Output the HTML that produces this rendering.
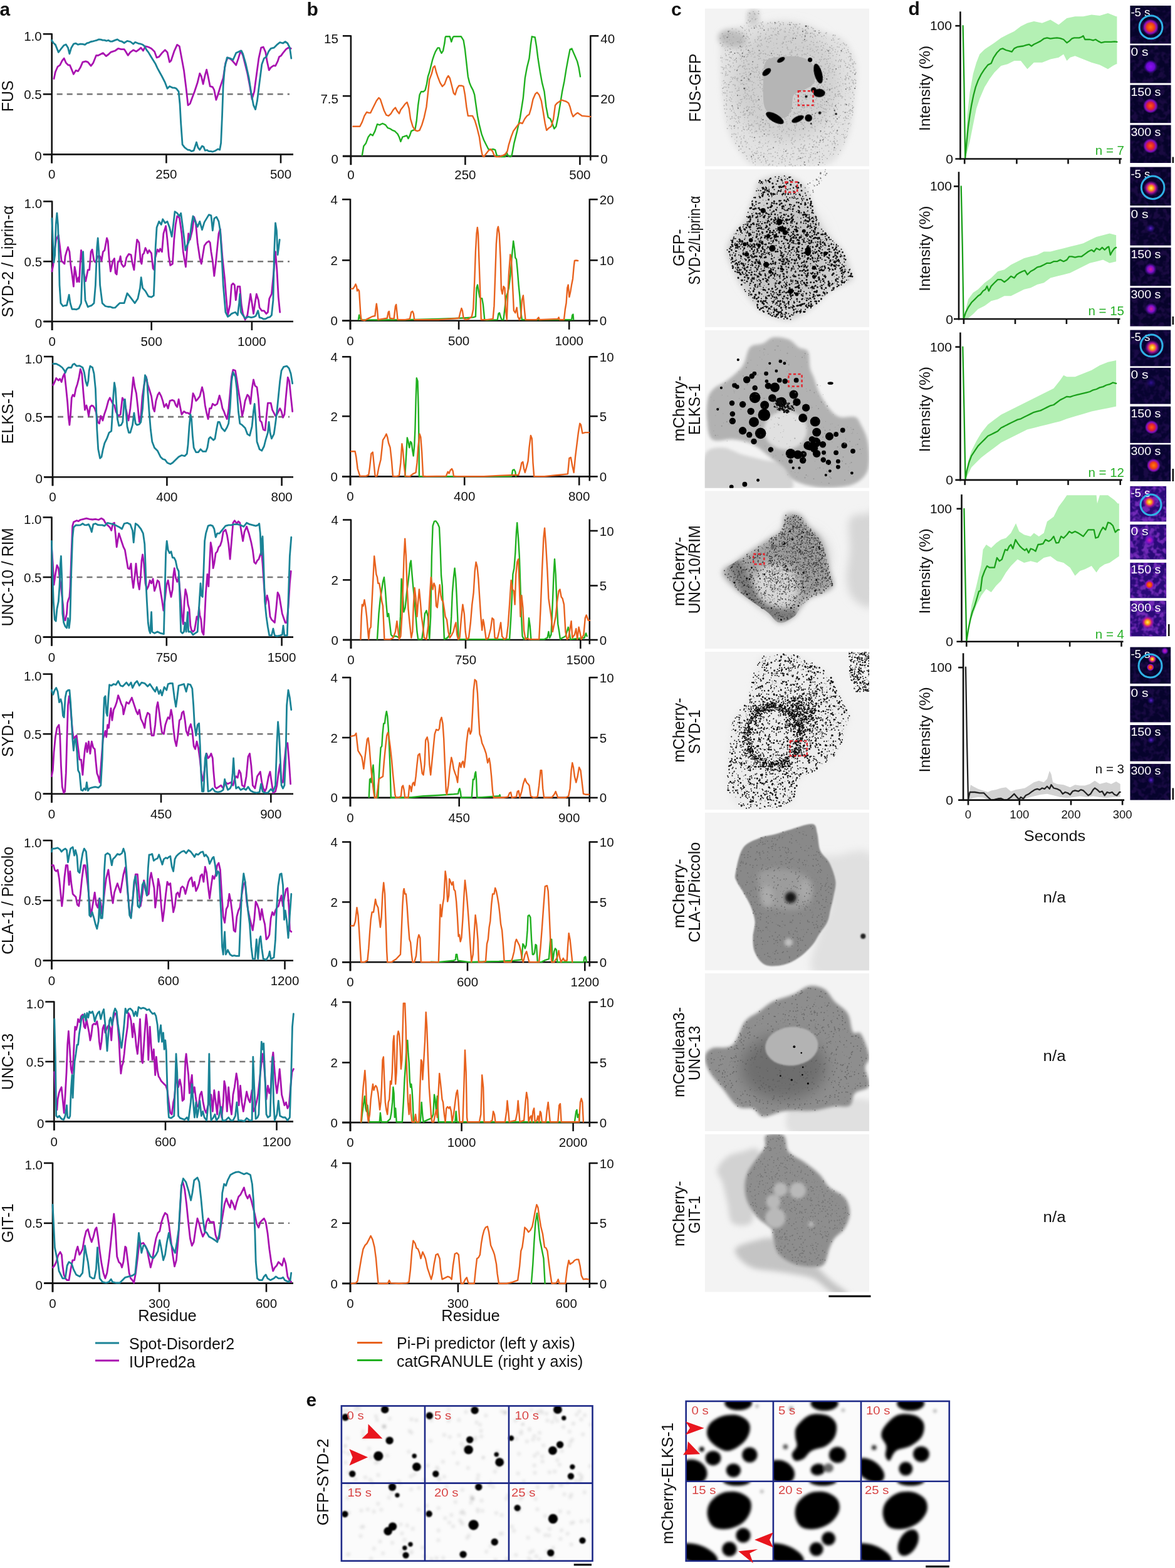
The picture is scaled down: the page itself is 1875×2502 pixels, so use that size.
<!DOCTYPE html>
<html><head><meta charset="utf-8"><title>Figure</title>
<style>html,body{margin:0;padding:0;background:#fff;overflow:hidden;} svg{display:block} text{font-family:'Liberation Sans',Arial,sans-serif}</style>
</head><body>
<svg width="1875" height="2502" viewBox="0 0 1875 2502" font-family="'Liberation Sans', Arial, sans-serif">
<rect width="1875" height="2502" fill="#fff"/>
<line x1="82.7" y1="53.3" x2="82.7" y2="260.4" stroke="#111" stroke-width="2.6"/>
<line x1="68.7" y1="54.3" x2="82.7" y2="54.3" stroke="#111" stroke-width="2.6"/>
<text x="66.7" y="64.8" font-size="20.5" text-anchor="end" fill="#111">1.0</text>
<line x1="68.7" y1="150.3" x2="82.7" y2="150.3" stroke="#111" stroke-width="2.6"/>
<text x="66.7" y="157.8" font-size="20.5" text-anchor="end" fill="#111">0.5</text>
<line x1="68.7" y1="246.4" x2="82.7" y2="246.4" stroke="#111" stroke-width="2.6"/>
<text x="66.7" y="256.4" font-size="20.5" text-anchor="end" fill="#111">0</text>
<line x1="69.7" y1="246.4" x2="468.0" y2="246.4" stroke="#111" stroke-width="2.6"/>
<line x1="82.7" y1="246.4" x2="82.7" y2="260.4" stroke="#111" stroke-width="2.6"/>
<text x="82.7" y="285.4" font-size="20.5" text-anchor="middle" fill="#111">0</text>
<line x1="265.4" y1="246.4" x2="265.4" y2="260.4" stroke="#111" stroke-width="2.6"/>
<text x="265.4" y="285.4" font-size="20.5" text-anchor="middle" fill="#111">250</text>
<line x1="448.0" y1="246.4" x2="448.0" y2="260.4" stroke="#111" stroke-width="2.6"/>
<text x="448.0" y="285.4" font-size="20.5" text-anchor="middle" fill="#111">500</text>
<line x1="90.7" y1="150.3" x2="462.0" y2="150.3" stroke="#777" stroke-width="2.6" stroke-dasharray="9,7"/>
<text x="21.0" y="153.3" font-size="25" text-anchor="middle" fill="#111" transform="rotate(-90 21.0 153.3)">FUS</text>
<polyline points="86.0,125.6 88.4,114.8 92.1,106.3 95.7,103.9 99.3,96.7 102.2,93.1 105.3,100.3 109.0,103.9 111.4,103.9 115.0,112.4 117.4,118.4 121.0,112.4 124.6,113.6 128.3,107.6 131.9,99.1 136.7,97.9 140.3,99.1 145.1,105.1 148.8,100.3 153.6,88.3 156.6,88.5 159.6,87.0 164.4,84.6 169.3,89.5 172.9,87.0 176.5,83.4 180.1,82.2 183.7,81.0 188.6,77.4 193.4,78.6 198.2,78.6 200.6,82.2 204.2,88.3 207.9,83.4 212.7,79.8 217.5,82.2 222.3,78.6 224.8,76.2 228.4,81.0 232.0,73.8 236.8,75.0 241.6,77.4 246.5,82.2 250.1,91.9 253.7,90.7 258.5,84.6 263.4,79.8 267.0,83.4 270.6,99.1 273.0,96.7 277.8,82.2 282.7,71.4 286.3,73.8 289.9,93.1 293.5,112.4 297.1,141.3 300.0,167.9 303.2,165.5 306.8,155.8 310.4,146.2 315.2,131.7 318.8,117.2 321.3,122.0 324.1,134.1 327.3,119.6 329.7,111.2 332.1,122.0 335.2,137.7 339.3,138.9 341.8,143.7 344.9,159.4 347.8,151.0 351.4,138.9 356.2,124.4 359.9,100.3 363.5,91.9 366.5,93.4 369.5,95.5 373.1,99.7 376.7,103.9 380.4,93.1 384.0,81.0 387.6,88.3 391.2,102.7 394.8,117.2 398.5,136.5 402.1,158.2 405.7,146.2 409.3,119.6 412.9,93.1 416.6,76.2 420.2,75.0 423.8,83.4 426.2,97.9 429.3,111.9 432.2,107.6 436.6,104.7 439.5,105.1 443.1,97.9 445.5,90.7 448.5,88.9 451.5,84.6 456.4,78.6 460.0,76.2 464.3,77.4" fill="none" stroke="#a912b0" stroke-width="2.8" stroke-linejoin="round" stroke-linecap="round"/>
<polyline points="82.4,64.1 85.4,68.7 88.4,71.4 93.3,83.4 96.9,78.6 101.7,72.6 105.3,70.9 108.5,76.2 110.9,85.8 113.8,76.2 117.4,70.2 121.0,69.2 124.6,71.2 128.3,70.2 131.9,70.3 135.5,71.4 138.7,68.8 141.9,68.1 145.1,66.5 148.4,65.9 151.6,65.0 154.8,64.1 157.8,62.8 160.8,63.2 163.8,64.2 166.9,64.1 169.9,65.3 172.9,64.2 175.9,66.0 178.9,66.1 183.7,64.1 187.4,62.9 191.0,65.3 194.6,66.2 198.2,68.5 203.0,65.3 207.9,66.5 212.7,70.2 215.7,67.3 218.7,68.5 221.7,69.7 224.8,70.2 227.8,71.3 230.8,73.8 233.8,79.6 236.8,83.4 240.4,89.5 244.1,95.5 247.7,101.2 251.3,108.8 254.9,115.5 258.5,122.0 263.4,131.7 267.0,141.3 270.6,137.7 275.4,140.1 278.4,140.1 281.4,141.3 285.1,146.2 287.0,165.5 288.7,196.8 291.1,230.6 294.7,235.4 299.5,239.0 302.6,239.3 305.6,241.4 309.2,240.2 311.6,233.0 313.5,227.0 315.9,235.4 318.8,239.0 322.5,233.0 324.9,234.2 327.3,240.2 330.3,239.5 333.3,241.4 336.3,241.3 339.3,242.2 344.2,240.2 347.8,237.8 350.7,239.0 352.6,228.2 354.5,184.8 356.2,136.5 358.6,107.6 362.3,91.9 367.1,93.1 371.9,95.5 376.7,84.6 381.6,82.2 385.2,81.0 387.6,85.8 392.4,102.7 397.2,124.4 400.9,148.6 404.5,167.9 407.6,174.6 410.5,160.6 414.1,131.7 417.8,102.7 421.4,93.1 425.0,90.7 428.6,82.2 432.2,77.4 437.1,76.2 441.9,71.4 446.7,67.7 451.5,69.0 455.2,66.5 458.8,69.0 462.4,76.2 464.8,93.1" fill="none" stroke="#1a8396" stroke-width="2.8" stroke-linejoin="round" stroke-linecap="round"/>
<line x1="83.1" y1="320.4" x2="83.1" y2="527.0" stroke="#111" stroke-width="2.6"/>
<line x1="69.1" y1="321.4" x2="83.1" y2="321.4" stroke="#111" stroke-width="2.6"/>
<text x="67.1" y="331.9" font-size="20.5" text-anchor="end" fill="#111">1.0</text>
<line x1="69.1" y1="417.2" x2="83.1" y2="417.2" stroke="#111" stroke-width="2.6"/>
<text x="67.1" y="424.7" font-size="20.5" text-anchor="end" fill="#111">0.5</text>
<line x1="69.1" y1="513.0" x2="83.1" y2="513.0" stroke="#111" stroke-width="2.6"/>
<text x="67.1" y="523.0" font-size="20.5" text-anchor="end" fill="#111">0</text>
<line x1="70.1" y1="513.0" x2="468.0" y2="513.0" stroke="#111" stroke-width="2.6"/>
<line x1="83.1" y1="513.0" x2="83.1" y2="527.0" stroke="#111" stroke-width="2.6"/>
<text x="83.1" y="552.0" font-size="20.5" text-anchor="middle" fill="#111">0</text>
<line x1="241.7" y1="513.0" x2="241.7" y2="527.0" stroke="#111" stroke-width="2.6"/>
<text x="241.7" y="552.0" font-size="20.5" text-anchor="middle" fill="#111">500</text>
<line x1="401.9" y1="513.0" x2="401.9" y2="527.0" stroke="#111" stroke-width="2.6"/>
<text x="401.9" y="552.0" font-size="20.5" text-anchor="middle" fill="#111">1000</text>
<line x1="91.1" y1="417.2" x2="462.0" y2="417.2" stroke="#777" stroke-width="2.6" stroke-dasharray="9,7"/>
<text x="21.0" y="417.2" font-size="25" text-anchor="middle" fill="#111" transform="rotate(-90 21.0 417.2)">SYD-2 / Liprin-α</text>
<polyline points="82.9,433.0 84.8,423.4 86.8,401.7 89.7,382.4 93.3,375.1 95.7,394.4 98.1,416.2 100.5,418.6 102.9,421.0 104.1,408.9 106.5,400.5 108.5,394.4 110.9,401.7 112.6,421.0 115.0,437.9 117.4,457.2 119.1,425.8 121.0,435.5 122.9,449.9 125.4,442.7 126.3,449.9 128.3,416.2 129.5,399.3 131.1,411.3 133.6,435.5 136.7,448.7 140.3,430.6 142.7,430.6 145.1,401.7 147.1,398.1 150.0,416.2 152.4,418.6 156.0,408.9 159.6,408.9 162.0,416.2 164.4,401.7 166.9,399.3 170.5,380.0 172.2,384.8 174.1,411.3 176.5,433.0 180.1,416.2 182.5,412.5 184.2,435.5 186.2,437.9 188.1,418.6 190.5,416.2 192.2,408.9 193.9,421.0 197.0,425.8 199.4,423.4 201.8,411.3 205.5,405.3 209.1,406.5 211.5,421.0 213.9,430.6 216.3,404.1 218.7,382.4 221.9,387.2 224.3,416.2 226.0,421.0 227.6,406.5 229.6,404.1 232.0,395.6 234.4,400.5 235.6,404.1 238.0,399.3 241.6,404.1 244.1,428.2 246.0,430.6 247.7,411.3 251.3,398.1 253.7,401.7 255.6,396.9 258.5,401.7 260.9,372.7 264.6,360.7 267.0,382.4 269.4,408.9 271.8,423.4 275.4,421.0 277.8,382.4 280.2,358.3 282.7,345.0 286.3,347.4 289.9,372.7 292.3,401.7 294.7,416.2 296.4,425.8 298.3,401.7 300.7,372.7 303.2,382.4 306.8,367.9 309.7,346.2 312.1,353.4 315.2,387.2 318.8,411.3 321.3,421.0 323.7,406.5 326.1,392.0 329.7,387.2 333.3,384.8 335.2,387.2 336.9,401.7 339.3,416.2 341.8,440.3 344.2,421.0 346.6,396.9 349.0,372.7 351.4,365.5 355.0,411.3 358.6,445.1 361.1,476.5 363.5,503.0 367.1,486.1 369.5,454.8 371.9,452.3 374.3,454.8 376.3,478.9 379.2,457.2 382.8,457.2 385.2,486.1 387.6,500.6 391.2,510.2 394.8,503.0 397.2,486.1 399.7,469.2 402.1,483.7 404.5,500.6 406.9,483.7 409.3,469.2 412.4,478.9 414.1,490.9 417.8,495.8 421.4,495.8 425.0,500.6 427.4,498.2 429.8,476.5 433.4,469.2 437.1,430.6 439.5,401.7 441.9,430.6 444.3,474.1 446.7,498.2" fill="none" stroke="#a912b0" stroke-width="2.8" stroke-linejoin="round" stroke-linecap="round"/>
<polyline points="82.9,348.6 84.3,382.4 86.0,418.6 87.7,406.5 89.2,358.3 90.9,340.2 92.5,358.3 94.0,406.5 95.0,454.8 96.9,483.7 100.5,488.5 103.5,487.5 106.5,487.3 110.2,470.4 112.1,483.7 115.0,493.4 118.6,493.4 122.2,493.8 125.8,492.1 129.5,483.7 131.1,435.5 132.6,401.7 134.0,435.5 136.0,478.9 140.3,489.7 143.3,488.3 146.3,487.3 150.0,483.7 152.4,454.8 154.8,394.4 156.2,380.0 157.7,401.7 159.6,454.8 163.2,483.7 168.1,488.5 172.3,489.5 176.5,489.7 180.1,491.1 183.7,490.9 187.4,487.3 191.0,483.7 194.6,483.7 198.2,483.7 203.0,468.0 207.9,474.1 211.5,478.9 215.1,483.7 219.9,476.5 223.5,459.6 225.2,442.7 227.6,459.6 232.0,464.4 236.8,472.8 241.6,474.1 245.3,471.6 246.5,442.7 248.2,394.4 250.1,363.1 253.7,353.4 257.3,358.3 259.7,349.8 263.4,355.8 267.0,353.4 270.6,363.1 274.2,377.6 276.6,358.3 279.0,337.7 282.7,340.2 286.3,345.0 288.7,340.2 291.1,358.3 293.5,377.6 295.9,399.3 298.3,392.0 300.7,387.2 303.2,377.6 305.6,358.3 308.0,345.0 311.6,353.4 315.2,361.9 318.8,353.4 322.5,366.7 326.1,354.6 329.7,348.6 333.3,342.6 336.9,343.8 339.3,367.9 341.8,348.6 345.4,346.2 349.0,353.4 351.4,367.9 353.8,406.5 356.2,454.8 359.9,498.2 363.5,505.4 366.5,503.5 369.5,500.6 372.5,499.3 375.5,498.2 379.2,503.0 381.6,483.7 382.8,469.2 384.5,498.2 387.6,503.0 391.2,507.8 396.0,505.4 400.9,506.6 404.5,505.9 408.1,504.2 411.7,495.8 414.1,506.6 417.2,507.3 420.2,509.0 423.8,508.9 427.4,506.6 430.4,506.0 433.4,503.0 435.9,478.9 437.5,406.5 439.5,355.8 441.4,367.9 443.1,406.5 444.8,394.4 446.2,382.4" fill="none" stroke="#1a8396" stroke-width="2.8" stroke-linejoin="round" stroke-linecap="round"/>
<line x1="84.0" y1="568.0" x2="84.0" y2="775.2" stroke="#111" stroke-width="2.6"/>
<line x1="70.0" y1="569.0" x2="84.0" y2="569.0" stroke="#111" stroke-width="2.6"/>
<text x="68.0" y="579.5" font-size="20.5" text-anchor="end" fill="#111">1.0</text>
<line x1="70.0" y1="665.1" x2="84.0" y2="665.1" stroke="#111" stroke-width="2.6"/>
<text x="68.0" y="672.6" font-size="20.5" text-anchor="end" fill="#111">0.5</text>
<line x1="70.0" y1="761.2" x2="84.0" y2="761.2" stroke="#111" stroke-width="2.6"/>
<text x="68.0" y="771.2" font-size="20.5" text-anchor="end" fill="#111">0</text>
<line x1="71.0" y1="761.2" x2="468.0" y2="761.2" stroke="#111" stroke-width="2.6"/>
<line x1="84.0" y1="761.2" x2="84.0" y2="775.2" stroke="#111" stroke-width="2.6"/>
<text x="84.0" y="800.2" font-size="20.5" text-anchor="middle" fill="#111">0</text>
<line x1="266.4" y1="761.2" x2="266.4" y2="775.2" stroke="#111" stroke-width="2.6"/>
<text x="266.4" y="800.2" font-size="20.5" text-anchor="middle" fill="#111">400</text>
<line x1="449.6" y1="761.2" x2="449.6" y2="775.2" stroke="#111" stroke-width="2.6"/>
<text x="449.6" y="800.2" font-size="20.5" text-anchor="middle" fill="#111">800</text>
<line x1="92.0" y1="665.1" x2="462.0" y2="665.1" stroke="#777" stroke-width="2.6" stroke-dasharray="9,7"/>
<text x="21.0" y="665.1" font-size="25" text-anchor="middle" fill="#111" transform="rotate(-90 21.0 665.1)">ELKS-1</text>
<polyline points="84.8,614.3 87.2,609.5 89.7,603.4 93.3,607.0 95.7,604.6 98.1,609.5 100.5,601.0 102.9,596.2 105.3,617.9 107.7,642.0 109.4,666.2 110.9,678.2 112.6,661.3 114.3,634.8 116.2,630.0 118.6,632.4 121.0,620.3 123.4,613.1 125.8,603.4 128.3,589.0 130.7,596.2 133.1,627.6 135.5,654.1 137.9,646.9 139.8,654.1 141.5,663.7 143.9,649.3 146.3,646.9 148.8,648.1 151.2,651.7 153.6,658.9 156.0,673.4 158.4,675.8 160.8,663.7 164.0,671.0 166.4,661.3 169.7,651.7 172.9,639.6 175.3,634.8 177.7,639.6 180.1,644.4 182.5,646.9 184.9,656.5 188.6,663.7 192.2,661.3 195.3,634.8 198.2,639.6 201.8,656.5 205.0,671.0 207.9,651.7 210.3,627.6 212.7,602.2 215.1,617.9 217.5,627.6 219.9,649.3 222.3,673.4 224.8,663.7 227.2,632.4 230.1,613.1 233.2,601.0 235.6,613.1 238.7,622.7 241.6,632.4 244.5,651.7 246.5,656.5 248.9,639.6 251.8,630.0 254.2,626.3 257.3,632.4 259.7,639.6 262.1,649.3 265.3,644.4 268.2,651.7 271.1,639.6 274.9,638.4 277.8,639.6 280.7,646.9 282.7,649.3 285.1,637.2 287.5,649.3 289.9,661.3 293.5,656.5 297.1,658.9 300.0,658.9 303.2,661.3 305.6,649.3 308.0,627.6 310.4,632.4 312.8,639.6 315.2,637.2 318.8,632.4 322.5,617.9 324.9,627.6 327.3,646.9 329.7,658.9 332.1,668.6 334.5,651.7 336.9,651.7 339.3,644.4 343.0,646.9 346.6,644.4 350.2,631.2 352.6,639.6 355.0,651.7 357.4,656.5 359.9,663.7 362.3,668.6 364.7,654.1 367.1,627.6 369.5,601.0 371.9,590.2 375.5,591.4 377.9,605.8 380.4,622.7 384.0,644.4 386.4,663.7 388.8,654.1 391.2,639.6 394.8,630.0 397.2,632.4 399.7,644.4 402.1,620.3 404.5,605.8 406.9,615.5 410.0,617.9 412.4,637.2 414.9,671.0 417.3,673.4 420.2,685.5 423.1,686.7 425.5,661.3 427.4,643.2 429.8,643.2 432.2,643.2 434.6,654.1 437.1,658.9 439.5,663.7 441.9,661.3 444.3,656.5 446.7,651.7 449.1,656.5 451.5,666.2 453.9,661.3 456.4,632.4 459.3,602.2 461.7,608.3 464.1,632.4 466.7,656.5" fill="none" stroke="#a912b0" stroke-width="2.8" stroke-linejoin="round" stroke-linecap="round"/>
<polyline points="84.8,580.5 89.7,580.5 94.5,582.9 99.3,586.5 102.9,591.4 104.1,595.0 106.5,589.0 109.0,586.5 113.8,586.5 116.2,581.7 118.6,580.5 122.2,584.1 127.0,583.6 131.9,586.5 134.3,593.8 136.7,608.3 139.1,615.5 140.8,608.3 142.2,591.4 143.9,584.1 147.6,586.5 150.0,596.2 152.4,620.3 153.6,651.7 154.8,685.5 156.7,716.8 159.6,731.3 162.0,728.9 164.4,716.8 166.9,707.2 170.5,699.9 174.1,690.3 177.7,687.9 178.9,668.6 180.8,632.4 182.5,610.7 184.2,620.3 185.7,644.4 187.4,668.6 189.8,679.4 193.4,678.2 195.8,673.4 198.2,639.6 199.4,637.2 200.6,651.7 203.0,680.6 205.5,690.3 207.9,690.3 211.5,678.2 213.9,658.9 216.3,675.8 218.7,678.2 222.3,677.0 224.8,673.4 227.6,651.7 229.6,620.3 231.5,598.6 234.4,605.8 236.3,632.4 238.0,656.5 240.4,685.5 242.8,704.8 246.5,714.4 251.3,719.2 256.1,728.9 259.7,732.5 263.4,733.7 267.0,738.5 271.8,740.5 275.4,738.5 280.2,733.7 285.1,728.9 289.9,726.5 294.7,727.7 298.3,724.1 300.0,709.6 302.0,680.6 303.9,661.3 305.6,668.6 307.3,695.1 309.2,714.4 312.8,721.6 316.4,721.6 320.0,716.8 323.7,720.4 328.5,720.4 330.9,714.4 333.3,699.9 335.7,697.5 340.6,702.3 343.0,699.9 345.4,685.5 347.8,673.4 350.2,673.4 353.8,683.0 358.6,687.9 362.3,681.8 364.7,675.8 367.1,651.7 369.5,608.3 371.9,593.8 375.5,601.0 377.9,620.3 380.4,656.5 382.8,675.8 386.4,678.2 391.2,683.0 394.8,692.7 398.5,695.1 402.1,680.6 404.5,656.5 406.2,644.4 408.1,668.6 410.0,704.8 414.1,716.8 417.8,719.2 421.4,712.0 423.8,702.3 427.4,690.3 429.1,673.4 431.0,690.3 433.4,699.9 437.1,692.7 439.5,675.8 441.9,656.5 444.3,632.4 446.7,608.3 449.1,591.4 452.7,585.3 457.6,584.1 461.2,587.7 464.1,596.2 466.7,611.9" fill="none" stroke="#1a8396" stroke-width="2.8" stroke-linejoin="round" stroke-linecap="round"/>
<line x1="82.5" y1="824.5" x2="82.5" y2="1030.6" stroke="#111" stroke-width="2.6"/>
<line x1="68.5" y1="825.5" x2="82.5" y2="825.5" stroke="#111" stroke-width="2.6"/>
<text x="66.5" y="836.0" font-size="20.5" text-anchor="end" fill="#111">1.0</text>
<line x1="68.5" y1="921.0" x2="82.5" y2="921.0" stroke="#111" stroke-width="2.6"/>
<text x="66.5" y="928.5" font-size="20.5" text-anchor="end" fill="#111">0.5</text>
<line x1="68.5" y1="1016.6" x2="82.5" y2="1016.6" stroke="#111" stroke-width="2.6"/>
<text x="66.5" y="1026.6" font-size="20.5" text-anchor="end" fill="#111">0</text>
<line x1="69.5" y1="1016.6" x2="468.0" y2="1016.6" stroke="#111" stroke-width="2.6"/>
<line x1="82.5" y1="1016.6" x2="82.5" y2="1030.6" stroke="#111" stroke-width="2.6"/>
<text x="82.5" y="1055.6" font-size="20.5" text-anchor="middle" fill="#111">0</text>
<line x1="265.8" y1="1016.6" x2="265.8" y2="1030.6" stroke="#111" stroke-width="2.6"/>
<text x="265.8" y="1055.6" font-size="20.5" text-anchor="middle" fill="#111">750</text>
<line x1="449.6" y1="1016.6" x2="449.6" y2="1030.6" stroke="#111" stroke-width="2.6"/>
<text x="449.6" y="1055.6" font-size="20.5" text-anchor="middle" fill="#111">1500</text>
<line x1="90.5" y1="921.0" x2="462.0" y2="921.0" stroke="#777" stroke-width="2.6" stroke-dasharray="9,7"/>
<text x="21.0" y="921.0" font-size="25" text-anchor="middle" fill="#111" transform="rotate(-90 21.0 921.0)">UNC-10 / RIM</text>
<polyline points="82.4,872.9 84.3,899.4 86.0,933.2 88.4,916.3 90.9,901.9 93.3,906.7 95.0,921.2 96.9,930.8 98.8,950.1 100.5,964.6 102.2,988.7 104.1,989.9 106.5,979.1 107.7,962.2 109.0,957.3 110.9,952.5 112.1,935.6 113.8,887.4 115.7,839.1 117.4,833.1 122.2,830.7 125.2,831.7 128.3,829.5 133.1,828.3 137.9,827.1 142.7,828.3 147.6,829.0 152.4,828.3 157.2,829.5 162.0,827.1 165.6,829.5 168.1,834.3 171.7,837.9 175.3,841.5 177.7,846.4 180.1,835.5 182.5,834.3 184.2,851.2 186.2,872.9 188.1,860.8 189.8,851.2 192.2,858.4 194.6,865.7 197.0,872.9 199.4,877.7 201.8,892.2 204.2,906.7 206.7,907.9 209.1,899.4 210.8,923.6 212.7,938.0 215.1,918.7 217.0,899.4 218.7,916.3 220.4,930.8 222.3,940.5 224.3,921.2 226.0,894.6 227.6,885.0 229.6,899.4 232.0,930.8 234.4,940.5 236.8,935.6 239.2,926.0 241.6,930.8 244.1,923.6 246.5,942.9 248.9,935.6 251.3,926.0 253.7,928.4 256.1,942.9 258.5,957.3 260.9,974.2 263.4,954.9 265.8,933.2 268.2,926.0 270.6,940.5 273.0,952.5 275.4,940.5 276.6,918.7 278.3,906.7 280.2,921.2 282.7,928.4 285.1,921.2 287.0,940.5 288.7,959.8 290.4,983.9 292.3,995.9 294.2,959.8 295.9,940.5 298.3,950.1 300.0,964.6 302.0,971.8 303.9,998.4 305.6,1005.6 308.0,1008.0 310.4,1005.6 312.1,995.9 314.0,983.9 315.9,988.7 317.6,969.4 318.8,981.5 320.8,988.7 322.5,1008.0 324.9,1012.8 326.6,983.9 328.5,945.3 330.9,916.3 332.8,935.6 334.5,899.4 336.2,865.7 338.1,875.3 340.1,906.7 341.8,899.4 344.2,882.6 346.6,880.1 349.0,872.9 351.4,870.5 353.8,863.3 356.2,848.8 359.9,845.2 362.3,853.6 364.7,868.1 367.1,892.2 369.5,863.3 371.9,834.3 374.3,830.7 377.9,835.5 380.4,831.9 382.8,834.3 385.2,848.8 387.6,863.3 390.0,848.8 393.6,840.3 397.2,851.2 400.9,865.7 403.3,877.7 405.7,897.0 408.1,899.4 410.5,894.6 412.9,892.2 415.3,885.0 417.3,880.1 419.0,899.4 421.4,935.6 423.8,964.6 426.2,950.1 428.6,959.8 431.0,983.9 433.4,988.7 435.9,991.1 438.3,993.5 440.7,971.8 443.1,945.3 445.5,950.1 447.9,964.6 450.3,979.1 452.7,986.3 455.2,993.5 457.6,993.5 460.0,969.4 462.4,930.8 464.3,911.5" fill="none" stroke="#a912b0" stroke-width="2.8" stroke-linejoin="round" stroke-linecap="round"/>
<polyline points="82.4,863.3 83.6,911.5 85.3,959.8 87.2,988.7 89.2,991.1 90.9,971.8 93.3,959.8 95.0,935.6 96.4,899.4 97.4,887.4 98.8,923.6 99.8,979.1 101.7,993.5 104.1,999.6 106.5,1002.0 108.5,986.3 110.2,1002.0 111.8,988.7 113.8,911.5 115.7,858.4 117.4,841.5 121.0,837.9 124.6,838.1 128.3,837.9 131.9,835.5 134.9,837.6 137.9,837.9 141.5,836.7 143.9,841.5 146.3,848.8 148.8,836.7 152.4,835.5 156.0,837.5 159.6,837.9 163.2,837.9 166.9,839.1 171.7,834.3 176.5,835.5 181.3,836.7 186.2,839.1 191.0,841.5 194.6,844.0 198.2,835.5 203.0,834.3 207.9,836.7 211.5,846.4 213.2,865.7 214.6,851.2 216.3,835.5 219.9,837.9 224.8,844.0 228.4,851.2 230.8,868.1 232.0,899.4 233.2,935.6 234.4,959.8 236.3,993.5 238.0,1005.6 239.7,1010.4 241.6,976.6 242.8,1008.0 246.5,1010.4 251.3,1008.0 256.1,1010.4 261.4,1011.6 262.9,950.1 264.6,882.6 266.2,863.3 268.2,877.7 270.6,882.6 273.0,880.1 275.4,889.8 277.8,889.8 280.2,894.6 282.7,906.7 285.1,911.5 286.3,935.6 287.5,969.4 288.7,1008.0 291.1,1010.4 293.5,1008.0 295.2,993.5 297.1,1008.0 299.5,976.6 300.7,1008.0 304.4,1008.0 308.0,1012.8 311.6,1010.4 315.2,1008.0 317.6,969.4 320.0,930.8 321.3,950.1 323.2,952.5 324.9,911.5 326.6,863.3 328.5,851.2 332.1,839.1 335.7,837.9 339.3,839.1 341.8,844.0 344.2,857.2 346.6,851.2 350.2,851.2 355.0,845.2 359.9,839.1 364.7,837.9 369.5,837.9 373.1,836.7 376.1,836.6 379.2,836.7 384.0,837.9 388.8,840.3 393.6,834.3 398.5,836.7 403.3,837.9 408.1,839.1 411.7,837.9 413.7,835.5 415.3,851.2 416.6,885.0 417.8,863.3 419.0,856.0 420.2,887.4 422.6,959.8 425.0,983.9 427.4,1000.8 429.8,1014.0 433.4,1014.0 435.9,1003.2 438.3,1014.0 441.9,1015.2 446.7,1014.0 450.3,1012.8 452.0,998.4 453.9,1014.0 458.3,1014.0 460.0,959.8 462.4,887.4 464.8,857.2" fill="none" stroke="#1a8396" stroke-width="2.8" stroke-linejoin="round" stroke-linecap="round"/>
<line x1="82.5" y1="1074.6" x2="82.5" y2="1280.7" stroke="#111" stroke-width="2.6"/>
<line x1="68.5" y1="1075.6" x2="82.5" y2="1075.6" stroke="#111" stroke-width="2.6"/>
<text x="66.5" y="1086.1" font-size="20.5" text-anchor="end" fill="#111">1.0</text>
<line x1="68.5" y1="1171.2" x2="82.5" y2="1171.2" stroke="#111" stroke-width="2.6"/>
<text x="66.5" y="1178.7" font-size="20.5" text-anchor="end" fill="#111">0.5</text>
<line x1="68.5" y1="1266.7" x2="82.5" y2="1266.7" stroke="#111" stroke-width="2.6"/>
<text x="66.5" y="1276.7" font-size="20.5" text-anchor="end" fill="#111">0</text>
<line x1="69.5" y1="1266.7" x2="468.0" y2="1266.7" stroke="#111" stroke-width="2.6"/>
<line x1="82.5" y1="1266.7" x2="82.5" y2="1280.7" stroke="#111" stroke-width="2.6"/>
<text x="82.5" y="1305.7" font-size="20.5" text-anchor="middle" fill="#111">0</text>
<line x1="257.0" y1="1266.7" x2="257.0" y2="1280.7" stroke="#111" stroke-width="2.6"/>
<text x="257.0" y="1305.7" font-size="20.5" text-anchor="middle" fill="#111">450</text>
<line x1="432.3" y1="1266.7" x2="432.3" y2="1280.7" stroke="#111" stroke-width="2.6"/>
<text x="432.3" y="1305.7" font-size="20.5" text-anchor="middle" fill="#111">900</text>
<line x1="90.5" y1="1171.2" x2="462.0" y2="1171.2" stroke="#777" stroke-width="2.6" stroke-dasharray="9,7"/>
<text x="21.0" y="1171.2" font-size="25" text-anchor="middle" fill="#111" transform="rotate(-90 21.0 1171.2)">SYD-1</text>
<polyline points="82.4,1238.7 84.3,1229.1 86.0,1200.1 88.4,1176.0 90.9,1161.5 94.0,1156.7 95.7,1173.6 97.4,1221.8 99.3,1255.6 101.7,1265.2 103.6,1262.8 105.3,1233.9 107.0,1173.6 108.5,1125.3 110.2,1110.8 112.1,1122.9 113.8,1144.6 115.7,1166.3 117.4,1178.4 119.8,1176.0 122.2,1173.6 124.6,1192.9 127.0,1212.2 129.5,1212.2 131.9,1236.3 133.6,1214.6 135.5,1195.3 137.4,1185.6 139.1,1200.1 141.5,1183.2 143.9,1202.5 146.3,1183.2 148.8,1192.9 151.2,1195.3 152.9,1214.6 154.8,1233.9 156.7,1238.7 159.1,1248.4 162.0,1209.8 164.4,1178.4 166.4,1173.6 168.1,1166.3 169.7,1176.0 171.7,1156.7 173.6,1161.5 175.3,1142.2 177.0,1130.1 178.9,1149.4 181.3,1132.6 183.7,1127.7 186.2,1120.5 188.6,1109.6 191.0,1115.7 193.4,1122.9 195.8,1127.7 197.0,1139.8 199.4,1130.1 201.8,1120.5 205.5,1122.9 207.9,1118.1 210.3,1113.3 212.7,1120.5 215.1,1127.7 217.5,1135.0 219.9,1139.8 222.3,1132.6 224.8,1147.0 228.4,1154.3 230.8,1161.5 232.5,1147.0 235.6,1137.4 238.7,1139.8 240.4,1161.5 242.1,1173.6 245.3,1173.6 247.7,1156.7 250.1,1127.7 251.8,1120.5 254.2,1137.4 256.6,1156.7 258.5,1168.7 261.4,1171.2 263.8,1156.7 266.2,1149.4 268.2,1144.6 270.6,1147.0 273.0,1132.6 274.9,1142.2 276.6,1161.5 279.0,1180.8 281.4,1190.5 283.9,1173.6 286.3,1149.4 288.7,1147.0 290.4,1137.4 292.8,1135.0 295.2,1149.4 297.1,1166.3 300.0,1173.6 302.0,1161.5 304.4,1155.5 306.8,1166.3 309.2,1190.5 311.6,1195.3 314.0,1183.2 316.4,1192.9 318.8,1209.8 321.3,1233.9 323.2,1245.9 324.9,1238.7 327.3,1221.8 329.7,1202.5 332.1,1209.8 334.5,1207.3 336.9,1202.5 339.3,1209.8 340.6,1229.1 343.0,1255.6 345.4,1258.0 349.0,1255.6 352.6,1253.2 356.2,1258.0 359.9,1248.4 363.5,1250.8 368.3,1248.4 371.9,1253.2 374.3,1243.5 376.7,1238.7 379.2,1241.1 381.6,1229.1 384.0,1233.9 386.4,1253.2 390.0,1255.6 393.1,1238.7 396.0,1207.3 398.5,1202.5 400.9,1221.8 403.3,1253.2 406.9,1258.0 410.5,1238.7 415.3,1231.5 417.8,1248.4 420.2,1258.0 422.6,1262.8 425.0,1258.0 428.6,1238.7 431.0,1231.5 433.4,1248.4 435.9,1265.2 439.5,1262.8 441.9,1253.2 444.3,1233.9 446.7,1219.4 449.1,1248.4 451.5,1248.4 453.9,1214.6 456.4,1190.5 458.8,1185.6 461.2,1214.6 463.6,1250.8" fill="none" stroke="#a912b0" stroke-width="2.8" stroke-linejoin="round" stroke-linecap="round"/>
<polyline points="82.4,1101.2 84.8,1108.4 87.2,1101.2 89.7,1097.6 92.1,1103.6 94.5,1120.5 96.9,1115.7 98.8,1122.9 100.5,1142.2 102.2,1144.6 104.1,1113.3 106.1,1103.6 109.0,1101.2 110.9,1101.2 112.6,1120.5 114.3,1149.4 115.7,1178.4 117.4,1197.7 119.1,1180.8 121.0,1178.4 122.9,1200.1 124.6,1229.1 127.0,1233.9 128.3,1248.4 129.5,1260.4 131.9,1261.6 134.3,1258.0 136.7,1260.4 138.4,1248.4 140.3,1261.6 142.7,1258.0 146.3,1256.8 149.4,1256.0 152.4,1255.6 157.2,1256.8 160.8,1253.2 163.2,1209.8 164.9,1149.4 166.4,1113.3 168.1,1110.8 169.7,1137.4 171.2,1142.2 172.9,1113.3 174.6,1092.7 177.7,1094.0 181.3,1091.5 184.9,1092.7 188.6,1086.7 192.2,1094.0 195.8,1095.2 199.4,1091.5 201.8,1089.1 205.5,1094.0 209.1,1089.1 211.5,1097.6 215.1,1090.3 218.7,1086.7 222.3,1094.0 226.0,1089.1 230.8,1090.3 235.6,1095.2 239.2,1091.5 244.1,1098.8 247.7,1103.6 250.1,1096.4 253.7,1107.2 256.1,1101.2 258.5,1109.6 262.1,1096.4 265.8,1101.2 268.2,1091.5 271.8,1090.3 275.4,1090.3 278.3,1113.3 280.7,1127.7 282.7,1113.3 285.1,1094.0 289.9,1092.7 293.5,1091.5 297.1,1103.6 300.0,1091.5 303.9,1092.7 306.8,1098.8 308.7,1125.3 310.4,1156.7 312.8,1173.6 315.2,1156.7 317.6,1154.3 319.3,1190.5 320.8,1233.9 322.5,1262.8 324.9,1262.8 327.3,1209.8 329.0,1202.5 330.4,1233.9 332.1,1262.8 335.7,1261.6 339.3,1258.0 343.0,1262.8 347.8,1264.0 352.6,1262.8 356.2,1260.4 358.6,1243.5 361.1,1253.2 363.5,1260.4 367.1,1258.0 369.5,1253.2 371.2,1233.9 372.6,1209.8 374.3,1238.7 376.7,1258.0 380.4,1255.6 384.0,1260.4 388.8,1258.0 392.4,1260.4 396.0,1255.6 399.7,1261.6 404.5,1264.0 409.3,1265.2 414.1,1264.0 416.6,1250.8 419.0,1262.8 422.6,1265.2 427.4,1265.2 432.2,1259.2 435.9,1262.8 439.5,1253.2 441.9,1185.6 443.6,1151.9 445.5,1173.6 447.2,1209.8 449.1,1253.2 451.5,1258.0 453.9,1253.2 455.9,1209.8 457.6,1125.3 460.0,1101.2 462.4,1113.3 464.8,1132.6" fill="none" stroke="#1a8396" stroke-width="2.8" stroke-linejoin="round" stroke-linecap="round"/>
<line x1="82.5" y1="1340.1" x2="82.5" y2="1546.8" stroke="#111" stroke-width="2.6"/>
<line x1="68.5" y1="1341.1" x2="82.5" y2="1341.1" stroke="#111" stroke-width="2.6"/>
<text x="66.5" y="1351.6" font-size="20.5" text-anchor="end" fill="#111">1.0</text>
<line x1="68.5" y1="1436.9" x2="82.5" y2="1436.9" stroke="#111" stroke-width="2.6"/>
<text x="66.5" y="1444.4" font-size="20.5" text-anchor="end" fill="#111">0.5</text>
<line x1="68.5" y1="1532.8" x2="82.5" y2="1532.8" stroke="#111" stroke-width="2.6"/>
<text x="66.5" y="1542.8" font-size="20.5" text-anchor="end" fill="#111">0</text>
<line x1="69.5" y1="1532.8" x2="468.0" y2="1532.8" stroke="#111" stroke-width="2.6"/>
<line x1="82.5" y1="1532.8" x2="82.5" y2="1546.8" stroke="#111" stroke-width="2.6"/>
<text x="82.5" y="1571.8" font-size="20.5" text-anchor="middle" fill="#111">0</text>
<line x1="268.7" y1="1532.8" x2="268.7" y2="1546.8" stroke="#111" stroke-width="2.6"/>
<text x="268.7" y="1571.8" font-size="20.5" text-anchor="middle" fill="#111">600</text>
<line x1="454.5" y1="1532.8" x2="454.5" y2="1546.8" stroke="#111" stroke-width="2.6"/>
<text x="454.5" y="1571.8" font-size="20.5" text-anchor="middle" fill="#111">1200</text>
<line x1="90.5" y1="1436.9" x2="462.0" y2="1436.9" stroke="#777" stroke-width="2.6" stroke-dasharray="9,7"/>
<text x="21.0" y="1436.9" font-size="25" text-anchor="middle" fill="#111" transform="rotate(-90 21.0 1436.9)">CLA-1 / Piccolo</text>
<polyline points="82.9,1380.7 85.3,1380.7 87.2,1387.9 89.7,1390.3 92.1,1387.9 94.5,1402.4 96.9,1426.5 98.8,1445.8 100.5,1431.3 102.9,1400.0 105.3,1380.7 107.7,1380.7 110.2,1412.0 111.8,1390.3 113.8,1409.6 116.2,1426.5 118.6,1428.9 121.0,1431.3 123.4,1443.4 125.8,1445.8 128.3,1426.5 130.7,1402.4 133.6,1380.7 136.0,1380.7 137.9,1395.1 140.3,1414.4 142.7,1438.6 145.1,1462.7 148.0,1443.4 151.2,1424.1 153.6,1443.4 156.0,1448.2 158.4,1433.7 160.8,1441.0 162.5,1457.9 164.9,1441.0 166.9,1421.7 169.3,1402.4 172.9,1387.9 175.3,1407.2 177.7,1426.5 180.1,1441.0 182.5,1424.1 184.9,1416.9 187.4,1409.6 189.8,1416.9 192.2,1424.1 194.6,1409.6 197.0,1395.1 199.9,1384.3 201.8,1402.4 204.2,1428.9 206.7,1455.5 209.1,1462.7 211.5,1438.6 213.9,1414.4 216.3,1395.1 219.4,1395.1 221.9,1426.5 224.3,1445.8 227.2,1426.5 229.6,1404.8 232.0,1414.4 234.4,1428.9 237.3,1426.5 239.2,1402.4 241.2,1392.7 243.6,1404.8 246.0,1416.9 247.7,1448.2 250.1,1431.3 252.5,1402.4 254.9,1414.4 257.3,1445.8 259.7,1469.9 262.1,1450.6 264.6,1426.5 267.0,1407.2 269.4,1412.0 271.8,1409.6 274.2,1433.7 276.6,1455.5 279.0,1445.8 281.4,1426.5 283.9,1424.1 286.3,1431.3 288.7,1416.9 291.1,1414.4 293.5,1416.9 295.9,1426.5 298.3,1416.9 300.7,1407.2 303.2,1402.4 305.6,1400.0 308.0,1414.4 310.4,1407.2 312.8,1421.7 315.2,1416.9 317.6,1409.6 320.0,1397.6 322.5,1395.1 324.9,1407.2 327.3,1383.1 329.7,1392.7 332.1,1414.4 334.5,1433.7 336.9,1414.4 339.3,1397.6 341.8,1402.4 344.2,1395.1 346.6,1380.7 349.0,1377.0 351.4,1387.9 353.8,1426.5 356.2,1462.7 358.6,1472.3 361.1,1450.6 363.5,1445.8 365.9,1426.5 368.3,1438.6 370.7,1457.9 373.1,1484.4 375.5,1486.8 377.9,1462.7 380.4,1453.0 382.8,1448.2 385.2,1431.3 388.3,1412.0 391.2,1407.2 393.6,1438.6 396.0,1453.0 398.5,1465.1 400.9,1474.8 403.3,1484.4 405.7,1467.5 408.1,1438.6 410.5,1443.4 412.9,1450.6 415.3,1467.5 417.8,1450.6 420.2,1465.1 422.6,1474.8 425.0,1498.9 427.4,1496.5 429.8,1491.6 432.2,1465.1 434.6,1455.5 437.1,1460.3 439.5,1453.0 441.9,1448.2 444.3,1445.8 446.7,1436.2 449.1,1428.9 451.5,1445.8 453.9,1431.3 456.4,1419.3 458.8,1416.9 461.2,1450.6 462.4,1484.4 464.8,1486.8" fill="none" stroke="#a912b0" stroke-width="2.8" stroke-linejoin="round" stroke-linecap="round"/>
<polyline points="82.4,1359.0 83.6,1354.1 87.2,1354.1 92.1,1352.9 95.7,1355.3 98.1,1359.0 100.5,1356.5 104.1,1354.1 106.5,1356.5 108.5,1375.8 110.2,1366.2 112.6,1354.1 116.2,1351.7 118.6,1365.0 120.5,1356.5 122.9,1366.2 124.6,1390.3 127.0,1392.7 129.5,1375.8 131.9,1361.4 134.3,1354.1 137.4,1359.0 139.8,1385.5 141.5,1426.5 142.7,1460.3 144.7,1462.7 147.1,1455.5 150.0,1465.1 152.4,1474.8 154.8,1482.0 157.2,1469.9 159.1,1433.7 160.8,1465.1 163.2,1465.1 164.9,1443.4 166.4,1390.3 168.1,1363.8 171.7,1361.4 175.3,1363.8 177.0,1373.4 178.4,1380.7 180.1,1371.0 183.7,1367.4 187.4,1362.6 191.0,1363.8 194.6,1361.4 197.0,1354.1 199.4,1361.4 201.8,1390.3 204.2,1426.5 206.7,1460.3 209.1,1465.1 211.5,1438.6 213.9,1407.2 216.3,1397.6 218.7,1421.7 219.9,1445.8 222.3,1448.2 224.8,1436.2 227.2,1412.0 229.6,1407.2 232.0,1419.3 234.4,1428.9 236.3,1385.5 238.0,1363.8 240.4,1363.8 242.8,1362.6 245.3,1373.4 248.4,1371.0 251.3,1369.8 253.7,1363.8 256.6,1372.2 259.0,1379.5 261.4,1371.0 264.6,1368.6 267.0,1369.8 269.4,1367.4 271.8,1366.2 274.2,1383.1 276.6,1390.3 279.0,1371.0 281.4,1366.2 285.1,1362.6 289.9,1359.0 293.5,1357.7 297.1,1361.4 300.7,1356.5 304.4,1359.0 308.0,1363.8 310.4,1367.4 312.8,1362.6 316.4,1363.8 320.0,1360.2 323.7,1359.0 326.1,1366.2 328.5,1363.8 332.1,1368.6 334.5,1378.3 336.9,1373.4 339.3,1368.6 341.0,1367.4 343.4,1380.7 345.4,1397.6 347.8,1390.3 349.7,1392.7 351.4,1431.3 353.1,1462.7 354.5,1510.9 356.2,1523.0 358.6,1486.8 360.3,1523.0 363.5,1515.8 367.1,1523.0 370.7,1525.4 373.7,1524.7 376.7,1525.4 381.6,1525.4 383.5,1474.8 385.9,1421.7 388.8,1393.9 391.2,1407.2 393.6,1431.3 396.0,1455.5 398.5,1474.8 400.9,1510.9 403.3,1530.2 406.9,1530.2 409.3,1498.9 411.7,1530.2 414.1,1498.9 415.8,1494.1 417.8,1513.4 420.2,1530.2 425.0,1531.4 428.6,1525.4 430.3,1518.2 432.2,1530.2 437.1,1527.8 439.5,1498.9 441.4,1450.6 443.8,1414.4 446.7,1395.1 449.1,1393.9 451.5,1412.0 453.5,1467.5 455.2,1453.0 457.6,1469.9 460.0,1496.5 462.4,1460.3 464.8,1426.5" fill="none" stroke="#1a8396" stroke-width="2.8" stroke-linejoin="round" stroke-linecap="round"/>
<line x1="86.3" y1="1597.5" x2="86.3" y2="1803.6" stroke="#111" stroke-width="2.6"/>
<line x1="72.3" y1="1598.5" x2="86.3" y2="1598.5" stroke="#111" stroke-width="2.6"/>
<text x="70.3" y="1609.0" font-size="20.5" text-anchor="end" fill="#111">1.0</text>
<line x1="72.3" y1="1694.0" x2="86.3" y2="1694.0" stroke="#111" stroke-width="2.6"/>
<text x="70.3" y="1701.5" font-size="20.5" text-anchor="end" fill="#111">0.5</text>
<line x1="72.3" y1="1789.6" x2="86.3" y2="1789.6" stroke="#111" stroke-width="2.6"/>
<text x="70.3" y="1799.6" font-size="20.5" text-anchor="end" fill="#111">0</text>
<line x1="73.3" y1="1789.6" x2="468.0" y2="1789.6" stroke="#111" stroke-width="2.6"/>
<line x1="86.3" y1="1789.6" x2="86.3" y2="1803.6" stroke="#111" stroke-width="2.6"/>
<text x="86.3" y="1828.6" font-size="20.5" text-anchor="middle" fill="#111">0</text>
<line x1="264.0" y1="1789.6" x2="264.0" y2="1803.6" stroke="#111" stroke-width="2.6"/>
<text x="264.0" y="1828.6" font-size="20.5" text-anchor="middle" fill="#111">600</text>
<line x1="441.5" y1="1789.6" x2="441.5" y2="1803.6" stroke="#111" stroke-width="2.6"/>
<text x="441.5" y="1828.6" font-size="20.5" text-anchor="middle" fill="#111">1200</text>
<line x1="94.3" y1="1694.0" x2="462.0" y2="1694.0" stroke="#777" stroke-width="2.6" stroke-dasharray="9,7"/>
<text x="21.0" y="1694.0" font-size="25" text-anchor="middle" fill="#111" transform="rotate(-90 21.0 1694.0)">UNC-13</text>
<polyline points="86.8,1710.6 89.2,1758.9 90.9,1770.9 92.1,1754.1 94.0,1744.4 95.7,1739.6 98.1,1734.8 100.5,1758.9 102.2,1775.8 104.1,1746.8 106.1,1710.6 107.7,1667.2 109.4,1645.5 111.4,1674.4 113.3,1705.8 115.0,1713.0 116.7,1696.2 118.6,1657.6 119.8,1638.3 121.5,1643.1 123.4,1635.8 124.6,1626.2 127.0,1631.0 129.5,1621.4 131.9,1619.0 134.3,1638.3 136.0,1640.7 137.9,1626.2 140.3,1638.3 142.2,1647.9 143.9,1660.0 145.6,1652.7 147.6,1635.8 150.0,1633.4 152.4,1634.6 154.8,1629.8 156.7,1640.7 158.4,1662.4 160.1,1674.4 162.0,1662.4 164.0,1640.7 165.9,1635.8 167.8,1647.9 169.7,1643.1 171.7,1638.3 173.6,1635.8 176.0,1640.7 177.7,1660.0 179.4,1633.4 181.3,1623.8 183.3,1616.5 185.7,1619.0 188.1,1638.3 190.0,1662.4 191.5,1693.7 192.9,1713.0 194.6,1701.0 196.3,1696.2 198.2,1681.7 200.1,1662.4 201.8,1650.3 203.5,1638.3 205.0,1616.5 207.4,1621.4 209.1,1628.6 211.5,1655.1 213.2,1633.4 215.6,1650.3 217.5,1669.6 219.4,1681.7 221.1,1662.4 223.5,1626.2 226.0,1691.3 227.6,1696.2 229.1,1674.4 230.8,1650.3 233.2,1619.0 234.9,1633.4 236.8,1691.3 239.2,1638.3 241.2,1669.6 243.1,1691.3 245.3,1674.4 247.7,1715.5 249.4,1686.5 251.3,1708.2 253.2,1717.9 254.9,1720.3 257.3,1725.1 259.7,1727.5 262.1,1729.9 264.6,1732.3 267.0,1739.6 269.4,1758.9 271.8,1775.8 274.2,1778.2 276.6,1758.9 278.3,1751.6 280.2,1729.9 282.2,1717.9 284.6,1734.8 287.0,1722.7 289.4,1734.8 291.1,1756.5 293.5,1754.1 295.9,1691.3 297.1,1681.7 299.1,1701.0 300.7,1715.5 302.4,1744.4 304.4,1727.5 306.3,1715.5 308.0,1744.4 310.4,1734.8 312.1,1749.2 314.5,1766.1 316.9,1763.7 319.3,1746.8 321.7,1742.0 324.1,1758.9 326.6,1770.9 329.0,1775.8 332.1,1763.7 334.5,1756.5 336.9,1746.8 339.3,1773.4 341.8,1739.6 344.2,1758.9 346.6,1778.2 349.0,1742.0 351.4,1766.1 353.8,1783.0 356.2,1758.9 357.9,1725.1 359.9,1734.8 362.3,1773.4 364.7,1734.8 366.6,1758.9 369.5,1778.2 371.9,1746.8 374.3,1734.8 377.2,1713.0 379.2,1725.1 381.1,1763.7 383.5,1732.3 385.9,1758.9 388.3,1773.4 391.2,1756.5 393.6,1742.0 396.5,1754.1 398.9,1758.9 402.1,1739.6 404.5,1773.4 406.9,1768.5 409.3,1758.9 411.7,1746.8 414.1,1725.1 416.6,1701.0 419.0,1681.7 420.7,1691.3 422.6,1715.5 425.0,1754.1 427.4,1732.3 429.8,1744.4 432.2,1734.8 434.2,1691.3 435.9,1679.3 438.3,1710.6 440.0,1729.9 441.9,1744.4 444.3,1725.1 446.2,1705.8 447.9,1725.1 449.6,1746.8 451.5,1754.1 453.9,1763.7 456.4,1758.9 458.8,1768.5 461.2,1763.7 463.6,1734.8 466.0,1710.6 468.4,1705.8" fill="none" stroke="#a912b0" stroke-width="2.8" stroke-linejoin="round" stroke-linecap="round"/>
<polyline points="86.8,1626.2 88.4,1686.5 89.7,1780.6 92.1,1783.0 94.5,1780.6 98.1,1785.4 101.7,1786.6 104.1,1780.6 106.5,1763.7 107.7,1783.0 110.2,1784.2 111.8,1780.6 113.3,1739.6 115.0,1715.5 116.2,1751.6 117.4,1722.7 119.1,1693.7 121.0,1681.7 122.9,1667.2 124.6,1667.2 126.3,1650.3 127.8,1640.7 129.5,1628.6 131.1,1621.4 133.1,1623.8 135.0,1617.7 136.9,1628.6 138.9,1616.5 140.8,1623.8 142.7,1614.1 145.1,1616.5 147.6,1614.1 149.5,1620.2 151.2,1629.8 153.6,1621.4 156.0,1616.5 158.4,1614.1 160.8,1626.2 163.2,1616.5 165.6,1610.5 167.3,1628.6 169.3,1650.3 171.0,1676.9 172.9,1650.3 174.6,1628.6 176.5,1623.8 178.9,1635.8 181.3,1616.5 183.7,1609.3 186.2,1614.1 188.1,1633.4 190.5,1650.3 192.2,1662.4 193.9,1672.0 195.8,1657.6 198.2,1633.4 200.1,1609.3 202.6,1616.5 205.0,1610.5 207.9,1609.3 211.5,1612.9 213.9,1621.4 216.3,1614.1 218.7,1621.4 221.1,1606.9 224.8,1609.3 228.4,1608.1 232.0,1609.3 234.4,1611.7 238.0,1610.5 240.4,1614.1 243.6,1617.7 246.5,1616.5 248.9,1621.4 251.3,1635.8 253.2,1662.4 254.9,1645.5 256.6,1635.8 258.5,1662.4 260.5,1647.9 262.1,1674.4 263.8,1660.0 265.3,1676.9 266.2,1710.6 267.7,1758.9 269.4,1783.0 273.0,1784.2 277.8,1780.6 279.8,1725.1 281.0,1681.7 282.7,1710.6 284.6,1780.6 287.5,1784.2 291.1,1785.4 294.7,1786.6 298.3,1783.0 300.7,1787.8 304.4,1758.9 306.3,1729.9 308.0,1754.1 310.4,1783.0 312.8,1758.9 314.5,1783.0 316.4,1773.4 318.8,1756.5 321.3,1780.6 323.7,1773.4 326.1,1783.0 329.7,1787.8 332.1,1763.7 333.8,1681.7 335.2,1758.9 336.9,1787.8 340.6,1783.0 343.0,1778.2 345.4,1787.8 349.0,1783.0 352.6,1766.1 355.0,1787.8 359.9,1787.8 364.7,1783.0 368.3,1787.8 371.9,1787.8 375.5,1780.6 377.9,1758.9 380.4,1787.8 385.2,1787.8 390.0,1789.0 393.6,1784.2 398.5,1787.8 402.1,1787.8 403.8,1686.5 405.7,1734.8 408.1,1785.4 411.0,1783.0 412.9,1778.2 415.3,1710.6 417.3,1662.4 419.0,1674.4 420.7,1664.8 422.6,1710.6 425.0,1778.2 427.4,1783.0 431.0,1780.6 433.4,1710.6 435.1,1686.5 436.6,1758.9 438.3,1787.8 441.9,1778.2 444.3,1756.5 446.7,1780.6 451.5,1783.0 455.2,1783.0 458.8,1787.8 462.4,1783.0 464.8,1710.6 466.5,1638.3 468.4,1617.7" fill="none" stroke="#1a8396" stroke-width="2.8" stroke-linejoin="round" stroke-linecap="round"/>
<line x1="84.0" y1="1854.9" x2="84.0" y2="2061.6" stroke="#111" stroke-width="2.6"/>
<line x1="70.0" y1="1855.9" x2="84.0" y2="1855.9" stroke="#111" stroke-width="2.6"/>
<text x="68.0" y="1866.4" font-size="20.5" text-anchor="end" fill="#111">1.0</text>
<line x1="70.0" y1="1951.8" x2="84.0" y2="1951.8" stroke="#111" stroke-width="2.6"/>
<text x="68.0" y="1959.2" font-size="20.5" text-anchor="end" fill="#111">0.5</text>
<line x1="70.0" y1="2047.6" x2="84.0" y2="2047.6" stroke="#111" stroke-width="2.6"/>
<text x="68.0" y="2057.6" font-size="20.5" text-anchor="end" fill="#111">0</text>
<line x1="71.0" y1="2047.6" x2="468.0" y2="2047.6" stroke="#111" stroke-width="2.6"/>
<line x1="84.0" y1="2047.6" x2="84.0" y2="2061.6" stroke="#111" stroke-width="2.6"/>
<text x="84.0" y="2086.6" font-size="20.5" text-anchor="middle" fill="#111">0</text>
<line x1="254.2" y1="2047.6" x2="254.2" y2="2061.6" stroke="#111" stroke-width="2.6"/>
<text x="254.2" y="2086.6" font-size="20.5" text-anchor="middle" fill="#111">300</text>
<line x1="425.0" y1="2047.6" x2="425.0" y2="2061.6" stroke="#111" stroke-width="2.6"/>
<text x="425.0" y="2086.6" font-size="20.5" text-anchor="middle" fill="#111">600</text>
<line x1="92.0" y1="1951.8" x2="462.0" y2="1951.8" stroke="#777" stroke-width="2.6" stroke-dasharray="9,7"/>
<text x="21.0" y="1951.8" font-size="25" text-anchor="middle" fill="#111" transform="rotate(-90 21.0 1951.8)">GIT-1</text>
<polyline points="84.5,2022.4 86.9,2019.5 89.8,2013.7 92.6,2003.6 96.1,1997.8 98.4,2002.1 99.9,2019.5 101.9,2034.0 104.2,2039.8 107.1,2042.7 110.0,2042.7 112.9,2025.3 115.8,2010.8 118.7,2010.8 121.6,1996.3 123.9,1989.1 126.8,2002.1 128.8,1999.2 131.7,1993.4 134.6,1976.1 137.5,1964.5 140.4,1961.6 143.3,1973.2 146.2,1981.9 149.1,1973.2 152.0,1961.6 154.0,1958.7 156.3,1973.2 159.2,1996.3 162.1,2016.6 165.0,2031.1 167.9,2039.8 170.8,2031.1 173.7,2010.8 176.6,1984.8 179.5,1955.8 181.8,1937.0 183.8,1955.8 186.7,2005.0 189.6,2013.7 192.5,2016.6 194.6,2022.4 196.9,2013.7 199.8,1989.1 201.2,1990.6 204.1,2013.7 206.1,2031.1 208.5,2039.8 211.3,2042.7 213.7,2047.0 216.6,2031.1 219.5,2007.9 222.4,1981.9 225.2,1984.8 228.7,1983.3 231.6,1987.7 234.5,1993.4 237.4,2007.9 240.3,2022.4 243.2,2010.8 246.1,1990.6 249.0,1976.1 251.9,1967.4 254.8,1964.5 257.7,1950.0 260.6,1941.3 263.5,1935.5 266.9,1938.4 269.8,1955.8 272.7,1979.0 275.6,2002.1 278.5,2020.9 281.4,2010.8 284.3,1979.0 286.6,1944.2 289.5,1892.1 291.8,1886.3 294.7,1897.9 297.6,1921.1 300.5,1950.0 303.4,1976.1 306.3,1987.7 309.2,1981.9 312.1,1961.6 315.0,1944.2 317.9,1952.9 320.8,1964.5 323.7,1973.2 326.6,1967.4 329.5,1950.0 332.4,1944.2 335.3,1950.0 338.2,1950.0 341.1,1950.0 343.9,1970.3 346.8,1979.0 349.7,1976.1 352.6,1955.8 355.5,1938.4 358.4,1921.1 361.3,1912.4 364.2,1921.1 367.1,1926.9 369.1,1915.3 372.0,1921.1 374.9,1929.8 377.8,1918.2 380.7,1909.5 383.6,1906.6 386.5,1900.8 389.4,1895.0 392.3,1906.6 395.2,1912.4 398.1,1906.6 401.0,1915.3 403.9,1926.9 406.8,1938.4 409.7,1952.9 412.6,1958.7 415.5,1950.0 418.4,1947.1 421.3,1944.2 424.1,1950.0 427.0,1967.4 429.9,1993.4 432.8,2013.7 435.7,2028.2 438.6,2022.4 441.5,2019.5 444.4,2013.7 447.3,2016.6 450.2,2019.5 453.1,2007.9 456.0,2016.6 458.9,2036.9 461.8,2042.7 464.7,2045.6" fill="none" stroke="#a912b0" stroke-width="2.8" stroke-linejoin="round" stroke-linecap="round"/>
<polyline points="84.0,1922.5 85.7,1955.8 87.4,1990.6 89.8,2002.1 92.1,2013.7 94.1,2028.2 97.0,2034.0 99.9,2039.8 104.2,2039.8 107.1,2019.5 110.0,2013.7 114.4,2016.6 117.3,2025.3 121.6,2034.0 127.4,2036.9 131.7,2031.1 133.8,2007.9 135.5,1987.7 137.5,1999.2 140.4,2013.7 143.3,2036.9 147.7,2039.8 150.6,2039.8 153.4,2025.3 155.5,1990.6 156.9,2013.7 159.2,2039.8 163.6,2045.6 169.4,2047.0 173.7,2045.6 177.2,2041.2 179.5,2045.6 185.3,2047.0 191.1,2047.0 195.4,2042.7 199.8,2038.3 205.6,2036.9 211.3,2035.4 215.7,2032.5 218.6,2002.1 221.5,1967.4 222.9,1976.1 225.8,1999.2 228.7,1987.7 231.6,1987.7 236.0,1996.3 240.3,2005.0 244.6,2007.9 249.0,2002.1 251.9,1996.3 254.8,1979.0 257.1,1990.6 260.6,2010.8 263.5,2002.1 266.4,1981.9 269.3,1967.4 272.7,1984.8 276.5,1993.4 279.4,1999.2 282.3,1981.9 285.2,1961.6 287.2,1926.9 289.5,1892.1 292.4,1880.5 296.8,1886.3 301.1,1900.8 304.6,1915.3 306.9,1903.7 309.8,1883.4 315.0,1879.1 317.9,1886.3 320.8,1912.4 323.7,1944.2 326.6,1964.5 330.1,1967.4 333.5,1973.2 338.7,1976.1 343.1,1979.0 346.8,1981.9 349.7,1970.3 352.6,1950.0 354.7,1903.7 357.6,1889.2 360.5,1892.1 363.3,1883.4 367.7,1874.7 372.0,1872.3 376.4,1870.4 380.7,1869.8 385.1,1871.8 389.4,1873.6 393.7,1871.8 399.5,1874.7 402.4,1889.2 404.7,1918.2 406.8,1964.5 408.2,2013.7 410.5,2039.8 414.0,2042.7 418.4,2042.7 421.3,2036.9 424.1,2034.0 427.0,2039.8 431.4,2042.7 437.2,2039.8 440.1,2036.9 444.4,2039.8 448.8,2039.8 451.7,2038.3 454.5,2042.7 460.3,2045.6 463.2,2042.7 464.7,2031.1" fill="none" stroke="#1a8396" stroke-width="2.8" stroke-linejoin="round" stroke-linecap="round"/>
<text x="267.0" y="2108.0" font-size="25.5" text-anchor="middle" fill="#111">Residue</text>
<line x1="152.0" y1="2143.0" x2="190.0" y2="2143.0" stroke="#1a8396" stroke-width="3.2"/>
<line x1="152.0" y1="2171.0" x2="190.0" y2="2171.0" stroke="#a912b0" stroke-width="3.2"/>
<text x="206.0" y="2152.5" font-size="25" text-anchor="start" fill="#111">Spot-Disorder2</text>
<text x="206.0" y="2181.5" font-size="25" text-anchor="start" fill="#111">IUPred2a</text>
<line x1="559.9" y1="56.3" x2="559.9" y2="263.1" stroke="#111" stroke-width="2.6"/>
<line x1="546.9" y1="57.3" x2="559.9" y2="57.3" stroke="#111" stroke-width="2.6"/>
<text x="539.9" y="68.8" font-size="20.5" text-anchor="end" fill="#111">15</text>
<line x1="546.9" y1="153.2" x2="559.9" y2="153.2" stroke="#111" stroke-width="2.6"/>
<text x="539.9" y="164.7" font-size="20.5" text-anchor="end" fill="#111">7.5</text>
<line x1="546.9" y1="249.1" x2="559.9" y2="249.1" stroke="#111" stroke-width="2.6"/>
<text x="539.9" y="260.6" font-size="20.5" text-anchor="end" fill="#111">0</text>
<line x1="942.3" y1="56.3" x2="942.3" y2="256.1" stroke="#111" stroke-width="2.6"/>
<line x1="942.3" y1="57.3" x2="955.3" y2="57.3" stroke="#111" stroke-width="2.6"/>
<text x="958.3" y="68.8" font-size="20.5" text-anchor="start" fill="#111">40</text>
<line x1="942.3" y1="153.2" x2="955.3" y2="153.2" stroke="#111" stroke-width="2.6"/>
<text x="958.3" y="164.7" font-size="20.5" text-anchor="start" fill="#111">20</text>
<line x1="942.3" y1="249.1" x2="955.3" y2="249.1" stroke="#111" stroke-width="2.6"/>
<text x="958.3" y="260.6" font-size="20.5" text-anchor="start" fill="#111">0</text>
<line x1="546.9" y1="249.1" x2="942.3" y2="249.1" stroke="#111" stroke-width="2.6"/>
<line x1="559.9" y1="249.1" x2="559.9" y2="263.1" stroke="#111" stroke-width="2.6"/>
<text x="559.9" y="285.6" font-size="20.5" text-anchor="middle" fill="#111">0</text>
<line x1="742.4" y1="249.1" x2="742.4" y2="263.1" stroke="#111" stroke-width="2.6"/>
<text x="742.4" y="285.6" font-size="20.5" text-anchor="middle" fill="#111">250</text>
<line x1="925.4" y1="249.1" x2="925.4" y2="263.1" stroke="#111" stroke-width="2.6"/>
<text x="925.4" y="285.6" font-size="20.5" text-anchor="middle" fill="#111">500</text>
<polyline points="577.9,247.7 580.3,233.2 584.0,228.4 587.6,218.7 591.2,213.9 594.8,216.3 598.4,209.1 602.0,198.2 605.7,199.4 610.5,197.0 615.3,199.4 618.9,204.2 622.6,205.4 626.2,207.8 629.8,209.1 632.2,211.5 634.6,213.9 637.0,218.7 639.4,225.9 642.3,218.7 645.5,217.5 649.1,216.3 651.5,221.1 653.9,216.3 656.3,209.1 659.2,207.8 662.4,206.6 664.8,192.2 667.2,168.0 669.6,151.2 672.0,146.3 675.6,146.3 678.5,143.9 680.9,134.3 682.9,122.2 685.3,115.0 687.7,105.3 690.1,95.7 692.5,88.4 694.9,82.4 698.5,76.4 701.0,76.4 702.6,81.2 704.6,84.8 707.0,81.2 709.4,69.1 710.6,59.5 711.3,58.3 717.8,58.3 720.3,66.7 722.7,59.5 723.9,58.3 735.9,58.3 739.6,64.3 742.0,78.8 744.4,100.5 746.8,122.2 749.2,131.9 751.6,137.9 754.8,143.9 757.2,151.2 759.6,168.0 762.0,184.9 764.9,199.4 768.5,213.9 772.1,223.5 775.7,230.8 779.4,238.0 783.0,239.2 786.6,238.0 790.2,239.2 792.6,247.7 796.3,250.1 805.9,250.1 808.3,242.8 810.2,247.7 814.3,250.1 816.8,247.7 820.4,228.4 825.2,209.1 830.0,187.3 834.9,156.0 837.8,124.6 840.9,107.7 844.5,93.3 846.9,71.5 848.8,58.3 853.7,59.5 856.1,74.0 858.5,93.3 861.9,115.0 865.0,131.9 868.6,146.3 871.5,170.5 874.7,187.3 878.3,189.8 881.2,197.0 884.3,205.4 887.4,201.8 890.8,184.9 894.0,165.6 897.1,146.3 900.5,129.4 903.6,110.1 906.7,93.3 909.6,78.8 912.5,77.6 915.0,83.6 918.1,90.8 921.2,98.1 923.6,107.7 926.0,122.2" fill="none" stroke="#20b020" stroke-width="2.4" stroke-linejoin="round" stroke-linecap="round"/>
<polyline points="563.4,201.8 568.3,201.8 574.3,201.8 577.9,194.6 581.5,184.9 585.2,178.9 588.8,180.1 591.2,180.1 593.6,175.3 597.2,168.0 600.8,160.8 604.5,156.0 606.9,158.4 609.3,165.6 612.9,176.5 616.5,183.7 620.1,184.9 623.8,181.3 627.4,175.3 631.0,171.7 633.4,176.5 637.0,181.3 639.4,175.3 643.1,170.5 646.7,165.6 649.6,163.2 652.7,172.9 655.1,189.8 658.7,201.8 662.4,207.8 666.0,209.1 669.6,207.8 673.2,199.4 676.8,187.3 680.5,170.5 682.9,148.7 685.3,127.0 688.9,117.4 691.3,107.7 693.7,105.3 696.1,115.0 698.5,122.2 702.2,131.9 705.8,137.9 709.4,134.3 713.0,124.6 715.4,121.0 717.8,124.6 720.3,134.3 723.9,148.7 726.3,151.2 729.2,141.5 732.3,136.7 736.4,136.7 739.6,137.9 742.0,151.2 744.4,170.5 746.8,184.9 750.4,184.9 754.0,184.9 757.7,192.2 761.3,204.2 764.9,218.7 767.3,235.6 769.7,247.7 772.1,250.1 775.7,245.2 779.4,240.4 783.0,238.0 786.1,241.6 788.5,247.7 791.4,250.1 796.3,250.1 803.5,247.7 807.1,245.2 809.5,241.6 811.9,230.8 815.6,218.7 819.2,209.1 822.8,204.2 826.4,199.4 830.0,195.8 833.6,197.0 837.3,189.8 840.9,184.9 844.5,182.5 847.4,172.9 850.5,158.4 854.2,149.9 857.1,147.5 860.2,151.2 863.8,160.8 866.7,177.7 869.8,197.0 872.2,207.8 875.9,204.2 879.5,201.8 883.1,189.8 886.0,168.0 889.1,164.4 892.8,162.0 896.4,159.6 900.0,160.8 903.6,162.0 907.2,164.4 909.6,170.5 912.1,180.1 914.5,186.1 918.1,182.5 921.7,180.1 925.3,182.5 928.9,184.9 942.2,186.1" fill="none" stroke="#e8621e" stroke-width="2.4" stroke-linejoin="round" stroke-linecap="round"/>
<line x1="559.0" y1="317.2" x2="559.0" y2="525.8" stroke="#111" stroke-width="2.6"/>
<line x1="546.0" y1="318.2" x2="559.0" y2="318.2" stroke="#111" stroke-width="2.6"/>
<text x="539.0" y="325.7" font-size="20.5" text-anchor="end" fill="#111">4</text>
<line x1="546.0" y1="415.3" x2="559.0" y2="415.3" stroke="#111" stroke-width="2.6"/>
<text x="539.0" y="422.8" font-size="20.5" text-anchor="end" fill="#111">2</text>
<line x1="546.0" y1="511.8" x2="559.0" y2="511.8" stroke="#111" stroke-width="2.6"/>
<text x="539.0" y="519.3" font-size="20.5" text-anchor="end" fill="#111">0</text>
<line x1="940.8" y1="317.2" x2="940.8" y2="518.8" stroke="#111" stroke-width="2.6"/>
<line x1="940.8" y1="318.2" x2="953.8" y2="318.2" stroke="#111" stroke-width="2.6"/>
<text x="956.8" y="325.7" font-size="20.5" text-anchor="start" fill="#111">20</text>
<line x1="940.8" y1="415.3" x2="953.8" y2="415.3" stroke="#111" stroke-width="2.6"/>
<text x="956.8" y="422.8" font-size="20.5" text-anchor="start" fill="#111">10</text>
<line x1="940.8" y1="511.8" x2="953.8" y2="511.8" stroke="#111" stroke-width="2.6"/>
<text x="956.8" y="519.3" font-size="20.5" text-anchor="start" fill="#111">0</text>
<line x1="546.0" y1="511.8" x2="940.8" y2="511.8" stroke="#111" stroke-width="2.6"/>
<line x1="559.0" y1="511.8" x2="559.0" y2="525.8" stroke="#111" stroke-width="2.6"/>
<text x="559.0" y="550.8" font-size="20.5" text-anchor="middle" fill="#111">0</text>
<line x1="732.1" y1="511.8" x2="732.1" y2="525.8" stroke="#111" stroke-width="2.6"/>
<text x="732.1" y="550.8" font-size="20.5" text-anchor="middle" fill="#111">500</text>
<line x1="908.2" y1="511.8" x2="908.2" y2="525.8" stroke="#111" stroke-width="2.6"/>
<text x="908.2" y="550.8" font-size="20.5" text-anchor="middle" fill="#111">1000</text>
<polyline points="571.9,510.1 573.1,502.8 574.3,507.7 576.7,510.1 603.3,510.5 651.5,510.1 699.8,508.9 732.3,507.7 743.2,507.2 755.2,506.4 758.9,505.2 760.5,459.4 762.0,454.6 763.7,464.2 765.4,473.9 767.3,476.3 769.2,476.3 770.9,485.9 772.1,498.0 773.3,510.1 777.0,510.5 793.8,510.1 795.5,500.4 797.0,499.2 798.7,505.2 800.6,510.1 803.5,510.1 805.9,488.4 807.8,473.9 810.2,466.6 811.9,459.4 814.3,440.1 816.0,418.4 818.0,396.7 819.2,384.6 820.9,396.7 822.3,411.2 824.0,413.6 825.7,430.5 827.6,454.6 829.5,473.9 831.2,498.0 832.9,510.1 912.1,510.1 913.3,502.8 914.5,501.6 915.2,510.1" fill="none" stroke="#20b020" stroke-width="2.4" stroke-linejoin="round" stroke-linecap="round"/>
<polyline points="560.3,460.6 563.4,460.6 565.9,457.0 567.5,453.4 569.0,457.0 570.0,464.2 571.4,461.8 573.1,464.2 574.3,483.5 575.5,502.8 576.7,510.1 581.5,511.3 586.4,508.9 593.6,505.2 598.4,504.0 599.6,493.2 600.8,484.7 602.0,493.2 603.3,510.1 610.5,508.9 617.7,507.7 619.7,498.0 620.9,496.8 622.1,507.7 628.6,508.9 631.0,488.4 632.2,485.9 633.4,498.0 634.6,510.1 646.7,510.1 653.9,508.9 656.3,498.0 658.3,496.8 659.9,500.4 661.2,510.1 699.8,510.1 732.3,507.7 734.7,498.0 736.4,492.0 737.9,495.6 739.6,507.7 743.2,510.1 748.0,508.9 752.8,505.2 755.2,493.2 757.2,449.8 758.9,401.5 760.5,372.6 761.8,362.9 763.0,372.6 764.4,413.6 766.1,461.8 767.8,510.1 777.0,510.1 786.6,508.9 788.5,488.4 790.2,440.1 791.9,389.4 793.8,365.3 795.0,361.7 796.7,372.6 798.7,413.6 799.9,461.8 801.6,469.1 803.5,457.0 805.4,459.4 807.1,495.6 808.8,510.1 810.2,473.9 811.9,437.7 814.3,406.3 816.0,413.6 818.0,454.6 819.9,495.6 822.3,499.2 824.7,490.8 826.4,505.2 828.8,510.1 831.2,505.2 832.9,478.7 834.9,471.5 836.8,493.2 838.5,510.1 856.6,510.1 859.5,506.4 860.9,510.1 890.3,508.9 891.6,506.4 892.8,510.1 900.0,510.1 901.9,493.2 903.6,483.5 905.3,459.4 906.7,454.6 908.4,473.9 910.1,466.6 912.1,454.6 914.0,444.9 915.7,425.6 916.9,416.0 919.3,415.5 922.2,416.0" fill="none" stroke="#e8621e" stroke-width="2.4" stroke-linejoin="round" stroke-linecap="round"/>
<line x1="559.0" y1="568.3" x2="559.0" y2="774.4" stroke="#111" stroke-width="2.6"/>
<line x1="546.0" y1="569.3" x2="559.0" y2="569.3" stroke="#111" stroke-width="2.6"/>
<text x="539.0" y="576.8" font-size="20.5" text-anchor="end" fill="#111">4</text>
<line x1="546.0" y1="664.2" x2="559.0" y2="664.2" stroke="#111" stroke-width="2.6"/>
<text x="539.0" y="671.7" font-size="20.5" text-anchor="end" fill="#111">2</text>
<line x1="546.0" y1="760.4" x2="559.0" y2="760.4" stroke="#111" stroke-width="2.6"/>
<text x="539.0" y="767.9" font-size="20.5" text-anchor="end" fill="#111">0</text>
<line x1="940.8" y1="568.3" x2="940.8" y2="767.4" stroke="#111" stroke-width="2.6"/>
<line x1="940.8" y1="569.3" x2="953.8" y2="569.3" stroke="#111" stroke-width="2.6"/>
<text x="956.8" y="576.8" font-size="20.5" text-anchor="start" fill="#111">10</text>
<line x1="940.8" y1="664.2" x2="953.8" y2="664.2" stroke="#111" stroke-width="2.6"/>
<text x="956.8" y="671.7" font-size="20.5" text-anchor="start" fill="#111">5</text>
<line x1="940.8" y1="760.4" x2="953.8" y2="760.4" stroke="#111" stroke-width="2.6"/>
<text x="956.8" y="767.9" font-size="20.5" text-anchor="start" fill="#111">0</text>
<line x1="546.0" y1="760.4" x2="940.8" y2="760.4" stroke="#111" stroke-width="2.6"/>
<line x1="559.0" y1="760.4" x2="559.0" y2="774.4" stroke="#111" stroke-width="2.6"/>
<text x="559.0" y="799.4" font-size="20.5" text-anchor="middle" fill="#111">0</text>
<line x1="741.2" y1="760.4" x2="741.2" y2="774.4" stroke="#111" stroke-width="2.6"/>
<text x="741.2" y="799.4" font-size="20.5" text-anchor="middle" fill="#111">400</text>
<line x1="924.2" y1="760.4" x2="924.2" y2="774.4" stroke="#111" stroke-width="2.6"/>
<text x="924.2" y="799.4" font-size="20.5" text-anchor="middle" fill="#111">800</text>
<polyline points="646.2,760.1 647.2,743.2 648.6,719.1 649.8,698.5 651.5,704.6 653.2,714.2 655.1,704.6 656.8,707.0 658.3,719.1 659.7,727.5 661.2,711.8 662.4,685.3 663.6,639.4 664.8,603.3 666.5,608.1 667.7,651.5 668.4,699.8 668.9,760.1 670.8,760.1 815.6,760.1 816.8,758.9 818.0,750.4 820.4,749.2 822.3,752.8 823.3,760.1" fill="none" stroke="#20b020" stroke-width="2.4" stroke-linejoin="round" stroke-linecap="round"/>
<polyline points="560.3,720.3 566.6,720.3 568.3,728.7 570.7,748.0 574.3,759.6 584.0,759.6 588.3,757.7 590.0,745.6 592.4,723.9 594.8,721.5 596.5,738.4 598.4,757.7 599.6,760.1 602.0,758.9 604.5,745.6 607.6,733.5 611.0,702.2 614.1,697.3 616.5,692.5 618.2,697.3 620.1,707.0 622.6,714.2 625.0,735.9 626.9,759.6 632.2,760.1 637.0,758.9 639.4,738.4 641.4,708.2 643.1,719.1 644.7,740.8 646.7,759.6 653.9,760.1 658.7,756.4 663.6,754.0 665.5,738.4 667.2,714.2 669.6,692.5 671.3,697.3 673.2,721.5 675.1,759.6 680.5,760.1 711.8,759.6 714.7,752.8 716.6,755.2 718.6,750.4 721.0,748.0 722.7,751.6 723.9,759.6 728.7,760.1 772.1,760.1 796.3,758.9 815.6,758.1 827.6,757.7 830.5,748.0 832.4,738.4 834.4,737.1 836.1,748.0 837.8,754.0 840.2,745.6 842.6,735.9 844.5,714.2 846.9,694.9 848.8,699.8 850.5,738.4 852.2,760.1 868.6,760.1 880.7,758.9 892.8,757.7 906.0,756.4 908.4,731.1 910.9,729.9 913.3,743.2 915.7,754.0 918.1,728.7 920.5,709.4 922.9,690.1 925.3,675.6 927.0,678.0 929.4,691.3 933.8,690.1 939.8,690.1" fill="none" stroke="#e8621e" stroke-width="2.4" stroke-linejoin="round" stroke-linecap="round"/>
<line x1="560.0" y1="828.5" x2="560.0" y2="1035.0" stroke="#111" stroke-width="2.6"/>
<line x1="547.0" y1="829.5" x2="560.0" y2="829.5" stroke="#111" stroke-width="2.6"/>
<text x="540.0" y="837.0" font-size="20.5" text-anchor="end" fill="#111">4</text>
<line x1="547.0" y1="925.4" x2="560.0" y2="925.4" stroke="#111" stroke-width="2.6"/>
<text x="540.0" y="932.9" font-size="20.5" text-anchor="end" fill="#111">2</text>
<line x1="547.0" y1="1021.0" x2="560.0" y2="1021.0" stroke="#111" stroke-width="2.6"/>
<text x="540.0" y="1028.5" font-size="20.5" text-anchor="end" fill="#111">0</text>
<line x1="940.8" y1="828.5" x2="940.8" y2="1028.0" stroke="#111" stroke-width="2.6"/>
<line x1="940.8" y1="847.0" x2="953.8" y2="847.0" stroke="#111" stroke-width="2.6"/>
<text x="956.8" y="854.5" font-size="20.5" text-anchor="start" fill="#111">10</text>
<line x1="940.8" y1="934.5" x2="953.8" y2="934.5" stroke="#111" stroke-width="2.6"/>
<text x="956.8" y="942.0" font-size="20.5" text-anchor="start" fill="#111">5</text>
<line x1="940.8" y1="1021.0" x2="953.8" y2="1021.0" stroke="#111" stroke-width="2.6"/>
<text x="956.8" y="1028.5" font-size="20.5" text-anchor="start" fill="#111">0</text>
<line x1="547.0" y1="1021.0" x2="940.8" y2="1021.0" stroke="#111" stroke-width="2.6"/>
<line x1="560.0" y1="1021.0" x2="560.0" y2="1035.0" stroke="#111" stroke-width="2.6"/>
<text x="560.0" y="1060.0" font-size="20.5" text-anchor="middle" fill="#111">0</text>
<line x1="743.0" y1="1021.0" x2="743.0" y2="1035.0" stroke="#111" stroke-width="2.6"/>
<text x="743.0" y="1060.0" font-size="20.5" text-anchor="middle" fill="#111">750</text>
<line x1="926.3" y1="1021.0" x2="926.3" y2="1035.0" stroke="#111" stroke-width="2.6"/>
<text x="926.3" y="1060.0" font-size="20.5" text-anchor="middle" fill="#111">1500</text>
<polyline points="602.0,1020.1 604.5,979.1 606.9,954.9 609.3,940.5 611.0,928.4 612.9,921.2 614.8,940.5 616.5,964.6 618.2,983.9 620.1,979.1 622.1,995.9 624.0,1012.8 626.2,1015.2 628.6,1015.2 632.2,1015.2 637.0,1017.7 639.0,983.9 640.6,923.6 642.3,940.5 644.3,976.6 646.7,969.4 649.1,945.3 651.0,930.8 652.7,916.3 654.4,899.4 655.8,894.6 657.5,916.3 659.2,935.6 661.2,954.9 663.6,983.9 665.5,1008.0 667.2,1020.1 673.2,1020.1 675.6,1003.2 678.0,979.1 680.5,974.2 682.9,983.9 685.3,1020.1 687.2,983.9 688.9,887.4 690.6,839.1 693.0,831.9 695.4,831.4 698.5,835.5 701.0,841.5 702.6,875.3 704.1,918.7 705.8,935.6 707.5,983.9 708.9,1020.1 714.2,1017.7 718.6,1010.4 720.3,983.9 721.9,945.3 723.9,921.2 725.6,906.7 727.3,923.6 728.7,950.1 730.2,983.9 731.6,1020.1 813.1,1020.1 815.1,988.7 816.8,954.9 818.4,916.3 820.4,906.7 822.3,882.6 824.0,848.8 825.2,834.3 827.1,858.4 828.8,887.4 830.0,923.6 832.0,983.9 833.6,1015.2 836.1,1020.1 842.1,1017.7 844.0,986.3 845.7,998.4 847.4,1020.1 868.6,1020.1 873.5,1017.7 875.4,1008.0 877.1,1017.7 879.5,1012.8 881.9,959.8 883.6,916.3 885.0,892.2 886.7,916.3 888.4,959.8 890.3,995.9 892.3,1008.0 894.0,1020.1 897.6,1017.7 902.4,1015.2 905.3,1005.6 906.7,1000.8 908.4,1008.0 910.1,1020.1 932.6,1017.7 935.0,1010.4 936.7,1015.2" fill="none" stroke="#20b020" stroke-width="2.4" stroke-linejoin="round" stroke-linecap="round"/>
<polyline points="575.5,1020.1 576.7,983.9 577.9,964.6 579.6,967.0 581.5,957.3 583.5,969.4 585.2,983.9 586.8,1003.2 588.3,1020.1 590.0,1003.2 591.7,1000.8 593.1,969.4 594.8,935.6 596.0,911.5 597.2,887.4 598.9,901.9 600.4,916.3 602.0,921.2 603.3,930.8 605.2,930.8 606.9,940.5 608.1,950.1 609.3,959.8 611.0,967.0 612.4,998.4 613.4,1020.1 617.7,1020.1 622.6,1020.1 627.4,1017.7 631.0,1008.0 633.4,991.1 635.1,1005.6 637.0,1020.1 639.4,1015.2 641.4,983.9 643.1,935.6 644.7,887.4 646.2,859.6 647.9,887.4 649.6,935.6 651.5,971.8 653.9,995.9 656.3,1017.7 658.3,1008.0 659.9,964.6 661.6,938.0 663.6,954.9 665.5,983.9 667.2,959.8 668.9,940.5 670.8,959.8 672.7,983.9 674.4,995.9 676.8,1017.7 680.5,1020.1 683.3,998.4 685.3,959.8 687.7,921.2 688.9,928.4 690.6,940.5 692.5,930.8 694.4,935.6 696.1,967.0 697.8,969.4 699.8,950.1 701.7,933.2 703.4,950.1 705.1,957.3 707.0,959.8 708.9,971.8 710.6,983.9 713.0,988.7 715.4,1008.0 717.8,1017.7 721.0,1012.8 723.4,1008.0 725.8,998.4 727.5,993.5 729.2,1012.8 731.1,1020.1 733.5,1017.7 735.9,988.7 738.4,964.6 740.8,979.1 742.7,1008.0 744.4,1020.1 748.0,1017.7 750.9,993.5 753.3,964.6 755.7,945.3 757.7,911.5 759.6,897.0 761.5,904.3 763.4,923.6 765.4,954.9 767.3,983.9 769.2,1005.6 770.9,988.7 772.1,993.5 774.1,1008.0 775.7,1020.1 779.4,1017.7 783.0,1003.2 785.4,986.3 787.8,988.7 789.5,1017.7 793.8,1018.9 796.3,1008.0 799.1,993.5 801.1,1015.2 804.7,1020.1 808.3,1017.7 810.7,998.4 813.1,964.6 815.6,926.0 818.0,940.5 819.9,942.9 821.6,964.6 823.3,916.3 825.2,897.0 827.1,892.2 828.8,935.6 830.5,983.9 832.4,950.1 834.4,969.4 836.1,1005.6 838.5,1020.1 842.1,1018.9 844.5,1020.1 860.2,1020.1 862.6,971.8 865.0,911.5 867.4,858.4 869.1,842.7 871.0,868.1 873.5,911.5 875.4,954.9 877.8,971.8 879.5,983.9 881.9,1008.0 884.3,995.9 886.7,983.9 889.1,959.8 891.6,942.9 893.5,940.5 895.7,952.5 897.6,954.9 900.0,964.6 902.4,1008.0 904.8,1020.1 907.2,1017.7 909.6,1003.2 911.6,991.1 913.3,1017.7 916.9,1012.8 919.3,1003.2 921.2,1020.1 923.6,1000.8 925.3,1008.0 927.7,1020.1 931.4,1012.8 933.8,986.3 935.7,981.5 938.6,989.9 941.0,989.9" fill="none" stroke="#e8621e" stroke-width="2.4" stroke-linejoin="round" stroke-linecap="round"/>
<line x1="559.0" y1="1080.1" x2="559.0" y2="1286.9" stroke="#111" stroke-width="2.6"/>
<line x1="546.0" y1="1081.1" x2="559.0" y2="1081.1" stroke="#111" stroke-width="2.6"/>
<text x="539.0" y="1088.6" font-size="20.5" text-anchor="end" fill="#111">4</text>
<line x1="546.0" y1="1177.0" x2="559.0" y2="1177.0" stroke="#111" stroke-width="2.6"/>
<text x="539.0" y="1184.5" font-size="20.5" text-anchor="end" fill="#111">2</text>
<line x1="546.0" y1="1272.9" x2="559.0" y2="1272.9" stroke="#111" stroke-width="2.6"/>
<text x="539.0" y="1280.4" font-size="20.5" text-anchor="end" fill="#111">0</text>
<line x1="940.8" y1="1080.1" x2="940.8" y2="1279.9" stroke="#111" stroke-width="2.6"/>
<line x1="940.8" y1="1081.1" x2="953.8" y2="1081.1" stroke="#111" stroke-width="2.6"/>
<text x="956.8" y="1088.6" font-size="20.5" text-anchor="start" fill="#111">10</text>
<line x1="940.8" y1="1177.0" x2="953.8" y2="1177.0" stroke="#111" stroke-width="2.6"/>
<text x="956.8" y="1184.5" font-size="20.5" text-anchor="start" fill="#111">5</text>
<line x1="940.8" y1="1272.9" x2="953.8" y2="1272.9" stroke="#111" stroke-width="2.6"/>
<text x="956.8" y="1280.4" font-size="20.5" text-anchor="start" fill="#111">0</text>
<line x1="546.0" y1="1272.9" x2="940.8" y2="1272.9" stroke="#111" stroke-width="2.6"/>
<line x1="559.0" y1="1272.9" x2="559.0" y2="1286.9" stroke="#111" stroke-width="2.6"/>
<text x="559.0" y="1311.9" font-size="20.5" text-anchor="middle" fill="#111">0</text>
<line x1="732.7" y1="1272.9" x2="732.7" y2="1286.9" stroke="#111" stroke-width="2.6"/>
<text x="732.7" y="1311.9" font-size="20.5" text-anchor="middle" fill="#111">450</text>
<line x1="908.2" y1="1272.9" x2="908.2" y2="1286.9" stroke="#111" stroke-width="2.6"/>
<text x="908.2" y="1311.9" font-size="20.5" text-anchor="middle" fill="#111">900</text>
<polyline points="588.8,1272.2 590.0,1243.7 591.2,1242.5 592.4,1248.5 594.1,1229.2 595.5,1220.8 596.5,1234.1 597.9,1272.7 603.3,1272.2 604.5,1243.7 606.1,1214.8 607.6,1193.0 609.3,1190.6 610.5,1171.3 612.2,1154.4 613.9,1154.4 615.3,1142.4 616.8,1135.1 618.2,1142.4 619.7,1161.7 621.1,1190.6 622.6,1226.8 623.8,1272.7 651.5,1272.7 675.6,1270.2 699.8,1269.0 723.9,1267.3 731.1,1266.6 732.3,1260.6 733.5,1258.2 734.7,1263.0 735.9,1272.7 752.8,1272.2 754.8,1243.7 756.7,1243.7 758.1,1234.1 759.1,1231.6 760.1,1243.7 761.3,1272.7 796.3,1270.2 797.5,1268.3 798.2,1270.2" fill="none" stroke="#20b020" stroke-width="2.4" stroke-linejoin="round" stroke-linecap="round"/>
<polyline points="560.3,1174.9 565.9,1173.7 568.3,1170.1 570.0,1185.8 571.4,1197.9 574.3,1202.7 577.2,1207.5 578.6,1214.8 580.3,1226.8 582.0,1212.3 584.0,1195.5 585.9,1179.8 587.6,1177.4 589.3,1190.6 591.2,1214.8 593.1,1236.5 594.8,1250.9 596.5,1265.4 597.9,1272.7 600.8,1272.7 602.8,1258.2 604.5,1243.7 606.9,1241.3 609.3,1240.1 611.0,1238.9 612.9,1214.8 615.3,1190.6 617.2,1173.7 618.9,1168.9 620.6,1176.2 622.6,1190.6 625.0,1212.3 626.9,1234.1 628.6,1250.9 630.3,1267.8 631.7,1272.7 637.0,1272.2 639.9,1270.2 641.4,1255.8 643.1,1253.4 644.7,1260.6 646.2,1272.7 651.5,1272.7 653.4,1253.4 655.1,1255.8 656.3,1263.0 658.3,1250.9 659.9,1248.5 661.6,1253.4 663.6,1238.9 665.5,1219.6 667.2,1205.1 669.6,1202.7 672.0,1219.6 673.7,1234.1 675.6,1236.5 677.6,1219.6 679.2,1181.0 681.7,1176.2 683.6,1185.8 685.3,1219.6 687.2,1236.5 688.9,1219.6 691.3,1195.5 693.7,1171.3 696.1,1164.1 699.3,1165.3 701.0,1162.9 702.6,1149.6 704.6,1144.8 706.5,1154.4 708.2,1178.6 709.9,1219.6 711.8,1263.0 713.0,1267.8 715.4,1253.4 717.8,1226.8 720.3,1208.7 721.9,1214.8 723.9,1226.8 726.3,1234.1 728.2,1238.9 730.2,1248.5 731.8,1226.8 733.5,1217.2 735.5,1224.4 737.1,1217.2 738.8,1214.8 740.8,1224.4 742.7,1207.5 744.4,1185.8 746.8,1166.5 748.5,1161.7 750.4,1171.3 752.3,1166.5 754.0,1137.6 755.7,1101.4 757.7,1084.5 760.1,1086.9 762.0,1106.2 763.7,1142.4 765.4,1171.3 767.3,1176.2 769.2,1185.8 770.9,1189.4 773.3,1195.5 775.7,1202.7 778.2,1217.2 780.6,1209.9 782.3,1219.6 784.2,1238.9 786.1,1263.0 787.8,1272.7 793.8,1272.7 803.5,1272.7 810.7,1271.4 813.1,1265.4 815.1,1264.2 816.8,1272.7 824.0,1271.4 825.7,1263.0 827.6,1261.8 829.5,1272.7 832.4,1263.0 834.9,1250.9 837.8,1242.5 840.2,1248.5 842.6,1250.9 844.5,1253.4 846.9,1270.2 851.7,1272.7 857.8,1271.4 860.2,1253.4 862.6,1229.2 864.3,1229.2 866.2,1258.2 868.1,1272.7 880.7,1272.2 884.3,1267.8 886.7,1263.0 888.4,1267.8 890.3,1272.7 902.4,1272.7 907.2,1270.2 909.6,1258.2 911.6,1229.2 913.3,1217.2 915.0,1224.4 916.9,1238.9 919.3,1248.5 921.7,1238.9 924.1,1224.4 926.5,1229.2 928.5,1246.1 930.9,1266.6 935.0,1267.8 939.8,1267.8" fill="none" stroke="#e8621e" stroke-width="2.4" stroke-linejoin="round" stroke-linecap="round"/>
<line x1="559.0" y1="1342.5" x2="559.0" y2="1549.3" stroke="#111" stroke-width="2.6"/>
<line x1="546.0" y1="1343.5" x2="559.0" y2="1343.5" stroke="#111" stroke-width="2.6"/>
<text x="539.0" y="1351.0" font-size="20.5" text-anchor="end" fill="#111">4</text>
<line x1="546.0" y1="1439.4" x2="559.0" y2="1439.4" stroke="#111" stroke-width="2.6"/>
<text x="539.0" y="1446.9" font-size="20.5" text-anchor="end" fill="#111">2</text>
<line x1="546.0" y1="1535.3" x2="559.0" y2="1535.3" stroke="#111" stroke-width="2.6"/>
<text x="539.0" y="1542.8" font-size="20.5" text-anchor="end" fill="#111">0</text>
<line x1="940.8" y1="1342.5" x2="940.8" y2="1542.3" stroke="#111" stroke-width="2.6"/>
<line x1="940.8" y1="1343.5" x2="953.8" y2="1343.5" stroke="#111" stroke-width="2.6"/>
<text x="956.8" y="1351.0" font-size="20.5" text-anchor="start" fill="#111">10</text>
<line x1="940.8" y1="1439.4" x2="953.8" y2="1439.4" stroke="#111" stroke-width="2.6"/>
<text x="956.8" y="1446.9" font-size="20.5" text-anchor="start" fill="#111">5</text>
<line x1="940.8" y1="1535.3" x2="953.8" y2="1535.3" stroke="#111" stroke-width="2.6"/>
<text x="956.8" y="1542.8" font-size="20.5" text-anchor="start" fill="#111">0</text>
<line x1="546.0" y1="1535.3" x2="940.8" y2="1535.3" stroke="#111" stroke-width="2.6"/>
<line x1="559.0" y1="1535.3" x2="559.0" y2="1549.3" stroke="#111" stroke-width="2.6"/>
<text x="559.0" y="1574.3" font-size="20.5" text-anchor="middle" fill="#111">0</text>
<line x1="746.0" y1="1535.3" x2="746.0" y2="1549.3" stroke="#111" stroke-width="2.6"/>
<text x="746.0" y="1574.3" font-size="20.5" text-anchor="middle" fill="#111">600</text>
<line x1="933.3" y1="1535.3" x2="933.3" y2="1549.3" stroke="#111" stroke-width="2.6"/>
<text x="933.3" y="1574.3" font-size="20.5" text-anchor="middle" fill="#111">1200</text>
<polyline points="687.7,1534.6 699.8,1535.1 723.9,1532.7 726.8,1531.4 727.7,1523.0 729.2,1523.0 730.6,1532.7 748.0,1535.1 796.3,1533.9 820.4,1532.7 832.4,1531.4 834.4,1506.1 836.1,1508.5 837.8,1513.4 839.7,1508.5 841.6,1484.4 842.6,1461.5 844.5,1460.3 846.4,1463.9 848.1,1498.9 849.8,1523.0 851.3,1523.0 852.9,1520.6 854.6,1507.3 856.1,1508.5 857.8,1535.1 863.8,1535.1 868.6,1532.7 875.9,1530.2 878.3,1498.9 880.2,1498.9 881.9,1535.1 884.3,1518.2 886.0,1513.4 887.9,1515.8 889.4,1535.1 904.8,1535.1 931.4,1535.1 932.6,1527.8 934.3,1526.6 935.7,1535.1" fill="none" stroke="#20b020" stroke-width="2.4" stroke-linejoin="round" stroke-linecap="round"/>
<polyline points="560.3,1477.2 564.7,1477.2 567.1,1469.9 569.5,1448.2 571.4,1460.3 573.1,1484.4 574.8,1513.4 576.2,1535.1 581.5,1535.1 586.4,1532.7 588.3,1513.4 590.0,1489.2 591.7,1467.5 593.6,1455.5 596.0,1455.5 597.9,1443.4 599.1,1434.9 600.8,1443.4 603.3,1448.2 605.2,1465.1 606.9,1479.6 608.6,1465.1 610.5,1426.5 612.2,1408.4 614.1,1426.5 615.8,1474.8 617.2,1518.2 618.2,1535.1 625.0,1535.1 632.2,1530.2 639.0,1523.0 640.6,1486.8 642.3,1445.8 643.8,1421.7 644.7,1418.1 646.2,1426.5 647.9,1426.5 649.6,1445.8 651.5,1474.8 653.4,1498.9 655.1,1503.7 656.8,1523.0 658.3,1535.1 661.2,1535.1 664.0,1525.4 666.5,1498.9 668.4,1491.6 670.3,1496.5 671.8,1535.1 687.7,1535.1 699.8,1535.1 701.0,1498.9 702.6,1443.4 704.6,1462.7 706.5,1443.4 708.2,1433.7 710.6,1390.3 712.3,1402.4 714.2,1438.6 716.2,1428.9 717.1,1402.4 719.1,1407.2 721.0,1412.0 722.9,1407.2 724.4,1419.3 726.3,1421.7 728.2,1438.6 729.9,1462.7 731.6,1494.1 733.0,1491.6 734.7,1502.5 736.4,1496.5 738.4,1467.5 740.3,1431.3 742.0,1404.8 743.7,1419.3 745.6,1438.6 747.5,1462.7 749.9,1498.9 752.3,1535.1 754.8,1523.0 756.7,1489.2 758.6,1460.3 760.5,1474.8 762.5,1498.9 763.9,1535.1 769.7,1535.1 775.0,1533.9 777.0,1506.1 778.9,1498.9 780.6,1479.6 782.3,1469.9 784.2,1443.4 786.1,1426.5 788.5,1426.5 790.2,1416.9 791.9,1421.7 793.8,1431.3 795.8,1443.4 797.5,1457.9 799.1,1474.8 801.1,1484.4 803.0,1508.5 804.7,1535.1 815.6,1535.1 818.0,1527.8 820.4,1518.2 822.3,1503.7 824.0,1498.9 826.4,1503.7 828.8,1508.5 831.2,1518.2 832.9,1530.2 834.9,1535.1 837.8,1523.0 840.2,1518.2 842.6,1527.8 844.5,1535.1 860.2,1535.1 862.6,1510.9 865.0,1479.6 867.4,1445.8 869.8,1414.4 873.0,1413.2 874.7,1421.7 876.4,1455.5 878.3,1498.9 880.2,1535.1 884.3,1535.1 889.1,1527.8 891.6,1517.0 893.2,1527.8 895.2,1535.1 898.8,1529.0 900.5,1532.7 904.8,1532.7 906.0,1510.9 907.7,1489.2 909.6,1498.9 911.6,1518.2 913.3,1535.1" fill="none" stroke="#e8621e" stroke-width="2.4" stroke-linejoin="round" stroke-linecap="round"/>
<line x1="559.0" y1="1598.0" x2="559.0" y2="1805.1" stroke="#111" stroke-width="2.6"/>
<line x1="546.0" y1="1599.0" x2="559.0" y2="1599.0" stroke="#111" stroke-width="2.6"/>
<text x="539.0" y="1606.5" font-size="20.5" text-anchor="end" fill="#111">4</text>
<line x1="546.0" y1="1695.5" x2="559.0" y2="1695.5" stroke="#111" stroke-width="2.6"/>
<text x="539.0" y="1703.0" font-size="20.5" text-anchor="end" fill="#111">2</text>
<line x1="546.0" y1="1791.1" x2="559.0" y2="1791.1" stroke="#111" stroke-width="2.6"/>
<text x="539.0" y="1798.6" font-size="20.5" text-anchor="end" fill="#111">0</text>
<line x1="940.8" y1="1598.0" x2="940.8" y2="1798.1" stroke="#111" stroke-width="2.6"/>
<line x1="940.8" y1="1599.0" x2="953.8" y2="1599.0" stroke="#111" stroke-width="2.6"/>
<text x="956.8" y="1606.5" font-size="20.5" text-anchor="start" fill="#111">10</text>
<line x1="940.8" y1="1695.5" x2="953.8" y2="1695.5" stroke="#111" stroke-width="2.6"/>
<text x="956.8" y="1703.0" font-size="20.5" text-anchor="start" fill="#111">5</text>
<line x1="940.8" y1="1791.1" x2="953.8" y2="1791.1" stroke="#111" stroke-width="2.6"/>
<text x="956.8" y="1798.6" font-size="20.5" text-anchor="start" fill="#111">0</text>
<line x1="546.0" y1="1791.1" x2="940.8" y2="1791.1" stroke="#111" stroke-width="2.6"/>
<line x1="559.0" y1="1791.1" x2="559.0" y2="1805.1" stroke="#111" stroke-width="2.6"/>
<text x="559.0" y="1830.1" font-size="20.5" text-anchor="middle" fill="#111">0</text>
<line x1="736.6" y1="1791.1" x2="736.6" y2="1805.1" stroke="#111" stroke-width="2.6"/>
<text x="736.6" y="1830.1" font-size="20.5" text-anchor="middle" fill="#111">1000</text>
<line x1="914.6" y1="1791.1" x2="914.6" y2="1805.1" stroke="#111" stroke-width="2.6"/>
<text x="914.6" y="1830.1" font-size="20.5" text-anchor="middle" fill="#111">2000</text>
<polyline points="576.7,1790.2 577.9,1778.2 579.1,1768.5 580.6,1758.9 582.0,1749.2 583.5,1768.5 584.9,1773.4 586.4,1763.7 587.8,1778.2 589.3,1790.2 605.7,1790.2 606.9,1775.8 608.6,1790.2 617.7,1790.2 622.6,1785.4 624.5,1775.8 626.2,1758.9 627.4,1734.8 628.6,1744.4 629.8,1783.0 631.2,1768.5 632.7,1790.2 641.9,1790.2 643.8,1758.9 645.5,1722.7 647.2,1698.6 649.1,1662.4 650.3,1660.0 651.5,1681.7 652.7,1696.2 653.9,1725.1 655.1,1734.8 656.3,1729.9 657.5,1739.6 658.7,1758.9 659.9,1790.2 670.8,1790.2 672.7,1758.9 674.4,1780.6 675.6,1790.2 682.9,1786.6 688.9,1784.2 691.3,1778.2 693.0,1746.8 694.4,1754.1 696.1,1773.4 697.8,1749.2 699.8,1790.2 726.3,1790.2 727.7,1773.4 729.2,1790.2 772.1,1790.2 844.5,1790.2 892.8,1790.2 916.9,1790.2 919.3,1773.4 920.5,1770.9 921.7,1783.0 923.6,1778.2 924.6,1790.2" fill="none" stroke="#20b020" stroke-width="2.4" stroke-linejoin="round" stroke-linecap="round"/>
<polyline points="576.2,1790.2 577.9,1758.9 579.6,1734.8 581.1,1720.3 582.3,1708.2 583.5,1725.1 584.9,1758.9 586.4,1778.2 587.8,1790.2 590.0,1778.2 591.7,1754.1 593.6,1739.6 595.0,1729.9 596.5,1739.6 597.9,1734.8 599.6,1732.3 601.3,1734.8 603.3,1744.4 604.9,1758.9 606.1,1770.9 607.6,1758.9 609.0,1734.8 610.5,1691.3 611.9,1686.5 613.4,1725.1 614.8,1758.9 616.5,1770.9 618.2,1778.2 619.7,1758.9 621.3,1754.1 623.0,1725.1 624.5,1729.9 625.9,1710.6 627.4,1662.4 628.6,1652.7 629.8,1686.5 631.2,1729.9 632.7,1710.6 634.1,1652.7 635.6,1645.5 637.0,1650.3 638.5,1669.6 639.9,1705.8 641.4,1691.3 642.8,1638.3 643.8,1600.9 646.2,1600.9 647.6,1638.3 649.1,1705.8 651.0,1758.9 652.7,1778.2 654.4,1746.8 655.8,1775.8 657.5,1790.2 661.2,1790.2 663.1,1778.2 664.8,1790.2 668.4,1790.2 670.3,1734.8 672.0,1691.3 673.2,1693.7 674.4,1722.7 675.6,1703.4 678.0,1662.4 679.7,1615.3 681.2,1638.3 682.9,1686.5 684.8,1734.8 686.5,1758.9 688.2,1783.0 689.6,1790.2 692.0,1790.2 694.4,1778.2 696.1,1770.9 697.8,1783.0 699.8,1739.6 701.2,1713.0 702.6,1725.1 704.1,1739.6 705.5,1754.1 707.0,1758.9 708.9,1778.2 710.6,1790.2 712.3,1768.5 714.2,1766.1 716.2,1768.5 718.1,1766.1 720.0,1773.4 721.5,1790.2 723.9,1778.2 726.3,1758.9 728.2,1744.4 729.9,1739.6 731.6,1758.9 733.5,1790.2 738.4,1790.2 740.3,1734.8 742.0,1675.6 743.7,1710.6 745.1,1783.0 746.1,1790.2 764.9,1790.2 767.3,1778.2 769.2,1715.5 771.2,1734.8 772.6,1790.2 781.8,1790.2 785.4,1787.8 787.1,1773.4 789.0,1778.2 790.5,1790.2 805.9,1790.2 808.3,1773.4 809.5,1756.5 811.2,1773.4 812.7,1790.2 822.8,1787.8 825.2,1775.8 826.7,1756.5 828.1,1773.4 829.5,1790.2 836.1,1787.8 838.5,1758.9 840.2,1743.2 842.1,1754.1 843.5,1790.2 845.7,1783.0 847.4,1780.6 848.8,1790.2 850.5,1773.4 852.2,1768.5 853.7,1790.2 856.6,1787.8 858.5,1780.6 860.2,1790.2 861.9,1773.4 863.3,1775.8 864.8,1790.2 871.0,1790.2 873.0,1770.9 874.7,1758.9 876.4,1775.8 877.8,1790.2 890.3,1790.2 892.3,1763.7 894.0,1761.3 895.7,1790.2 924.1,1790.2 926.0,1758.9 927.7,1752.8 929.4,1758.9 930.9,1790.2" fill="none" stroke="#e8621e" stroke-width="2.4" stroke-linejoin="round" stroke-linecap="round"/>
<line x1="559.0" y1="1855.0" x2="559.0" y2="2062.0" stroke="#111" stroke-width="2.6"/>
<line x1="546.0" y1="1856.0" x2="559.0" y2="1856.0" stroke="#111" stroke-width="2.6"/>
<text x="539.0" y="1863.5" font-size="20.5" text-anchor="end" fill="#111">4</text>
<line x1="546.0" y1="1951.8" x2="559.0" y2="1951.8" stroke="#111" stroke-width="2.6"/>
<text x="539.0" y="1959.3" font-size="20.5" text-anchor="end" fill="#111">2</text>
<line x1="546.0" y1="2048.0" x2="559.0" y2="2048.0" stroke="#111" stroke-width="2.6"/>
<text x="539.0" y="2055.5" font-size="20.5" text-anchor="end" fill="#111">0</text>
<line x1="940.8" y1="1855.0" x2="940.8" y2="2055.0" stroke="#111" stroke-width="2.6"/>
<line x1="940.8" y1="1856.0" x2="953.8" y2="1856.0" stroke="#111" stroke-width="2.6"/>
<text x="956.8" y="1863.5" font-size="20.5" text-anchor="start" fill="#111">10</text>
<line x1="940.8" y1="1951.8" x2="953.8" y2="1951.8" stroke="#111" stroke-width="2.6"/>
<text x="956.8" y="1959.3" font-size="20.5" text-anchor="start" fill="#111">5</text>
<line x1="940.8" y1="2048.0" x2="953.8" y2="2048.0" stroke="#111" stroke-width="2.6"/>
<text x="956.8" y="2055.5" font-size="20.5" text-anchor="start" fill="#111">0</text>
<line x1="546.0" y1="2048.0" x2="940.8" y2="2048.0" stroke="#111" stroke-width="2.6"/>
<line x1="559.0" y1="2048.0" x2="559.0" y2="2062.0" stroke="#111" stroke-width="2.6"/>
<text x="559.0" y="2087.0" font-size="20.5" text-anchor="middle" fill="#111">0</text>
<line x1="730.9" y1="2048.0" x2="730.9" y2="2062.0" stroke="#111" stroke-width="2.6"/>
<text x="730.9" y="2087.0" font-size="20.5" text-anchor="middle" fill="#111">300</text>
<line x1="903.7" y1="2048.0" x2="903.7" y2="2062.0" stroke="#111" stroke-width="2.6"/>
<text x="903.7" y="2087.0" font-size="20.5" text-anchor="middle" fill="#111">600</text>
<polyline points="847.9,2048.0 850.3,2017.3 852.4,1981.1 854.5,1950.9 857.0,1935.9 859.4,1957.0 861.5,1978.1 864.5,1993.1 867.5,2008.2 869.6,2048.0" fill="none" stroke="#20b020" stroke-width="2.4" stroke-linejoin="round" stroke-linecap="round"/>
<polyline points="560.8,2048.0 567.5,2047.4 570.5,2044.4 573.5,2026.3 576.5,2008.2 579.5,1993.1 582.5,1987.1 585.5,1984.1 588.6,1978.1 591.6,1972.0 594.6,1978.1 597.6,1990.1 600.0,2008.2 602.1,2032.4 603.6,2048.0 618.7,2048.0 621.1,2042.9 623.2,2047.4 636.8,2048.0 648.9,2047.4 652.5,2045.9 654.9,2026.3 657.3,1996.2 659.4,1979.6 662.4,1984.1 664.6,1991.6 667.0,1993.1 669.4,1999.2 671.5,2008.2 674.5,1997.7 676.6,2002.2 679.0,2008.2 682.1,2023.3 685.1,2032.4 688.1,2041.4 690.5,2032.4 692.6,2017.3 695.6,2002.2 698.6,2000.7 701.7,2008.2 703.2,2026.3 705.6,2041.4 708.6,2039.9 711.6,2038.4 714.6,2036.9 718.2,2038.4 720.7,2041.4 722.8,2020.3 725.8,2000.7 728.8,1999.2 731.8,2002.2 733.9,2026.3 735.7,2048.0 739.3,2048.0 742.4,2041.4 744.8,2038.4 746.9,2045.9 748.4,2048.0 756.8,2048.0 759.0,2026.3 761.1,2008.2 763.5,2006.7 765.9,2002.2 768.0,1984.1 770.1,1972.0 772.5,1963.0 774.9,1958.5 777.9,1957.0 780.1,1966.0 783.1,1987.1 787.0,1996.2 789.1,2002.2 792.1,2017.3 793.6,2032.4 796.0,2048.0 808.7,2048.0 817.8,2045.9 826.2,2042.9 829.2,2020.3 831.3,1996.2 833.4,1990.1 835.9,1972.0 837.4,1958.5 840.4,1961.5 843.4,1966.0 846.4,1963.0 849.4,1957.0 851.5,1946.4 853.9,1932.8 856.4,1922.3 858.5,1926.8 860.6,1941.9 863.0,1957.0 866.0,1969.0 869.0,1990.1 871.4,1991.6 873.5,1996.2 875.7,2014.3 878.1,2032.4 880.5,2048.0 887.1,2047.4 889.5,2044.4 890.7,2041.4 892.5,2048.0 902.2,2048.0 905.2,2023.3 907.6,2011.2 909.7,2017.3 911.8,2015.8 914.3,2014.3 916.7,2011.2 919.7,2009.7 923.3,2009.7 925.7,2020.3 927.8,2035.4 930.8,2041.4 935.4,2040.8 939.0,2041.4" fill="none" stroke="#e8621e" stroke-width="2.4" stroke-linejoin="round" stroke-linecap="round"/>
<text x="751.0" y="2108.0" font-size="25.5" text-anchor="middle" fill="#111">Residue</text>
<line x1="570.0" y1="2142.5" x2="610.0" y2="2142.5" stroke="#e8621e" stroke-width="3.2"/>
<line x1="570.0" y1="2170.5" x2="610.0" y2="2170.5" stroke="#20b020" stroke-width="3.2"/>
<text x="633.0" y="2152.0" font-size="25" text-anchor="start" fill="#111">Pi-Pi predictor (left y axis)</text>
<text x="633.0" y="2181.0" font-size="25" text-anchor="start" fill="#111">catGRANULE (right y axis)</text>
<defs>
<filter id="b4" x="-20%" y="-20%" width="140%" height="140%"><feGaussianBlur stdDeviation="4"/></filter>
<filter id="b8" x="-20%" y="-20%" width="140%" height="140%"><feGaussianBlur stdDeviation="8"/></filter>
<filter id="b15" x="-20%" y="-20%" width="140%" height="140%"><feGaussianBlur stdDeviation="15"/></filter>
<filter id="b25" x="-30%" y="-30%" width="160%" height="160%"><feGaussianBlur stdDeviation="25"/></filter>
<filter id="b40" x="-30%" y="-30%" width="160%" height="160%"><feGaussianBlur stdDeviation="40"/></filter>
<filter id="b70" x="-40%" y="-40%" width="180%" height="180%"><feGaussianBlur stdDeviation="70"/></filter>
<filter id="spkA" x="0" y="0" width="100%" height="100%">
 <feTurbulence type="fractalNoise" baseFrequency="0.055" numOctaves="2" seed="3" result="n"/>
 <feColorMatrix in="n" type="matrix" values="0 0 0 0 0  0 0 0 0 0  0 0 0 0 0  -14 0 0 0 7.4" result="a"/>
 <feComposite in="SourceGraphic" in2="a" operator="in" result="c"/>
 <feGaussianBlur in="c" stdDeviation="3"/>
</filter>
<filter id="spkB" x="0" y="0" width="100%" height="100%">
 <feTurbulence type="fractalNoise" baseFrequency="0.06" numOctaves="2" seed="11" result="n"/>
 <feColorMatrix in="n" type="matrix" values="0 0 0 0 0  0 0 0 0 0  0 0 0 0 0  -14 0 0 0 7.0" result="a"/>
 <feComposite in="SourceGraphic" in2="a" operator="in" result="c"/>
 <feGaussianBlur in="c" stdDeviation="3"/>
</filter>
<filter id="spkC" x="0" y="0" width="100%" height="100%">
 <feTurbulence type="fractalNoise" baseFrequency="0.07" numOctaves="2" seed="21" result="n"/>
 <feColorMatrix in="n" type="matrix" values="0 0 0 0 0  0 0 0 0 0  0 0 0 0 0  -12 0 0 0 6.0" result="a"/>
 <feComposite in="SourceGraphic" in2="a" operator="in" result="c"/>
 <feGaussianBlur in="c" stdDeviation="3"/>
</filter>
<filter id="grain" x="0" y="0" width="100%" height="100%">
 <feTurbulence type="fractalNoise" baseFrequency="0.09" numOctaves="2" seed="5" result="n"/>
 <feColorMatrix in="n" type="matrix" values="0 0 0 0 0  0 0 0 0 0  0 0 0 0 0  -3 0 0 0 1.75" result="a"/>
 <feComposite in="SourceGraphic" in2="a" operator="in"/>
</filter>
</defs><clipPath id="cc0"><rect x="1124.7" y="13.5" width="262.3" height="252.0"/></clipPath><g clip-path="url(#cc0)"><rect x="1124.7" y="13.5" width="262.3" height="252.0" fill="#f3f3f3"/><g transform="translate(1120 10) scale(0.16284)"><path d="M180,300C183,242 172,267 200,250C228,233 312,212 350,200C388,188 413,203 430,180C447,157 428,83 450,60C472,37 538,25 560,40C582,55 557,132 580,150C603,168 655,150 700,150C745,150 800,145 850,150C900,155 942,163 1000,180C1058,197 1142,230 1200,250C1258,270 1308,275 1350,300C1392,325 1422,350 1450,400C1478,450 1512,517 1520,600C1528,683 1510,800 1500,900C1490,1000 1485,1108 1460,1200C1435,1292 1393,1390 1350,1450C1307,1510 1292,1538 1200,1560C1108,1582 917,1580 800,1580C683,1580 575,1590 500,1560C425,1530 392,1460 350,1400C308,1340 275,1283 250,1200C225,1117 212,1000 200,900C188,800 183,700 180,600C177,500 177,358 180,300Z" fill="#e2e2e2" filter="url(#b25)"/><ellipse cx="820" cy="760" rx="520" ry="560" fill="#d0d0d0" filter="url(#b70)"/><ellipse cx="300" cy="320" rx="140" ry="85" fill="#bdbdbd" transform="rotate(10 300 320)" filter="url(#b25)"/><ellipse cx="500" cy="110" rx="50" ry="80" fill="#cccccc" filter="url(#b25)"/><g filter="url(#b4)" opacity="0.75"><path d="M786 902h0M804 822h0M427 828h0M587 180h0M802 718h0M876 1026h0M1207 657h0M698 1515h0M181 363h0M278 1009h0M418 901h0M1043 219h0M465 455h0M1257 508h0M462 647h0M1040 195h0M466 438h0M986 612h0M1465 785h0M434 1179h0M1362 969h0M1124 436h0M486 901h0M1003 472h0M416 608h0M356 598h0M1400 1119h0M912 1175h0M1168 1124h0M1406 582h0M739 1257h0M1165 935h0M1116 806h0M407 1435h0M1072 346h0M1260 1448h0M362 805h0M1317 1135h0M551 300h0M243 1009h0M1024 1049h0M545 572h0M877 986h0M707 1260h0M1148 240h0M942 1394h0M1445 754h0M455 1152h0M1490 867h0M609 1441h0M647 167h0M917 1223h0M412 556h0M368 269h0M1150 1334h0M1447 799h0M295 381h0M569 1162h0M881 1339h0M598 627h0M1387 361h0M1478 847h0M449 865h0M1253 907h0M902 677h0M1417 455h0M350 708h0M437 992h0M440 390h0M612 587h0M454 1012h0M890 1351h0M1328 398h0M359 409h0M528 189h0M449 1091h0M858 1208h0M919 833h0M806 834h0M441 294h0M1254 1125h0M1023 663h0M856 1553h0M526 1443h0M1111 1222h0M657 1024h0M491 1495h0M633 1056h0M894 640h0M1041 1120h0M516 1435h0M860 1529h0M812 300h0M1447 688h0M1191 641h0M756 776h0M507 846h0M1148 761h0M773 1069h0M531 937h0M1222 857h0M544 1095h0M973 1015h0M434 423h0M543 695h0M296 1081h0M1026 615h0M462 569h0M341 1286h0M1210 368h0M915 1189h0M291 909h0M1098 500h0M282 368h0M289 508h0M337 1132h0M1404 715h0M441 908h0M904 1328h0M417 1209h0M557 74h0M909 914h0M289 1175h0M475 1219h0M842 868h0M1287 1067h0M1260 1324h0M1463 1026h0M1132 1275h0M743 265h0M593 217h0M795 939h0M1195 520h0M638 883h0M696 852h0M813 612h0M1345 835h0M896 272h0M823 762h0M1238 682h0M459 877h0M708 751h0M632 644h0M524 348h0M621 1495h0M1150 551h0M719 1329h0M1414 698h0M1047 1221h0M201 657h0M624 567h0M322 622h0M1237 1311h0M392 1220h0M915 583h0M370 1139h0M871 1142h0M444 1495h0M1425 596h0M908 904h0M534 1440h0M1285 484h0M503 923h0M223 317h0M876 446h0M1079 263h0M1016 1102h0M1187 788h0M762 912h0M885 849h0M1152 1426h0M347 728h0M1475 1065h0M1180 913h0M593 808h0M576 1461h0M813 305h0M1027 335h0M1153 522h0M1113 1484h0M495 1063h0M679 1059h0M1497 718h0M225 751h0M696 1471h0M421 896h0M662 1054h0M872 819h0M1097 842h0M995 402h0M1216 1251h0M980 1141h0M204 804h0M772 445h0M942 877h0M237 524h0M884 448h0M1105 1320h0M236 794h0M707 499h0M920 412h0M233 661h0M258 569h0M1338 950h0M800 645h0M646 323h0M807 515h0M532 645h0M662 1219h0M1362 541h0M598 693h0M454 472h0M723 635h0M1025 912h0M1104 1067h0M1344 401h0M961 1120h0M844 942h0M645 1413h0M809 987h0M666 927h0M1214 1006h0M438 392h0M841 1041h0M1017 904h0M1368 523h0M1112 1097h0M1285 286h0M563 1193h0M785 1229h0M398 1374h0M252 431h0M1247 644h0M627 1209h0M1290 914h0M1127 999h0M965 1489h0M359 1099h0M1026 651h0M237 481h0M594 1273h0M560 643h0M1110 881h0M1431 427h0M938 261h0M547 390h0M918 1052h0M551 1486h0M280 593h0M887 1288h0M1165 655h0M1289 1222h0M675 1052h0M306 556h0M463 1185h0M372 580h0M720 535h0M1360 534h0M546 1083h0M1031 622h0M464 989h0M1328 1008h0M941 216h0M1104 738h0M985 922h0M223 1006h0M975 956h0M384 762h0M1169 522h0M1506 659h0M838 401h0M1050 1484h0M1249 828h0M1134 426h0M788 866h0M443 471h0M279 895h0M838 412h0M1326 1227h0M643 1372h0M1318 990h0M457 1009h0M1155 343h0M635 526h0M553 969h0M422 237h0M1026 694h0M728 743h0M1442 573h0M1349 481h0M1087 741h0M699 1185h0M742 473h0M1459 491h0M1279 1349h0M912 193h0M809 597h0M603 1073h0M1510 649h0M1051 1120h0M1059 376h0M404 1039h0M1174 430h0M650 865h0M860 232h0M866 493h0M472 736h0M1000 1370h0M386 1300h0M1135 281h0M583 1528h0M621 793h0M941 811h0M709 501h0M526 607h0M819 592h0M847 835h0M518 456h0M620 529h0M1017 890h0M1432 1199h0M741 1087h0M1227 718h0M686 729h0M338 533h0M1298 1066h0M1458 903h0M463 679h0M759 621h0M1424 800h0M1175 296h0M649 951h0M701 924h0M660 939h0M1494 545h0M493 442h0M1285 621h0M760 991h0M1116 915h0M626 273h0M1205 937h0M514 71h0M562 467h0M1332 1356h0M909 1170h0M1064 1456h0M528 124h0M787 611h0M1444 819h0M647 398h0M938 224h0M220 919h0M1098 1357h0M878 159h0M849 344h0M833 899h0M630 1121h0M836 950h0M1001 984h0M296 840h0M1292 1100h0M957 1206h0M1212 444h0M885 556h0M790 401h0M880 433h0M622 1159h0M658 1443h0M699 249h0M1228 561h0M688 482h0M1174 773h0M372 357h0M362 1084h0M1153 1502h0M886 872h0M1201 851h0M595 1211h0M942 493h0M1483 748h0M398 306h0M1251 809h0M658 1401h0M739 872h0M962 283h0M561 189h0M645 901h0M541 924h0M799 179h0M826 1028h0M1252 401h0M1249 432h0M855 696h0M1447 794h0M569 1335h0M1298 1277h0M1409 1095h0M1134 1287h0M866 568h0M998 1443h0M1074 208h0M1110 1207h0M1015 233h0M1210 1249h0M943 1493h0M211 288h0M486 1047h0M546 328h0M569 1506h0M627 470h0M1336 865h0M656 851h0M495 770h0M343 707h0M1202 895h0M517 873h0M887 332h0M256 271h0M545 1148h0M608 1221h0M1126 743h0M323 771h0M275 455h0M766 237h0M1051 1089h0M278 642h0M1322 789h0M588 380h0M1369 436h0M1215 741h0M1233 658h0M1173 496h0M1453 1050h0M1212 870h0M961 1305h0M704 949h0M1201 1190h0M517 1126h0M1226 540h0M1453 463h0M1018 1416h0M567 1281h0M375 973h0M890 1566h0M1458 583h0M281 503h0M547 592h0M212 617h0M379 519h0M1357 376h0M600 720h0M944 978h0M479 383h0M637 718h0M1289 1450h0M410 587h0M470 1399h0M1307 877h0M653 1556h0M806 485h0M331 1343h0M866 520h0M1190 999h0M703 816h0M889 861h0M436 1378h0M1096 1105h0M789 652h0M280 420h0M1335 836h0M1037 210h0M1439 711h0M802 1427h0M470 728h0M631 930h0M204 379h0M467 152h0M627 1515h0M1271 1155h0M1031 987h0M1284 429h0M428 802h0M502 469h0M1312 1119h0M839 631h0M379 952h0M422 810h0M434 760h0M1010 1189h0M1314 966h0M380 915h0M967 644h0M561 491h0M1231 1117h0M429 646h0M1340 598h0M953 1411h0M1305 1050h0M373 662h0M993 335h0M532 603h0M620 464h0M1139 398h0M1148 1359h0M599 1182h0M1099 274h0M735 322h0M947 1079h0M228 747h0M1096 884h0M679 214h0M892 237h0M1079 1162h0M923 936h0M1218 1015h0M986 825h0M259 243h0M1242 487h0M823 590h0M747 967h0M362 1411h0M230 1044h0M241 969h0M1008 533h0M855 255h0M406 1185h0M631 687h0M308 301h0M674 311h0M991 238h0M981 984h0M995 1390h0M730 604h0M652 582h0M1252 1081h0M603 195h0M337 259h0M1356 583h0M450 488h0M1483 594h0M730 281h0M954 1422h0M1196 1034h0M890 677h0M1136 1101h0M595 716h0M936 470h0M624 1342h0M273 452h0M878 353h0M364 344h0M689 285h0M1193 1300h0M490 1426h0M503 1038h0M1220 713h0M807 610h0M287 696h0M364 949h0M489 1155h0M786 587h0M1243 443h0M1413 966h0M586 721h0M1092 354h0M563 490h0M1443 956h0M276 418h0M248 675h0M1358 595h0M316 1249h0M841 569h0M854 1260h0M1378 1158h0M799 861h0M884 1301h0M250 1198h0M817 618h0M1190 793h0M481 1169h0M730 768h0M979 1488h0M508 748h0M992 578h0M302 363h0M498 413h0M1140 768h0M1037 266h0M463 389h0M1307 1347h0M1161 1327h0M1159 791h0M1508 728h0M1386 1154h0M799 356h0M1112 1446h0M996 1167h0M1093 1443h0M992 1284h0M1003 1023h0M1293 1002h0M975 1353h0M1508 752h0M617 581h0M709 463h0M347 961h0M1255 563h0M199 504h0M571 792h0M648 478h0M1212 1119h0M355 1192h0M391 913h0M990 247h0M864 454h0M1071 1434h0M350 1144h0M1277 804h0M232 850h0M1089 219h0M1120 547h0M956 677h0M549 482h0M1000 998h0M1455 523h0M1121 398h0M657 354h0M922 866h0M921 178h0M292 1277h0M818 216h0M363 246h0M1042 1273h0M1343 1090h0M834 1445h0M1204 769h0M568 704h0M1087 1507h0M798 163h0M1276 1179h0M749 251h0M997 1375h0M394 466h0M964 1035h0M244 348h0M929 670h0M510 986h0M1181 471h0M1345 1085h0M643 1509h0M1221 259h0M546 600h0M1290 1325h0M989 1480h0M943 421h0M217 605h0M1314 882h0M992 892h0M346 717h0M1449 492h0M439 163h0M410 1030h0M1017 780h0M576 755h0M469 1169h0M1486 989h0M759 1171h0M1496 803h0M1143 988h0M765 1183h0M1030 884h0M930 179h0M1123 699h0M825 296h0M660 295h0M781 1022h0M399 588h0M902 766h0M394 397h0M1011 769h0M1258 405h0M1135 713h0M954 845h0M931 1503h0M416 803h0M252 525h0M1478 1038h0M972 1442h0M502 613h0M827 348h0M1259 461h0M1103 943h0M533 1221h0M377 1086h0M1014 725h0M1122 1331h0M932 477h0M761 1296h0M786 1224h0M715 231h0M512 960h0M1096 695h0M918 202h0M519 499h0M492 1239h0M494 823h0M271 329h0M979 749h0M1308 859h0M1215 1103h0M512 198h0M513 983h0M587 1113h0M607 523h0M755 1014h0M1209 1286h0M1482 731h0M1053 523h0M740 898h0M553 773h0M555 70h0M272 499h0M1083 1309h0M688 804h0M524 130h0M966 1138h0M1435 1153h0M919 963h0M1201 1007h0M919 434h0M805 582h0M216 849h0M719 1429h0M1062 481h0M1246 585h0M753 1541h0M1125 1335h0M1427 676h0M747 787h0M1027 267h0M505 864h0M621 1153h0M215 848h0M1232 820h0M1280 640h0M322 706h0M1162 966h0M410 1029h0M574 214h0M822 481h0M1357 878h0M1055 569h0M459 794h0M818 1571h0M1164 1227h0M699 649h0M926 1168h0M1064 1472h0M420 344h0M1004 1319h0M424 823h0M1455 692h0M1423 1040h0M273 1167h0M985 220h0M415 1269h0M232 676h0M1301 1338h0M411 533h0M228 288h0M1172 1040h0M1198 814h0M799 727h0M1236 945h0M544 1420h0M986 994h0M928 1155h0M406 1067h0M1190 1328h0M265 473h0M218 973h0M479 280h0M672 942h0M1179 354h0M1167 1271h0M1415 1282h0M1493 626h0M1409 561h0M296 1255h0M1221 821h0M759 485h0M1417 378h0M747 583h0M1012 343h0M365 823h0M277 743h0M430 315h0M1111 1377h0M984 988h0M959 173h0M742 215h0M517 806h0M982 1440h0M1108 1181h0M1411 956h0M917 862h0M582 333h0M598 1140h0M183 362h0M711 1087h0M329 1102h0M303 989h0M1001 818h0M762 1292h0M831 1410h0M966 1416h0M570 986h0M574 512h0M306 1005h0M296 1096h0M345 831h0M664 863h0M290 1026h0M380 330h0M1237 908h0M249 347h0M1045 1509h0M1005 602h0M982 985h0M766 171h0M349 454h0M1012 238h0M305 474h0M910 1047h0M438 688h0M767 1293h0M633 345h0M423 1325h0M432 523h0M1298 1325h0M650 237h0M1167 587h0M245 879h0M1275 413h0M1246 1180h0M579 1228h0M834 850h0M1299 647h0M307 698h0M349 621h0M1178 667h0M657 1257h0M1273 1245h0M271 918h0M472 72h0M1148 1129h0M1457 1013h0M848 1201h0M1451 1017h0M1102 983h0M858 672h0M254 396h0M602 551h0M1157 587h0M317 529h0M1017 1398h0M970 1387h0M540 627h0M1443 1027h0M489 1013h0M1404 760h0M425 586h0M573 1165h0M970 1112h0M570 390h0M298 220h0M363 351h0M201 269h0M1312 529h0M1234 1121h0M948 1472h0M214 729h0M1130 783h0M1193 385h0M1436 705h0M472 1053h0M564 658h0M1349 857h0M1277 841h0M1273 332h0M1397 372h0M1119 887h0M1314 533h0M1453 535h0M1304 800h0M1174 590h0M809 692h0M876 1314h0M1455 636h0M674 1187h0M1456 812h0M942 700h0M523 1521h0M783 1526h0M784 778h0M841 671h0M844 425h0M800 1212h0M1174 991h0M1337 881h0M950 1038h0M901 1442h0M1274 980h0M570 294h0M1296 893h0M1252 877h0M740 1437h0M419 1429h0M663 1187h0M1110 817h0M824 636h0M863 470h0M556 911h0M1039 1036h0M704 699h0M457 1200h0M995 866h0M865 990h0M1146 1127h0M289 737h0M838 762h0M386 427h0M1409 721h0M892 541h0M528 599h0M691 509h0M809 322h0M953 923h0M787 368h0M338 508h0M733 365h0M585 882h0M907 1165h0M1445 801h0M270 639h0M1302 803h0M1198 676h0M872 213h0M850 506h0M693 887h0M749 816h0M502 1176h0M486 920h0M1239 516h0M1027 1102h0M464 908h0M522 1228h0M360 1125h0M986 1397h0M858 666h0M1403 960h0M804 1401h0M275 842h0M982 476h0M1369 881h0M762 1491h0M896 600h0M917 489h0M1102 446h0M904 1039h0M523 918h0M1351 779h0M1478 933h0M1222 971h0M1284 1174h0M461 1167h0M1437 447h0M1238 602h0M1286 314h0M777 229h0M1097 241h0M383 1341h0M917 506h0M468 66h0M355 1086h0M1211 568h0M553 674h0M517 693h0M785 1292h0M649 1149h0M1146 1133h0M1172 1111h0M389 688h0M1113 1098h0M396 263h0M266 768h0M433 315h0M673 1399h0M1091 220h0M558 516h0M571 752h0M1167 702h0M520 330h0M1212 1155h0M1149 552h0M1172 1273h0M1410 763h0M872 903h0M272 243h0M923 399h0M1178 1477h0M900 844h0M672 158h0M490 987h0M830 1470h0M585 1015h0M847 1020h0M445 1338h0M360 459h0M1244 627h0M664 1547h0M532 203h0M602 465h0M1019 471h0M1094 1326h0M1094 582h0M931 804h0M1252 1008h0M1504 755h0M399 594h0M1144 458h0M1333 747h0M424 849h0M413 766h0M416 1057h0M281 1104h0M548 395h0M1443 1147h0M455 566h0M400 681h0M608 537h0M580 457h0M566 1326h0M464 318h0M467 1064h0M335 1069h0M600 616h0M1014 270h0M1217 1039h0M238 956h0M540 1393h0M1114 293h0M850 525h0M474 1276h0M343 1282h0M501 1066h0M455 137h0M1035 460h0M1127 1039h0M844 607h0M726 1327h0M427 1055h0M716 899h0M1198 287h0M462 360h0M789 891h0M1478 747h0M1401 715h0M238 484h0M790 1125h0M573 463h0M1047 1524h0M445 981h0M504 1461h0M699 218h0M891 1443h0M1269 1188h0M429 1328h0M910 723h0M813 1497h0M672 870h0M673 529h0M1071 996h0M821 1108h0M1272 387h0M1479 996h0M1428 655h0M999 1546h0M662 316h0M1338 863h0M588 767h0M544 392h0M493 1280h0M936 1050h0M384 399h0M1234 812h0M796 352h0M612 936h0M590 648h0M1373 898h0M874 1554h0M753 152h0M878 481h0M972 639h0M790 1461h0M1108 290h0M1071 1405h0M1070 875h0M1164 1147h0M1475 1022h0M816 718h0M633 1270h0M763 833h0M1300 1295h0M859 159h0M1193 718h0M378 487h0M503 1533h0M1064 421h0M816 504h0M716 172h0M624 308h0M355 972h0M1385 1033h0M411 1289h0M948 1066h0M568 197h0M939 567h0M440 496h0M262 796h0M570 299h0M1132 680h0M970 1135h0M932 1109h0M1176 812h0M739 766h0M1424 1226h0M758 1173h0M794 1122h0M474 353h0M1082 1190h0M693 1555h0M1402 1293h0M647 1255h0M715 676h0M1177 971h0M901 1060h0M246 1080h0M1016 540h0M307 358h0M487 215h0M389 937h0M832 1229h0M1036 874h0M1202 1036h0M855 805h0M1488 561h0M696 631h0M842 734h0M873 1454h0M330 806h0M285 931h0M384 433h0M1033 873h0M381 729h0M1243 1420h0M212 353h0M1480 570h0M725 166h0M677 1445h0M1306 286h0M332 1255h0M432 668h0M1161 748h0M522 1500h0M1257 609h0M1132 860h0M432 875h0M1101 1097h0M987 277h0M556 49h0M1486 759h0M915 1562h0M579 1434h0M962 760h0M1506 562h0M996 519h0M1330 1252h0M773 180h0M185 505h0M749 1154h0M464 830h0M236 585h0M664 551h0M488 1206h0M1227 1255h0M955 205h0M958 788h0M425 619h0M1368 444h0M1358 1413h0M383 1398h0M973 959h0M873 887h0M630 1533h0M843 178h0M181 315h0M842 710h0M300 273h0M1026 531h0M570 727h0M1322 472h0M461 450h0M933 872h0M1225 427h0M1294 1409h0M651 222h0M1291 282h0M982 558h0M1246 1275h0M346 455h0M1032 1415h0M267 576h0M1097 377h0M779 1307h0M941 950h0M454 1071h0M1397 544h0M735 1571h0M440 612h0M810 951h0M380 1040h0M584 1101h0M352 459h0M374 1279h0M339 546h0M813 708h0M1298 672h0M1462 467h0M1461 508h0M1480 651h0M1223 521h0M635 938h0M813 912h0M875 358h0M456 729h0M1125 578h0M388 507h0M307 767h0M663 1156h0M556 314h0M438 1467h0M643 630h0M202 599h0M998 553h0M754 271h0M458 1125h0M407 1204h0M875 1547h0M1354 658h0M831 1133h0M1055 1263h0M987 522h0M1234 1361h0M1063 868h0M1292 330h0M442 537h0M1224 1134h0M378 580h0M453 302h0M809 250h0M1202 1226h0M1055 785h0M766 1338h0M718 701h0M1390 1096h0M974 884h0M964 1262h0M929 290h0M783 1472h0M759 1320h0M1259 1234h0M1008 988h0M812 1101h0M263 283h0M1070 1186h0M1407 1082h0M1245 461h0M353 987h0M915 1316h0M1202 962h0M925 711h0M1151 1471h0M327 1053h0M1340 537h0M662 688h0M743 1139h0M487 902h0M1185 1534h0M743 1463h0M1182 1089h0M1013 1472h0M1035 419h0M679 283h0M1124 901h0M493 123h0M759 477h0M1160 1316h0M607 1179h0M928 998h0M833 692h0M1184 919h0M867 183h0M353 704h0M1186 1284h0M1049 1382h0M1237 918h0M468 614h0M215 302h0M1186 1031h0M438 269h0M1096 752h0M501 639h0M1448 607h0M760 600h0M1475 975h0M981 358h0M540 1440h0M317 1040h0M1213 265h0M657 669h0M1228 1492h0M791 752h0M283 587h0M366 947h0M942 531h0M1213 1367h0M1187 696h0M1249 1249h0M1203 703h0M881 1391h0M327 522h0M845 553h0M556 998h0M556 381h0M948 1397h0M799 801h0M335 1072h0M470 1039h0M1207 742h0M719 278h0M877 1216h0M865 686h0M1300 580h0M865 1499h0M465 244h0M1119 831h0M768 575h0M380 198h0M674 342h0M729 723h0M499 1451h0M910 1383h0M581 367h0M1130 799h0M652 1328h0M720 1483h0M481 889h0M1280 621h0M1407 685h0M482 1166h0M552 251h0M743 1280h0M923 1147h0M400 213h0M994 942h0M782 734h0M1000 645h0M566 694h0M357 824h0M834 1152h0M915 1196h0M1316 1242h0M1133 1382h0M1472 524h0M575 1130h0M979 299h0M463 234h0M1417 1097h0M703 781h0M977 592h0M1203 1070h0M503 936h0M1255 973h0M1134 955h0M442 815h0M1158 720h0M952 1106h0M939 497h0M1322 1222h0M1129 601h0M902 942h0M1393 1284h0M974 846h0M665 872h0M598 826h0M968 1560h0M621 316h0M1171 667h0M1306 446h0M689 1518h0M398 299h0M953 1492h0M1397 1332h0M715 1134h0M1279 960h0M1195 1461h0M560 1383h0M1059 1298h0M506 1321h0M720 216h0M564 1010h0M664 544h0M263 301h0M1009 1361h0M1376 420h0M1462 636h0M1020 259h0M1230 796h0M236 603h0M325 780h0M1475 562h0M818 1566h0M596 153h0M581 164h0M1203 612h0M1437 1075h0M1088 433h0M1382 758h0M245 926h0M443 1212h0M1206 515h0M984 434h0M781 475h0M1343 1187h0M1010 864h0M1256 762h0M1055 1350h0M1009 292h0M983 1154h0M231 432h0M371 473h0M728 565h0M1406 917h0M746 997h0M1084 493h0M1155 1334h0M898 214h0M868 342h0M1029 964h0M247 828h0M491 737h0M1353 859h0M1129 834h0M1006 467h0M645 724h0M772 450h0M883 689h0M465 1042h0M697 438h0M411 555h0M787 1502h0M465 716h0M1009 1256h0M576 267h0M319 1194h0M1413 707h0M761 192h0M666 585h0M273 537h0M561 1175h0M993 772h0M1116 621h0M748 1183h0M1063 267h0M712 1110h0M300 712h0M886 1475h0M235 643h0M1269 914h0M797 1032h0M363 590h0M392 207h0M605 559h0M1066 293h0M514 646h0M732 1043h0M1162 984h0M881 530h0M514 1023h0M1026 247h0M1396 411h0M1438 970h0M520 79h0M744 1180h0M980 1053h0M1470 722h0M494 571h0" stroke="#a8a8a8" stroke-width="12.3" stroke-linecap="round" fill="none"/><path d="M1056 988h0M200 854h0M435 413h0M1068 744h0M1306 1130h0M488 485h0M810 1550h0M541 174h0M338 419h0M436 1167h0M621 496h0M301 937h0M1341 322h0M1397 1299h0M979 492h0M453 66h0M1106 940h0M826 1165h0M948 1002h0M961 978h0M1359 1161h0M986 781h0M1413 434h0M583 1084h0M772 1413h0M695 938h0M549 370h0M1018 801h0M786 155h0M1130 919h0M362 740h0M1292 406h0M1464 1094h0M817 315h0M813 1140h0M1018 1441h0M1040 1145h0M1479 835h0M1387 774h0M353 1240h0M321 1166h0M864 426h0M891 713h0M734 855h0M1266 1430h0M602 1461h0M745 1257h0M720 1095h0M1099 331h0M376 324h0M799 1218h0M1119 1340h0M788 1179h0M1223 1295h0M724 1153h0M638 762h0M1005 1178h0M442 619h0M981 1209h0M981 603h0M1058 903h0M1140 496h0M508 106h0M1274 970h0M1016 742h0M250 853h0M1457 1171h0M1231 1002h0M317 874h0M526 1287h0M1056 1563h0M753 609h0M1110 476h0M659 1158h0M588 529h0M513 597h0M667 649h0M1053 1279h0M913 1254h0M293 1017h0M1179 1039h0M1205 647h0M1129 1449h0M1508 618h0M454 694h0M1220 316h0M427 375h0M1141 956h0M428 473h0M1275 778h0M827 380h0M1061 406h0M1136 973h0M390 536h0M1314 1306h0M542 1143h0M966 1360h0M391 1321h0M596 157h0M806 1141h0M1292 1047h0M685 1133h0M936 745h0M457 989h0M684 871h0M304 257h0M1088 1131h0M301 389h0M346 667h0M697 550h0M1065 977h0M445 168h0M952 1114h0M1275 966h0M429 884h0M1439 1054h0M1079 1176h0M973 1278h0M447 761h0M698 917h0M625 1028h0M984 764h0M1303 1357h0M1392 534h0M981 1198h0M1111 850h0M590 649h0M745 1280h0M312 1260h0M900 1505h0M507 501h0M1273 652h0M1490 768h0M442 1330h0M1345 1138h0M286 384h0M1132 343h0M970 393h0M1422 1067h0M984 478h0M562 1204h0M554 884h0M413 1241h0M496 793h0M957 808h0M1350 317h0M499 265h0M410 432h0M262 672h0M790 1187h0M502 1411h0M1164 394h0M1429 601h0M691 1243h0M400 354h0M1336 355h0M278 1105h0M548 69h0M1138 454h0M612 632h0M708 407h0M382 957h0M362 1128h0M1152 1066h0M483 490h0M469 103h0M1078 1455h0M300 699h0M261 630h0M846 471h0M719 772h0M1071 409h0M638 690h0M704 601h0M616 430h0M531 1069h0M731 680h0M1292 1395h0M362 821h0M663 1545h0M909 647h0M1478 554h0M837 908h0M498 424h0M418 831h0M317 1125h0M517 1142h0M685 1071h0M907 784h0M1206 1551h0M377 310h0M341 538h0M670 440h0M595 161h0M828 1576h0M1342 786h0M1261 650h0M1297 1156h0M216 300h0M595 832h0M462 1517h0M719 1126h0M953 390h0M669 1023h0M554 1434h0M1091 313h0M756 1523h0M727 1127h0M612 323h0M742 632h0M1394 1267h0M670 195h0M337 320h0M805 239h0M1441 979h0M1107 1174h0M596 669h0M495 932h0M1081 417h0M517 688h0M298 600h0M1149 1071h0M269 752h0M461 610h0M709 1182h0M1159 1235h0M329 1255h0M511 677h0M796 1350h0M1480 848h0M738 161h0M887 883h0M478 193h0M601 785h0M1184 791h0M725 1528h0M975 1520h0M981 608h0M996 948h0M750 1364h0M563 1087h0M1236 1029h0M332 222h0M1351 767h0M700 1239h0M451 573h0M950 436h0M791 790h0M591 1345h0M1205 1281h0M1231 376h0M897 979h0M1418 1101h0M1454 1147h0M1329 1159h0M520 491h0M356 787h0M666 1252h0M594 1383h0M427 851h0M739 788h0M932 248h0M1297 668h0M415 271h0M822 1247h0M499 1048h0M427 398h0M1239 872h0M1203 416h0M735 1564h0M199 808h0M638 1473h0M1137 1496h0M679 225h0M428 575h0M591 322h0M289 383h0M855 287h0M1314 756h0M464 70h0M803 321h0M529 993h0M814 1001h0M625 1447h0M862 1556h0M409 1154h0M1416 832h0M555 722h0M639 343h0M416 1295h0M507 1456h0M1348 518h0M839 632h0M1111 834h0M1100 1491h0M1178 425h0M958 412h0M1037 678h0M948 1186h0M242 1134h0M253 769h0M603 1555h0M862 672h0M1129 731h0M765 738h0M1016 673h0M1359 740h0M763 1046h0M638 1136h0M738 1220h0M1002 380h0M909 1560h0M888 803h0M1105 1316h0M1431 425h0M1244 1178h0M835 1111h0M1277 1364h0M1123 1117h0M484 601h0M1114 312h0M1074 1111h0M657 594h0M572 442h0M596 952h0M1108 811h0M1376 385h0M1247 995h0M908 833h0M198 268h0M973 937h0M316 1021h0M450 86h0M815 1515h0M528 1315h0M239 907h0M430 405h0M1077 1007h0M1141 800h0M1497 612h0M1206 910h0M434 1156h0M691 173h0M564 334h0M449 1026h0M406 865h0M700 770h0M1004 338h0M694 1130h0M1127 1439h0M356 1242h0M1023 471h0M434 1348h0M926 563h0M744 529h0M1006 290h0M214 393h0M1284 570h0M1087 1541h0M194 774h0M858 1278h0M1414 785h0M242 655h0M1088 272h0M776 494h0M1370 368h0M1367 784h0M266 1080h0M778 972h0M1434 556h0M1387 1258h0M584 1452h0M1391 1264h0M513 890h0M1155 754h0M845 1032h0M725 1038h0M697 1030h0M1415 506h0M521 1209h0M553 1163h0M1036 1276h0M437 225h0M1241 969h0M787 962h0M227 688h0M1343 925h0M927 190h0M1222 1071h0M1237 1311h0M972 1067h0M525 1080h0M460 226h0M815 236h0M1098 1135h0M940 263h0M699 593h0M604 608h0M691 312h0M292 331h0M1210 1175h0M1340 825h0M636 390h0M716 910h0M630 797h0M542 120h0M579 217h0M982 1439h0M401 907h0M591 1400h0M1222 464h0M1131 1166h0M1433 853h0M823 561h0M346 726h0M1081 209h0M1396 1317h0M1383 446h0M1208 824h0M884 1060h0M1071 1108h0M1092 884h0M185 653h0M484 381h0M655 562h0M1000 600h0M310 510h0M442 857h0M536 864h0M1341 1181h0M1077 440h0M585 975h0M519 1309h0M648 1228h0M264 291h0M577 399h0M842 687h0M893 198h0M997 1386h0M1296 1160h0M674 1441h0M1360 585h0M1006 1053h0M772 1284h0M1282 416h0M1450 1110h0M447 782h0M1318 1397h0M1153 1490h0M364 508h0M1291 1281h0M544 990h0M375 917h0M793 719h0M1237 917h0M375 746h0M972 440h0M457 355h0M568 1210h0M525 1036h0M998 413h0M960 539h0M1338 1149h0M927 891h0M875 739h0M485 469h0M1209 484h0M1013 632h0M417 1137h0M873 1575h0M1242 963h0M1459 962h0M914 1376h0M1048 791h0M745 966h0M912 556h0M523 1365h0M1346 715h0M1277 464h0M207 295h0M303 412h0M857 1099h0M863 314h0M1045 199h0M293 875h0M513 1241h0M352 822h0M1415 1099h0M884 589h0M825 828h0M1161 431h0M823 1178h0M1024 222h0M1164 1061h0M989 849h0M936 1034h0M994 701h0M419 817h0M568 1066h0M1350 317h0M1445 760h0M380 430h0M646 1342h0M1456 1092h0M1160 280h0M687 555h0M395 656h0M273 601h0M495 990h0M1461 732h0M596 1515h0M1106 1079h0M247 313h0M424 482h0M368 796h0M878 487h0M903 1090h0M765 981h0M505 1142h0M214 762h0M859 1105h0M837 827h0M402 451h0M1045 1066h0M1181 1180h0M669 1169h0M1024 394h0M457 1196h0M1201 453h0M1398 912h0M470 463h0M1165 890h0M578 1309h0M199 735h0M931 845h0M550 975h0M1242 592h0M1019 238h0M307 1042h0M636 534h0M787 1531h0M814 1037h0M1407 857h0M1030 912h0M964 655h0M368 1111h0M985 1301h0M200 832h0M465 938h0M1307 731h0M570 1007h0M1402 380h0M1038 260h0M990 409h0M1326 367h0M921 400h0M1474 1001h0M694 596h0M270 415h0M781 782h0M849 1275h0M1189 1238h0M1172 581h0M276 367h0M1277 1463h0M1462 1157h0M315 307h0M945 537h0M1218 1174h0M839 1488h0M301 524h0M627 302h0M480 1116h0M629 579h0M1168 606h0M959 433h0M788 429h0M234 407h0M631 700h0M462 531h0M769 380h0M1473 1019h0M415 578h0M243 657h0M533 1230h0M523 1195h0M1406 879h0M1272 1400h0M940 636h0M1226 1138h0M767 1291h0M440 668h0M726 793h0M1388 614h0M290 867h0M577 1210h0M924 1140h0M999 754h0M903 1373h0M459 996h0M639 180h0M1024 1443h0M456 194h0M663 1556h0M1015 640h0M1076 1182h0M335 226h0M817 376h0M197 533h0M1051 1441h0M1324 1321h0M1194 293h0M1061 999h0M775 675h0M228 291h0M210 622h0M1314 1363h0M924 1104h0M439 252h0M1097 1010h0M1218 358h0M1331 815h0M679 169h0M894 295h0M1091 834h0M332 1165h0M689 939h0M210 755h0M1439 719h0M1185 893h0M1415 387h0M404 499h0M1407 385h0M1007 574h0M810 1025h0M495 1518h0M665 569h0M509 1481h0M768 1332h0M355 704h0M795 1066h0M1311 1414h0M1197 1053h0M446 406h0M575 838h0M976 944h0M654 1400h0M200 549h0M862 505h0M827 1316h0M542 725h0M283 602h0M1393 528h0M587 1459h0M663 823h0M1419 669h0M1062 443h0M611 1460h0M1356 1267h0M220 856h0M1330 865h0M1203 901h0M509 1165h0M684 1475h0M384 1041h0M638 982h0M808 769h0M1181 1178h0M757 1247h0M691 166h0M688 1398h0M1292 592h0M998 588h0M1078 1373h0M1212 786h0M881 1200h0M799 1326h0M1337 581h0M1116 923h0M206 845h0M1411 1002h0M806 935h0M662 1318h0M1345 664h0M404 1178h0M229 1053h0M1075 712h0M1214 1481h0M463 615h0M456 1199h0M900 245h0M774 1504h0M1310 1345h0M1126 850h0M610 547h0M683 604h0M667 787h0M1275 1079h0M875 313h0M1365 819h0M352 311h0M381 1350h0M822 1248h0M1095 1272h0M434 1313h0M1096 1145h0M1079 296h0M1223 275h0M333 937h0M387 313h0M1172 1044h0M943 244h0M415 191h0M1329 866h0M657 1013h0M885 925h0M355 1203h0M1292 1344h0M198 540h0M462 810h0M933 734h0M1057 424h0M1327 452h0M742 292h0M835 1095h0M880 458h0M921 1114h0M330 712h0M462 1244h0M241 907h0M767 501h0M582 289h0M1107 583h0M1479 888h0M1300 1215h0M908 1004h0M1139 594h0M777 362h0M396 598h0M660 1115h0M971 1504h0M417 1113h0M1307 1408h0M538 1447h0M1145 641h0M417 1004h0M1283 589h0M382 408h0M556 878h0M541 210h0M741 206h0M559 1278h0M1157 794h0M655 824h0M1377 725h0M1388 1355h0M444 329h0M895 1416h0M1224 1367h0M475 266h0M1437 403h0M304 889h0M330 1180h0M340 434h0M1182 950h0M703 1042h0M478 1039h0M1077 909h0M1501 626h0M750 678h0M239 477h0M913 1271h0M811 1009h0M934 1450h0M662 786h0M355 930h0M1477 1039h0M1214 302h0M878 719h0M435 1351h0M446 854h0M471 894h0M563 622h0M919 369h0M522 1555h0M1080 515h0M1138 961h0M1246 1381h0M1275 1338h0M1353 1307h0M407 1281h0M645 410h0M999 1149h0M885 673h0M395 1363h0M1362 1139h0M1248 1245h0M978 725h0M1422 1273h0M1107 1427h0M646 870h0M1301 1204h0M904 536h0M679 1352h0M242 759h0M988 355h0M1141 359h0M188 535h0M526 606h0M1268 331h0M805 934h0M1390 1201h0M564 914h0M908 433h0M867 1056h0M545 1248h0M871 261h0M608 1354h0M430 915h0M1179 1253h0M1001 1393h0M1396 460h0M292 1206h0M1332 711h0M1274 545h0M844 937h0M976 1181h0M1030 486h0M694 755h0M1291 409h0M883 749h0M671 1474h0M1458 518h0M239 766h0M705 381h0M766 225h0M1314 674h0M1215 620h0M1086 1412h0M656 764h0M866 1488h0M1312 628h0M1207 826h0M245 869h0M1047 1512h0M986 443h0M922 294h0M731 455h0M994 225h0M908 268h0M797 1330h0M550 261h0M1099 890h0M1302 300h0M1077 814h0M1185 1335h0M558 1333h0M1192 318h0M915 283h0M436 502h0M851 1073h0M710 1051h0M1162 1235h0M372 367h0M559 163h0M628 495h0M857 1193h0M666 604h0M585 813h0M961 719h0M596 529h0M644 1451h0M1143 1210h0M419 887h0M1481 1038h0M408 445h0M464 197h0M633 255h0M295 341h0M750 684h0M542 690h0M318 1074h0M552 522h0M916 548h0M1397 971h0M1192 619h0M1372 712h0M1075 690h0M1327 363h0M888 424h0M1155 1054h0M1428 1263h0M894 329h0M1019 256h0M217 518h0M1405 1281h0M827 871h0M372 1401h0M457 1013h0M798 605h0M970 1158h0M935 837h0M612 600h0M547 322h0M291 253h0M1020 472h0M968 960h0M1042 858h0M703 361h0M1453 608h0M1329 1316h0M1235 1280h0M1167 739h0M844 906h0M1270 444h0M511 440h0M1331 1137h0M1076 1047h0M558 1352h0M1070 792h0M831 412h0M439 727h0M412 578h0M603 592h0M1075 861h0M1051 1132h0M1250 1462h0M433 943h0M774 1577h0M668 1110h0M1305 792h0M471 560h0M1297 1316h0M647 1485h0M326 697h0M329 852h0M412 746h0M348 863h0M630 1208h0M295 493h0M1389 635h0M393 702h0M1226 688h0M951 226h0M1096 1199h0M496 438h0M1144 811h0M1487 601h0M478 468h0M1427 596h0M458 1301h0M569 1346h0M1122 645h0M619 527h0M834 904h0M726 741h0M537 356h0M321 1304h0M531 1422h0M701 663h0M487 1377h0M1355 624h0M1010 912h0M386 1264h0M658 172h0M666 449h0M558 1155h0M857 1039h0M1277 1207h0M540 800h0M467 1459h0M1256 425h0M410 388h0M880 751h0M525 756h0M1082 706h0M1132 1270h0M197 650h0M698 700h0M1298 353h0M223 415h0M1341 989h0M1111 1394h0M355 1254h0M947 1031h0M554 225h0M843 281h0M1027 986h0M749 1411h0M687 414h0M382 1169h0M512 1179h0M203 869h0M1228 371h0M188 488h0M1362 455h0M460 1166h0M804 1201h0M483 829h0M1155 1293h0M248 614h0M1316 495h0M1044 1301h0M1305 1394h0M1297 1319h0M441 884h0M1350 326h0M838 836h0M900 1476h0M759 1139h0M634 396h0M1328 1108h0M462 828h0M1005 561h0M1306 354h0M901 375h0M535 1124h0M574 803h0M1453 840h0M783 1536h0M505 1053h0M1410 1258h0M255 787h0M1152 1405h0M1336 549h0M1373 835h0M389 541h0M1403 1147h0M704 1286h0M1129 1146h0M198 516h0M403 1151h0M977 612h0M1193 1417h0M253 669h0M987 1415h0M904 751h0M438 735h0M506 365h0M871 1022h0M750 780h0M280 586h0M450 813h0M638 1019h0M1101 1561h0M1093 1268h0M999 1212h0M1260 1137h0M843 1191h0M866 1505h0M1036 254h0M1443 891h0M795 1494h0M463 109h0M215 797h0M524 1554h0M575 1024h0M1280 948h0M935 1553h0M1112 398h0M222 842h0M645 1421h0M828 968h0M755 1390h0M839 1253h0M851 765h0M729 582h0M789 1171h0M622 1309h0M892 1422h0M841 966h0M1157 652h0M461 1357h0M493 1054h0M1129 355h0M1281 958h0M355 1193h0M868 210h0M440 857h0M279 718h0M801 1447h0M832 379h0M796 1154h0M266 1175h0M912 1220h0M687 1061h0M566 344h0M751 749h0M1177 428h0M475 675h0M250 1116h0M1189 1463h0" stroke="#a8a8a8" stroke-width="6.1" stroke-linecap="round" fill="none"/></g><g filter="url(#b4)" opacity="0.8"><path d="M816 1053h0M682 462h0M862 180h0M1013 292h0M249 304h0M1153 1530h0M917 314h0M1010 1555h0M612 1253h0M397 489h0M562 433h0M1110 243h0M646 607h0M1132 1432h0M725 538h0M599 1111h0M499 544h0M1411 812h0M1082 1061h0M701 1385h0M610 234h0M1309 977h0M455 432h0M1299 1385h0M364 1373h0M409 291h0M781 852h0M1253 818h0M736 836h0M1326 1103h0M994 1201h0M514 214h0M1005 1527h0M297 975h0M1417 964h0M1160 1312h0M635 628h0M350 873h0M317 1175h0M515 1287h0M443 1023h0M970 777h0M804 593h0M1154 812h0M837 966h0M376 391h0M1007 325h0M716 160h0M880 905h0M1315 614h0M887 998h0M475 667h0M1181 847h0M1088 1379h0M988 247h0M894 313h0M479 660h0M559 917h0M1187 1309h0M606 1475h0M415 703h0M1224 713h0M822 1420h0M1220 1128h0M1404 1041h0M398 459h0M458 716h0M415 495h0M287 449h0M1500 666h0M322 461h0M1366 435h0M486 1476h0M1113 1048h0M390 726h0M355 1000h0M260 248h0M1142 1554h0M1149 261h0M1164 1222h0M1223 933h0M914 664h0M966 1488h0M825 850h0M1500 805h0M1237 435h0M934 737h0M792 1052h0M835 740h0M1328 1216h0M344 630h0" stroke="#555" stroke-width="12.3" stroke-linecap="round" fill="none"/><path d="M1105 966h0M1066 264h0M397 1435h0M1101 559h0M747 248h0M717 685h0M819 632h0M1069 589h0M1105 1078h0M495 600h0M1266 810h0M1282 702h0M478 698h0M229 466h0M795 362h0M818 1516h0M1418 601h0M1183 1445h0M539 1227h0M504 53h0M1037 393h0M820 1006h0M553 1494h0M1113 1125h0M743 411h0M1492 902h0M1199 683h0M1387 1255h0M897 1255h0M312 584h0M1432 1101h0M1014 232h0M1119 647h0M1064 1479h0M220 791h0M420 1068h0M190 595h0M450 706h0M398 756h0M1309 425h0M1325 1321h0M901 1212h0M922 1088h0M1161 536h0M664 513h0M482 878h0M563 1482h0M733 991h0M725 625h0M715 1283h0M661 1171h0M463 1395h0M577 333h0M598 1368h0M317 1095h0M806 1016h0M553 1464h0M1094 697h0M1181 1502h0M485 1466h0M457 1205h0M908 527h0M1431 598h0M197 392h0M1506 787h0M1017 865h0M489 633h0M1178 428h0M412 884h0M953 623h0M623 814h0M412 656h0M612 605h0M1437 497h0M1061 652h0M1083 304h0M559 1335h0M794 1483h0M1187 408h0M1006 1140h0M1373 1256h0M383 1328h0M601 439h0M337 513h0M343 1321h0M888 605h0M1400 1219h0M1240 442h0M1305 1032h0M209 801h0M1381 887h0M667 482h0M562 1204h0M1014 591h0M837 679h0M939 870h0M580 1383h0M1127 355h0M1065 779h0M474 144h0M869 1077h0M1313 1084h0M406 766h0M387 351h0M416 1001h0M872 708h0M373 874h0M615 944h0M492 1165h0M996 1108h0M844 1440h0M549 886h0M1332 441h0M1357 1071h0M349 348h0M1336 322h0M1164 257h0M1306 865h0M628 1519h0M533 1151h0M1062 300h0M1175 1393h0M1337 1451h0M1178 1313h0M579 1161h0M1351 526h0M599 1139h0M656 517h0M325 693h0M1170 389h0M897 175h0M1477 999h0M289 1196h0M820 251h0M846 698h0M382 725h0M263 769h0M745 679h0M826 1354h0M622 1149h0M277 266h0M1011 303h0M1361 698h0M980 674h0M419 1091h0M1125 1375h0M905 263h0M695 998h0M779 1269h0M1077 1022h0M927 1096h0M508 1463h0M904 181h0M760 1204h0M845 1069h0M477 450h0M501 813h0M869 1037h0M778 967h0" stroke="#555" stroke-width="6.1" stroke-linecap="round" fill="none"/></g><path d="M650,520C698,493 832,487 900,490C968,493 1025,513 1060,540C1095,567 1105,613 1110,650C1115,687 1108,732 1090,760C1072,788 1032,802 1000,820C968,838 920,840 900,870C880,900 893,963 880,1000C867,1037 850,1077 820,1090C790,1103 733,1095 700,1080C667,1065 637,1038 620,1000C603,962 602,908 600,850C598,792 602,705 610,650C618,595 602,547 650,520Z" fill="#b5b5b5" filter="url(#b4)"/><g filter="url(#b4)"><ellipse cx="775" cy="525" rx="42" ry="22" fill="#000" transform="rotate(-30 775 525)"/><ellipse cx="635" cy="645" rx="50" ry="28" fill="#000" transform="rotate(-40 635 645)"/><circle cx="1060" cy="525" r="22" fill="#000"/><ellipse cx="1140" cy="660" rx="38" ry="100" fill="#000" transform="rotate(-15 1140 660)"/><ellipse cx="1150" cy="850" rx="58" ry="40" fill="#000"/><circle cx="1095" cy="820" r="26" fill="#000"/><circle cx="1022" cy="885" r="12" fill="#000"/><ellipse cx="715" cy="1095" rx="98" ry="40" fill="#000" transform="rotate(30 715 1095)"/><ellipse cx="940" cy="1105" rx="65" ry="28" fill="#000" transform="rotate(-25 940 1105)"/><circle cx="1045" cy="1095" r="36" fill="#000"/><circle cx="1155" cy="1045" r="14" fill="#000"/><circle cx="1315" cy="1055" r="10" fill="#000"/><circle cx="1070" cy="1150" r="8" fill="#000"/><circle cx="1300" cy="1020" r="6" fill="#000"/><circle cx="1020" cy="195" r="7" fill="#000"/><circle cx="415" cy="805" r="6" fill="#000"/></g><rect x="945" y="830" width="145" height="140" fill="none" stroke="#e3262e" stroke-width="15" stroke-dasharray="26,20"/></g></g>
<clipPath id="cc1"><rect x="1124.7" y="270.1" width="262.3" height="252.0"/></clipPath><g clip-path="url(#cc1)"><rect x="1124.7" y="270.1" width="262.3" height="252.0" fill="#f3f3f3"/><g transform="translate(1120 266) scale(0.16284)"><path d="M560,140C600,110 707,87 760,80C813,73 840,83 880,100C920,117 970,148 1000,180C1030,212 1038,233 1060,290C1082,347 1107,462 1130,520C1153,578 1158,590 1200,640C1242,690 1333,747 1380,820C1427,893 1473,1027 1480,1080C1487,1133 1457,1117 1420,1140C1383,1163 1317,1180 1260,1220C1203,1260 1143,1333 1080,1380C1017,1427 940,1483 880,1500C820,1517 773,1497 720,1480C667,1463 610,1443 560,1400C510,1357 463,1287 420,1220C377,1153 330,1067 300,1000C270,933 237,880 240,820C243,760 290,687 320,640C350,593 395,583 420,540C445,497 453,427 470,380C487,333 505,300 520,260C535,220 520,170 560,140Z" fill="#d2d2d2" filter="url(#b25)"/><ellipse cx="800" cy="850" rx="420" ry="480" fill="#c4c4c4" filter="url(#b70)"/><g filter="url(#b4)"><path d="M445 1059h0M508 1206h0M866 415h0M802 864h0M392 756h0M748 599h0M515 945h0M672 1396h0M1335 777h0M892 1115h0M1279 1209h0M768 905h0M1038 1289h0M908 540h0M629 140h0M625 1073h0M1039 709h0M738 400h0M805 416h0M656 991h0M488 929h0M1399 1081h0M289 943h0M473 652h0M1251 941h0M574 581h0M575 163h0M746 1061h0M901 1370h0M1172 1004h0M709 775h0M860 735h0M568 1049h0M497 787h0M1091 556h0M1139 924h0M1029 983h0M1176 983h0M517 1201h0M804 394h0M541 931h0M955 1242h0M663 1023h0M767 1061h0M930 597h0M768 364h0M1067 407h0M1153 830h0M977 1261h0M711 1466h0M1110 810h0M803 1164h0M378 805h0M1110 1266h0M408 570h0M622 439h0M1165 1116h0M1099 1194h0M786 895h0M750 525h0M631 955h0M1173 979h0M569 1145h0M1038 973h0M907 1069h0M1077 451h0M1395 974h0M967 1349h0M521 1175h0M1291 763h0M449 644h0M471 912h0M658 243h0M890 436h0M636 224h0M826 466h0M689 1199h0M793 1446h0M1064 1369h0M413 856h0M1020 832h0M852 671h0M1383 1056h0M841 624h0M832 1009h0M981 320h0M888 1202h0M1101 1190h0M828 1193h0M1026 1289h0M509 303h0M444 833h0M671 675h0M663 861h0M896 983h0M1322 815h0M1122 700h0M1135 776h0M1241 1169h0M709 891h0M449 1101h0M329 952h0M1040 570h0M683 643h0M933 722h0M1030 732h0M1057 1231h0M984 714h0M687 697h0M583 1293h0M981 761h0M780 1169h0M1051 473h0M1216 942h0M1142 882h0M277 872h0M1265 714h0M523 791h0M599 463h0M879 744h0M1008 885h0M402 855h0M988 291h0M610 1016h0M1355 942h0M1066 561h0M535 493h0M754 734h0M553 461h0M411 997h0M367 755h0M724 1207h0M602 860h0M878 1290h0M463 668h0M458 1038h0M680 1434h0M476 528h0M948 968h0M732 1329h0M954 1419h0M789 877h0M1311 897h0M439 648h0M1128 1221h0M585 559h0M843 615h0M597 759h0M1115 486h0M894 392h0M453 933h0M884 592h0M1001 1223h0M520 986h0M700 1093h0M502 852h0M1042 841h0M475 759h0M898 480h0M1070 696h0M1224 711h0M1206 1255h0M1133 737h0M1083 451h0M1173 612h0M975 686h0M1370 873h0M815 125h0M499 933h0M1093 533h0M1253 1175h0M512 781h0M1148 704h0M1056 647h0M806 1221h0M658 602h0M1206 1064h0M809 535h0M512 825h0M866 890h0M864 1385h0M701 722h0M587 263h0M818 1454h0M606 612h0M559 790h0M1236 890h0M467 498h0M1282 728h0M943 1168h0M875 942h0M1091 625h0M1096 627h0M325 753h0M747 593h0M1268 837h0M1155 1036h0M1045 1341h0M447 891h0M510 1190h0M1267 953h0M919 1396h0M1099 830h0M801 498h0M741 1193h0M1058 1367h0M810 1131h0M716 1103h0M997 554h0M670 1448h0M1080 1182h0M840 224h0M639 1291h0M970 1140h0M871 575h0M496 644h0M659 289h0M902 787h0M556 1071h0M476 615h0M668 426h0M1120 1224h0M802 1275h0M1041 1040h0M738 1293h0M1140 738h0M413 1055h0M1316 985h0M543 491h0M430 1044h0M555 406h0M1068 869h0M468 1039h0M1072 867h0M590 613h0M870 267h0M886 500h0M1243 994h0M694 745h0M788 392h0M967 364h0M377 608h0M779 480h0M786 866h0M682 275h0M1074 596h0M736 627h0M432 834h0M929 353h0M387 625h0M902 1321h0M887 486h0M708 1385h0M826 835h0M577 235h0M558 1079h0M696 991h0M880 1145h0M505 1135h0M928 863h0M543 1367h0M683 554h0M936 713h0M1093 1066h0M1210 664h0M1082 996h0M632 848h0M419 1205h0M761 945h0M1024 1240h0M753 195h0M1319 761h0M1137 711h0M1233 810h0M820 896h0M1199 1203h0M710 692h0M549 516h0M824 524h0M478 1143h0M561 726h0M398 786h0M1209 684h0M1102 1174h0M1222 721h0M512 644h0M547 1379h0M763 1348h0M705 1447h0M862 304h0M411 609h0M1178 1198h0M804 1102h0M1190 737h0M710 224h0M1129 1257h0M1114 1118h0M1366 1120h0M1089 791h0M568 354h0M1002 1040h0M1032 789h0M1334 844h0M1120 508h0M902 662h0M630 1098h0M573 487h0M684 645h0M1105 650h0M545 1291h0M974 1062h0M791 1327h0M570 470h0M398 990h0M348 971h0M1375 958h0M383 900h0M980 823h0M644 1372h0M878 643h0M1251 809h0M841 750h0M1071 1343h0M815 829h0M1159 1259h0M891 135h0M691 443h0M1216 1077h0M486 865h0M453 447h0M743 1318h0M621 1093h0M748 1446h0M569 1170h0M808 1228h0M1016 1360h0M449 766h0M496 495h0M971 540h0M944 600h0M991 1246h0M471 824h0M460 1243h0M976 1251h0M620 1206h0M1065 575h0M1155 704h0M636 550h0M878 1222h0M1317 869h0M593 558h0M549 709h0M1291 1205h0M641 987h0M776 451h0M1038 433h0M685 775h0M1184 1060h0M829 171h0M907 1373h0M1000 655h0M1154 1097h0M286 722h0M304 717h0M593 164h0M808 790h0M421 902h0M639 1334h0M743 473h0M802 649h0M1161 989h0M921 271h0M817 807h0M790 1314h0M1460 1062h0M1451 1006h0M809 1337h0M587 1023h0M875 469h0M751 115h0M1051 471h0M812 1446h0M329 1028h0M551 992h0M693 810h0M480 1011h0M683 958h0M827 543h0M793 885h0M1305 1004h0M1080 445h0M1085 1185h0M1089 1181h0M556 357h0M1032 781h0M499 416h0M473 1228h0M568 657h0M653 687h0M774 834h0M467 1015h0M317 704h0M988 1293h0M1367 809h0M764 1325h0M1127 519h0M723 1297h0M326 750h0M898 209h0M404 590h0M1181 814h0M905 291h0M373 1054h0M1111 1167h0M1003 705h0M647 718h0M662 841h0M1046 1190h0M687 877h0M468 1160h0M537 998h0M1110 620h0M990 938h0M562 290h0M566 942h0M426 565h0M742 810h0M885 300h0M568 1236h0M823 803h0M477 731h0M817 275h0M829 1433h0M798 600h0M1194 1239h0M1068 1361h0M673 1454h0M1337 911h0M1330 1175h0M568 1030h0M418 712h0M761 787h0M1120 529h0M1375 1115h0M1041 354h0M873 1108h0M813 427h0M866 217h0M404 947h0M628 1291h0M854 410h0M669 1018h0M598 1412h0M619 859h0M1193 1154h0M614 929h0M1046 1300h0M950 157h0M1207 1081h0M1064 1241h0M1188 1123h0M828 1285h0M711 708h0M1126 1214h0M829 1074h0M495 1102h0M740 250h0M1015 807h0M734 1119h0M448 1065h0M876 373h0M677 1219h0M314 689h0M965 282h0M1324 1176h0M640 1336h0M723 511h0M1079 501h0M730 1236h0M894 585h0M442 562h0M739 1357h0M381 767h0M1216 662h0M1148 1000h0M1297 877h0M431 677h0M628 1309h0M863 513h0M536 875h0M809 91h0M1084 1281h0M560 1105h0M438 1067h0M1018 1065h0M1054 490h0M729 171h0M830 296h0M563 669h0M896 206h0M532 968h0M768 823h0M737 267h0M834 1136h0M882 810h0M1184 975h0M903 1002h0M804 859h0M970 505h0M1106 662h0M740 1251h0M983 763h0M691 1191h0M888 127h0M648 510h0M453 895h0M773 1254h0M658 856h0M441 489h0M1039 533h0M518 773h0M929 441h0M680 263h0M717 1161h0M772 972h0M940 859h0M850 332h0M788 140h0M587 853h0M767 333h0M811 777h0M1204 1137h0M835 1166h0M940 942h0M1111 899h0M1013 1048h0M694 1037h0M1147 552h0M553 708h0M1318 770h0M479 965h0M1201 1008h0M518 772h0M1254 928h0M645 548h0M483 1123h0M275 860h0M958 909h0M1069 749h0M1048 790h0M508 551h0M495 334h0M980 852h0M1083 1363h0M847 412h0M755 98h0M346 1007h0M327 920h0M1177 908h0M445 1084h0M377 1055h0M764 452h0M864 516h0M700 277h0M767 587h0M762 1212h0M1238 889h0M1343 1082h0M968 592h0M1082 825h0M805 1490h0M1060 603h0M1287 1012h0M637 1130h0M1020 368h0M1380 1030h0M475 1249h0M1074 508h0M546 496h0M422 1139h0M1158 752h0M1304 857h0M535 628h0M817 1094h0M1188 631h0M562 917h0M711 1236h0M1402 1126h0M795 960h0M625 1278h0M1283 1190h0M512 1086h0M782 1002h0M542 1116h0M825 216h0M1010 870h0M791 1231h0M346 731h0M1272 1213h0M559 1228h0M772 1024h0M362 865h0M576 893h0M1096 536h0M878 1451h0M653 1397h0M1394 900h0M798 681h0M941 1240h0M1161 806h0M475 871h0M1175 1007h0M1045 669h0M943 429h0M967 1126h0M1009 640h0M330 704h0M626 879h0M535 839h0M980 1021h0M1061 783h0M426 953h0M889 1454h0M369 728h0M762 567h0M540 878h0M1099 666h0M703 1250h0M602 1183h0M981 1155h0M1332 1101h0M1226 885h0M664 562h0M492 342h0M807 1095h0M996 496h0M1109 638h0M866 1241h0M934 1318h0M790 505h0M808 707h0M862 136h0M1009 960h0M971 550h0M1033 499h0M1366 1157h0M630 1326h0M829 911h0M438 989h0M1000 443h0M1146 921h0M468 533h0M603 266h0M552 989h0M536 583h0M534 1025h0M560 559h0M539 754h0M1096 513h0M807 1053h0M516 814h0M418 1111h0M604 1313h0M1130 780h0M819 262h0M1306 933h0M923 843h0M905 1427h0M1123 1004h0M1251 714h0M1161 1131h0M529 948h0M683 1257h0M870 551h0M1211 1089h0M680 1290h0M998 315h0M1064 640h0M875 844h0M1002 533h0M1335 1100h0M1316 959h0M1327 1129h0M491 461h0M931 347h0M1156 829h0M929 666h0M793 1229h0M554 232h0M927 904h0M588 477h0M447 633h0M340 776h0M330 855h0M953 1093h0M902 727h0M986 332h0M1049 1334h0M560 578h0M1361 862h0M957 403h0M737 1059h0M573 540h0M605 1315h0M1136 857h0M877 1007h0M865 867h0M1318 904h0M1068 1383h0M679 727h0M780 733h0M1067 1186h0M688 1321h0M585 861h0M340 828h0M753 1421h0M456 958h0M1385 972h0M599 850h0M677 1244h0M1304 923h0M512 848h0M698 782h0M549 1168h0M1319 1063h0M488 1057h0M1254 1143h0M271 801h0M898 309h0M654 660h0M1057 1261h0M427 848h0M471 1144h0M693 664h0M549 1322h0M1160 1172h0M321 931h0M931 209h0M1034 470h0M814 476h0M963 1432h0M876 815h0M900 1437h0M613 994h0M1098 1196h0M401 1048h0M712 1075h0M645 1265h0M1181 1264h0M722 1022h0M662 123h0M769 798h0M688 870h0M772 1211h0M586 1248h0M832 880h0M852 1349h0M786 729h0M679 272h0M349 991h0M756 749h0M960 694h0M393 741h0M826 429h0M794 159h0M450 784h0M1032 592h0M302 904h0M1169 787h0M452 768h0M625 1291h0M598 781h0M401 731h0M821 1144h0M977 1350h0M894 974h0M1335 1130h0M355 1016h0M788 845h0M902 265h0M1120 528h0M520 407h0M700 661h0M940 311h0M1327 1150h0M1293 965h0M552 407h0M682 856h0M581 1003h0M331 992h0M546 1181h0M560 155h0M351 783h0M827 1345h0M659 251h0M1325 967h0M387 761h0M1219 844h0M335 656h0M527 987h0M1354 995h0M839 118h0M794 1049h0M516 384h0M670 1072h0M885 697h0M666 575h0M1396 935h0M951 743h0M545 1068h0M1271 1157h0M772 198h0M881 530h0M378 869h0M944 966h0M970 1205h0M802 901h0M885 1199h0M1042 1066h0M1003 702h0M479 497h0M868 1084h0M1164 719h0M825 1396h0M576 725h0M700 541h0M1013 260h0M1171 1190h0M624 130h0M1249 962h0M875 1020h0M678 755h0M298 864h0M685 271h0M772 1454h0M1090 744h0M1037 894h0M1083 532h0M491 952h0M858 765h0M820 261h0M525 948h0M1185 776h0M869 102h0M429 1043h0M296 741h0M850 1440h0M506 755h0M1124 931h0M453 851h0M995 1016h0M482 1104h0M930 860h0M943 999h0M374 1042h0M699 777h0M777 225h0M899 1058h0M1144 1093h0M784 636h0M614 761h0M796 1111h0M421 753h0M765 918h0M556 798h0M610 833h0M515 1026h0M338 915h0M324 1025h0M498 695h0M774 628h0M624 1214h0M539 881h0M326 956h0M369 957h0M615 1016h0M1315 932h0M672 485h0M1054 531h0M978 310h0M611 1369h0M478 409h0M578 728h0M552 1327h0M576 606h0M1418 1111h0M965 1020h0M1331 852h0M597 221h0M980 938h0M637 802h0M936 667h0M1030 1018h0M1013 741h0M1306 869h0M1096 1256h0M453 560h0M735 1200h0M321 765h0M643 535h0M922 755h0M627 686h0M526 1177h0M523 727h0M1093 455h0M966 899h0M427 1222h0M884 553h0M409 810h0M1014 1399h0M992 964h0M945 448h0M1261 927h0M753 1263h0M783 979h0M1046 1366h0M277 806h0M975 1361h0M1098 988h0M376 925h0M780 929h0M1237 1158h0M1235 958h0M567 935h0M1001 1223h0M1215 917h0M868 1302h0M656 1077h0M905 753h0M1323 1094h0M801 954h0M748 1480h0M460 1261h0M890 1068h0M1285 914h0M480 991h0M898 1405h0M1297 819h0M487 880h0M903 911h0M488 771h0M386 1010h0M607 1340h0M898 867h0M1065 1042h0M886 417h0M748 494h0M662 539h0M1065 950h0M838 932h0M249 815h0M462 1214h0M1204 917h0M976 947h0M912 305h0M954 726h0M395 725h0M1222 713h0M874 141h0M1098 1227h0M1114 740h0M535 237h0M1444 1012h0M1393 981h0M674 997h0M695 1336h0M718 642h0M1122 963h0M619 1048h0M871 1276h0M439 1027h0M1201 661h0M360 739h0M1115 925h0M1027 1353h0M1146 569h0M1010 849h0M1076 623h0M727 772h0M927 316h0M731 427h0M694 1276h0M731 1413h0M1340 972h0M1195 1072h0M881 672h0M841 858h0M820 594h0M676 522h0M309 983h0M403 825h0M874 1374h0M869 1497h0M713 992h0M934 627h0M1133 1055h0M1225 674h0M439 1059h0M845 792h0M745 831h0M676 1376h0M1131 915h0M774 333h0M350 1016h0M686 287h0M891 808h0M727 610h0M955 1183h0M848 663h0M923 1143h0M935 945h0M529 881h0M768 534h0M1327 1171h0M1176 867h0M540 464h0M1101 586h0M889 537h0M562 844h0M286 912h0M492 764h0M620 478h0M538 912h0M547 835h0M531 1063h0M1020 555h0M311 844h0M921 703h0M1294 1183h0M1149 793h0M643 461h0M717 555h0M890 1128h0M575 706h0M840 1261h0M1214 705h0M531 369h0M972 196h0M765 1092h0M721 1347h0M828 1437h0M499 1285h0M1250 873h0M870 729h0M626 199h0M1040 661h0M394 651h0M1402 1005h0M580 1135h0M908 828h0M1021 982h0M791 910h0M846 845h0M547 482h0M326 768h0M472 539h0M384 628h0M1003 921h0M954 1418h0M1085 918h0M868 395h0M818 377h0M1436 1075h0M610 483h0M748 1142h0M517 1163h0M1021 281h0M825 978h0M1164 780h0M637 707h0M660 957h0M493 893h0M974 673h0M1380 1093h0M553 571h0M720 100h0M1247 1021h0M799 876h0M680 371h0M709 1308h0M942 884h0M974 451h0M1130 775h0M589 870h0M476 1191h0M972 1400h0M913 943h0M310 702h0M445 542h0M988 475h0M765 1426h0M658 221h0" stroke="#111" stroke-width="12.3" stroke-linecap="round" fill="none"/><path d="M528 410h0M648 787h0M1176 1163h0M855 778h0M620 227h0M1087 1040h0M1165 760h0M1121 1321h0M457 1090h0M985 802h0M546 1080h0M346 761h0M1017 1157h0M1107 1050h0M719 953h0M926 193h0M1161 737h0M555 1280h0M717 467h0M1120 781h0M1083 389h0M676 951h0M905 1332h0M928 1181h0M1065 379h0M538 682h0M967 1220h0M1064 906h0M484 403h0M839 158h0M982 1064h0M705 436h0M348 776h0M903 244h0M634 1377h0M283 788h0M596 208h0M789 409h0M618 549h0M1082 1176h0M1016 468h0M1000 1136h0M1123 667h0M1015 524h0M1024 1242h0M951 867h0M617 695h0M538 565h0M1056 752h0M895 1365h0M534 691h0M707 360h0M530 344h0M1134 1037h0M741 1447h0M1142 651h0M1252 1162h0M750 995h0M649 403h0M304 930h0M924 917h0M1038 1014h0M1074 724h0M1247 807h0M848 950h0M1013 970h0M778 1471h0M1124 835h0M627 762h0M924 694h0M487 1119h0M1005 845h0M792 601h0M614 249h0M1251 832h0M1008 1421h0M546 821h0M789 271h0M544 1353h0M805 914h0M775 1384h0M678 394h0M762 1132h0M543 808h0M796 195h0M1249 865h0M612 1207h0M824 940h0M618 1317h0M666 567h0M1018 668h0M929 1421h0M511 1099h0M713 268h0M800 264h0M836 1486h0M1031 678h0M972 365h0M1344 923h0M1309 841h0M1314 1118h0M807 1269h0M1474 1076h0M1231 844h0M834 1084h0M948 351h0M793 523h0M1161 894h0M648 272h0M1098 1134h0M488 801h0M725 1142h0M582 599h0M693 1269h0M546 606h0M568 878h0M1393 1135h0M818 238h0M563 1241h0M297 903h0M758 1365h0M473 784h0M301 974h0M681 388h0M805 470h0M1149 696h0M1108 608h0M909 947h0M615 890h0M634 581h0M1060 1289h0M414 970h0M1203 1240h0M549 1382h0M1155 1018h0M509 888h0M1032 647h0M462 656h0M1120 1070h0M859 826h0M950 1062h0M1066 366h0M882 997h0M809 330h0M1026 930h0M1296 815h0M558 973h0M855 928h0M393 730h0M951 1190h0M702 1324h0M478 666h0M982 1348h0M777 683h0M375 734h0M932 1298h0M1310 805h0M971 180h0M1285 1052h0M781 359h0M639 361h0M457 497h0M1301 970h0M837 555h0M955 979h0M932 1364h0M651 616h0M817 1472h0M1341 1162h0M780 1438h0M777 1384h0M1042 537h0M536 916h0M1321 885h0M1005 1142h0M397 1035h0M568 457h0M673 115h0M1277 958h0M1001 470h0M470 486h0M521 876h0M1070 343h0M1133 1181h0M630 455h0M681 465h0M631 210h0M1207 766h0M1306 973h0M1089 989h0M442 1124h0M1451 1072h0M1118 494h0M488 805h0M898 637h0M730 660h0M689 1196h0M641 1233h0M375 721h0M930 802h0M391 952h0M325 872h0M828 339h0M873 704h0M582 884h0M1098 931h0M704 1427h0M947 1222h0M1072 1368h0M1147 1084h0M725 719h0M897 690h0M780 127h0M505 1221h0M1025 853h0M1295 933h0M1185 663h0M835 1032h0M727 421h0M1184 743h0M759 335h0M873 1268h0M350 795h0M706 523h0M758 912h0M753 566h0M651 137h0M646 697h0M875 1121h0M1282 1009h0M408 971h0M757 642h0M1305 939h0M845 750h0M517 1275h0M1026 1109h0M893 728h0M682 1371h0M1108 696h0M1029 1077h0M772 1345h0M422 617h0M1027 1164h0M1078 1180h0M930 557h0M1025 477h0M622 1062h0M1036 902h0M588 436h0M701 196h0M909 1237h0M847 1337h0M1270 759h0M1374 1135h0M977 977h0M1113 695h0M698 731h0M841 1290h0M1245 1141h0M655 1438h0M655 1087h0M666 646h0M662 148h0M1085 429h0M752 237h0M887 523h0M1037 398h0M934 1177h0M857 104h0M605 494h0M1458 1073h0M722 938h0M840 917h0M790 880h0M1171 664h0M1253 1005h0M640 236h0M760 561h0M1371 987h0M957 1325h0M645 1111h0M888 1259h0M698 949h0M968 1414h0M517 1057h0M594 1335h0M579 1317h0M981 1299h0M910 676h0M1173 1186h0M590 756h0M1004 1342h0M349 957h0M954 449h0M772 495h0M568 421h0M860 1188h0M731 1280h0M751 1432h0M708 340h0M1020 487h0M801 1050h0M597 1325h0M659 1388h0M340 761h0M1138 1264h0M945 156h0M664 151h0M677 261h0M851 1323h0M1302 975h0M492 879h0M1150 1259h0M724 517h0M699 266h0M1282 793h0M822 607h0M1026 987h0M788 1026h0M798 386h0M559 792h0M1068 1322h0M733 1451h0M883 911h0M682 514h0M475 589h0M670 398h0M933 829h0M910 616h0M709 526h0M949 392h0M704 627h0M1042 777h0M600 1103h0M368 712h0M291 816h0M647 533h0M814 955h0M523 1158h0M1206 1073h0M1343 968h0M1134 973h0M696 645h0M1215 1189h0M645 1415h0M572 953h0M989 1265h0M854 618h0M1185 1103h0M651 847h0M630 967h0M1288 885h0M470 596h0M595 651h0M946 787h0M1181 1017h0M891 792h0M984 875h0M788 1465h0M826 1374h0M841 320h0M1123 1341h0M462 539h0M486 1253h0M606 213h0M846 483h0M268 834h0M1068 875h0M377 1051h0M591 641h0M989 634h0M515 1286h0M1030 1065h0M439 1020h0M1307 1001h0M364 1036h0M1278 1061h0M719 942h0M1375 1074h0M944 205h0M1035 1378h0M602 1019h0M659 1263h0M535 1294h0M935 816h0M448 758h0M1070 359h0M867 681h0M657 240h0M967 1361h0M446 744h0M420 1082h0M1060 687h0M801 932h0M1132 1049h0M500 557h0M1145 823h0M786 1405h0M742 139h0M789 585h0M1127 1218h0M1208 992h0M1108 1225h0M1067 1133h0M786 1180h0M1117 596h0M1086 538h0M366 785h0M549 535h0M1003 450h0M722 1178h0M1168 848h0M524 1255h0M993 473h0M1402 1026h0M495 365h0M490 807h0M1294 970h0M463 676h0M745 684h0M852 520h0M683 903h0M849 609h0M543 1008h0M1244 694h0M824 712h0M1211 653h0M780 977h0M859 1155h0M957 699h0M532 912h0M602 1205h0M463 590h0M895 1218h0M849 987h0M885 497h0M1379 839h0M1326 884h0M356 1088h0M805 1327h0M504 830h0M1376 1011h0M1062 580h0M735 561h0M567 1400h0M893 659h0M948 720h0M593 736h0M334 774h0M1084 501h0M630 1285h0M1317 789h0M615 816h0M642 1108h0M894 518h0M1338 914h0M382 1057h0M1036 906h0M998 722h0M723 832h0M583 745h0M1136 897h0M838 718h0M941 668h0M1072 1348h0M1227 1236h0M1002 981h0M852 796h0M560 406h0M1076 1049h0M953 434h0M536 763h0M1049 500h0M798 1008h0M391 1115h0M690 800h0M1088 1188h0M621 679h0M1245 777h0M1028 663h0M408 860h0M522 303h0M879 503h0M581 1388h0M389 1156h0M613 486h0M692 791h0M743 1252h0M998 737h0M875 539h0M1027 1310h0M1096 703h0M1202 750h0M952 1162h0M676 703h0M566 1151h0M802 557h0M693 164h0M1124 1230h0M435 1062h0M1144 872h0M772 239h0M762 1217h0M819 1473h0M1407 910h0M826 1235h0M461 493h0M1086 786h0M735 1335h0M607 1421h0M909 255h0M889 1381h0M1307 842h0M961 1021h0M827 1154h0M878 467h0M334 794h0M1464 1049h0M483 568h0M893 415h0M489 1035h0M725 1469h0M1094 1273h0M1240 993h0M368 602h0M598 1382h0M903 1075h0M509 564h0M874 719h0M761 202h0M679 1062h0M583 693h0M815 1358h0M597 278h0M1089 1074h0M941 1140h0M594 289h0M1019 529h0M1020 672h0M607 1346h0M696 928h0M687 384h0M853 1383h0M303 993h0M1058 802h0M375 618h0M631 1121h0M657 493h0M695 202h0M717 500h0M1313 1107h0M1081 679h0M949 786h0M1147 1317h0M768 1132h0M1125 1120h0M488 774h0M333 827h0M871 177h0M1347 829h0M638 588h0M651 530h0M654 1152h0M566 738h0M627 1370h0M432 914h0M1036 534h0M656 469h0M1245 896h0M983 1021h0M475 515h0M902 697h0M592 282h0M296 892h0M756 1426h0M768 604h0M338 946h0M947 833h0M658 749h0M1090 848h0M406 955h0M946 882h0M295 765h0M1044 895h0M1374 1132h0M695 1049h0M759 646h0M357 1090h0M301 779h0M656 1201h0M387 945h0M983 1118h0M989 1346h0M794 1293h0M1017 1160h0M1192 1231h0M473 407h0M958 271h0M715 546h0M556 633h0M523 935h0M1031 324h0M570 301h0M842 643h0M1149 1106h0M1037 1016h0M778 848h0M1043 583h0M788 390h0M780 201h0M1292 1191h0M934 1419h0M773 869h0M349 1034h0M910 919h0M906 381h0M951 893h0M762 1231h0M762 1074h0M699 1008h0M668 630h0M1170 1295h0M1371 1044h0M769 915h0M448 982h0M689 1462h0M579 1061h0M711 1400h0M1281 1147h0M1191 1016h0M436 597h0M807 697h0M762 373h0M1112 844h0M678 1006h0M348 625h0M1050 747h0M610 497h0M1397 873h0M1194 1121h0M1201 870h0M1038 796h0M541 660h0M496 965h0M789 929h0M961 689h0M695 1046h0M734 1455h0M1261 917h0M865 1255h0M741 831h0M1329 844h0M1203 976h0M416 799h0M917 1182h0M751 545h0M697 1225h0M927 1426h0M1015 1023h0M1200 875h0M1083 891h0M917 1030h0M1148 1108h0M497 376h0M777 796h0M846 268h0M721 1046h0M1291 1045h0M807 189h0M300 740h0M921 588h0M821 1379h0M1166 1011h0M737 1418h0M419 612h0M1094 1253h0M396 737h0M1391 1038h0M568 138h0M834 904h0M419 995h0M585 151h0M765 195h0M508 855h0M1058 313h0M1324 922h0M948 1180h0M866 722h0M581 826h0M1073 739h0M626 597h0M1012 356h0M1038 1049h0M1052 723h0M918 1076h0M298 727h0M977 235h0M748 1318h0M1036 591h0M1075 594h0M788 1004h0M1057 518h0M925 612h0M594 289h0M602 252h0M711 1061h0M1153 797h0M1268 969h0M937 1125h0M1001 932h0M637 941h0M461 887h0M1022 1367h0M733 723h0M768 1315h0M563 1047h0M627 887h0M758 1144h0M371 1011h0M748 509h0M802 1075h0M1011 373h0M497 480h0M514 761h0M593 793h0M570 1055h0M800 754h0M687 354h0M552 1318h0M384 880h0M958 1357h0M1096 637h0M894 745h0M775 1423h0M1135 651h0M1110 1319h0M941 1362h0M496 1091h0M373 597h0M1343 927h0M731 1398h0M715 1410h0M356 988h0M1028 1137h0M532 457h0M483 1060h0M733 363h0M1117 566h0M822 1431h0M462 918h0M1048 1357h0M970 693h0M862 1465h0M1241 1125h0M790 952h0M840 425h0M561 1238h0M1132 761h0M837 722h0M689 816h0M920 1118h0M813 684h0M901 1401h0M421 1007h0M998 1421h0M1176 845h0M1359 880h0M636 638h0M614 839h0M654 323h0M465 914h0M1366 1020h0M562 601h0M595 751h0M1103 1292h0M395 1113h0M572 1118h0M362 937h0M461 772h0M532 497h0M383 638h0M1086 900h0M406 847h0M1113 1167h0M1000 1008h0M1436 1035h0M529 1256h0M862 372h0M638 635h0M820 1175h0M968 1421h0M447 575h0M843 1228h0M598 806h0M1133 698h0M511 416h0M1358 998h0M762 1255h0M1032 1139h0M987 849h0M510 784h0M712 1280h0M1243 1151h0" stroke="#111" stroke-width="18.4" stroke-linecap="round" fill="none"/><path d="M1200 766h0M560 492h0M903 472h0M743 1441h0M708 1088h0M864 860h0M1182 716h0M628 523h0M782 956h0M803 1350h0M1222 1248h0M1166 1158h0M324 807h0M1084 1008h0M677 836h0M689 198h0M909 1237h0M889 1351h0M645 546h0M1014 1283h0M492 1073h0M1203 1102h0M647 1346h0M774 1023h0M719 274h0M447 571h0M1126 771h0M734 706h0M610 1164h0M906 245h0M704 564h0M494 810h0M921 1210h0M665 1423h0M849 1363h0M944 1397h0M960 463h0M1041 527h0M991 895h0M884 699h0M546 748h0M655 1113h0M1080 1211h0M659 139h0M698 904h0M1379 1066h0M893 236h0M529 851h0M656 201h0M456 1062h0M318 659h0M296 862h0M792 1112h0M351 950h0M957 607h0M704 939h0M488 702h0M811 1288h0M1236 753h0M1203 724h0M883 309h0M1156 979h0M457 1103h0M727 536h0M964 826h0M303 719h0M1196 1266h0M378 667h0M798 247h0M883 694h0M366 964h0M381 784h0M1022 1257h0M1018 534h0M1381 880h0M620 780h0M590 788h0M927 869h0M1352 1025h0M887 1010h0M1029 441h0M662 1358h0M641 399h0M776 108h0M782 835h0M709 1143h0M1097 699h0M855 486h0M658 1125h0M998 621h0M600 672h0M1122 550h0M698 1458h0M1031 1178h0M685 451h0M971 690h0M1298 1076h0M720 362h0M840 902h0M600 642h0M682 676h0M447 489h0M785 1383h0M272 899h0M1084 1199h0M829 1117h0M844 256h0M748 888h0M500 1313h0M639 256h0M574 695h0M886 1112h0M1252 916h0M1083 710h0M580 837h0M1137 606h0M1302 963h0M735 1448h0M424 703h0M1330 1061h0M701 543h0M419 973h0M1070 1378h0M1413 1009h0M496 628h0M505 449h0M602 151h0M1380 1098h0M1120 935h0M1156 876h0M793 752h0M568 235h0M582 665h0M1104 890h0M424 696h0M922 348h0M1018 1177h0M723 1336h0M499 388h0M898 1431h0M997 1152h0M1437 1110h0M1130 905h0M498 1105h0M1304 970h0M1005 1299h0M806 749h0M499 842h0M979 346h0M328 953h0M842 664h0M562 1254h0M822 103h0M910 1150h0M790 936h0M988 708h0M444 651h0M774 1242h0M776 184h0M1196 760h0M1150 1011h0M539 1317h0M995 550h0M856 965h0M448 775h0M336 1008h0M986 797h0M904 812h0M826 990h0M783 1234h0M323 921h0M1009 398h0M937 215h0M1269 750h0M837 1046h0M847 663h0M991 681h0M602 1388h0M488 1131h0M838 578h0M604 1340h0M1044 779h0M540 1185h0M685 300h0M500 1215h0M419 871h0M692 1403h0M938 495h0M893 638h0M543 1152h0M636 1128h0M1080 654h0M1011 1140h0M773 1364h0M561 927h0M1113 952h0M1019 760h0M903 989h0M1319 1032h0M481 879h0M371 750h0M628 330h0M542 214h0M1263 765h0M429 595h0M364 841h0M1020 944h0M381 1108h0M1168 1138h0M533 455h0M1021 695h0M374 1026h0M831 1128h0M819 1474h0M986 1190h0M1240 823h0M369 995h0M506 675h0M1040 735h0M1390 909h0M748 946h0M547 1317h0M581 1200h0M1177 992h0M812 1187h0M1052 1165h0M1219 773h0M1217 1222h0M661 702h0M1110 556h0M596 897h0M608 379h0M652 790h0M816 684h0M395 939h0M396 910h0M824 1029h0M923 675h0M641 832h0M851 216h0M1411 968h0M606 1270h0M1001 1092h0M294 931h0M919 1015h0M1110 1224h0M714 342h0M510 1091h0M549 591h0M556 1074h0M780 1168h0M582 1329h0M1083 970h0M681 547h0M353 1082h0M951 745h0M1134 1155h0M1089 1357h0M1300 1141h0M1124 1129h0M934 544h0M806 1182h0M900 1257h0M965 1099h0M1068 970h0M894 418h0M338 1027h0M376 586h0M583 980h0M772 797h0M1228 708h0M789 286h0M808 1271h0M1103 1102h0M847 1265h0M981 466h0M1040 706h0M632 156h0M838 1229h0M958 888h0M1116 834h0M475 1264h0M446 578h0M427 639h0M1449 1021h0M1141 559h0M409 1134h0M644 1133h0M1206 796h0M1031 1130h0M676 383h0M1072 1298h0M511 474h0M857 904h0M1012 207h0M781 875h0M838 1305h0M919 931h0M358 664h0M450 959h0M587 205h0M392 1106h0M472 575h0M586 965h0M897 1212h0M899 1448h0M791 1294h0M585 889h0M738 828h0M558 268h0M414 842h0M582 1174h0M697 1036h0M527 916h0M647 232h0M552 1121h0M466 594h0M500 771h0M874 1249h0M868 759h0M1275 1119h0M1296 744h0M788 842h0M977 1210h0M975 840h0M595 539h0M677 449h0M1393 1092h0M899 1454h0M547 555h0M801 1376h0M1009 946h0M803 899h0M1009 1092h0M882 745h0M718 1458h0M1274 1203h0M777 852h0M753 974h0M831 1043h0M1468 1063h0M1233 936h0M859 597h0M758 351h0M735 1444h0M781 1169h0M1181 651h0M931 549h0M1043 1165h0M1099 492h0M894 529h0M781 1277h0M631 1266h0M1039 591h0M1072 361h0M766 1252h0M1327 827h0M852 412h0M784 774h0M1078 1198h0M647 1051h0M947 254h0M511 1295h0M828 981h0M1162 1126h0M735 1074h0M957 1408h0M573 1123h0M535 1103h0M333 896h0M631 1183h0M725 1146h0M1097 857h0M1114 558h0M674 1246h0M628 569h0M577 880h0M539 729h0M865 1460h0M895 999h0M606 199h0M922 970h0M1275 996h0M1212 775h0M1138 903h0M533 502h0M848 959h0M469 1044h0M539 746h0M1093 1095h0M1192 1097h0M1311 874h0M559 969h0M771 345h0M882 527h0M822 746h0M358 809h0M852 266h0M1248 761h0M600 327h0M1121 1028h0M848 1069h0M1131 1090h0M668 605h0M1308 1001h0" stroke="#111" stroke-width="6.1" stroke-linecap="round" fill="none"/></g><g filter="url(#b4)"><path d="M1163 113h0M1163 58h0M1129 131h0M1224 66h0M1131 178h0M1088 232h0M1122 123h0M1166 63h0M1212 83h0M1160 67h0M1091 249h0M1040 246h0M1059 160h0M1038 171h0M1150 162h0M1103 188h0M1146 144h0M1012 205h0" stroke="#777" stroke-width="12.3" stroke-linecap="round" fill="none"/><path d="M1058 279h0M1065 278h0M1167 70h0M1093 177h0M1149 167h0M1089 137h0M1128 128h0M1050 207h0M1159 112h0M1173 137h0M1217 69h0M1209 30h0M1212 29h0M1125 183h0M1164 73h0M1206 47h0M1163 107h0M1119 132h0M1205 51h0M1168 117h0M1195 79h0M1146 102h0" stroke="#777" stroke-width="6.1" stroke-linecap="round" fill="none"/></g><g filter="url(#b4)"><circle cx="760" cy="540" r="30" fill="#000"/><ellipse cx="780" cy="610" rx="42" ry="25" fill="#000"/><circle cx="815" cy="645" r="25" fill="#000"/><circle cx="690" cy="800" r="32" fill="#000"/><ellipse cx="1040" cy="830" rx="30" ry="45" fill="#000"/><circle cx="630" cy="960" r="28" fill="#000"/><circle cx="600" cy="430" r="25" fill="#000"/><circle cx="1210" cy="850" r="20" fill="#000"/><circle cx="870" cy="1220" r="26" fill="#000"/><circle cx="420" cy="760" r="20" fill="#000"/><circle cx="440" cy="860" r="22" fill="#000"/><circle cx="560" cy="770" r="18" fill="#000"/><circle cx="480" cy="720" r="20" fill="#000"/><circle cx="650" cy="680" r="20" fill="#000"/><circle cx="1000" cy="630" r="18" fill="#000"/><circle cx="930" cy="630" r="15" fill="#000"/><circle cx="1100" cy="990" r="20" fill="#000"/><circle cx="1100" cy="1080" r="18" fill="#000"/><circle cx="670" cy="1030" r="18" fill="#000"/><circle cx="720" cy="680" r="18" fill="#000"/><circle cx="830" cy="520" r="14" fill="#000"/><circle cx="950" cy="750" r="15" fill="#000"/><circle cx="560" cy="940" r="16" fill="#000"/><circle cx="780" cy="1000" r="15" fill="#000"/><circle cx="930" cy="1250" r="18" fill="#000"/></g><rect x="820" y="150" width="115" height="100" fill="none" stroke="#e3262e" stroke-width="15" stroke-dasharray="26,20"/></g></g>
<clipPath id="cc2"><rect x="1124.7" y="526.7" width="262.3" height="252.0"/></clipPath><g clip-path="url(#cc2)"><rect x="1124.7" y="526.7" width="262.3" height="252.0" fill="#f3f3f3"/><g transform="translate(1120 522) scale(0.16284)"><path d="M30,1250C58,1180 138,1180 200,1180C262,1180 333,1230 400,1250C467,1270 537,1283 600,1300C663,1317 738,1300 780,1350C822,1400 975,1558 850,1600C725,1642 167,1658 30,1600C-107,1542 2,1320 30,1250Z" fill="#d3d3d3" filter="url(#b15)"/><path d="M60,700C72,650 88,630 120,600C152,570 203,557 250,520C297,483 363,433 400,380C437,327 437,237 470,200C503,163 562,177 600,160C638,143 658,107 700,100C742,93 808,103 850,120C892,137 918,180 950,200C982,220 1022,207 1040,240C1058,273 1050,357 1060,400C1070,443 1085,460 1100,500C1115,540 1125,590 1150,640C1175,690 1217,760 1250,800C1283,840 1308,867 1350,880C1392,893 1465,867 1500,880C1535,893 1540,923 1560,960C1580,997 1607,1043 1620,1100C1633,1157 1643,1242 1640,1300C1637,1358 1632,1408 1600,1450C1568,1492 1525,1530 1450,1550C1375,1570 1242,1578 1150,1570C1058,1562 958,1532 900,1500C842,1468 833,1413 800,1380C767,1347 750,1338 700,1300C650,1262 567,1183 500,1150C433,1117 367,1108 300,1100C233,1092 142,1133 100,1100C58,1067 57,967 50,900C43,833 48,750 60,700Z" fill="#b2b2b2" filter="url(#b15)"/><ellipse cx="820" cy="1010" rx="210" ry="190" fill="#e0e0e0" filter="url(#b15)"/><g filter="url(#b4)"><circle cx="520" cy="690" r="54" fill="#000"/><circle cx="610" cy="860" r="60" fill="#000"/><circle cx="575" cy="1040" r="54" fill="#000"/><circle cx="615" cy="765" r="43" fill="#000"/><circle cx="480" cy="825" r="35" fill="#000"/><circle cx="510" cy="930" r="49" fill="#000"/><circle cx="400" cy="1015" r="38" fill="#000"/><circle cx="465" cy="1055" r="29" fill="#000"/><circle cx="400" cy="757" r="32" fill="#000"/><circle cx="295" cy="745" r="26" fill="#000"/><circle cx="300" cy="850" r="26" fill="#000"/><circle cx="300" cy="920" r="32" fill="#000"/><circle cx="510" cy="1120" r="29" fill="#000"/><circle cx="440" cy="515" r="35" fill="#000"/><circle cx="490" cy="480" r="26" fill="#000"/><circle cx="515" cy="455" r="21" fill="#000"/><circle cx="320" cy="570" r="24" fill="#000"/><circle cx="345" cy="585" r="21" fill="#000"/><circle cx="520" cy="595" r="26" fill="#000"/><circle cx="630" cy="455" r="21" fill="#000"/><circle cx="635" cy="530" r="17" fill="#000"/><circle cx="650" cy="575" r="32" fill="#000"/><circle cx="715" cy="590" r="47" fill="#000"/><circle cx="690" cy="695" r="38" fill="#000"/><circle cx="780" cy="735" r="49" fill="#000"/><circle cx="760" cy="520" r="24" fill="#000"/><circle cx="815" cy="530" r="26" fill="#000"/><circle cx="925" cy="520" r="24" fill="#000"/><circle cx="900" cy="660" r="43" fill="#000"/><circle cx="930" cy="735" r="38" fill="#000"/><circle cx="1020" cy="790" r="38" fill="#000"/><circle cx="990" cy="890" r="43" fill="#000"/><circle cx="1110" cy="925" r="49" fill="#000"/><circle cx="1125" cy="1030" r="43" fill="#000"/><circle cx="1115" cy="1130" r="49" fill="#000"/><circle cx="1040" cy="1160" r="43" fill="#000"/><circle cx="1185" cy="1150" r="32" fill="#000"/><circle cx="1125" cy="1240" r="38" fill="#000"/><circle cx="870" cy="1240" r="49" fill="#000"/><circle cx="940" cy="1250" r="43" fill="#000"/><circle cx="995" cy="1245" r="32" fill="#000"/><circle cx="990" cy="1305" r="32" fill="#000"/><circle cx="870" cy="1315" r="21" fill="#000"/><circle cx="1190" cy="1300" r="26" fill="#000"/><circle cx="1240" cy="1325" r="26" fill="#000"/><circle cx="1250" cy="1070" r="40" fill="#000"/><circle cx="1315" cy="1050" r="24" fill="#000"/><circle cx="1380" cy="1010" r="24" fill="#000"/><circle cx="1395" cy="1160" r="29" fill="#000"/><circle cx="1315" cy="1230" r="24" fill="#000"/><circle cx="1335" cy="1370" r="21" fill="#000"/><circle cx="1335" cy="1315" r="21" fill="#000"/><circle cx="1480" cy="1215" r="24" fill="#000"/><circle cx="1195" cy="1230" r="21" fill="#000"/><circle cx="675" cy="1200" r="26" fill="#000"/><circle cx="420" cy="1540" r="24" fill="#000"/><circle cx="550" cy="1500" r="15" fill="#000"/><circle cx="770" cy="335" r="17" fill="#000"/><circle cx="810" cy="355" r="15" fill="#000"/><circle cx="730" cy="430" r="15" fill="#000"/><circle cx="665" cy="355" r="13" fill="#000"/><circle cx="355" cy="320" r="13" fill="#000"/><circle cx="1255" cy="1410" r="15" fill="#000"/><circle cx="1470" cy="1430" r="15" fill="#000"/><circle cx="1215" cy="1450" r="13" fill="#000"/><circle cx="955" cy="1380" r="13" fill="#000"/><circle cx="895" cy="1380" r="13" fill="#000"/><circle cx="290" cy="1565" r="21" fill="#000"/><circle cx="190" cy="595" r="13" fill="#000"/><circle cx="155" cy="805" r="13" fill="#000"/><circle cx="1060" cy="1170" r="38" fill="#000"/><circle cx="1100" cy="1190" r="38" fill="#000"/><circle cx="1080" cy="1100" r="32" fill="#000"/><ellipse cx="1260" cy="550" rx="28" ry="14" fill="#000"/></g><g filter="url(#b4)"><path d="M683 707h0M706 725h0M803 757h0M773 720h0M728 723h0M849 820h0M757 740h0M721 784h0M829 839h0M785 810h0M707 719h0M844 818h0M795 808h0M766 782h0M749 718h0M772 769h0M786 798h0M711 709h0M851 831h0M768 736h0M844 771h0M768 720h0M759 795h0M737 784h0M791 735h0M767 804h0M890 777h0M819 817h0M754 704h0M723 746h0M896 791h0M769 792h0M900 793h0M712 697h0M781 762h0M848 758h0M850 827h0M808 808h0M768 724h0M752 731h0M741 807h0M698 704h0M805 763h0M883 773h0M805 808h0M740 701h0M784 717h0M795 789h0M850 779h0M886 785h0M719 705h0M721 701h0M749 698h0M904 819h0M819 829h0M809 829h0M890 789h0M759 714h0M764 725h0M787 797h0M789 702h0M815 792h0M787 772h0M819 749h0M831 780h0M787 773h0M899 760h0M834 763h0M781 728h0M715 708h0M767 815h0M691 715h0M788 793h0M819 727h0M839 749h0M699 728h0M863 789h0M771 743h0M889 812h0M795 802h0M762 778h0M883 790h0M753 704h0M777 738h0M738 711h0M884 811h0M749 743h0M757 805h0M810 722h0M899 798h0M751 751h0M789 782h0M871 801h0M773 767h0M828 744h0M826 786h0M781 800h0M876 773h0" stroke="#111" stroke-width="12.3" stroke-linecap="round" fill="none"/><path d="M806 833h0M762 721h0M829 815h0M847 794h0M690 709h0M727 719h0M840 769h0M813 715h0M859 800h0M764 750h0M731 752h0M737 764h0M838 825h0M770 753h0M868 800h0M712 778h0M732 729h0M818 737h0M843 782h0M805 818h0M789 770h0M762 748h0M775 798h0M832 833h0M780 775h0M757 811h0M838 837h0M819 746h0M855 747h0M800 814h0M840 814h0M811 780h0M816 784h0M755 799h0" stroke="#111" stroke-width="18.4" stroke-linecap="round" fill="none"/><path d="M827 723h0M818 794h0M861 774h0M689 707h0M766 732h0M707 754h0M744 717h0M736 796h0M906 809h0M804 756h0M847 741h0M837 816h0M834 741h0M839 762h0M806 806h0M877 808h0M773 767h0M688 701h0M718 729h0M744 758h0M840 784h0M858 830h0M707 728h0M700 701h0M845 819h0M699 719h0M792 731h0M798 728h0" stroke="#111" stroke-width="6.1" stroke-linecap="round" fill="none"/></g><g filter="url(#b4)" opacity="0.7"><path d="M834 1144h0M854 1322h0M1212 924h0M1261 951h0M574 454h0M755 1118h0M157 1060h0M531 658h0M1406 996h0M854 427h0M1003 1292h0M319 630h0M1173 1520h0M1277 947h0M649 266h0M419 741h0M917 287h0M845 196h0M1028 629h0M856 1190h0M798 1023h0M198 667h0M480 323h0M799 876h0M889 1201h0M1307 981h0M531 860h0M605 252h0M1042 971h0M913 499h0M1015 1319h0M1105 1007h0M1420 1109h0M1023 605h0M1038 1460h0M1388 1127h0M1030 343h0M350 1022h0M929 1466h0M1363 1161h0M275 905h0M619 696h0M369 773h0M425 914h0M868 1112h0M489 692h0M725 837h0M567 295h0M622 219h0M362 438h0M637 401h0M1167 727h0M364 738h0M1150 1160h0M289 851h0M1561 1239h0M1045 1144h0M1024 878h0M990 947h0M718 415h0M681 758h0M519 762h0M887 200h0M1472 1171h0M336 988h0M855 353h0M1141 909h0M702 1101h0M530 651h0M1004 497h0M860 1172h0M1466 1042h0M925 1292h0M567 231h0M792 1312h0M1472 1268h0M1477 1043h0M744 886h0M1161 575h0M619 1166h0M565 708h0M367 700h0M341 538h0M118 719h0M803 507h0M1209 1184h0M670 990h0M1288 858h0M1116 1129h0M550 853h0M697 134h0M1278 1125h0M732 184h0M1335 961h0M1015 1269h0M281 925h0M721 884h0M589 315h0M690 412h0M944 1428h0M313 624h0M1036 1259h0M1451 1336h0M708 979h0M1010 1224h0M475 1093h0M1007 300h0M471 876h0M576 512h0M430 1086h0M116 1017h0M88 687h0M875 1414h0M129 963h0M1456 1452h0M1040 267h0M1477 1030h0M1189 661h0M1409 1094h0M589 458h0M769 138h0M1205 734h0M772 1034h0M1106 1074h0M582 649h0M978 389h0M681 908h0M1024 990h0M1399 985h0M630 495h0M725 822h0M792 747h0M612 782h0M850 417h0M628 1001h0M751 329h0M790 1078h0M835 436h0M771 228h0M1137 1380h0M651 523h0M1265 1345h0M389 786h0M510 463h0M780 965h0M1507 1155h0M659 1221h0M1426 979h0M705 522h0M578 903h0M457 1056h0M1075 789h0M610 272h0M253 675h0M555 834h0M423 1129h0M525 590h0M1523 1041h0M1139 965h0M1003 281h0M1039 1242h0M945 601h0M1124 1287h0M1340 1354h0M893 508h0M212 939h0M1483 1463h0M711 950h0M1353 1028h0M493 782h0M132 813h0M1349 1192h0M902 893h0M531 882h0M1191 1384h0M771 567h0M1000 1304h0M743 944h0M863 1330h0M803 1007h0M534 1008h0M519 473h0M1436 1405h0M134 866h0M1108 1315h0M267 950h0M222 554h0M318 644h0M1192 982h0M1084 786h0M913 1424h0M1234 816h0M725 1258h0M208 847h0M1064 775h0M417 1123h0M841 1447h0M837 500h0M1177 1314h0M695 1280h0M712 1084h0M1439 1369h0M1141 675h0M498 1058h0M577 1056h0M1576 1190h0M1191 754h0M699 1265h0M1460 986h0M536 1008h0M1121 634h0M1035 721h0M1121 770h0M957 1403h0M1405 1181h0M1101 1264h0M247 1117h0M1470 1002h0M544 373h0M830 863h0M1119 1394h0M542 660h0M189 584h0" stroke="#888" stroke-width="6.1" stroke-linecap="round" fill="none"/><path d="M1375 1313h0M315 549h0M169 791h0M1545 1099h0M1185 1078h0M445 562h0M852 369h0M758 316h0M717 224h0M1402 1143h0M999 1241h0M757 892h0M1096 1486h0M761 1308h0M1254 1468h0M1410 1338h0M195 969h0M791 1251h0M917 914h0M1205 1043h0M1156 1378h0M450 351h0M1450 1121h0M1060 619h0M1254 1006h0M1023 1450h0M752 957h0M1245 1530h0M863 632h0M1485 1002h0M1269 1349h0M373 1046h0M852 644h0M828 1257h0M1138 1200h0M1229 773h0M315 527h0M1012 259h0M230 545h0M1295 1033h0M383 806h0M610 215h0M436 396h0M548 468h0M1401 1499h0M1102 642h0M878 594h0M1172 735h0M1551 1197h0M405 479h0M133 1061h0M1526 1149h0M573 962h0M609 699h0M1032 840h0M983 297h0M1228 1345h0M1331 1175h0M417 607h0M915 642h0M688 1219h0M244 928h0M1385 1272h0M1010 1475h0M967 1137h0M838 257h0M1132 567h0M1143 799h0M911 1090h0M1207 1012h0M1060 1126h0M828 330h0M1465 1326h0M1265 1480h0M1226 1415h0M746 186h0M1216 1254h0" stroke="#888" stroke-width="12.3" stroke-linecap="round" fill="none"/></g><rect x="850" y="460" width="130" height="120" fill="none" stroke="#e3262e" stroke-width="15" stroke-dasharray="26,20"/></g></g>
<clipPath id="cc3"><rect x="1124.7" y="783.3" width="262.3" height="252.0"/></clipPath><g clip-path="url(#cc3)"><rect x="1124.7" y="783.3" width="262.3" height="252.0" fill="#f3f3f3"/><g transform="translate(1120 779) scale(0.16284)"><path d="M1450,300C1482,242 1598,258 1640,250C1682,242 1690,108 1700,250C1710,392 1733,958 1700,1100C1667,1242 1547,1133 1500,1100C1453,1067 1428,983 1420,900C1412,817 1445,700 1450,600C1455,500 1418,358 1450,300Z" fill="#d6d6d6" filter="url(#b40)"/><path d="M200,820C205,780 280,757 330,720C380,683 447,637 500,600C553,563 603,530 650,500C697,470 752,460 780,420C808,380 790,287 820,260C850,233 922,240 960,260C998,280 1018,343 1050,380C1082,417 1125,443 1150,480C1175,517 1183,547 1200,600C1217,653 1235,742 1250,800C1265,858 1298,913 1290,950C1282,987 1240,998 1200,1020C1160,1042 1090,1053 1050,1080C1010,1107 985,1150 960,1180C935,1210 933,1237 900,1260C867,1283 802,1327 760,1320C718,1313 690,1252 650,1220C610,1188 558,1157 520,1130C482,1103 457,1088 420,1060C383,1032 337,1000 300,960C263,920 195,860 200,820Z" fill="#a2a2a2" filter="url(#b25)"/><ellipse cx="950" cy="680" rx="260" ry="260" fill="#9c9c9c" filter="url(#b70)"/><ellipse cx="720" cy="980" rx="230" ry="250" fill="#d6d6d6" filter="url(#b40)"/><clipPath id="c4b"><path d="M200,820C205,780 280,757 330,720C380,683 447,637 500,600C553,563 603,530 650,500C697,470 752,460 780,420C808,380 790,287 820,260C850,233 922,240 960,260C998,280 1018,343 1050,380C1082,417 1125,443 1150,480C1175,517 1183,547 1200,600C1217,653 1235,742 1250,800C1265,858 1298,913 1290,950C1282,987 1240,998 1200,1020C1160,1042 1090,1053 1050,1080C1010,1107 985,1150 960,1180C935,1210 933,1237 900,1260C867,1283 802,1327 760,1320C718,1313 690,1252 650,1220C610,1188 558,1157 520,1130C482,1103 457,1088 420,1060C383,1032 337,1000 300,960C263,920 195,860 200,820Z"/></clipPath><g clip-path="url(#c4b)"><g filter="url(#b25)" fill="none" stroke="#7c7c7c" stroke-width="130" stroke-linecap="round"><path d="M330,760 Q420,950 520,1130 Q650,1250 880,1250"/></g></g><g filter="url(#b4)" opacity="0.85"><path d="M830 992h0M997 871h0M1115 726h0M988 438h0M1123 580h0M1160 954h0M1019 376h0M1169 955h0M948 554h0M998 487h0M397 967h0M818 424h0M937 386h0M1226 937h0M954 513h0M1035 1031h0M774 882h0M819 1024h0M1130 725h0M715 822h0M1021 814h0M691 954h0M523 651h0M819 739h0M1143 830h0M767 802h0M771 430h0M906 356h0M1014 458h0M291 800h0M1225 806h0M847 794h0M1111 686h0M1072 961h0M597 750h0M276 865h0M631 826h0M686 510h0M768 616h0M1237 795h0M937 487h0M867 548h0M951 1039h0M1096 488h0M1190 808h0M972 934h0M811 992h0M797 371h0M883 1254h0M829 377h0M738 842h0M1107 757h0M940 1007h0M668 1050h0M778 695h0M789 541h0M647 719h0M1058 448h0M1075 1063h0M1032 444h0M865 392h0M761 746h0M838 1252h0M1134 884h0M610 1022h0M917 316h0M682 948h0M1053 794h0M642 663h0M1141 730h0M1231 826h0M877 618h0M450 909h0M963 416h0M963 494h0M442 914h0M709 778h0M300 911h0M760 813h0M430 1004h0M628 576h0M1119 942h0M488 896h0M1097 943h0M889 375h0M1049 890h0M484 878h0M878 1044h0M1087 749h0M751 581h0M697 1185h0M752 574h0M1123 952h0M871 544h0M778 479h0M454 964h0M1274 896h0M594 1070h0M292 805h0M871 1085h0M365 953h0M1225 817h0M854 1231h0M542 690h0M976 533h0M1092 981h0M573 992h0M724 593h0M530 600h0M721 1185h0M1088 880h0M904 468h0M911 909h0M488 624h0M1137 687h0M727 933h0M769 910h0M675 695h0M793 776h0M1159 956h0M508 982h0M999 429h0M670 990h0M997 1129h0M1017 676h0M1088 544h0M758 791h0M644 650h0M800 958h0M1055 989h0M818 544h0M574 685h0M832 514h0M901 276h0M838 1022h0M454 876h0M710 828h0M764 1100h0M1080 702h0M755 518h0M901 435h0M1021 348h0M871 1260h0M894 882h0M839 533h0M697 517h0M787 743h0M927 1181h0M1123 961h0M1137 853h0M405 1027h0M1141 842h0M680 1003h0M936 821h0M742 742h0M795 1014h0M861 621h0M987 386h0M762 876h0M605 551h0M1153 1027h0M947 726h0M992 525h0M987 919h0M848 743h0M927 863h0M1173 707h0M963 435h0M804 453h0M1025 383h0M1097 578h0M820 685h0M975 1091h0M827 1150h0M833 711h0M804 678h0M986 628h0M1092 605h0M823 396h0M663 661h0M851 925h0M570 813h0M967 337h0M1261 936h0M675 820h0M940 466h0M877 315h0M1262 937h0M369 924h0M892 1226h0M1216 765h0M909 999h0M997 641h0M1232 906h0M940 769h0M955 438h0M935 964h0M1093 673h0M959 389h0M921 934h0M1019 1032h0M895 1002h0M717 788h0M724 916h0M755 672h0M331 952h0M771 697h0M684 868h0M792 760h0M790 562h0M1065 414h0M967 634h0M693 856h0M833 560h0M886 826h0M1146 799h0M812 938h0M860 354h0M804 683h0M927 427h0M1194 615h0M1178 966h0M856 1061h0M1106 974h0M893 718h0M1194 670h0M827 945h0M492 1004h0M1140 693h0M843 469h0M898 701h0M933 371h0M915 779h0M938 580h0M1111 928h0M827 1026h0M710 726h0M1137 597h0M1021 559h0M722 486h0M1097 973h0M1155 1019h0M813 883h0M910 1221h0M905 592h0M878 325h0M963 937h0M905 974h0M1175 916h0M686 801h0M1029 824h0M548 1026h0M922 954h0M988 299h0M972 620h0M1137 926h0M782 692h0M859 580h0M784 927h0M774 518h0M954 350h0M1088 780h0M584 1041h0M962 447h0M1142 999h0M1029 1089h0M1144 888h0M658 767h0M894 460h0M570 888h0M324 914h0M642 781h0M1084 607h0M902 639h0M701 536h0M697 910h0M983 846h0M864 932h0M631 996h0M962 722h0M807 401h0M928 990h0M725 781h0M703 545h0M549 909h0M714 865h0M840 773h0M816 595h0M765 802h0M1173 551h0M1035 463h0M435 871h0M884 1110h0M819 690h0M893 946h0M943 764h0M914 1075h0M895 1048h0M777 652h0M886 597h0M1216 700h0M950 285h0M857 313h0M942 385h0M811 748h0M681 1204h0M1133 914h0M905 910h0M955 939h0M1145 675h0M1047 918h0M431 925h0M934 835h0M670 915h0M691 874h0M1104 492h0M667 902h0M1016 744h0M912 378h0M537 1002h0M1086 815h0M730 626h0M1011 1118h0M1122 890h0M797 861h0M633 1052h0M777 993h0M1078 1053h0M911 300h0M619 858h0M727 999h0M499 1047h0M1164 973h0M1134 881h0M954 370h0M968 305h0M1168 694h0M364 924h0M861 428h0M930 1102h0M1006 1118h0M593 589h0M932 397h0M1179 692h0M1210 843h0M758 1095h0M669 500h0M1083 803h0M931 551h0M988 842h0M1127 939h0M1109 730h0M853 345h0M810 535h0M904 498h0M705 857h0M449 763h0M1125 804h0M1072 781h0M1107 1021h0M989 1020h0M799 914h0M975 471h0M1100 723h0M486 777h0M751 686h0M972 411h0M617 1076h0M1085 928h0M1043 771h0M1160 958h0M885 682h0M840 876h0M351 824h0M1129 622h0M888 638h0M836 617h0M1238 846h0M891 741h0M900 415h0M1142 826h0M614 1041h0M745 1157h0M868 604h0M1019 602h0M1132 780h0M813 344h0M695 1250h0M416 1009h0M724 1234h0M1089 743h0M1075 581h0M1209 891h0M901 1080h0M865 1133h0M1079 1059h0M873 896h0M857 961h0M453 895h0M824 674h0M753 618h0M1136 685h0M1016 437h0M791 803h0M1004 637h0M894 286h0M1219 861h0M838 888h0M910 994h0M976 342h0M886 643h0M990 678h0M1163 555h0M513 920h0M687 754h0M565 659h0M784 564h0M913 638h0M963 509h0M1112 603h0M854 1146h0M736 762h0M899 851h0M951 666h0M721 818h0M805 497h0M1178 677h0M765 776h0M1196 715h0M706 627h0M948 1111h0M753 828h0M700 798h0M505 1021h0M1120 887h0M991 329h0M1023 571h0M919 482h0M1003 492h0M708 623h0M669 1051h0M1027 441h0M729 916h0M1138 1002h0M772 425h0M1076 759h0M537 936h0M827 762h0M993 414h0M705 1140h0M1003 366h0M676 648h0M973 568h0M1022 441h0M671 816h0M1032 740h0M992 877h0M995 658h0M1109 890h0M984 1063h0M1023 636h0M665 1083h0M324 746h0M948 838h0M911 721h0M941 495h0M870 436h0M973 581h0M878 443h0M395 714h0M425 820h0M1268 938h0M1021 464h0M694 826h0M1138 690h0M1045 949h0M784 1165h0M729 801h0M1195 607h0M323 966h0M916 441h0M1105 865h0M791 1241h0M717 488h0M1111 685h0M1077 826h0M922 852h0M956 621h0M996 357h0M1178 935h0M955 682h0M810 481h0M1046 742h0M1070 863h0M712 572h0M1047 487h0M1103 829h0M1029 636h0M942 291h0M1053 489h0M972 607h0M698 1010h0M1096 835h0M1107 447h0M583 1048h0M814 979h0M1054 516h0M830 878h0M774 933h0M906 899h0M957 724h0M800 959h0M758 549h0M971 812h0M1058 666h0M514 1018h0M990 644h0M837 290h0M938 611h0M889 477h0M999 390h0M1034 671h0M887 450h0M644 1095h0M920 860h0M716 574h0M1005 733h0M1153 529h0M1156 839h0M850 798h0M767 968h0M830 807h0M668 498h0M679 573h0M940 540h0M595 1151h0M953 632h0M681 921h0M733 934h0M634 543h0M1195 620h0M751 770h0M832 481h0M474 1083h0M817 407h0M1134 889h0M990 928h0M872 1002h0M1102 475h0M733 726h0M742 774h0M1154 1004h0M1058 583h0M818 314h0M937 957h0M510 809h0M630 758h0M1059 864h0M1049 1066h0M1094 538h0M1206 766h0M1172 744h0M1008 630h0M813 973h0M382 926h0M1253 942h0M885 283h0M814 793h0M1036 422h0M908 680h0M1169 670h0M827 803h0M1100 844h0M716 723h0M340 801h0M1110 615h0M1135 539h0M1129 954h0M1103 861h0M1067 400h0M964 745h0M571 1080h0M632 1014h0M1031 986h0M523 726h0M1002 529h0M534 834h0M920 871h0M920 913h0M992 500h0M989 1129h0M1006 465h0M811 1241h0M545 938h0M1202 1014h0M1021 1004h0M663 730h0M1151 687h0M729 459h0M1051 618h0M990 606h0M1038 883h0M723 955h0M464 686h0M541 661h0M769 995h0M518 1092h0M816 966h0M1181 780h0M953 1049h0M827 621h0M740 914h0M1185 910h0M1103 907h0M862 549h0M692 1101h0M1184 863h0M706 997h0M670 1215h0M875 575h0M473 849h0M543 636h0M826 799h0M990 625h0M882 619h0M937 872h0M693 1012h0M1214 795h0M1039 548h0M719 788h0M942 528h0M1009 366h0M896 676h0M671 846h0M933 629h0M1025 581h0M882 275h0M1146 697h0M1128 962h0M979 763h0M765 891h0M677 926h0M692 858h0M694 998h0M755 833h0M943 438h0M848 821h0M921 307h0M1072 774h0M1022 754h0M759 539h0M733 740h0M849 594h0M556 643h0M1105 630h0M1036 972h0M749 640h0M928 330h0M1064 961h0M1057 760h0M410 824h0M1141 788h0M945 550h0M720 586h0M896 287h0M1024 517h0M1082 436h0M964 755h0M1073 464h0M1059 673h0M739 1027h0M620 625h0M654 927h0M1013 717h0M813 678h0M1093 775h0M770 428h0M968 833h0M808 626h0M879 818h0M1189 636h0M1056 698h0M765 747h0M839 569h0M1218 801h0M916 787h0M1050 412h0M1027 828h0M1025 524h0M1124 989h0M596 857h0M473 1026h0M790 852h0M988 908h0M1001 1002h0M1077 483h0M1135 516h0M627 922h0M688 733h0M905 951h0M763 789h0M973 490h0M1035 598h0M650 1069h0M878 1065h0M1142 697h0M1055 674h0M1219 719h0M1190 831h0M411 807h0M1009 1036h0M411 1002h0M346 741h0M708 949h0M931 713h0M472 978h0M1154 634h0M963 307h0M783 468h0M781 517h0M1206 696h0M963 493h0M556 1124h0M634 647h0M874 503h0M900 345h0M856 482h0M1019 601h0M944 827h0M861 637h0M465 670h0M603 865h0M529 970h0M966 651h0M936 921h0M1041 644h0M779 677h0M1005 610h0M777 478h0M1167 737h0M997 824h0M746 808h0M475 918h0M896 539h0M1052 836h0M1161 855h0M662 620h0M949 385h0M867 1125h0M699 912h0M486 790h0M988 569h0M1175 825h0M674 618h0M1088 501h0M1017 842h0M390 883h0M917 640h0M758 813h0M966 805h0M394 1018h0M543 994h0M908 1214h0M1195 691h0M1160 730h0M1049 714h0M1172 659h0M1131 785h0M952 979h0M1256 867h0M923 644h0M324 957h0M730 1185h0M906 1143h0M579 632h0M1017 815h0M1139 764h0M697 970h0M1078 768h0M872 1233h0M394 822h0M1012 866h0M824 1039h0M576 1091h0M686 1066h0M872 440h0M1057 781h0M979 796h0M661 781h0M998 974h0M1121 607h0M690 837h0M646 1040h0M1176 740h0M425 957h0M1096 503h0M786 793h0M1113 1045h0M1034 1039h0M701 724h0M818 339h0M1114 503h0M942 680h0M625 876h0M714 1008h0M817 983h0M1028 825h0M777 1156h0M1171 748h0M560 570h0M433 907h0M694 852h0M839 479h0M842 435h0M902 886h0M1188 781h0M781 1042h0M997 794h0M454 640h0M1028 590h0M1230 826h0M688 994h0M868 953h0M789 890h0M921 630h0M808 667h0M683 548h0M939 333h0M358 981h0M691 598h0M671 881h0M531 1091h0M1069 723h0M447 784h0M907 1005h0M587 1164h0M1095 927h0M1197 907h0M971 332h0M993 398h0M835 678h0M891 293h0M1121 1042h0M990 880h0M961 1093h0M840 565h0M1058 540h0M1124 548h0M922 644h0M927 274h0M691 807h0M670 563h0M1124 638h0M666 539h0M1148 627h0M991 537h0M793 907h0M1197 710h0M748 881h0M1190 663h0M977 807h0M940 463h0M769 743h0M1248 918h0M1082 873h0M860 1015h0M667 813h0M1136 836h0M1153 724h0M705 1088h0M863 1186h0M1176 924h0M1047 593h0M839 987h0M253 852h0M817 1130h0M344 763h0M710 915h0M690 687h0M911 847h0M848 1073h0M845 472h0M833 644h0M1073 690h0M822 545h0M902 617h0M887 1073h0M801 452h0M810 443h0M1177 880h0M974 640h0M859 1052h0M769 755h0M827 329h0M716 922h0M926 962h0M614 635h0M853 1057h0M770 1281h0M1075 781h0M686 1069h0M458 990h0M1093 795h0M733 584h0M735 1195h0M553 1016h0M1001 657h0M1001 837h0M1209 736h0M669 1110h0M932 448h0M556 1126h0M842 820h0M964 756h0M996 1072h0M1006 663h0M741 1073h0M829 954h0M1064 588h0M660 517h0M469 691h0M1029 844h0M506 940h0M1068 920h0M764 1129h0M500 1090h0M708 701h0M1034 494h0M949 986h0M1157 529h0M658 630h0M761 930h0M560 1088h0M677 1055h0M764 984h0M882 863h0M952 316h0M853 869h0M1087 694h0M925 638h0M990 1062h0M1105 436h0M1183 850h0M1033 553h0M1241 790h0M994 844h0M1214 840h0M1039 425h0M851 336h0M1112 465h0M868 578h0M809 1275h0M902 892h0M1033 515h0M476 925h0M610 563h0M1191 728h0M1229 940h0M897 779h0M877 862h0M746 999h0M1071 447h0M1270 962h0M541 874h0M1047 889h0M793 571h0M727 980h0M844 281h0M998 808h0M479 967h0M980 384h0M1045 739h0M672 584h0M1141 588h0M682 929h0M753 803h0M589 1058h0M747 1303h0M756 592h0M812 394h0M892 662h0M1191 956h0M878 402h0M729 933h0M936 586h0M1161 900h0M932 889h0M1220 706h0M796 974h0M274 883h0M898 673h0M694 1199h0M870 1202h0M1178 561h0M553 919h0M1005 381h0M1067 499h0M1062 1071h0M966 610h0M883 678h0M1072 490h0M1130 604h0M1072 572h0M1024 522h0M678 532h0M916 601h0M556 724h0M455 1025h0M741 617h0M463 903h0M404 940h0M818 660h0M504 895h0M843 468h0M996 559h0M921 978h0M437 882h0M862 854h0M825 674h0M859 367h0M784 623h0M819 269h0M413 951h0M942 452h0M1066 541h0M766 693h0M980 761h0M1166 903h0M972 876h0M727 627h0M884 611h0M919 971h0M1028 482h0M953 371h0M884 889h0M388 969h0M1136 638h0M1087 959h0M912 990h0M719 583h0M1022 777h0M914 480h0M682 889h0M769 475h0M891 261h0M1266 949h0M621 658h0M555 833h0M775 570h0M1088 818h0M1105 814h0M662 844h0M709 672h0M560 917h0M797 691h0M1105 636h0M833 1152h0M502 958h0M789 858h0M861 491h0M877 445h0M772 815h0M843 528h0M553 730h0M568 1112h0M786 1139h0M813 433h0M681 764h0M804 895h0M1023 883h0M1076 903h0M1161 1012h0M1009 751h0M376 907h0M1023 451h0M1030 509h0M887 308h0M614 547h0M792 950h0M920 1086h0M453 884h0M403 915h0M850 287h0M702 750h0M792 821h0M945 557h0M1169 626h0M1053 760h0M698 815h0M274 901h0M1088 783h0M881 359h0M941 891h0M1198 902h0M845 985h0M862 477h0M791 1122h0M783 897h0M653 924h0M601 595h0M1233 800h0M732 464h0M722 496h0M953 746h0M787 841h0M1056 787h0M669 972h0M971 527h0M1050 744h0M873 643h0M683 751h0M800 358h0M494 919h0M629 1172h0M712 655h0M964 905h0M774 430h0M844 1188h0M671 602h0M791 463h0M929 552h0M529 943h0M898 578h0M685 794h0M1209 655h0M298 750h0M965 352h0M850 617h0M727 547h0M1041 383h0M1126 638h0M1077 867h0M651 597h0M416 1032h0M969 573h0M1003 374h0M850 450h0M1021 663h0M1018 793h0M882 476h0M844 573h0M922 951h0M322 829h0M1040 979h0M382 723h0M798 694h0M763 923h0M748 1252h0M521 817h0M910 1242h0M928 935h0M942 455h0M683 762h0M1117 903h0M885 849h0M1147 943h0M1013 1010h0M831 1285h0M1229 779h0M652 1173h0M987 803h0M1074 464h0M1107 461h0M451 725h0M1180 756h0M975 289h0M714 896h0M359 929h0M878 444h0M554 600h0M1270 917h0M805 760h0M327 908h0M907 319h0M332 901h0M773 611h0M701 726h0M1220 959h0M996 889h0M1074 941h0M1019 476h0M833 1146h0M416 927h0M1089 496h0M868 693h0M963 490h0M823 354h0M762 1304h0M329 726h0M1045 701h0M832 920h0M1116 737h0M959 633h0M997 876h0M1115 512h0M790 716h0M1122 506h0M537 1116h0M836 876h0M1148 515h0M669 687h0M799 619h0M1080 631h0M1087 483h0M1203 703h0M772 1256h0M666 590h0M1141 632h0M939 554h0M1008 681h0M984 986h0M1172 592h0M729 652h0M731 937h0M1018 688h0M808 618h0M1226 909h0M1071 675h0M990 682h0M924 428h0M824 621h0M519 770h0M577 733h0M919 545h0M613 842h0M1111 816h0M904 976h0M384 829h0M880 735h0M780 914h0M1115 989h0M559 685h0M1162 751h0M802 1119h0M787 553h0M1114 958h0M1005 804h0M1049 530h0M1004 434h0M908 337h0M751 561h0M272 806h0M1219 878h0M413 740h0M1002 437h0M1022 486h0M359 757h0M472 890h0M266 877h0M1061 426h0M365 763h0M974 543h0M899 502h0M1204 651h0M955 521h0M509 758h0M779 1286h0M1103 984h0M923 905h0M948 689h0M919 878h0M859 704h0M1140 509h0M391 818h0M769 702h0M867 391h0M946 1191h0M821 985h0M684 1001h0M847 660h0M1134 916h0M1092 972h0M714 791h0M1012 826h0M773 760h0M1142 983h0M772 904h0M688 1043h0M776 839h0M273 897h0M738 1034h0M929 910h0M1196 591h0M424 772h0M967 380h0M868 1246h0M772 1063h0M866 1098h0M756 461h0M418 786h0M1184 939h0M722 983h0M916 645h0M506 1028h0M934 538h0M853 357h0M731 490h0M840 951h0M1058 890h0M918 622h0M480 866h0M839 525h0M780 702h0M756 977h0M735 812h0M1121 919h0M1077 974h0M847 1138h0M712 822h0M697 515h0M1132 709h0M883 647h0M890 736h0M889 584h0M688 563h0M712 1081h0M1023 434h0M1147 604h0M552 921h0M705 810h0M856 951h0M624 759h0M1046 553h0M721 581h0M691 641h0M777 1033h0M799 655h0M311 892h0M446 700h0M754 832h0M899 310h0M574 921h0M931 267h0M1050 998h0M747 823h0M369 916h0M1180 876h0M911 468h0M781 480h0M461 1069h0M527 976h0M1107 861h0M883 703h0M878 1257h0M704 473h0M1202 740h0M308 810h0M763 844h0M643 804h0M749 1247h0M1010 459h0M349 883h0M1079 631h0M467 806h0M707 1106h0M1184 667h0M1233 969h0M974 543h0M1067 712h0M955 501h0M997 483h0M423 804h0M1091 697h0M1199 635h0M1229 864h0M528 851h0M812 1026h0M831 761h0M732 812h0M809 449h0M966 298h0M971 724h0M975 611h0M970 922h0M799 407h0M738 698h0M853 290h0M851 563h0M1089 730h0M393 833h0M722 983h0M1081 631h0M1239 776h0M1091 915h0M586 754h0M708 633h0M1099 551h0M467 955h0M647 746h0M653 641h0M1153 528h0M826 1094h0M934 1069h0M1256 864h0M1034 440h0M993 879h0M492 983h0M894 1010h0M1193 734h0M1083 487h0M576 570h0M841 853h0M254 793h0M1178 781h0M734 632h0M1210 792h0M1060 756h0M676 493h0M723 1254h0M840 633h0M1170 770h0M317 836h0M829 866h0M553 803h0M725 833h0M1063 554h0M1064 684h0M729 722h0M800 567h0M708 529h0M1092 602h0M1140 649h0M1252 920h0M329 869h0M1080 956h0M805 469h0M503 1091h0M328 871h0M689 818h0M1175 588h0M708 841h0M953 845h0M623 975h0M797 645h0M779 949h0M1277 942h0M683 755h0M833 616h0M1174 699h0M784 761h0M1085 708h0M1179 596h0M815 327h0M818 604h0M710 1019h0M953 939h0M983 673h0M397 744h0M633 869h0M659 529h0M751 831h0M815 840h0M276 862h0M506 769h0M850 948h0M738 896h0M995 626h0M660 555h0M738 724h0M720 901h0M936 752h0M844 460h0M1041 975h0M942 874h0M755 1166h0M948 653h0M1145 506h0M1109 826h0M884 811h0M688 816h0M985 773h0M684 630h0M1012 832h0M901 529h0M931 857h0M366 818h0M884 712h0M697 537h0M1113 905h0M855 663h0M756 823h0M456 922h0M1156 525h0M958 963h0M817 491h0M935 723h0M754 964h0M954 1089h0M989 821h0M278 903h0M726 801h0M800 792h0M887 426h0M947 338h0M890 449h0M657 951h0M890 354h0M521 1030h0M997 751h0M949 819h0M903 1188h0M1074 803h0M876 521h0M737 552h0M626 1074h0M882 595h0M1028 954h0M542 858h0M1011 720h0M853 861h0M1166 967h0M973 766h0M685 991h0M589 581h0M1108 461h0M1104 502h0M1117 596h0M1041 907h0M886 1176h0M640 654h0M679 538h0M1119 957h0M1051 1047h0M1114 1006h0M964 486h0M354 724h0M816 839h0M764 607h0M896 347h0M819 946h0M489 972h0M905 567h0M943 916h0M560 849h0M385 785h0M969 542h0M414 773h0M1075 946h0M991 735h0M1136 916h0M538 791h0M1101 866h0M1043 386h0M817 774h0M897 276h0M1010 500h0M503 1114h0M670 1094h0M1125 833h0M944 616h0M1117 1031h0M718 1200h0M1119 908h0M836 742h0M911 1068h0M683 742h0M617 1125h0M1066 971h0M868 613h0M839 484h0M879 967h0M1102 641h0M1156 693h0M952 557h0M1158 925h0M364 900h0M816 971h0M834 557h0M1035 947h0M1012 831h0M806 355h0M704 628h0M759 486h0M1231 961h0M1057 1047h0M941 353h0M975 380h0M1206 638h0M1009 1029h0M696 531h0M1005 499h0M1189 868h0M1117 664h0M906 660h0M827 443h0M833 579h0M412 713h0M1223 700h0M719 584h0M678 869h0M1004 776h0M1012 644h0M874 682h0M663 661h0M1132 765h0M1214 737h0M885 335h0M742 992h0M1111 942h0M763 994h0M922 594h0M849 1099h0M312 905h0M955 450h0M1070 571h0M803 363h0M777 483h0M872 288h0M1025 436h0M1125 611h0M1046 665h0M850 973h0M867 277h0M1202 793h0M889 807h0M986 852h0M808 587h0M925 288h0M759 527h0M945 945h0M1074 1053h0M1017 689h0M845 708h0M1028 691h0M1105 569h0M945 312h0M674 1172h0M343 801h0M1029 1101h0M967 377h0M856 763h0M894 966h0M683 575h0M727 568h0M643 645h0M1010 747h0M1044 425h0M1160 722h0M935 548h0M785 803h0M446 653h0M835 775h0M1083 607h0M1185 857h0M685 480h0M686 555h0M920 896h0M1156 622h0M1129 960h0M1218 794h0M396 1029h0M1263 935h0M1053 839h0M1085 829h0M650 750h0M521 687h0M863 564h0M991 319h0M1023 572h0M1006 395h0M1180 942h0M867 349h0M238 851h0M785 862h0M975 420h0M1053 432h0M492 963h0M622 603h0M870 422h0M768 880h0M1190 876h0M974 921h0M973 988h0M803 445h0M686 887h0M737 508h0M975 553h0M792 761h0M931 878h0M1038 999h0M1182 799h0M694 985h0M866 988h0M835 664h0M291 809h0M1092 697h0M664 755h0M502 719h0M953 871h0M748 990h0M978 865h0M654 678h0M734 605h0M800 1032h0M732 1129h0M1056 541h0M489 1048h0M1010 462h0M870 662h0M650 940h0M641 628h0M1054 544h0M931 598h0M825 803h0M926 443h0M1184 795h0M944 968h0M1044 558h0M279 788h0M713 768h0M747 1192h0M886 858h0M324 927h0M1177 1016h0M918 787h0M860 953h0M1027 392h0M739 1213h0M861 575h0M834 588h0M273 863h0M805 696h0M1077 1048h0M846 727h0M975 1141h0M788 530h0M556 813h0M349 985h0M691 1091h0M701 891h0M1060 867h0M643 949h0M517 688h0M1106 652h0M900 366h0M790 434h0M949 273h0M942 677h0M1021 782h0M728 514h0M1030 720h0M1108 947h0M726 467h0M303 760h0M821 1092h0M966 767h0M758 617h0M1084 938h0M748 1005h0M715 666h0M1117 684h0M897 536h0M1112 991h0M1204 874h0M1156 723h0M1024 831h0M740 628h0M806 439h0M886 630h0M657 1075h0M626 834h0M457 793h0M822 847h0M1063 878h0M895 352h0M663 705h0M1164 627h0M750 1265h0M618 883h0M392 828h0M1283 954h0M1051 444h0" stroke="#333" stroke-width="6.1" stroke-linecap="round" fill="none"/><path d="M1117 489h0M336 970h0M876 905h0M941 695h0M1208 663h0M977 846h0M1188 586h0M505 883h0M981 1011h0M551 649h0M914 823h0M930 1058h0M1050 627h0M1130 547h0M1134 919h0M891 745h0M873 352h0M1074 545h0M723 627h0M687 567h0M1016 970h0M667 691h0M516 681h0M790 758h0M931 731h0M946 456h0M581 1127h0M1199 1001h0M952 938h0M1165 1028h0M931 515h0M1068 674h0M474 682h0M827 1203h0M833 627h0M993 1003h0M742 896h0M678 493h0M726 660h0M815 547h0M1049 572h0M831 819h0M742 748h0M786 432h0M1125 1029h0M665 1121h0M862 495h0M612 761h0M782 859h0M991 776h0M1212 751h0M1148 637h0M710 1159h0M739 761h0M894 596h0M572 655h0M1091 812h0M729 739h0M508 1101h0M833 388h0M744 866h0M623 1029h0M398 930h0M886 937h0M1144 752h0M813 569h0M928 936h0M561 974h0M847 453h0M778 1257h0M1074 486h0M410 799h0M1237 845h0M749 1092h0M615 1033h0M552 709h0M953 502h0M697 1013h0M842 547h0M848 879h0M987 341h0M877 496h0M361 746h0M860 511h0M1273 929h0M681 1180h0M427 801h0M1029 427h0M970 575h0M700 744h0M634 583h0M866 814h0M602 1040h0M723 503h0M618 890h0M1174 693h0M1014 539h0M754 1221h0M523 1057h0M685 498h0M977 436h0M363 821h0M1050 795h0M912 281h0M702 565h0M1181 664h0M964 627h0M825 1040h0M531 800h0M817 780h0M909 977h0M762 1037h0M967 553h0M1115 925h0M800 968h0M1008 608h0M1033 1034h0M896 411h0M764 920h0M951 633h0M841 1282h0M442 650h0M891 796h0M1001 577h0M987 958h0M1154 549h0M508 1100h0M1160 700h0M688 713h0M948 386h0M761 520h0M348 772h0M494 856h0M1258 868h0M765 959h0M846 807h0M830 538h0M524 652h0M510 681h0M1065 621h0M1043 739h0M799 750h0M948 596h0M1217 982h0M869 715h0M1078 606h0M625 1005h0M1237 904h0M734 1224h0M766 920h0M1095 638h0M637 658h0M1075 740h0M713 968h0M943 292h0M439 1035h0M716 1237h0M902 567h0M678 1116h0M594 729h0M735 767h0M943 286h0M593 1178h0M1013 915h0M860 420h0M1188 815h0M955 406h0M606 1140h0M716 559h0M977 909h0M899 1210h0M1193 603h0M974 970h0M1010 703h0M1048 747h0M1060 510h0M802 1012h0M970 790h0M1140 928h0M1221 806h0M670 861h0M228 844h0M895 724h0M1116 995h0M903 569h0M806 745h0M840 1275h0M557 1002h0M802 779h0M688 765h0M707 737h0M359 812h0M643 636h0M582 977h0M689 679h0M1006 1021h0M974 525h0M940 613h0M1054 1015h0M1103 768h0M1050 456h0M740 728h0M521 1119h0M854 425h0M666 909h0M887 587h0M555 575h0M915 342h0M973 1025h0M565 993h0M840 504h0M1215 953h0M973 970h0M1239 961h0M364 902h0M1235 744h0M1055 531h0M808 527h0M852 886h0M1116 731h0M916 559h0M1236 900h0M914 623h0M410 911h0M981 1103h0M975 289h0M738 837h0M868 301h0M866 803h0M328 949h0M589 1075h0M984 638h0M692 748h0M973 549h0M761 1247h0M1031 536h0M1059 457h0M479 845h0M1130 568h0M674 967h0M1005 1007h0M1122 589h0M990 406h0M473 1074h0M262 841h0M641 815h0M849 719h0M1125 727h0M933 328h0M1210 880h0M713 949h0M755 446h0M566 683h0M354 857h0M1136 810h0M894 671h0M481 873h0M1172 613h0M958 382h0M686 583h0M984 936h0M911 686h0M794 967h0M870 666h0M508 687h0M1101 743h0M956 596h0M1080 985h0M920 701h0M721 1134h0M840 680h0M964 609h0M745 879h0M780 953h0M1001 748h0M1024 909h0M660 824h0M1204 881h0M1177 612h0M1245 831h0M765 1012h0M908 1142h0M768 570h0M948 337h0M1126 940h0M665 617h0M1140 528h0M311 744h0M1098 1040h0M702 505h0M650 912h0M763 568h0M1022 815h0M1002 689h0M1153 996h0M464 1031h0M966 363h0M532 970h0M1101 950h0M1075 644h0M740 915h0M1169 777h0M601 797h0M1036 882h0M1141 491h0M688 990h0M713 987h0M1163 528h0M926 471h0M1054 440h0M670 738h0M1077 1061h0M1121 1047h0M920 688h0M915 308h0M1220 910h0M1025 816h0M902 378h0M507 796h0M618 775h0M723 592h0M869 1101h0M1015 613h0M789 886h0M928 272h0M609 1171h0M1119 685h0M1037 620h0M946 729h0M1028 910h0M1102 518h0M1043 721h0M554 865h0M805 375h0M1082 438h0M788 692h0M366 839h0M688 595h0M674 719h0M794 1260h0M1068 414h0M387 1024h0M1118 664h0M1115 818h0M809 805h0M710 608h0M639 811h0M899 1140h0M1256 889h0M1029 895h0M1199 967h0M812 1017h0M719 877h0M624 1107h0M827 710h0M1076 547h0M853 993h0M818 315h0M648 584h0M785 537h0M932 396h0M841 345h0M408 690h0M1217 812h0M736 569h0M1027 635h0M1151 994h0M919 922h0M662 846h0M843 293h0M952 424h0M920 662h0M982 625h0M690 905h0M726 893h0M824 975h0M683 527h0M506 884h0M1077 662h0M356 996h0M1030 480h0M937 535h0M750 766h0M820 1087h0M612 950h0M678 973h0M1042 1088h0M686 556h0M1235 857h0M1122 795h0M479 728h0M874 750h0M850 960h0M1136 923h0M579 803h0M1246 883h0M591 1108h0M851 429h0M1085 444h0M768 732h0M1082 622h0M840 684h0M807 1280h0M757 661h0M733 1141h0M693 982h0M808 547h0M1060 647h0M1008 637h0M677 894h0M1041 659h0M1059 591h0M1120 705h0M670 669h0M254 875h0M1101 845h0M825 1123h0M830 533h0M1215 812h0M935 472h0M762 550h0M1051 821h0M407 714h0M699 752h0M680 730h0M1181 655h0M899 888h0M638 883h0M943 970h0M1128 728h0M985 539h0M804 932h0M1063 763h0M1086 665h0M1184 816h0M1018 588h0M893 490h0M1055 733h0M503 700h0M1180 775h0M647 1176h0M1148 781h0M463 1081h0M719 667h0M1039 874h0M945 842h0M1192 997h0M619 909h0M1022 612h0M428 1008h0M411 716h0M814 456h0M839 847h0M1011 401h0M1178 559h0M860 1010h0M855 917h0M925 382h0M792 845h0M1130 631h0M935 379h0M1163 760h0M350 871h0M773 672h0M897 1100h0M1094 456h0M1121 756h0M562 856h0M900 327h0M690 841h0M885 579h0M916 804h0M808 485h0M854 399h0M597 841h0M837 303h0M308 816h0M311 815h0M1168 784h0M800 700h0M974 490h0M1261 892h0M767 444h0M855 625h0M522 1054h0M1123 999h0M970 357h0M789 890h0M729 502h0M1010 682h0M1034 453h0M1100 729h0M957 601h0M714 790h0M826 884h0M1185 878h0M712 598h0M543 807h0M1049 869h0M887 963h0M932 613h0M730 923h0M1210 650h0M1074 896h0M1120 606h0M1031 422h0M1141 859h0M1197 795h0M574 1105h0M871 407h0M945 948h0M392 920h0M750 834h0M829 1141h0M698 576h0M891 380h0M467 668h0M1096 837h0M789 399h0M811 451h0M758 712h0M1213 872h0M463 814h0M744 985h0M951 783h0M1231 785h0M1106 488h0M895 809h0M922 776h0M687 485h0M798 525h0M746 695h0M765 1093h0M900 426h0M617 1053h0M865 329h0M865 738h0M769 1184h0M839 325h0M917 359h0M975 362h0M681 690h0M702 587h0M661 809h0M1039 435h0M1183 609h0M743 1110h0M703 507h0M670 820h0M344 896h0M380 786h0M505 1015h0M1134 487h0M583 1171h0M945 727h0M703 884h0M802 800h0M887 1152h0M1194 666h0M888 384h0M737 922h0M754 617h0M493 826h0M474 800h0M794 452h0M1032 872h0M1160 649h0M430 731h0M637 964h0M877 969h0M1144 714h0M1033 506h0M963 553h0M388 813h0M1120 894h0M752 671h0M817 996h0M924 910h0M421 1025h0M842 497h0M1163 853h0M999 835h0M893 628h0M1055 493h0M890 883h0M812 311h0M1240 766h0M562 1118h0M691 832h0M1087 751h0M550 719h0M913 1112h0M717 1130h0M1168 818h0M1033 782h0M819 740h0M1211 836h0M738 652h0M525 778h0M1045 703h0M553 837h0M538 1035h0M1146 895h0M558 964h0M470 687h0M611 891h0M877 910h0M1035 852h0M547 660h0M961 454h0M890 500h0M798 731h0M1179 741h0M972 649h0M1004 817h0M978 934h0M445 668h0M966 911h0M904 590h0M1133 631h0M855 1142h0M974 996h0M437 899h0M1176 809h0M1250 823h0M1180 920h0M907 800h0M997 1081h0M1218 738h0M905 951h0M748 1156h0M555 618h0M672 715h0M849 897h0M1023 682h0M822 894h0M1270 912h0M928 768h0M1073 584h0M544 813h0M890 722h0M935 367h0M801 573h0M417 863h0M970 641h0M518 609h0M875 733h0M518 742h0M570 891h0M1041 910h0M1194 632h0M810 1197h0M657 739h0M1092 795h0M1117 751h0M681 669h0M528 678h0M282 782h0M929 730h0M661 518h0M443 959h0M774 1076h0M1113 556h0M1122 741h0M381 873h0M473 863h0M842 721h0M1063 978h0M1229 835h0M993 877h0M800 406h0M823 808h0M782 663h0M657 1045h0M614 1020h0M396 802h0M926 794h0M919 705h0M886 504h0M1075 944h0M552 610h0M813 354h0M287 867h0M809 359h0M1010 478h0M1061 419h0M1094 739h0M898 395h0M1138 745h0M760 724h0M1232 856h0M829 807h0M834 1267h0M909 267h0M824 766h0M1019 404h0M732 935h0M1142 586h0M711 846h0M371 851h0M658 713h0M796 475h0M1041 485h0M1021 365h0M743 1058h0M955 799h0M810 774h0M940 479h0M775 492h0M315 877h0M514 905h0M790 440h0M1027 612h0M823 839h0M662 666h0M865 901h0M994 648h0M1163 734h0M297 768h0M580 1029h0M1177 891h0M431 1015h0M1203 743h0M1205 882h0M998 771h0M906 542h0M964 1039h0M727 568h0M757 667h0M885 490h0M890 369h0M956 305h0M1078 699h0M834 795h0M816 500h0M1109 764h0M924 914h0M673 888h0M634 944h0M852 1092h0M992 439h0M454 733h0M310 922h0M1033 755h0M887 400h0M878 757h0M905 1168h0M1220 884h0M750 908h0M704 849h0M488 872h0M964 692h0M701 563h0M991 941h0M723 654h0M791 601h0M750 1279h0M1129 513h0M505 936h0M697 550h0M996 729h0M473 845h0M823 266h0M890 488h0M788 551h0M694 1050h0M1065 403h0M1176 1029h0M956 453h0M916 970h0M1103 817h0M581 647h0M973 367h0M503 721h0M1115 549h0M876 750h0M781 456h0M554 603h0M547 672h0M782 450h0M453 948h0M910 1074h0M728 483h0M1017 797h0M1019 862h0M484 971h0M1059 535h0M1054 516h0M844 524h0M841 555h0M973 443h0M1139 946h0M1162 938h0M919 389h0M846 457h0M486 857h0M755 467h0M989 922h0M598 721h0M907 1081h0M609 936h0M221 807h0M831 815h0M1072 669h0M546 1087h0M1135 748h0M815 890h0M986 756h0M901 1062h0M713 708h0M795 595h0M957 1124h0M510 800h0M1053 673h0M782 571h0M629 867h0M922 1074h0M832 1165h0M847 918h0M324 846h0M713 485h0M993 911h0M856 943h0M408 956h0M408 1036h0M827 964h0M818 422h0M676 950h0" stroke="#333" stroke-width="12.3" stroke-linecap="round" fill="none"/></g><g filter="url(#b4)"><path d="M897 287h0M438 796h0M417 949h0M961 621h0M968 309h0M503 934h0M906 906h0M995 433h0M1279 938h0M700 541h0M1179 683h0M943 829h0M899 378h0M1155 539h0M788 1085h0M293 775h0M1029 1072h0M718 843h0M1151 709h0M788 1034h0M908 724h0M569 884h0M459 969h0M1080 462h0M670 709h0M689 707h0M683 1173h0M381 775h0M489 1091h0M983 424h0M1256 874h0M849 976h0M657 879h0M981 513h0M932 578h0M1158 652h0M1276 953h0" stroke="#111" stroke-width="12.3" stroke-linecap="round" fill="none"/><path d="M443 1041h0M440 885h0M1124 900h0M995 828h0M613 845h0M874 1173h0M946 1153h0M1155 594h0M812 539h0M320 925h0M777 1289h0M1149 576h0M864 422h0M888 503h0M822 761h0M995 974h0M837 793h0M468 890h0M1109 1006h0M1091 577h0M803 549h0M982 476h0M488 778h0" stroke="#111" stroke-width="18.4" stroke-linecap="round" fill="none"/></g><rect x="505" y="645" width="105" height="100" fill="none" stroke="#e3262e" stroke-width="15" stroke-dasharray="26,20"/></g></g>
<clipPath id="cc4"><rect x="1124.7" y="1039.9" width="262.3" height="252.0"/></clipPath><g clip-path="url(#cc4)"><rect x="1124.7" y="1039.9" width="262.3" height="252.0" fill="#f3f3f3"/><g transform="translate(1120 1035) scale(0.16284)"><path d="M250,1100C258,983 267,800 300,700C333,600 413,583 450,500C487,417 495,273 520,200C545,127 537,85 600,60C663,35 817,35 900,50C983,65 1042,117 1100,150C1158,183 1208,200 1250,250C1292,300 1317,383 1350,450C1383,517 1442,583 1450,650C1458,717 1425,783 1400,850C1375,917 1350,992 1300,1050C1250,1108 1158,1158 1100,1200C1042,1242 983,1250 950,1300C917,1350 942,1455 900,1500C858,1545 783,1558 700,1570C617,1582 475,1598 400,1570C325,1542 275,1478 250,1400C225,1322 242,1217 250,1100Z" fill="#ececec" filter="url(#b25)"/><g filter="url(#b4)"><path d="M542 813h0M908 1006h0M463 986h0M912 1398h0M426 1022h0M713 536h0M407 1369h0M1051 712h0M988 1219h0M947 1017h0M1248 506h0M819 1235h0M1147 506h0M1160 235h0M487 709h0M527 1059h0M1122 465h0M1147 561h0M1168 547h0M695 1183h0M674 965h0M722 1278h0M1136 396h0M280 930h0M839 985h0M367 838h0M591 182h0M384 947h0M1316 976h0M968 687h0M1035 726h0M740 1042h0M963 1169h0M921 582h0M941 909h0M290 863h0M1330 765h0M1218 495h0M554 628h0M1067 904h0M817 116h0M573 709h0M614 1118h0M390 1379h0M770 657h0M1240 598h0M807 965h0M359 860h0M1213 615h0M680 1416h0M340 954h0M537 1363h0M926 724h0M1121 552h0M835 123h0M499 634h0M495 777h0M800 586h0M627 344h0M1116 1135h0M1025 1208h0M1029 1203h0M1092 563h0M457 757h0M1111 587h0M947 304h0M479 687h0M296 965h0M488 684h0M686 263h0M1036 177h0M1140 818h0M1020 184h0M266 1318h0M822 1100h0M292 1316h0M1076 484h0M543 994h0M964 955h0M491 331h0M998 1168h0M707 604h0M1067 965h0M502 1054h0M1233 699h0M649 1019h0M816 1070h0M663 1133h0M481 822h0M628 1176h0M897 614h0M292 1094h0M601 1466h0M1080 142h0M840 971h0M840 1507h0M810 185h0M626 592h0M760 215h0M660 613h0M1083 632h0M839 533h0M1271 851h0M1110 874h0M679 533h0M1259 942h0M922 1038h0M1004 118h0M968 928h0M1002 604h0M697 1111h0M971 737h0M1180 397h0M454 752h0M265 1389h0M725 320h0M732 1185h0M1344 588h0M594 376h0M1004 979h0M1026 147h0M1217 520h0M946 747h0M674 1303h0M716 612h0M460 1406h0M990 510h0M414 835h0M602 749h0M919 662h0M683 562h0M516 742h0M393 1038h0M1348 466h0M775 241h0M405 1342h0M1142 559h0M480 678h0M509 1066h0M842 1220h0M310 1005h0M719 565h0M898 659h0M1348 731h0M1061 455h0M678 1114h0M828 816h0M456 957h0M802 889h0M584 873h0M596 162h0M1150 506h0M1031 253h0M1145 989h0M742 1194h0M778 339h0M256 1343h0M1034 998h0M769 1151h0M984 600h0M1304 799h0M664 1210h0M1104 1083h0M877 415h0M369 1117h0M820 623h0M751 652h0M577 1085h0M1387 587h0M822 430h0M633 503h0M801 529h0M669 865h0M869 191h0M511 1329h0M440 886h0M1031 1072h0M583 805h0M707 502h0M676 1147h0M376 601h0M473 1025h0M396 1444h0M1191 214h0M425 881h0M969 707h0M435 1456h0M804 159h0M559 875h0M1069 739h0M1214 566h0M1129 688h0M765 978h0M1260 750h0M1214 1111h0M410 940h0M1370 510h0M366 771h0M724 1428h0M1047 1095h0M973 586h0M637 333h0M909 1401h0M373 824h0M854 205h0M878 1487h0M421 709h0M570 888h0M675 367h0M266 1186h0M523 521h0M620 1399h0M1038 194h0M935 1082h0M847 1480h0M1116 1147h0M1222 1080h0M1215 1109h0M991 975h0M1336 597h0M1029 303h0M1192 862h0M1227 680h0M607 1056h0M1232 752h0M765 1068h0M1008 132h0M1051 298h0M359 1302h0M902 1022h0M464 1015h0M979 705h0M379 1366h0M393 1376h0M912 598h0M575 1072h0M567 599h0M846 1156h0M634 165h0M931 1226h0M844 257h0M1146 400h0M373 653h0M886 187h0M642 502h0M539 748h0M456 995h0M474 515h0M627 1155h0M427 1445h0M934 444h0M1056 361h0M635 1425h0M1079 811h0M536 655h0M848 127h0M791 622h0M906 516h0M694 1434h0M1075 695h0M1074 899h0M582 1093h0M1020 510h0M609 1126h0M1016 980h0M1090 584h0M1195 519h0M871 677h0M513 1119h0M655 876h0M1356 897h0M1370 646h0M1061 926h0M1071 1055h0M577 1468h0M929 937h0M520 826h0M680 1118h0M623 1103h0M902 784h0M1083 433h0M872 216h0M1302 420h0M682 773h0M915 190h0M1222 907h0M1102 592h0M1261 949h0M869 915h0M1087 586h0M874 483h0M1022 261h0M928 667h0M478 1019h0M730 1406h0M561 466h0M959 557h0M883 960h0M998 398h0M1102 696h0M456 1164h0M620 990h0M754 271h0M746 488h0M762 1095h0M315 1411h0M875 796h0M617 1159h0M501 685h0M996 673h0M895 261h0M1061 710h0M1107 327h0M636 445h0M1120 677h0M682 636h0M953 801h0M1092 767h0M696 1225h0M1046 734h0M461 1167h0M756 1118h0M791 1229h0M1223 682h0M660 332h0M786 612h0M564 845h0M510 1335h0M853 756h0M605 883h0M913 812h0M690 1335h0M1011 1045h0M976 757h0M802 1029h0M772 569h0M881 1132h0M811 1153h0M977 835h0M464 1454h0M644 332h0M1385 687h0M972 997h0M487 954h0M439 1048h0M1083 232h0M528 1011h0M980 1039h0M596 1121h0M830 1103h0M698 1327h0M395 826h0M793 1382h0M1078 293h0M793 551h0M524 687h0M542 1027h0M804 914h0M846 500h0M334 1175h0M566 828h0M479 1547h0M661 574h0M938 290h0M767 612h0M385 966h0M816 1179h0M821 1064h0M372 796h0M387 818h0M1119 448h0M578 662h0M639 1468h0M1118 680h0M366 760h0M1224 597h0M903 682h0M916 1231h0M994 950h0M482 1050h0M1346 855h0M947 883h0M872 1190h0M1089 546h0M936 1148h0M821 759h0M507 1406h0M755 510h0M1137 875h0M1257 720h0M497 792h0M503 815h0M658 963h0M855 760h0M1057 869h0M554 960h0M839 751h0M459 988h0M905 67h0M633 1300h0M754 219h0M471 1255h0M472 789h0M555 1448h0M1027 258h0M1356 935h0M817 1397h0M798 616h0M890 1324h0M689 491h0M1248 1004h0M822 573h0M482 573h0M781 1076h0M834 1068h0M941 1176h0M418 802h0M701 781h0M684 557h0M305 986h0M931 1033h0M1237 627h0M1189 828h0M924 1281h0M1024 500h0M470 1502h0M877 743h0M598 1113h0M1062 666h0M839 1120h0M1114 483h0M817 1084h0M547 1409h0M292 1078h0M1211 639h0M935 485h0M953 732h0M427 840h0M730 849h0M728 244h0M671 517h0M1110 610h0M422 996h0M537 1225h0M1161 703h0M1017 592h0M312 1116h0M652 238h0M1165 377h0M582 446h0M470 768h0M625 855h0M501 1147h0M1078 169h0M690 566h0M525 264h0M490 914h0M299 1108h0M660 850h0M939 88h0M482 1376h0M1134 292h0M828 1038h0M1044 495h0M569 557h0M867 1463h0M504 1003h0M736 1259h0M831 1214h0M727 1014h0M528 396h0M1052 419h0M820 869h0M1094 835h0M996 908h0M564 633h0M627 546h0M761 115h0M634 603h0M1103 243h0M1097 284h0M924 567h0M295 1082h0M881 1114h0M997 671h0M1314 677h0M482 587h0M566 592h0M729 833h0M858 105h0M952 785h0M595 939h0M547 161h0M645 142h0M315 1311h0M610 672h0M1173 336h0M471 528h0M1043 683h0M1262 639h0M908 623h0M1110 182h0M718 1437h0M1088 200h0M1130 714h0M850 191h0M1179 837h0M633 1392h0M861 946h0M501 956h0M486 1248h0M757 564h0M303 1318h0M593 1022h0M521 623h0M403 1048h0M776 89h0M515 603h0M412 771h0M849 1106h0M566 708h0M763 771h0M664 1443h0M1126 420h0M815 1434h0M896 1041h0M1340 798h0M849 890h0M1029 1196h0M951 817h0M1381 551h0M581 1154h0M1119 930h0M544 634h0M1124 189h0M829 772h0M1057 301h0M1043 1102h0M863 523h0M650 1542h0M1311 438h0M539 388h0M1096 702h0M1118 1087h0M1039 586h0M1064 492h0M1069 272h0M1050 904h0M800 590h0M484 970h0M934 1020h0M805 536h0M797 544h0M1018 807h0M792 1517h0M867 416h0M479 1478h0M1046 689h0M584 1084h0M633 923h0M1121 883h0M930 848h0M738 264h0M979 878h0M557 1048h0M619 852h0M519 717h0M683 1084h0M411 859h0M379 1458h0M607 1333h0M415 904h0M1349 824h0M508 538h0M1127 768h0M1065 645h0M1124 944h0M812 771h0M570 1290h0M670 1543h0M957 1009h0M945 514h0M1376 893h0M309 791h0M1319 414h0M554 751h0M515 1413h0M851 639h0M571 460h0M952 465h0M592 1377h0M1059 433h0M603 1320h0M994 816h0M926 293h0M860 742h0M560 440h0M495 332h0M933 405h0M725 1270h0M1198 909h0M739 1101h0M520 1053h0M683 1135h0M1268 747h0M1050 288h0M479 714h0M645 1195h0M577 317h0M1294 780h0M960 513h0M618 208h0M694 528h0M468 939h0M558 453h0M865 143h0M887 909h0M802 1502h0M759 123h0M742 599h0M809 833h0M474 1178h0M1259 726h0M1078 603h0M1191 245h0M745 1124h0M1219 687h0M873 1347h0M1131 400h0M1352 829h0M540 275h0M904 1320h0M886 561h0M484 895h0M481 1039h0M792 1138h0M833 1085h0M853 100h0M1194 288h0M956 159h0M881 1128h0M658 940h0M780 223h0M942 183h0M456 1157h0M1025 665h0M860 761h0M634 1404h0M717 579h0M1184 706h0M986 169h0M1020 1048h0M1052 892h0M842 908h0M555 290h0M360 894h0M918 474h0M669 1227h0M728 107h0M1118 1132h0M639 1459h0M934 598h0M915 976h0M1396 563h0M435 733h0M955 1048h0M584 1236h0M841 1079h0M972 577h0M1358 570h0M535 706h0M840 1251h0M1290 904h0M954 743h0M1275 789h0M689 604h0M268 1182h0M865 919h0M728 720h0M1092 201h0M573 616h0M443 998h0M842 1263h0M790 1143h0M1127 538h0M733 907h0M471 459h0M1050 1103h0M904 752h0M1189 752h0M756 1541h0M568 1564h0M876 557h0M1168 698h0M1118 892h0M668 911h0M635 694h0M309 1359h0M495 1327h0M497 678h0M494 982h0M1104 1196h0M479 984h0M607 251h0M573 1147h0M972 384h0M449 1525h0M1374 834h0M364 1523h0M941 230h0M598 1387h0M510 1132h0M877 994h0M702 1487h0M1182 380h0M465 596h0M684 557h0M456 809h0M797 1257h0M471 1012h0M602 1114h0M301 1029h0M696 580h0M942 619h0M317 1311h0M938 1074h0M848 606h0M873 554h0M548 762h0M1222 428h0M1114 964h0M855 516h0M601 553h0M481 1506h0M739 60h0M664 617h0M886 1163h0M797 516h0M1114 738h0M797 1106h0M980 399h0M1370 573h0M1272 469h0M797 1106h0M445 1398h0M760 1507h0M1226 1063h0M894 894h0M1073 664h0M995 569h0M975 712h0M539 1542h0M749 766h0M408 933h0M1058 506h0M449 1279h0M999 958h0M917 1118h0M1152 467h0M440 1400h0M889 750h0M878 1350h0M1110 953h0M428 1238h0M858 686h0M537 1368h0M686 259h0M1133 356h0M1044 1218h0M1287 561h0M1184 692h0M905 818h0M585 1083h0M983 348h0M850 1385h0M829 1036h0M542 604h0M806 1043h0M613 185h0M999 616h0M482 1162h0M683 1227h0M944 758h0M1087 803h0M419 1024h0M430 893h0M478 924h0M720 552h0M639 580h0M1181 414h0M860 952h0M1311 463h0M806 1099h0M457 741h0M304 1393h0M682 1415h0M1058 488h0M664 583h0M900 62h0M769 814h0M355 724h0M943 640h0M975 1023h0M756 623h0M482 592h0M340 911h0M1289 409h0M818 387h0M666 1367h0M885 1308h0M834 704h0M1129 227h0M854 1201h0M917 319h0M344 669h0M679 1193h0M841 825h0M928 1015h0M421 823h0M999 1012h0M285 1142h0M576 617h0M1003 1036h0M648 1151h0M831 863h0M1196 492h0M505 1180h0M284 961h0M706 1279h0M1069 472h0M460 1433h0M642 554h0M850 526h0M1374 644h0M370 679h0M1052 383h0M412 856h0M302 730h0M879 95h0M664 657h0M628 1233h0M486 596h0M1202 1057h0M321 899h0M1389 756h0M382 1163h0M1359 482h0M710 385h0M318 1202h0M719 1232h0M813 565h0M423 880h0M830 1185h0M1055 809h0M1225 1096h0M641 1308h0M856 220h0M1071 302h0M391 1134h0M1219 841h0M1024 494h0M815 478h0M992 448h0M910 425h0M1062 959h0M917 786h0M590 502h0M759 1545h0M654 449h0M929 944h0M1009 896h0M972 1226h0M353 1419h0M756 1169h0M913 1026h0M1306 380h0M312 934h0M978 407h0M893 154h0M838 831h0M613 1546h0M1049 503h0M502 1453h0M534 1157h0M484 826h0M838 953h0M615 588h0M947 1018h0M583 315h0M1103 597h0M818 740h0M468 960h0M919 418h0M417 875h0M728 1135h0M378 1131h0M471 1311h0M621 843h0M1254 398h0M994 691h0M809 323h0M562 601h0M898 180h0M1313 961h0M298 1175h0M546 659h0M352 1291h0M843 190h0M497 1001h0M793 1349h0M619 1551h0M730 370h0M898 788h0M533 1135h0M517 1363h0M767 1321h0M567 1279h0M1035 805h0M1039 596h0M651 1399h0M799 922h0M1209 986h0M1082 865h0M675 390h0M1111 417h0M960 368h0M980 803h0M747 1011h0M694 1227h0M647 728h0M1096 606h0M457 769h0M1263 949h0M613 523h0M935 75h0M820 1232h0M908 411h0M573 914h0M558 1016h0M686 1329h0M343 669h0M1045 296h0M456 789h0M748 1154h0M1089 328h0M1433 679h0M628 1078h0M562 517h0M898 568h0M569 782h0M881 484h0M624 555h0M692 1320h0M1067 329h0M1049 1118h0M482 890h0M1064 806h0M494 1068h0M1156 814h0M446 848h0M533 755h0M1145 931h0M985 483h0M703 687h0M707 816h0M1061 692h0M917 1003h0M775 111h0M504 584h0M1325 512h0M985 446h0M733 1013h0M279 1146h0M951 161h0M590 639h0M1068 399h0M1115 657h0M1288 914h0M581 493h0M796 1166h0M590 1457h0M852 119h0M1068 622h0M1024 1055h0M973 1010h0M556 148h0M986 443h0M888 1114h0M1067 495h0M788 344h0M457 564h0M846 799h0M1031 307h0M1000 530h0M861 1498h0M732 797h0M619 492h0M598 813h0M870 358h0M543 611h0M403 959h0M682 380h0M449 989h0M368 910h0M802 1202h0M822 645h0M1013 398h0M709 896h0M1118 416h0M616 1320h0M782 189h0M957 1249h0M792 487h0M477 977h0M592 593h0M663 709h0M928 574h0M853 645h0M387 1145h0M589 1266h0M731 580h0M577 1157h0M577 1476h0M819 444h0M1205 833h0M813 1179h0M722 1138h0M568 719h0M493 798h0M1124 718h0M1071 1189h0M1129 741h0M821 541h0M546 655h0M979 823h0M679 1130h0M959 1101h0M524 1231h0M476 1053h0M497 1018h0M318 711h0M955 996h0M539 1534h0M286 1099h0M1127 799h0M934 632h0M923 1045h0M1359 729h0M993 273h0M1008 1068h0M770 1422h0M1030 602h0M626 1258h0M728 537h0M1231 320h0M926 968h0M1016 659h0M784 1165h0M637 704h0M459 805h0M680 923h0M467 1329h0M957 764h0M560 638h0M601 612h0M1036 953h0M698 507h0M922 541h0M539 1341h0M892 538h0M1096 1077h0M464 707h0M1085 546h0M893 568h0M995 567h0M857 1487h0M463 1560h0M575 390h0M1014 1176h0M884 1426h0M894 557h0M1124 367h0M329 680h0M1052 562h0M404 1351h0M617 144h0M407 823h0M1153 1023h0M1081 1209h0M921 906h0M687 599h0M822 1233h0M839 1247h0M489 993h0M528 702h0M703 447h0M963 955h0M1091 1096h0M913 742h0M1208 989h0M778 975h0M682 537h0M775 1273h0M974 874h0M745 527h0M1363 568h0M700 1034h0M1001 327h0M1019 811h0M412 601h0M450 1026h0M613 772h0M983 253h0M885 638h0M952 397h0M879 1401h0M1246 565h0M639 541h0M1271 796h0M761 190h0M1244 307h0M1186 450h0M800 1096h0M898 844h0M874 352h0M944 919h0M556 261h0M256 1366h0M853 624h0M955 1019h0M863 1137h0M707 442h0M1076 517h0M767 907h0M962 951h0M828 1214h0M570 980h0M753 521h0M317 1119h0M891 350h0M908 981h0M709 1373h0M263 1153h0M418 795h0M519 1269h0M481 1045h0M413 1535h0M505 1471h0M874 812h0M1260 388h0M963 832h0M361 673h0M1188 760h0M897 812h0M661 542h0M476 839h0M442 1421h0M827 1515h0M1446 658h0M734 1553h0M458 586h0M847 315h0M585 1247h0M916 862h0M643 778h0M615 414h0M810 1232h0M709 532h0M582 666h0M1038 1077h0M529 561h0M386 1545h0M878 739h0M582 636h0M842 698h0M385 776h0M833 1064h0M1017 483h0M780 562h0M692 1134h0M653 666h0M611 572h0M1076 682h0M1051 443h0M654 1511h0M650 1112h0M825 1157h0M463 984h0M1064 309h0M1072 284h0M527 642h0M407 1521h0M627 623h0M648 552h0M724 1438h0M999 719h0M1286 469h0M859 579h0M511 891h0M1023 1002h0M824 1152h0M718 262h0M955 719h0M573 1179h0M401 995h0M1022 503h0M599 1114h0M504 469h0M1068 308h0M906 547h0M1229 523h0M903 655h0M324 1295h0M637 1236h0M788 608h0M830 1220h0M461 759h0M355 1241h0M981 536h0M773 1197h0M727 554h0M1026 144h0M1063 326h0M871 695h0M613 412h0M447 1466h0M1170 388h0M471 795h0M904 1425h0M642 1288h0M457 1191h0M625 1194h0M1317 763h0M980 528h0M349 1386h0M725 1045h0M935 242h0M410 1014h0M1166 876h0M889 599h0M552 906h0M1030 926h0M1007 597h0M633 1144h0M314 1311h0M835 620h0M882 1228h0M356 1259h0M1288 943h0M791 587h0M1052 799h0M694 419h0M841 1176h0M446 1171h0M952 477h0M1319 411h0M1347 532h0M1058 588h0M862 536h0M912 994h0M486 1394h0M888 960h0M1048 396h0M325 1023h0M829 601h0M666 1460h0M918 1076h0M1154 1118h0M715 122h0M372 1014h0M438 1030h0M457 1070h0M970 526h0M862 619h0M947 1000h0M718 1139h0M902 1066h0M933 135h0M1263 878h0M1093 857h0M922 1293h0M1076 180h0M488 1263h0M738 227h0M1170 698h0M1057 186h0M488 376h0M946 738h0M420 922h0M1286 399h0M539 636h0M544 1096h0M1052 790h0M1224 809h0M1063 332h0M546 1417h0M1177 856h0M366 695h0M578 985h0M430 986h0M460 1307h0M1306 695h0M589 412h0M556 561h0M1067 219h0M646 1179h0M797 1453h0M682 1484h0M458 765h0M861 1354h0M740 243h0M327 1057h0M733 1489h0M631 580h0M605 1419h0M892 1040h0M530 606h0M484 1044h0M843 1129h0M1178 749h0M377 948h0M950 646h0M507 704h0M1025 491h0M521 1103h0M970 879h0M1033 598h0M706 1369h0M1171 620h0M1118 1134h0M773 1326h0M871 1132h0M523 738h0M879 1017h0M1053 666h0M860 116h0M513 1063h0M914 174h0M771 149h0M874 1174h0M574 301h0M1296 465h0M537 569h0M451 826h0M550 578h0M1111 780h0M743 1355h0M1100 453h0M566 135h0M657 893h0M910 1430h0M1306 954h0M1147 997h0M488 530h0M977 521h0M1333 721h0M480 496h0M629 1216h0M1079 823h0M775 1334h0M805 245h0M946 728h0M840 473h0M1051 183h0M692 762h0M1078 591h0M782 575h0M858 713h0M293 1029h0M1268 1034h0M1208 1073h0M433 1439h0M630 162h0M1135 1114h0M553 626h0M1131 364h0M1005 532h0M1119 608h0M1156 410h0M1282 415h0M729 521h0M1047 712h0M1266 317h0M849 1148h0M505 650h0M456 1296h0M502 913h0M1264 478h0M1115 601h0M555 633h0M564 844h0M787 497h0M384 1363h0M469 500h0M402 863h0M903 171h0M904 108h0M548 611h0M877 359h0M305 1164h0M1063 185h0M1280 628h0M939 1102h0M464 983h0M1340 728h0M934 1113h0M406 933h0M594 93h0M601 1147h0M939 533h0M688 566h0M505 1412h0M670 550h0M990 659h0M1171 1053h0M389 1143h0M298 1245h0M258 1259h0M438 898h0M289 1136h0M709 551h0M939 901h0M1057 830h0M621 1107h0M539 1352h0M869 925h0M1228 1047h0M1047 663h0M1050 983h0M716 1408h0M938 635h0M742 204h0M851 1080h0M765 1376h0M461 1059h0M492 932h0M413 703h0M1233 673h0M648 986h0M827 356h0M1112 261h0M946 173h0M1254 556h0M641 895h0M1299 1019h0M641 597h0M1096 1056h0M612 991h0M788 202h0M427 615h0M645 1449h0M571 643h0M860 987h0M605 146h0M426 774h0M402 1433h0M569 819h0M889 546h0M636 932h0M1105 603h0M537 610h0M350 1406h0M934 582h0M1126 1097h0M808 63h0M645 216h0M1097 462h0M665 307h0M1059 188h0M373 912h0M1275 846h0M1085 416h0M856 990h0M420 1043h0M516 977h0M938 486h0M568 906h0M387 1079h0M676 188h0M1060 360h0M1252 703h0M681 569h0M990 1119h0M750 1253h0M1034 444h0M1116 967h0M903 124h0M344 930h0M355 1338h0M1147 571h0M680 522h0M469 1059h0M940 73h0M838 459h0M553 782h0M505 1081h0M1057 756h0M827 1226h0M435 563h0M1170 333h0M270 1217h0M687 809h0M766 452h0M815 574h0M1294 1052h0M1227 427h0M521 1042h0M794 1227h0M1078 676h0M1013 1056h0M621 120h0M428 1028h0M807 1133h0M926 375h0M1107 622h0M799 1265h0M922 558h0M906 714h0M633 191h0M830 598h0M865 727h0M845 1141h0M529 609h0M1197 218h0M865 525h0M736 898h0M481 1079h0M1067 453h0M849 1244h0M644 1069h0M741 907h0M964 680h0M813 428h0M453 962h0M1261 602h0M953 559h0M1176 818h0M1089 523h0M536 334h0M981 1034h0M1083 1198h0M729 703h0M1194 614h0M532 1503h0M983 725h0M420 1181h0M799 1441h0M608 74h0M301 1222h0M1137 968h0M752 820h0M436 1119h0M662 736h0M895 468h0M1069 333h0M1141 673h0M1049 308h0M418 1424h0M1058 502h0M1033 891h0M1019 1062h0M370 721h0M764 908h0M961 462h0M454 1009h0M574 1519h0M1126 1166h0M993 204h0M986 885h0M506 959h0M750 929h0M1021 675h0M1153 346h0M423 987h0M392 728h0M412 823h0M415 590h0M1121 1132h0M1114 435h0M1310 908h0M699 559h0M713 993h0M602 1035h0M424 780h0M575 302h0M856 1465h0M762 1290h0M663 841h0M1141 878h0M476 980h0M656 973h0M433 1102h0M849 407h0M631 221h0M431 1052h0M397 1429h0M983 749h0M477 1530h0M633 783h0M856 1100h0M528 717h0M870 436h0M1181 431h0M252 1246h0M825 1099h0M903 501h0M713 313h0M1051 541h0M1095 764h0M1124 1127h0M469 982h0M526 1431h0M763 788h0M753 1328h0M846 87h0M858 1304h0M275 1411h0M573 894h0M656 863h0M489 522h0M1017 503h0M451 809h0M396 878h0M982 900h0M947 304h0M938 756h0M950 1237h0M1054 800h0M603 289h0M606 622h0M752 416h0M754 471h0M1396 611h0M919 981h0M505 281h0M892 162h0M802 632h0M716 1108h0M1064 360h0M511 241h0M501 842h0M436 1564h0M1121 377h0M275 1016h0M966 700h0M313 754h0M934 547h0M844 1294h0M834 734h0M470 1285h0M950 749h0M1211 1064h0M650 1511h0M872 397h0M424 900h0M641 531h0M1055 653h0M738 1139h0M446 729h0M527 1116h0M807 1424h0M681 1082h0M982 557h0M563 464h0M601 266h0M818 497h0" stroke="#111" stroke-width="12.3" stroke-linecap="round" fill="none"/><path d="M946 902h0M1141 543h0M314 1213h0M1387 789h0M1215 344h0M1191 511h0M1065 145h0M674 1162h0M822 63h0M740 1029h0M486 531h0M1178 546h0M1128 177h0M595 547h0M813 1303h0M791 620h0M1048 880h0M603 686h0M581 1564h0M1069 778h0M788 212h0M930 361h0M430 1387h0M487 1494h0M564 619h0M525 323h0M1035 1102h0M881 384h0M1069 756h0M707 1096h0M604 704h0M1101 393h0M588 685h0M1232 538h0M1259 718h0M409 1165h0M1236 950h0M808 1198h0M1192 789h0M1248 592h0M793 560h0M940 507h0M996 992h0M414 555h0M964 942h0M440 674h0M1411 714h0M1025 1230h0M431 1341h0M711 241h0M736 1307h0M1056 449h0M426 811h0M658 335h0M1212 451h0M1065 799h0M862 1024h0M532 303h0M983 966h0M637 982h0M530 1406h0M475 862h0M971 755h0M1332 982h0M1266 582h0M711 360h0M891 1259h0M677 358h0M819 630h0M1129 386h0M429 1056h0M997 1047h0M408 1248h0M693 246h0M561 1163h0M1107 1061h0M930 796h0M755 792h0M1012 123h0M681 544h0M699 692h0M391 994h0M832 1022h0M1064 817h0M848 589h0M567 1067h0M1442 656h0M687 1488h0M545 365h0M312 987h0M922 301h0M1114 247h0M516 641h0M936 614h0M528 1179h0M1007 508h0M1069 974h0M511 715h0M511 482h0M1337 834h0M625 108h0M997 787h0M769 121h0M975 669h0M875 870h0M853 604h0M1093 918h0M655 234h0M578 899h0M1230 1008h0M863 603h0M1354 850h0M388 1394h0M728 230h0M1254 959h0M711 1335h0M1223 284h0M1384 847h0M1137 785h0M980 1168h0M482 1337h0M828 614h0M904 653h0M919 976h0M514 882h0M883 257h0M490 1529h0M351 817h0M340 1227h0M500 787h0M484 714h0M934 993h0M637 472h0M698 1218h0M449 774h0M865 1414h0M465 742h0M1165 833h0M598 982h0M898 1218h0M725 533h0M980 602h0M528 654h0M694 328h0M875 1469h0M521 307h0M955 732h0M1418 748h0M677 486h0M999 814h0M1107 191h0M985 1021h0M643 1422h0M895 1036h0M631 1128h0M939 905h0M477 444h0M1109 346h0M417 558h0M1136 392h0M945 483h0M1018 757h0M814 1385h0M637 551h0M898 639h0M1345 583h0M948 1183h0M567 1049h0M878 73h0M1435 705h0M420 1244h0M1304 1041h0M1019 179h0M583 1489h0M894 795h0M1205 1068h0M819 418h0M1146 536h0M652 1162h0M808 1523h0M1232 1008h0M623 250h0M467 428h0M563 596h0M1257 661h0M729 1420h0M935 689h0M687 565h0M809 1096h0M888 1211h0M1025 805h0M514 717h0M472 1254h0M1003 772h0M733 716h0M494 410h0M855 664h0M1072 618h0M491 1271h0M448 651h0M661 1070h0M867 610h0M874 895h0M1001 643h0M519 709h0M432 588h0M1210 451h0M1132 738h0M608 571h0M621 526h0M1230 599h0M1339 747h0M560 556h0M502 1005h0M629 590h0M648 857h0M1219 535h0M434 661h0M705 251h0M1010 625h0M1258 462h0M1236 982h0M952 600h0M854 192h0M438 921h0M494 1507h0M1015 633h0M1034 1051h0M1255 950h0M399 959h0M823 599h0M998 525h0M682 1042h0M1255 722h0M588 947h0M399 1106h0M681 352h0M720 764h0M528 1078h0M608 83h0M611 213h0M1001 441h0M271 1113h0M423 899h0M1219 772h0M518 984h0M736 1462h0M783 609h0M1236 794h0M1140 670h0M321 1274h0M650 1173h0M1024 1169h0M1085 465h0M428 1066h0M1053 214h0M830 437h0M1289 913h0M1179 1010h0M484 875h0M924 530h0M648 135h0M650 1169h0M992 965h0M1210 955h0M468 1268h0M911 695h0M687 429h0M910 784h0M381 749h0M340 938h0M649 554h0M1351 824h0M841 484h0M509 657h0M710 400h0M813 1201h0M846 949h0M371 958h0M384 662h0M704 574h0M870 1034h0M932 997h0M513 1057h0M844 1086h0M663 1186h0M333 793h0M751 1100h0M520 1438h0M659 1533h0M330 1125h0M1116 391h0M693 347h0M817 129h0M882 1396h0M1110 959h0M695 1120h0M740 503h0M715 504h0M875 158h0M402 1291h0M1180 1128h0M483 947h0M801 1117h0M865 137h0M530 518h0M1294 714h0M459 619h0M1348 545h0M1150 642h0M443 930h0M651 738h0M956 79h0M969 961h0M1319 563h0M1363 754h0M1277 321h0M860 1488h0M460 736h0M964 158h0M910 1055h0M1013 572h0M484 1111h0M675 197h0M607 1102h0M975 1021h0M419 702h0M1376 587h0M848 889h0M892 146h0M899 910h0M904 866h0M398 767h0M988 1194h0M526 1529h0M771 1113h0M962 970h0M1005 801h0M1330 589h0M973 743h0M399 1429h0M863 1056h0M361 1108h0M975 208h0M501 1186h0M723 1001h0M1202 905h0M850 819h0M577 576h0M1060 610h0M702 565h0M1175 653h0M553 626h0M834 409h0M590 1156h0M860 1045h0M983 557h0M1285 326h0M991 853h0M521 354h0M576 808h0M957 448h0M490 492h0M850 709h0M1283 489h0M780 549h0M905 708h0M1084 504h0M737 1167h0M435 640h0M483 978h0M445 1060h0M306 1300h0M1243 773h0M479 993h0M635 1004h0M1195 1028h0M890 575h0M522 593h0M864 1450h0M797 1101h0M576 1053h0M918 686h0M347 1126h0M1112 848h0M450 601h0M1227 407h0M889 1039h0M926 354h0M1150 838h0M1183 876h0M1343 633h0M746 1183h0M877 265h0M614 1162h0M702 1048h0M1317 727h0M1223 376h0M973 893h0M755 667h0M1240 903h0M1235 657h0M874 135h0M379 1053h0M455 834h0M698 1254h0M1258 356h0M1028 526h0M331 1455h0M305 715h0M627 84h0M1274 931h0M1244 318h0M322 1094h0M819 773h0M439 719h0M604 1144h0M718 1513h0M1068 541h0M707 538h0M485 1139h0M658 102h0M1023 662h0M1070 1107h0M315 1374h0M695 1057h0M661 745h0M882 1073h0M556 1100h0M999 276h0M843 1060h0M677 634h0M468 957h0M636 584h0M1120 248h0M428 759h0M837 1439h0M1068 958h0M526 670h0M1375 805h0M983 715h0M1201 340h0M765 450h0M960 618h0M745 549h0M581 640h0M1392 554h0M285 940h0M682 1119h0M1345 730h0M1406 591h0M469 1018h0M554 612h0M356 1419h0M881 204h0M975 129h0M1432 690h0M704 1097h0M532 1096h0M968 547h0M512 964h0M1033 995h0M601 1463h0M1146 819h0M1160 676h0M1223 1010h0M1063 1179h0M742 1076h0M612 482h0M1056 1074h0M1068 617h0M729 1064h0M1188 216h0M469 941h0M572 534h0M649 1019h0M693 1070h0M1168 1125h0M1217 637h0M1040 652h0M817 947h0M600 554h0M263 1076h0M1200 729h0M1141 990h0M730 334h0M821 1359h0M482 1246h0M1034 727h0M1269 862h0M1311 572h0M426 739h0M1047 543h0M658 149h0M1127 1174h0M484 1162h0M1282 599h0M1109 538h0M1026 517h0M890 985h0M601 121h0M1250 477h0M1040 477h0M965 883h0M745 1308h0M812 1093h0M898 656h0M1233 1041h0M780 782h0M902 668h0M1031 259h0M1287 991h0M744 1333h0M1289 1031h0M1070 228h0M879 661h0M1125 906h0M1040 670h0M297 1228h0M574 678h0M767 935h0M1267 543h0M718 340h0M438 935h0M633 1217h0M465 799h0M424 854h0M791 1376h0M843 1451h0M478 1148h0M650 567h0M392 831h0M833 788h0M967 601h0M316 714h0M930 569h0M1192 231h0M506 716h0M532 1236h0M859 948h0M575 1232h0M943 942h0M596 1323h0M1168 947h0M1001 154h0M392 1204h0M1033 896h0M364 723h0M899 533h0M430 1274h0M796 1502h0M728 547h0M1420 632h0M867 742h0M910 1056h0M691 924h0M678 288h0M725 503h0M1101 503h0M1221 520h0M335 801h0M566 1477h0M447 709h0M828 751h0M1083 614h0M1265 362h0M682 1230h0M451 884h0M958 1273h0M874 614h0M1338 566h0M693 1557h0M557 618h0M645 1178h0M277 1108h0M1201 426h0M1006 428h0M907 606h0M665 706h0M608 826h0M718 121h0M712 70h0M1166 385h0M913 642h0M591 132h0M767 1071h0M1069 325h0M1257 802h0M1082 165h0M958 387h0M1055 888h0M867 808h0M1081 306h0M933 1197h0M312 1330h0M886 581h0M1020 1043h0M893 775h0M1405 569h0M706 1032h0M1113 794h0M926 899h0M573 817h0M354 812h0M1186 493h0M871 417h0M554 729h0M1005 553h0M510 1457h0M518 256h0M1093 1173h0M1125 788h0M308 1207h0M910 1008h0M715 504h0M1021 225h0M776 899h0M861 1032h0M926 113h0M907 1004h0M846 673h0M1049 436h0M1114 1173h0M714 547h0M867 566h0M826 65h0M860 759h0M573 678h0M940 191h0M992 153h0M425 1146h0M378 1532h0M1094 672h0M1030 1055h0M1052 499h0M688 1187h0M815 594h0M1081 639h0M460 719h0M927 1344h0M1228 810h0M678 283h0M521 665h0M605 685h0M930 82h0M557 601h0M729 716h0M568 1488h0M595 1324h0M964 1036h0M777 1485h0M855 957h0M649 1105h0M549 1003h0M501 612h0M956 912h0M1042 152h0M873 1046h0M437 791h0M577 607h0M995 715h0M935 877h0M462 825h0M549 722h0M649 1337h0M1074 356h0M826 794h0M541 599h0M574 604h0M453 1320h0M821 1150h0M944 532h0M629 1141h0M400 1124h0M554 980h0M848 175h0M844 1062h0M855 138h0M474 563h0M1308 641h0M522 1526h0M448 1100h0M1287 747h0M719 1143h0M596 433h0M846 452h0M392 1539h0M773 708h0M903 974h0M1013 739h0M508 1242h0M1261 747h0M460 844h0M1232 460h0M530 395h0M891 1056h0M949 923h0M776 587h0M1187 981h0M795 981h0M719 1022h0M830 722h0M842 1042h0M755 1221h0M678 1528h0M764 379h0M1128 742h0M1037 686h0M756 494h0M678 958h0M918 341h0M535 1024h0M435 577h0M995 579h0M907 1081h0M865 485h0M1024 993h0M750 567h0M765 983h0M500 1056h0M896 1071h0M767 588h0M853 605h0M780 307h0M814 582h0M842 1073h0M871 622h0M1284 907h0M950 708h0M882 1409h0M968 458h0M767 624h0M890 1354h0M1392 690h0M890 1119h0M730 1126h0M380 1508h0M1324 458h0M488 1273h0M746 124h0M295 745h0M323 1006h0M771 163h0M1182 982h0M982 755h0M859 1114h0M522 749h0M1084 438h0M438 1004h0M1255 768h0M777 1104h0M752 817h0M344 744h0M948 411h0M707 983h0M861 361h0M556 457h0M293 800h0M751 1077h0M511 621h0M772 1072h0M997 407h0M816 1506h0M610 153h0M619 1493h0M361 1326h0M558 225h0M1126 709h0M891 853h0M615 551h0M426 893h0M1108 351h0M688 316h0M796 597h0M847 238h0M1138 512h0M334 830h0M1371 709h0M558 1044h0M937 624h0M278 993h0M360 650h0M888 1271h0M866 591h0M772 395h0M436 1147h0M891 1458h0M666 80h0M659 790h0M1035 802h0M466 1038h0M728 829h0M961 95h0M575 1232h0M780 960h0M452 810h0M860 1091h0M949 764h0M549 1054h0M1271 678h0M285 1124h0M566 1371h0M917 816h0M852 802h0" stroke="#111" stroke-width="6.1" stroke-linecap="round" fill="none"/><path d="M1125 941h0M1265 748h0M774 553h0M669 1479h0M840 507h0M794 466h0M608 787h0M792 243h0M902 689h0M402 913h0M483 969h0M900 1055h0M969 893h0M542 957h0M941 914h0M601 294h0M621 1119h0M574 1313h0M970 553h0M1139 229h0M644 551h0M826 329h0M1053 482h0M1105 177h0M452 854h0M642 1181h0M478 1322h0M552 953h0M789 1314h0M659 989h0M764 164h0M928 652h0M1220 951h0M1298 564h0M390 1537h0M1103 237h0M811 1122h0M1078 627h0M856 1315h0M759 1200h0M420 559h0M502 1494h0M934 279h0M459 803h0M694 539h0M967 1231h0M686 239h0M256 1386h0M678 990h0M1284 327h0M1350 521h0M823 775h0M689 1120h0M1337 533h0M542 1273h0M681 137h0M1020 681h0M1123 835h0M739 1464h0M503 563h0M999 441h0M453 982h0M334 1389h0M848 1150h0M607 1135h0M1294 373h0M942 487h0M1084 926h0M707 789h0M1288 946h0M610 595h0M964 990h0M1052 1117h0M1046 579h0M858 658h0M443 935h0M947 380h0M990 493h0M603 1117h0M1220 790h0M763 118h0M580 1239h0M913 489h0M573 373h0M521 1157h0M1065 172h0M706 1132h0M1126 442h0M790 1154h0M1189 612h0M895 1060h0M1008 842h0M1290 1038h0M836 877h0M1250 568h0M1286 650h0M814 1115h0M581 1441h0M296 1029h0M836 251h0M840 555h0M531 583h0M1170 528h0M1279 850h0M380 1315h0M1028 632h0M984 1045h0M784 780h0M709 1391h0M1367 916h0M499 1455h0M899 1050h0M1152 187h0M543 825h0M590 365h0M1345 885h0M552 1076h0M414 1358h0M530 1082h0M763 593h0M1057 790h0M800 263h0M935 345h0M721 1523h0M1199 459h0M855 752h0M886 510h0M345 1073h0M589 1243h0M704 924h0M973 728h0M858 618h0M958 520h0M839 908h0M558 1157h0M1001 821h0M618 1431h0M861 1153h0M1004 626h0M795 326h0M929 734h0M977 466h0M1127 1176h0M759 1506h0M1051 1091h0M878 1332h0M902 1449h0M658 488h0M1003 948h0M506 333h0M1266 285h0M826 201h0M591 1321h0M724 1378h0M1202 501h0M1024 1176h0M335 968h0M1143 1025h0M833 350h0M1228 484h0M1025 866h0M651 884h0M889 608h0M511 889h0M478 1497h0M328 802h0M1296 695h0M943 586h0M774 1542h0M1095 634h0M417 820h0M1120 537h0M280 1305h0M874 126h0M855 1312h0M1353 841h0M900 483h0M307 1357h0M668 906h0M961 762h0M838 1071h0M782 210h0M406 861h0M561 1294h0M653 411h0M780 1048h0M817 122h0M271 1149h0M682 538h0M1308 429h0M875 908h0M605 1155h0M1173 1041h0M1040 558h0M1037 1045h0M543 1321h0M468 1281h0M1001 586h0M913 1012h0M671 1412h0M464 1154h0M711 215h0M1028 697h0M387 1121h0M1272 639h0M777 78h0M904 354h0M953 296h0M829 716h0M650 944h0M754 604h0M484 1044h0M1089 682h0M672 1052h0M584 776h0M1098 752h0M1213 945h0M649 603h0M1307 475h0M800 56h0M601 521h0M1216 725h0M479 614h0M621 488h0M1112 723h0M591 1233h0M325 1090h0M1078 511h0M648 1478h0M1075 618h0M541 1121h0M546 1076h0M728 1458h0M952 581h0M1080 688h0M1045 222h0M866 1252h0M835 1105h0M493 1005h0M371 1275h0M682 1121h0M1109 564h0M905 1216h0M661 491h0M708 452h0M597 474h0M489 668h0M1143 610h0M473 1193h0M890 270h0M1269 320h0M813 1372h0M556 381h0M1065 948h0M1013 177h0M892 570h0M859 1011h0M739 790h0M1159 943h0M1397 625h0M1279 330h0M541 464h0M1012 176h0M717 1183h0M1074 275h0M932 1267h0M733 456h0M911 1367h0M1176 1011h0M278 1108h0M472 461h0M657 1359h0M685 1294h0M1098 437h0M421 1409h0M998 953h0M948 1052h0M929 1343h0M615 210h0M592 738h0M947 751h0M530 729h0M1054 982h0M961 641h0M894 509h0M959 790h0M681 608h0M618 606h0M800 1158h0M902 844h0M785 1044h0M1133 770h0M1022 676h0M575 690h0M643 558h0M788 940h0M1014 795h0M525 796h0M776 406h0M1061 1060h0M692 1424h0M493 1492h0M522 557h0M1163 793h0M551 595h0M492 636h0M1008 689h0M487 788h0M644 157h0M447 694h0M701 554h0M991 775h0M475 1003h0M628 1306h0M561 889h0M777 467h0M741 776h0M416 1125h0M841 945h0M372 728h0M1259 340h0M1114 902h0M896 1299h0M586 606h0M376 1073h0M847 593h0M335 1111h0M1037 791h0M1416 604h0M936 536h0" stroke="#111" stroke-width="18.4" stroke-linecap="round" fill="none"/></g><g filter="url(#b4)"><path d="M926 1011h0M683 570h0M838 611h0M560 1061h0M649 533h0M460 780h0M529 1013h0M452 983h0M472 794h0M924 916h0M730 1124h0M819 635h0M944 943h0M695 535h0M787 1120h0M621 1093h0M842 559h0M593 1149h0M530 1073h0M853 589h0M742 1105h0M621 1111h0M869 1052h0M472 899h0M470 656h0M918 651h0M693 1151h0M634 1087h0M666 1156h0M446 940h0M475 871h0M883 1054h0M737 1105h0M812 1094h0M650 1176h0M664 574h0M563 1047h0M448 735h0M516 599h0M781 1130h0M606 1048h0M498 1003h0M537 611h0M704 1194h0M468 782h0M490 934h0M506 563h0M458 746h0M490 690h0M524 605h0M473 1005h0M886 639h0M760 1085h0M745 1127h0M771 641h0M774 1133h0M483 973h0M459 984h0M504 958h0M571 1132h0M939 949h0M928 890h0M707 571h0M794 625h0M667 1146h0M850 645h0M932 848h0M677 575h0M653 581h0M543 1074h0M582 568h0M922 706h0M645 573h0M459 720h0M514 666h0M982 834h0M555 627h0M450 895h0M979 894h0M500 685h0M575 550h0M616 568h0M965 994h0M931 834h0M942 1028h0M694 1112h0M921 985h0M463 768h0M782 599h0M468 999h0M913 1057h0M811 580h0M970 834h0M809 578h0M632 1132h0M827 676h0M523 654h0M833 1032h0M569 1091h0M728 596h0M947 806h0M662 602h0M934 721h0M767 570h0M845 635h0M675 1110h0M935 824h0M598 670h0M859 620h0M940 1035h0M594 1076h0M964 838h0M503 616h0M717 537h0M840 564h0M462 820h0M560 584h0M480 1010h0M677 550h0M715 1141h0M756 1045h0M573 1113h0M967 985h0M496 1029h0M955 827h0M579 1177h0M973 807h0M908 996h0M535 675h0M848 1058h0M829 619h0M942 988h0M941 886h0M607 1120h0M680 565h0M737 1104h0M557 685h0M729 517h0M857 633h0M440 1002h0M693 1158h0M538 604h0M690 1163h0M432 797h0M654 559h0M941 804h0M637 1125h0M715 584h0M576 1037h0M722 574h0M716 543h0M699 1122h0M813 614h0M944 819h0M907 669h0M777 607h0M504 1013h0M468 645h0M687 538h0M467 998h0M960 926h0M468 884h0M482 720h0M778 1112h0M901 1009h0M617 593h0M764 575h0M511 826h0M479 789h0M462 817h0M686 1122h0M576 1050h0M895 1007h0M586 1093h0M893 638h0M526 739h0M660 568h0M427 751h0M771 1099h0M796 1084h0M749 580h0M649 1183h0M893 664h0M828 1071h0M467 841h0M422 865h0M943 906h0M599 555h0M701 1119h0M697 570h0M529 645h0M965 822h0M809 1092h0M658 1125h0M808 1131h0M884 1013h0M934 915h0M737 579h0M509 674h0M749 1116h0M767 545h0M453 910h0M435 871h0M920 1013h0M900 1011h0M956 770h0M758 567h0M801 590h0M723 568h0M943 796h0M930 829h0M769 1093h0M855 587h0M906 652h0M613 1079h0M963 876h0M792 1133h0M833 1017h0M861 1122h0M963 812h0M953 910h0M729 1100h0M602 606h0M736 1134h0M680 1154h0M596 574h0M874 963h0M462 959h0M911 1029h0M865 998h0M812 562h0M915 761h0M698 569h0M898 693h0M842 637h0M640 547h0M777 1113h0M884 631h0M597 1157h0M682 533h0M783 1148h0M882 649h0M820 1099h0M541 1074h0M457 762h0M599 1093h0M493 1083h0M709 560h0M856 1014h0M857 591h0M599 583h0M435 784h0M655 617h0M915 706h0M960 968h0M493 705h0M466 766h0M474 813h0M615 592h0M958 950h0M908 772h0M601 609h0M649 553h0M692 1191h0M909 640h0M903 811h0M577 584h0M478 732h0M761 594h0M555 609h0M439 829h0M559 1111h0M953 779h0M771 557h0M655 1152h0M604 543h0M759 556h0M913 1039h0M455 790h0M836 1128h0M920 1016h0M771 1189h0M738 1125h0M765 567h0M852 1108h0M923 968h0M751 1123h0M940 713h0M673 597h0M824 598h0M474 730h0M900 701h0M677 1178h0M917 922h0M535 1055h0M476 702h0M465 732h0M927 947h0M575 1079h0M501 637h0M878 625h0M941 734h0M806 644h0M895 935h0M446 805h0M497 1048h0M819 585h0M951 978h0M453 969h0M600 542h0M713 1147h0M534 707h0M917 769h0M449 732h0M445 823h0M498 992h0M783 1101h0M538 635h0M895 667h0M959 803h0M892 1038h0M527 972h0M591 616h0M445 773h0M471 825h0M917 1014h0M938 844h0M965 742h0M926 934h0M641 572h0M894 638h0M799 1094h0M520 598h0M614 630h0M964 994h0M942 822h0M720 1129h0M844 1102h0M528 665h0M610 593h0M514 1087h0M662 553h0M515 1077h0M407 910h0M574 651h0M623 600h0M901 766h0M626 1117h0M472 787h0M835 612h0M455 768h0M469 995h0M934 861h0M537 597h0M564 602h0M960 929h0M810 1139h0M827 609h0M745 580h0M789 559h0M982 765h0M889 993h0M570 612h0M952 805h0M896 684h0M916 915h0M785 579h0M832 1107h0M898 929h0M910 676h0M771 1126h0M572 613h0M915 1021h0M930 846h0M476 933h0M907 665h0M766 593h0M699 603h0M854 1100h0M449 849h0M583 1081h0M461 919h0M469 935h0M785 1113h0M912 932h0M996 853h0M578 645h0M870 1012h0M428 824h0M961 841h0M985 857h0M877 654h0M759 1145h0M495 1011h0M634 581h0M857 1061h0M629 1116h0M712 537h0M914 749h0M957 842h0M505 643h0M454 880h0M920 1019h0M908 918h0M788 597h0M964 805h0M797 607h0M922 931h0M915 669h0M940 861h0M456 889h0M546 593h0M694 565h0M755 1138h0M661 1138h0M592 1135h0M971 965h0M928 640h0M819 1114h0M765 1165h0M687 1139h0M905 617h0M443 843h0M608 584h0M672 572h0M931 1020h0M564 658h0M943 813h0M600 574h0M882 666h0M421 860h0M433 874h0M661 1097h0M481 674h0M682 575h0M466 920h0M485 727h0M833 1082h0M458 929h0M923 657h0M859 630h0M873 638h0M928 750h0M899 1056h0M524 673h0M538 620h0M963 850h0M674 1132h0M931 982h0M514 663h0M530 1058h0M520 1071h0M465 820h0M812 591h0M927 943h0M701 568h0M668 1150h0M676 1162h0M508 1036h0M494 692h0M944 967h0M537 578h0M467 696h0M696 525h0M548 654h0M847 631h0M635 563h0M546 617h0M991 811h0M629 1099h0M658 603h0M762 1179h0M545 1106h0M812 583h0M906 992h0M615 602h0M451 845h0M956 898h0M951 1011h0M940 944h0M1077 540h0M1004 692h0M878 551h0M911 721h0M1020 694h0M1001 805h0M942 578h0M821 717h0M948 751h0M1037 616h0M1084 613h0M953 789h0M972 735h0M939 636h0M639 634h0M1047 529h0M882 563h0M781 529h0M910 550h0M1102 631h0M1055 796h0M1007 573h0M978 728h0M1068 529h0M1021 721h0M987 754h0M998 747h0M1087 752h0M979 550h0M838 749h0M983 646h0M977 684h0M954 657h0M985 698h0M890 744h0M1006 656h0M996 549h0M1041 586h0M945 565h0M905 724h0M841 384h0M1010 922h0M802 652h0M969 640h0M1065 604h0M1017 629h0M942 563h0M858 708h0M1003 812h0M1047 597h0M952 668h0M1090 566h0M969 631h0M864 753h0M878 492h0M1047 664h0M1151 680h0M943 643h0M969 620h0M871 780h0M1015 670h0M967 626h0M952 702h0M898 764h0M1032 734h0M926 614h0M762 726h0M819 514h0M899 509h0M999 777h0M913 509h0M980 592h0M875 793h0M981 692h0M888 762h0M986 606h0M923 745h0M1073 629h0M984 680h0M846 703h0M903 652h0M820 752h0M927 734h0M968 559h0M987 615h0M876 597h0M874 803h0M981 641h0M884 581h0M990 646h0M910 516h0M797 645h0M987 759h0M799 650h0M885 676h0M853 733h0M1068 651h0M870 519h0M898 728h0M778 573h0M891 639h0M921 660h0M753 735h0M944 735h0M922 729h0M1079 585h0M1112 727h0M937 631h0M869 657h0M939 711h0M954 540h0M979 651h0M1049 579h0M821 653h0M929 560h0M1012 593h0M1039 635h0M750 730h0M992 753h0M991 407h0M887 757h0M1002 717h0M840 535h0M899 603h0M937 606h0M963 745h0M1006 702h0M983 767h0M1057 623h0M845 612h0M1021 553h0M915 704h0M942 623h0M946 570h0M1042 720h0M980 557h0M1088 705h0M1024 620h0M987 872h0M890 659h0M949 668h0M964 483h0M1044 554h0M1006 665h0M917 614h0M957 618h0M1060 612h0M926 658h0M1151 571h0M979 702h0M1027 771h0M923 598h0M929 638h0M1149 615h0M942 541h0M911 756h0M788 738h0M827 817h0M890 623h0M878 646h0M1089 674h0M998 643h0M943 407h0M903 505h0M958 790h0M923 505h0M935 745h0M912 556h0M973 775h0M1022 459h0M884 681h0M998 767h0M1023 618h0M839 694h0M949 817h0M1086 786h0M923 596h0M1071 759h0M809 696h0M1019 629h0M949 525h0M993 702h0M1025 542h0M869 638h0M900 643h0M842 769h0M948 666h0M1056 667h0M868 741h0M935 702h0M901 686h0M1079 655h0M1214 740h0M936 639h0M948 689h0M819 653h0M863 577h0M935 590h0M962 588h0M870 646h0M914 692h0M963 658h0M984 790h0M956 596h0M996 771h0M1147 683h0M1131 685h0M938 495h0M1022 629h0M1164 499h0M903 650h0M866 693h0M1065 742h0M1024 720h0M1168 679h0M986 736h0M988 779h0M980 492h0M916 556h0M982 645h0" stroke="#111" stroke-width="13" stroke-linecap="round"/></g><g filter="url(#b4)"><path d="M1645 51h0M1542 397h0M1527 101h0M1572 43h0M1488 137h0M1527 364h0M1628 400h0M1581 374h0M1470 233h0M1586 347h0M1578 237h0M1557 197h0M1642 363h0M1535 401h0M1490 298h0M1598 381h0M1581 60h0M1471 312h0M1549 91h0M1568 225h0M1585 418h0M1484 128h0M1495 325h0M1618 105h0M1487 304h0M1495 340h0M1557 283h0M1578 228h0M1603 133h0M1551 339h0M1496 237h0M1549 420h0M1491 337h0M1443 78h0M1509 60h0M1525 282h0M1457 214h0M1542 376h0M1546 239h0M1553 389h0M1576 137h0M1637 219h0M1511 181h0M1634 213h0M1538 78h0M1459 112h0M1621 410h0M1526 418h0M1584 401h0M1604 283h0M1486 275h0M1551 129h0M1458 278h0M1573 163h0M1532 308h0M1562 213h0M1600 161h0M1595 30h0M1464 307h0M1526 114h0M1464 126h0M1608 412h0M1493 254h0M1642 352h0M1564 110h0M1525 92h0M1496 84h0M1591 222h0M1476 208h0M1457 118h0M1545 106h0M1557 397h0M1523 340h0M1549 107h0M1554 285h0M1523 294h0M1641 87h0M1516 325h0M1450 215h0M1471 41h0M1500 277h0M1518 91h0M1519 144h0M1509 278h0M1578 161h0M1634 210h0M1593 313h0M1595 61h0M1575 333h0M1452 49h0M1624 417h0M1569 56h0M1502 201h0M1636 96h0M1625 418h0M1599 364h0M1598 105h0M1489 46h0M1567 164h0M1637 78h0M1546 388h0M1473 234h0M1631 225h0M1560 192h0M1570 115h0M1636 414h0M1493 293h0M1645 176h0M1536 248h0M1582 293h0M1473 104h0M1577 137h0M1503 86h0M1600 123h0M1605 73h0M1519 276h0M1578 115h0M1620 215h0M1607 67h0M1589 405h0M1645 85h0M1576 274h0M1504 273h0M1525 269h0M1497 221h0M1459 164h0M1533 284h0M1577 384h0M1471 86h0M1536 130h0M1517 260h0M1598 336h0M1604 70h0M1639 43h0M1545 299h0M1609 377h0M1452 75h0M1610 346h0M1632 70h0M1532 410h0M1591 335h0M1459 235h0M1610 113h0M1595 376h0M1647 145h0M1592 50h0M1493 392h0M1523 420h0M1594 166h0M1617 94h0M1512 420h0M1509 330h0M1473 214h0M1496 119h0M1641 388h0M1457 193h0M1450 178h0M1465 110h0M1544 182h0M1496 244h0M1546 59h0M1553 248h0M1500 326h0M1642 331h0M1517 157h0M1634 120h0M1608 37h0M1525 413h0M1619 405h0M1503 84h0M1649 389h0M1444 48h0M1448 220h0M1637 146h0M1641 225h0M1620 79h0M1558 222h0M1468 37h0" stroke="#111" stroke-width="12.3" stroke-linecap="round" fill="none"/><path d="M1633 92h0M1464 206h0M1529 90h0M1553 158h0M1638 251h0M1536 303h0M1475 259h0M1647 219h0M1538 201h0M1629 170h0M1577 322h0M1553 333h0M1568 94h0M1605 404h0M1597 133h0M1593 48h0M1544 215h0M1559 50h0M1635 343h0M1623 352h0M1534 229h0" stroke="#111" stroke-width="18.4" stroke-linecap="round" fill="none"/><path d="M1442 57h0M1478 66h0M1530 41h0M1476 78h0M1467 264h0M1596 334h0M1518 57h0M1472 209h0M1555 339h0M1507 371h0M1475 188h0M1617 301h0M1629 268h0M1612 152h0M1465 164h0M1586 354h0M1643 79h0M1564 256h0M1609 284h0M1646 147h0M1545 326h0M1606 308h0M1528 40h0M1503 336h0M1504 393h0M1462 251h0M1520 230h0M1531 363h0M1554 276h0M1560 247h0M1606 356h0M1631 55h0M1540 92h0M1449 212h0M1550 279h0M1443 36h0M1628 314h0M1491 289h0M1592 345h0M1615 54h0M1637 323h0M1540 126h0M1473 49h0M1448 246h0M1611 420h0M1459 219h0M1645 298h0M1572 137h0M1549 94h0M1537 183h0M1577 64h0M1481 301h0M1454 263h0M1639 262h0M1545 42h0M1518 344h0M1503 168h0M1501 44h0M1531 404h0M1487 264h0M1491 205h0M1499 185h0M1520 309h0M1509 304h0M1647 190h0M1565 361h0M1542 283h0M1524 291h0M1475 191h0M1614 392h0M1564 345h0M1522 362h0M1564 344h0M1593 370h0M1525 259h0M1607 187h0M1505 328h0M1560 338h0M1463 43h0M1606 91h0M1487 271h0M1626 59h0M1539 47h0M1543 96h0M1598 90h0M1476 270h0M1588 240h0M1480 32h0M1486 202h0M1453 70h0M1598 173h0M1552 215h0M1645 256h0M1595 187h0M1501 306h0M1462 194h0M1445 109h0M1493 380h0M1510 120h0M1551 357h0M1549 195h0" stroke="#111" stroke-width="6.1" stroke-linecap="round" fill="none"/></g><rect x="865" y="905" width="165" height="145" fill="none" stroke="#e3262e" stroke-width="15" stroke-dasharray="26,20"/></g></g>
<clipPath id="cc5"><rect x="1124.7" y="1296.5" width="262.3" height="252.0"/></clipPath><g clip-path="url(#cc5)"><rect x="1124.7" y="1296.5" width="262.3" height="252.0" fill="#f3f3f3"/><g transform="translate(1120 1292) scale(0.16284)"><path d="M1100,500C1108,425 1200,450 1300,450C1400,450 1633,308 1700,500C1767,692 1800,1417 1700,1600C1600,1783 1192,1667 1100,1600C1008,1533 1125,1317 1150,1200C1175,1083 1258,1017 1250,900C1242,783 1092,575 1100,500Z" fill="#e0e0e0" filter="url(#b40)"/><path d="M330,620C340,567 362,437 400,380C438,323 507,303 560,280C613,257 672,253 720,240C768,227 790,217 850,200C910,183 1033,135 1080,140C1127,145 1117,187 1130,230C1143,273 1140,352 1160,400C1180,448 1225,470 1250,520C1275,570 1303,645 1310,700C1317,755 1298,803 1290,850C1282,897 1270,938 1260,980C1250,1022 1248,1060 1230,1100C1212,1140 1175,1182 1150,1220C1125,1258 1113,1292 1080,1330C1047,1368 997,1418 950,1450C903,1482 855,1508 800,1520C745,1532 667,1540 620,1520C573,1500 540,1445 520,1400C500,1355 500,1300 500,1250C500,1200 523,1150 520,1100C517,1050 500,1000 480,950C460,900 423,842 400,800C377,758 352,730 340,700C328,670 320,673 330,620Z" fill="#898989" filter="url(#b8)"/><path d="M560,620C583,587 643,583 700,580C757,577 842,583 900,600C958,617 1020,638 1050,680C1080,722 1088,803 1080,850C1072,897 1047,938 1000,960C953,982 863,987 800,980C737,973 660,953 620,920C580,887 570,830 560,780C550,730 537,653 560,620Z" fill="#9c9c9c" filter="url(#b25)"/><ellipse cx="640" cy="850" rx="60" ry="110" fill="#ababab" filter="url(#b25)"/><ellipse cx="1010" cy="790" rx="60" ry="100" fill="#a8a8a8" filter="url(#b25)"/><g filter="url(#b4)" opacity="0.8"><path d="M815 908h0M644 583h0M653 371h0M1206 1091h0M708 1313h0M392 440h0M935 183h0M715 281h0M1165 783h0M1184 1120h0M505 979h0M563 426h0M887 706h0M724 342h0M559 783h0M897 1220h0M765 1275h0M1186 879h0M1145 1037h0M634 1099h0M738 296h0M1082 281h0M684 986h0M605 423h0M778 532h0M1083 263h0M879 852h0M679 962h0M648 990h0M821 375h0M901 749h0M831 426h0M933 679h0M650 1437h0M691 1238h0M559 794h0M1263 917h0M1010 965h0M567 426h0M847 416h0M419 469h0M927 1160h0M955 485h0M579 277h0M712 592h0M941 1334h0M523 640h0M851 1198h0M544 930h0M766 1142h0M765 1466h0M992 239h0M703 764h0M1219 722h0M544 1245h0M1091 486h0M1146 600h0M957 606h0M1131 1053h0M644 1406h0M936 1252h0M456 411h0M805 680h0M875 426h0M929 933h0M504 853h0M1169 1142h0M645 471h0M503 1013h0M791 826h0M1119 483h0M1037 1096h0M759 371h0M736 1282h0M839 565h0M1219 856h0M730 1379h0M721 1202h0M813 1270h0M575 320h0M569 672h0M1158 551h0M745 1131h0M1118 444h0M560 336h0M1133 497h0M788 1093h0M538 678h0M596 542h0M1021 945h0M1170 842h0M963 1112h0M942 701h0M1212 736h0M721 1389h0M808 1022h0M758 275h0M785 860h0M692 670h0M1023 251h0M661 489h0M597 407h0M1148 917h0M530 1359h0M920 631h0M854 576h0M1015 1330h0M1010 400h0M874 486h0M486 927h0M1269 771h0M382 522h0M1040 889h0M643 308h0M483 796h0M435 525h0M808 1248h0M1007 497h0M867 491h0M1131 1154h0M769 690h0M626 1153h0M1207 1010h0M599 1183h0M706 599h0M986 1281h0M1052 822h0M875 774h0M955 224h0M348 650h0M584 582h0M1020 655h0M1208 956h0M476 459h0M1230 670h0M1071 355h0M1086 183h0M1219 879h0M947 888h0M954 946h0M717 938h0M551 1187h0M529 1330h0M693 1499h0M954 574h0M880 327h0M672 567h0M831 1338h0M730 771h0M865 1104h0M569 1014h0M858 1442h0M924 302h0M468 820h0M890 1083h0M995 539h0M714 1413h0M496 706h0M1150 1191h0M915 1189h0M382 600h0M446 814h0M555 1160h0M480 369h0M725 340h0M1040 1175h0M1162 587h0M1098 447h0M635 1152h0M1165 725h0M742 1302h0M376 548h0M798 1392h0M1072 360h0M1179 1051h0M954 966h0M939 1294h0M583 1257h0M449 621h0M856 1488h0M530 1022h0M847 392h0M1048 377h0M963 1261h0M701 336h0M589 574h0M1011 981h0M878 1267h0M834 915h0M817 372h0M945 1266h0M539 545h0M746 578h0M920 614h0M594 1321h0M515 997h0M1135 616h0M854 518h0M1085 1106h0M1096 1128h0M759 1137h0M972 1022h0M1114 849h0M535 852h0M954 651h0M824 528h0M451 442h0M894 1040h0M652 1045h0M814 1133h0M1046 448h0M969 1377h0M574 1077h0M537 1144h0M690 843h0M741 669h0M1242 811h0M998 927h0M968 1277h0M860 917h0M918 757h0M683 363h0M349 639h0M689 380h0M837 770h0M1083 1055h0M430 535h0M990 904h0M1123 543h0M738 1019h0M584 769h0M1178 746h0M948 1019h0M680 856h0M545 1426h0M743 1406h0M1131 818h0M576 1051h0M1222 509h0M646 964h0M572 470h0M896 1254h0M720 399h0M859 1452h0M565 758h0M351 686h0M532 483h0M1105 1157h0M1196 958h0M928 412h0M343 581h0M1007 849h0M1142 535h0M633 1058h0M946 663h0M719 875h0M837 1389h0M483 904h0M645 413h0M615 1418h0M501 546h0M541 416h0M839 472h0M656 373h0M1165 462h0M648 643h0M1036 1085h0M701 891h0M692 460h0M1147 421h0M770 1280h0M721 1464h0M1162 613h0M573 932h0M789 1400h0M550 1062h0M476 837h0M533 683h0M742 899h0M1010 900h0M568 444h0M942 518h0M1121 1124h0M450 468h0M663 1247h0M890 1251h0M748 736h0M1110 849h0M526 486h0M987 519h0M1177 1080h0M1067 907h0M629 584h0M523 492h0M618 334h0M937 1381h0M780 946h0M695 357h0M937 1433h0M1148 906h0M649 571h0M414 442h0M1017 539h0M417 823h0M431 736h0M828 1296h0M766 396h0M1270 729h0M743 741h0M876 1102h0M795 219h0M790 272h0M1157 974h0M1168 764h0M404 523h0M792 1398h0M650 1112h0M1088 546h0M1093 742h0M601 338h0M932 1196h0M877 285h0M967 743h0M623 265h0M686 309h0M847 381h0M645 1289h0M1176 940h0M600 1290h0M823 490h0M1127 1093h0M445 711h0M743 1246h0M945 1311h0M794 368h0M636 828h0M501 710h0M1133 1139h0M693 281h0M527 771h0M1051 1101h0M1261 768h0M540 355h0M1091 554h0M1243 757h0M708 710h0M387 510h0M1063 984h0M1145 421h0M1069 164h0M734 973h0M933 764h0M860 316h0M996 1244h0M888 479h0M782 509h0M939 909h0M1127 897h0M852 887h0M881 1335h0M498 565h0M596 319h0M1027 1202h0M1168 1023h0M952 833h0M1208 750h0M1074 793h0M1171 594h0M760 260h0M573 1185h0M754 566h0M561 424h0M683 988h0M540 412h0M691 1106h0M766 1011h0M1127 412h0M528 782h0M473 540h0M953 495h0M759 1230h0M822 416h0M1025 816h0M705 1270h0M970 370h0M854 1213h0M711 650h0M1215 900h0M1033 957h0M509 1282h0M1074 760h0M968 775h0M861 515h0M567 935h0M776 452h0M817 979h0M811 955h0M827 679h0M770 453h0M666 1442h0M573 299h0M589 276h0M943 1373h0M723 1283h0M884 1335h0M1214 792h0M678 837h0M442 712h0M544 1320h0M1266 827h0M877 609h0M1074 1214h0M583 1023h0M520 908h0" stroke="#6a6a6a" stroke-width="12.3" stroke-linecap="round" fill="none"/><path d="M806 636h0M661 738h0M1044 549h0M1076 1007h0M1029 497h0M744 289h0M744 689h0M966 1008h0M1268 649h0M696 1400h0M582 482h0M482 653h0M817 244h0M850 234h0M462 852h0M925 213h0M791 539h0M1095 818h0M603 764h0M618 336h0M867 1253h0M1245 750h0M1233 694h0M507 1018h0M1258 919h0M430 569h0M1206 1045h0M1015 1371h0M1150 803h0M577 485h0M1023 670h0M903 490h0M578 1452h0M1234 943h0M772 1516h0M530 427h0M733 1000h0M544 497h0M715 739h0M706 752h0M574 654h0M708 709h0M1048 673h0M843 228h0M806 792h0M630 1470h0M619 1318h0M926 1291h0M696 399h0M1124 682h0M811 465h0M722 873h0M551 1229h0M640 1164h0M1115 282h0M1156 434h0M607 894h0M883 557h0M642 956h0M1115 963h0M830 877h0M1183 474h0M890 880h0M795 1267h0M398 515h0M818 692h0M557 873h0M541 1297h0M1225 681h0M717 350h0M546 749h0M1051 953h0M1086 1003h0M586 1362h0M1061 827h0M880 486h0M783 948h0M747 983h0M856 402h0M1100 923h0M432 857h0M503 933h0M731 534h0M877 570h0M657 425h0M1001 251h0M966 1087h0M603 825h0M520 1145h0M918 863h0M983 285h0M405 512h0M1109 703h0M592 559h0M1166 828h0M1109 587h0M773 1245h0M1225 783h0M865 1091h0M1031 406h0M598 959h0M544 1103h0M564 1429h0M994 1174h0M1163 1198h0M592 345h0M799 798h0M833 885h0M471 801h0M472 665h0M769 507h0M943 1226h0M881 757h0M570 1061h0M770 512h0M363 719h0M722 514h0M1274 769h0M672 1090h0M1031 779h0M1289 737h0M723 1302h0M541 714h0M385 774h0M777 754h0M1028 924h0M991 212h0M865 1218h0M1054 738h0M740 1331h0M470 726h0M560 1159h0M443 827h0M679 1456h0M786 283h0M859 735h0M1151 1202h0M957 505h0M399 743h0M582 1201h0M884 252h0M795 807h0M811 398h0M761 598h0M1233 713h0M941 672h0M836 446h0M784 933h0M1137 895h0M797 1125h0M772 800h0M805 256h0M764 568h0M994 678h0M829 1270h0M737 1254h0M658 336h0M390 496h0M622 310h0M1020 985h0M345 677h0M1041 725h0M686 540h0M875 1181h0M938 565h0M504 786h0M584 1197h0M522 989h0M639 959h0M1036 600h0M668 1192h0M838 372h0M755 469h0M1092 1025h0M603 704h0M621 484h0M605 591h0M641 447h0M360 728h0M771 463h0M1030 505h0M928 504h0M1230 908h0M555 1029h0M456 659h0M985 1041h0M772 1341h0M404 510h0M810 1260h0M898 469h0M540 897h0M1160 1147h0M1037 644h0M889 257h0M696 555h0M436 532h0M765 1006h0M732 785h0M1040 1358h0M785 1153h0M934 322h0M1079 668h0M1085 387h0M953 1359h0M1072 738h0M1016 723h0M1091 1033h0M726 1042h0M1042 887h0M787 249h0M1232 772h0M1023 353h0M1136 709h0M675 1065h0M1050 742h0M723 363h0M566 414h0M622 1293h0M874 242h0M816 1500h0M510 659h0M1097 303h0M610 899h0M650 743h0M646 1180h0M438 695h0M631 556h0M957 338h0M529 654h0M963 227h0M713 1028h0M667 836h0M1271 879h0M976 942h0M630 296h0M1011 1037h0M1090 842h0M729 1123h0M979 391h0M736 869h0M601 1020h0M1140 1157h0M571 865h0M1083 1273h0M935 187h0M516 758h0M899 897h0M595 831h0M1183 981h0M1078 194h0M594 280h0M583 794h0M860 1266h0M1085 1039h0M950 1418h0M527 760h0M886 1094h0M555 600h0M1075 451h0M1154 442h0M1019 1331h0M1182 980h0M505 1228h0M596 602h0M856 555h0M883 1112h0M529 1124h0M567 730h0M1007 216h0M973 1177h0M839 506h0M613 966h0M1007 1222h0M1155 663h0M1140 500h0M1187 1067h0M1231 638h0M817 768h0M994 947h0M1172 677h0M650 373h0M727 1492h0M400 757h0M540 965h0M949 775h0M1017 555h0" stroke="#6a6a6a" stroke-width="6.1" stroke-linecap="round" fill="none"/></g><circle cx="870" cy="860" r="55" fill="#151515" filter="url(#b15)"/><circle cx="850" cy="1300" r="40" fill="#c2c2c2" filter="url(#b15)"/><circle cx="1580" cy="1240" r="25" fill="#222" filter="url(#b8)"/></g></g>
<clipPath id="cc6"><rect x="1124.7" y="1553.1" width="262.3" height="252.0"/></clipPath><g clip-path="url(#cc6)"><rect x="1124.7" y="1553.1" width="262.3" height="252.0" fill="#f3f3f3"/><g transform="translate(1120 1549) scale(0.16284)"><path d="M900,1300C967,1242 1167,1250 1300,1250C1433,1250 1633,1242 1700,1300C1767,1358 1833,1550 1700,1600C1567,1650 1033,1650 900,1600C767,1550 833,1358 900,1300Z" fill="#e0e0e0" filter="url(#b25)"/><path d="M30,850C33,810 55,780 100,760C145,740 247,773 300,730C353,687 377,555 420,500C463,445 513,433 560,400C607,367 643,328 700,300C757,272 842,255 900,230C958,205 1000,158 1050,150C1100,142 1158,155 1200,180C1242,205 1262,260 1300,300C1338,340 1400,370 1430,420C1460,470 1458,567 1480,600C1502,633 1533,580 1560,620C1587,660 1633,785 1640,840C1647,895 1600,902 1600,950C1600,998 1657,1088 1640,1130C1623,1172 1532,1168 1500,1200C1468,1232 1483,1298 1450,1320C1417,1342 1358,1322 1300,1330C1242,1338 1167,1363 1100,1370C1033,1377 953,1368 900,1370C847,1372 830,1370 780,1380C730,1390 647,1435 600,1430C553,1425 542,1367 500,1350C458,1333 400,1363 350,1330C300,1297 245,1205 200,1150C155,1095 108,1050 80,1000C52,950 27,890 30,850Z" fill="#8e8e8e" filter="url(#b15)"/><ellipse cx="800" cy="950" rx="420" ry="320" fill="#6e6e6e" filter="url(#b70)"/><g filter="url(#b4)" opacity="0.7"><path d="M551 944h0M1255 597h0M1074 393h0M1608 1000h0M1216 805h0M432 528h0M957 760h0M843 543h0M835 748h0M532 835h0M1112 522h0M584 761h0M528 1240h0M786 1103h0M956 1306h0M753 788h0M335 730h0M948 1192h0M486 561h0M1202 779h0M1228 660h0M437 978h0M482 923h0M1420 840h0M709 1113h0M340 950h0M998 886h0M952 244h0M719 846h0M1312 1098h0M519 1175h0M1288 1023h0M273 921h0M1344 436h0M1093 489h0M1283 1077h0M1348 634h0M1297 818h0M1132 736h0M277 894h0M1193 1078h0M752 572h0M767 1282h0M946 537h0M1582 915h0M1208 338h0M1259 708h0M1360 704h0M397 567h0M1399 653h0M1191 734h0M826 389h0M1136 751h0M1474 1159h0M652 730h0M1203 1237h0M905 603h0M973 1302h0M400 1326h0M930 430h0M387 735h0M328 1168h0M307 890h0M1571 1125h0M919 502h0M1148 1141h0M939 1074h0M1268 1115h0M58 867h0M587 519h0M913 860h0M210 1105h0M1120 1148h0M1177 783h0M958 531h0M1014 830h0M1139 965h0M1423 1276h0M1034 219h0M389 790h0M268 929h0M1248 1267h0M1311 697h0M259 1113h0M957 963h0M1459 810h0M1320 915h0M1358 971h0M764 1027h0M1174 757h0M1104 1206h0M1178 554h0M805 869h0M895 800h0M1252 1246h0M234 1062h0M423 1289h0M1193 1001h0M1377 797h0M546 1278h0M1269 494h0M813 973h0M1065 953h0M797 510h0M838 1021h0M858 1171h0M734 744h0M1185 981h0M640 954h0M811 503h0M817 1039h0M582 1119h0M331 1293h0M1402 909h0M644 830h0M1016 831h0M936 1250h0M468 596h0M1055 170h0M1108 804h0M1035 597h0M1419 748h0M1382 577h0M1165 1070h0M1431 589h0M415 640h0M1582 913h0M764 1155h0M289 885h0M394 877h0M1386 1134h0M1162 536h0M1128 250h0M268 754h0M569 486h0M972 779h0M884 714h0M951 1149h0M1242 655h0M799 358h0M799 909h0M1345 1161h0M341 1077h0M1074 1240h0M824 542h0M458 1008h0M1354 1074h0M1071 1010h0M257 1101h0M1228 391h0M939 213h0M505 901h0M1211 265h0M931 456h0M540 505h0M771 959h0M1139 1297h0M1458 984h0M254 992h0M599 1345h0M1366 927h0M793 1202h0M951 577h0M395 713h0M290 1129h0M1119 496h0M574 1355h0M1104 431h0M1356 651h0M225 1012h0M1066 365h0M1099 403h0M232 1146h0M109 899h0M1549 1129h0M1433 1103h0M843 593h0M1290 447h0M230 842h0M873 1068h0M1624 825h0M1278 484h0M1283 1304h0M1252 891h0M410 1325h0M693 1386h0M1206 1236h0M928 486h0M820 480h0M244 964h0M684 857h0M528 754h0M324 835h0M752 908h0M252 756h0M1418 1106h0M495 1327h0M605 1100h0M876 451h0M977 357h0M1150 937h0M1235 538h0M1522 766h0M1201 554h0M1222 222h0M1398 1301h0M1605 758h0M1445 864h0M988 1154h0M111 1017h0M1587 704h0M894 980h0M1350 525h0M1111 542h0M850 1341h0M1333 474h0M485 1156h0M1204 315h0M734 1380h0M1457 619h0M524 835h0M638 677h0M398 1090h0M1184 579h0M820 1351h0M1302 592h0M926 463h0M164 958h0M1478 989h0M1237 626h0M573 838h0M1014 1145h0M1099 902h0M498 702h0M1267 1232h0M547 1080h0M554 996h0M819 1105h0M325 735h0M785 1058h0M747 364h0M892 649h0M1286 931h0M1294 828h0M335 813h0M689 1243h0M1465 941h0M1070 770h0M792 777h0M1033 444h0M152 997h0M181 886h0M1273 898h0M1113 282h0M1308 859h0M905 1166h0M633 970h0M1055 266h0M375 1185h0M990 209h0M750 523h0M743 611h0M1568 722h0M1106 310h0M228 1162h0M1372 447h0M1112 573h0M1175 1073h0M1087 1358h0M969 197h0M1316 603h0M1068 781h0M1528 1125h0M749 420h0M1395 828h0M951 1182h0M744 1352h0M1259 348h0M1207 1168h0M765 1177h0M348 930h0M1250 645h0M1430 1280h0M1009 620h0M183 797h0M1464 898h0M972 407h0M595 854h0M1033 1306h0M163 801h0M1401 747h0M817 1154h0M364 1061h0M570 1150h0M813 452h0M470 1142h0M1032 542h0M393 829h0M955 1063h0M1513 971h0M340 684h0M904 363h0M541 475h0M1028 1276h0M1043 341h0M1093 750h0M1226 1295h0M862 1234h0M1145 367h0M1120 774h0M1603 1100h0M1533 1060h0M1134 984h0M1156 586h0M1137 908h0M725 493h0M577 849h0M565 954h0M750 572h0M853 407h0M461 606h0M988 378h0M147 972h0M1425 604h0M809 1053h0M1195 460h0M201 912h0M984 1343h0M60 869h0M1101 785h0M280 1148h0M359 769h0M1566 665h0M1506 1138h0M1409 502h0M1089 1203h0M1505 672h0M1572 929h0M1117 348h0M396 1190h0M174 996h0M1023 1081h0M539 1169h0M594 1265h0M345 761h0M221 841h0M1200 984h0M984 618h0M941 586h0M1114 1261h0M458 567h0M845 604h0M1060 426h0M1235 442h0M752 1131h0M1505 1109h0M383 1091h0M1265 714h0M737 329h0M204 919h0M1216 668h0M422 904h0M1038 685h0M742 709h0M792 472h0M1581 738h0M1404 1240h0M771 491h0M159 850h0M1247 625h0M920 865h0M746 1325h0M923 874h0M660 1151h0M814 487h0" stroke="#5a5a5a" stroke-width="6.1" stroke-linecap="round" fill="none"/><path d="M1144 618h0M1460 709h0M825 874h0M183 1111h0M1033 1050h0M789 1047h0M998 421h0M478 748h0M812 1260h0M761 976h0M430 915h0M1495 1018h0M195 835h0M525 1097h0M463 561h0M291 1102h0M758 337h0M261 767h0M238 1125h0M1081 1093h0M930 568h0M1385 920h0M1049 725h0M1272 1094h0M1140 526h0M1467 820h0M914 1354h0M1571 882h0M514 852h0M1257 1222h0M1497 992h0M594 1137h0M936 645h0M1286 647h0M473 1315h0M566 1146h0M1427 1190h0M315 852h0M715 612h0M315 1187h0M1110 620h0M1061 370h0M440 502h0M78 966h0M948 1342h0M1068 808h0M709 447h0M1200 410h0M327 694h0M137 978h0M604 1102h0M851 1159h0M384 635h0M1157 916h0M1065 175h0M683 1306h0M1250 1052h0M466 1276h0M1375 448h0M1068 403h0M1208 1162h0M1429 937h0M785 580h0M602 1300h0M862 783h0M656 830h0M215 978h0M427 653h0M1303 1238h0M939 391h0M930 1099h0M689 596h0M742 1084h0M633 860h0M982 214h0M732 290h0M1456 847h0M629 1117h0M1253 857h0M883 708h0M1069 803h0M481 785h0M1302 568h0M934 361h0M1103 396h0M1351 692h0M996 817h0M1278 986h0M614 1153h0M1412 1189h0M884 812h0M1349 572h0M1304 1216h0M314 989h0M1090 1051h0M1116 966h0M861 520h0M401 893h0M1456 1254h0M407 764h0M1009 990h0M1337 566h0M1159 603h0M1138 1131h0M588 741h0M646 584h0M771 1019h0M1226 710h0M692 1367h0M353 884h0M1068 992h0M748 1382h0M391 1295h0M1209 797h0M1321 957h0M934 842h0M337 1085h0M995 1047h0M1065 1302h0M1074 886h0M731 502h0M786 926h0M1422 1018h0M1111 409h0M917 1208h0M1400 568h0M1009 384h0M227 1138h0M726 956h0M963 226h0M883 323h0M1072 492h0M1131 1294h0M1113 182h0M701 1065h0M1184 1273h0M1238 530h0M1178 258h0M820 843h0M915 1263h0M1247 877h0M644 983h0M1159 248h0M523 771h0M922 396h0M471 630h0M380 878h0M547 789h0M1346 587h0M928 732h0M1113 557h0M841 608h0M1226 347h0M1525 737h0M1062 819h0M828 1197h0M372 1263h0M817 313h0M1377 490h0M928 751h0M1326 357h0M1202 1041h0M321 769h0M571 1164h0M718 449h0M844 481h0M92 863h0M1048 1171h0M1303 1082h0M1288 411h0M1559 763h0M1088 350h0M568 1033h0M350 762h0M877 579h0M1169 409h0M936 506h0M645 1299h0M1582 1031h0M1606 1031h0M1266 493h0M960 1318h0M1588 1002h0M1112 670h0M308 944h0M912 746h0M288 1144h0M888 585h0M934 706h0M1016 1059h0M1315 1326h0M514 640h0M1536 1007h0M913 772h0M120 870h0M519 727h0M1270 595h0M1152 756h0M1422 955h0M933 330h0M912 1090h0M1130 435h0M1487 742h0M1458 1206h0M1341 1265h0M588 845h0M1099 330h0M1332 394h0M1464 1035h0M1299 553h0M700 1169h0M894 480h0M164 988h0M444 1213h0M1098 1109h0M966 560h0M995 461h0M1404 508h0M566 1283h0M1244 549h0M725 314h0M694 1262h0M590 1417h0M203 1011h0M435 910h0M1212 1302h0M705 1245h0M1228 747h0M1173 357h0M586 678h0M1210 224h0M1379 528h0M1376 402h0M888 249h0M468 602h0M933 541h0M441 556h0M1188 991h0M311 991h0M227 994h0M968 1031h0M866 862h0M656 1142h0M954 532h0M886 906h0M509 1228h0M1042 171h0M740 1019h0M1308 875h0M596 470h0M1302 990h0M380 623h0M957 1258h0M748 1269h0M957 722h0M1037 1023h0M1000 478h0M1502 1153h0M351 1327h0M1189 758h0M1556 1131h0M842 1307h0M295 859h0M222 1087h0M537 813h0M854 1249h0M1187 551h0M655 1131h0M1637 1126h0M506 1068h0M1067 485h0M531 754h0M1117 995h0M696 572h0M402 1209h0M532 1274h0M1347 1096h0M249 1030h0M172 983h0M1343 1197h0M1335 1231h0M764 1233h0M858 1312h0M410 543h0M1020 1005h0M1428 944h0M1554 786h0M583 1124h0M94 904h0M800 804h0M292 747h0M1198 479h0M862 899h0M642 1412h0M600 447h0M1316 777h0M1436 1005h0M1192 485h0M766 1001h0M493 858h0M536 1255h0M1130 416h0M521 1235h0M537 943h0M1392 726h0M277 1076h0M699 639h0M1152 1274h0M1153 251h0M337 989h0M657 422h0M1307 579h0M1242 1069h0M905 956h0M1059 772h0M569 951h0M1365 1067h0M574 1078h0M1341 1118h0M1134 1277h0M432 1285h0M1066 781h0M1050 531h0M899 1117h0M1026 1050h0M527 845h0M845 600h0M280 1015h0M474 1166h0M374 613h0M1377 928h0M1197 916h0M324 892h0M1610 858h0M423 967h0M1291 1018h0M622 1186h0M1563 849h0M1123 878h0M1409 1040h0M579 776h0M636 1346h0M846 784h0M867 742h0M1373 1191h0M1027 359h0M1506 640h0M1468 802h0M1536 656h0M647 520h0M1223 1283h0M374 686h0M1418 684h0M1467 644h0M853 440h0M209 865h0M789 681h0M968 647h0M959 993h0M899 801h0M885 623h0M533 1371h0M1168 204h0M848 1251h0M1442 911h0M336 848h0M1126 569h0M1319 768h0M285 748h0M333 834h0M1108 1367h0M564 397h0M1444 855h0M774 591h0M558 1147h0M414 761h0M181 872h0M568 1268h0M823 884h0M1293 617h0M707 1370h0M350 1252h0M169 927h0M1476 793h0M1331 746h0M1254 1241h0M943 845h0M1326 467h0M908 451h0M474 1291h0M1115 884h0M817 432h0M1081 1157h0M342 735h0M1054 568h0M915 652h0M692 1170h0M1305 903h0M832 654h0M509 1352h0M340 757h0M688 1157h0M1525 1125h0M1073 606h0M886 825h0M1275 805h0M1479 644h0M680 544h0M1037 260h0M1010 1303h0M1247 699h0M1129 631h0M644 1281h0M773 983h0M798 426h0M540 657h0M1546 925h0M450 613h0M1077 425h0M978 198h0M668 719h0M448 876h0M96 809h0M1216 1232h0M200 1041h0M1208 910h0M861 1151h0M1177 560h0M1019 935h0M982 427h0M767 323h0M387 671h0M1437 1131h0M775 585h0M1244 316h0M302 1002h0M823 700h0M654 373h0M1407 992h0M856 1059h0M1317 820h0M864 393h0M1216 852h0M841 711h0M1035 992h0M165 1072h0M663 1174h0M1427 977h0M757 1080h0M423 1177h0M203 999h0M973 221h0M405 726h0M978 1362h0M549 654h0M1261 693h0M1381 465h0M1183 748h0M882 732h0M896 396h0M771 1299h0M383 1224h0M663 787h0M724 1138h0M1007 1310h0M1344 436h0M697 1072h0M1272 506h0M707 1228h0M1201 967h0M301 1122h0M1604 1126h0M923 237h0M1120 1264h0M386 701h0M286 853h0M1018 601h0M466 1276h0M1551 1103h0M461 660h0M863 1113h0M1235 338h0M647 1068h0M468 1224h0M1372 986h0M1290 1143h0M478 873h0M1101 481h0M1102 412h0M704 1255h0M411 687h0M1003 431h0M1210 613h0M1419 1059h0M1268 815h0M1414 1048h0M919 282h0M1037 1147h0M519 869h0M1449 1037h0M753 890h0M900 1309h0M360 652h0M1339 1046h0M222 1043h0M491 852h0M918 480h0M1401 1152h0M577 794h0M563 1287h0M848 1327h0M1360 921h0M1318 1174h0M523 536h0M601 1049h0M187 920h0M1192 587h0M788 1229h0M1511 639h0M973 907h0M1330 906h0M1400 1038h0M1031 291h0M668 1135h0M1355 1136h0" stroke="#5a5a5a" stroke-width="12.3" stroke-linecap="round" fill="none"/></g><ellipse cx="880" cy="740" rx="260" ry="190" fill="#b3b3b3" transform="rotate(-5 880 740)" filter="url(#b8)"/><g filter="url(#b4)"><circle cx="905" cy="745" r="12" fill="#000"/><circle cx="975" cy="805" r="8" fill="#000"/><circle cx="990" cy="945" r="8" fill="#000"/><circle cx="985" cy="1020" r="8" fill="#000"/><circle cx="880" cy="1070" r="10" fill="#000"/><circle cx="1040" cy="1105" r="10" fill="#000"/><circle cx="770" cy="1030" r="8" fill="#000"/></g></g></g>
<clipPath id="cc7"><rect x="1124.7" y="1809.7" width="262.3" height="252.0"/></clipPath><g clip-path="url(#cc7)"><rect x="1124.7" y="1809.7" width="262.3" height="252.0" fill="#f3f3f3"/><g transform="translate(1120 1805) scale(0.16284)"><path d="M150,380C158,338 208,280 250,250C292,220 350,212 400,200C450,188 517,147 550,180C583,213 605,313 600,400C595,487 540,617 520,700C500,783 517,867 480,900C443,933 338,933 300,900C262,867 267,767 250,700C233,633 217,553 200,500C183,447 142,422 150,380Z" fill="#d2d2d2" filter="url(#b25)"/><path d="M330,1150C352,1122 438,1097 500,1080C562,1063 633,1038 700,1050C767,1062 833,1108 900,1150C967,1192 1042,1250 1100,1300C1158,1350 1193,1400 1250,1450C1307,1500 1432,1575 1440,1600C1448,1625 1357,1625 1300,1600C1243,1575 1167,1483 1100,1450C1033,1417 967,1413 900,1400C833,1387 767,1380 700,1370C633,1360 555,1360 500,1340C445,1320 398,1282 370,1250C342,1218 308,1178 330,1150Z" fill="#c4c4c4" filter="url(#b25)"/><path d="M630,40C660,22 763,13 800,40C837,67 817,157 850,200C883,243 950,263 1000,300C1050,337 1108,378 1150,420C1192,462 1208,512 1250,550C1292,588 1367,608 1400,650C1433,692 1450,750 1450,800C1450,850 1425,908 1400,950C1375,992 1325,1017 1300,1050C1275,1083 1267,1108 1250,1150C1233,1192 1225,1270 1200,1300C1175,1330 1150,1330 1100,1330C1050,1330 958,1322 900,1300C842,1278 783,1242 750,1200C717,1158 712,1092 700,1050C688,1008 705,983 680,950C655,917 588,892 550,850C512,808 472,750 450,700C428,650 420,600 420,550C420,500 428,450 450,400C472,350 522,292 550,250C578,208 607,185 620,150C633,115 600,58 630,40Z" fill="#8e8e8e" filter="url(#b15)"/><g filter="url(#b4)" opacity="0.7"><path d="M941 625h0M884 1024h0M1017 1280h0M881 759h0M780 1162h0M813 350h0M1185 1035h0M1012 1064h0M951 541h0M836 367h0M979 802h0M815 1132h0M1393 851h0M1241 1013h0M730 1127h0M1196 639h0M982 463h0M1173 884h0M554 545h0M1088 560h0M1229 588h0M1085 403h0M973 1109h0M857 1182h0M761 591h0M694 994h0M1207 938h0M473 542h0M956 1205h0M805 1144h0M1430 804h0M706 871h0M1055 1260h0M1096 953h0M522 631h0M1195 627h0M704 966h0M699 817h0M1010 532h0M815 789h0M980 1233h0M730 99h0M1235 693h0M1273 638h0M994 842h0M786 1166h0M734 560h0M783 962h0M689 464h0M1143 905h0M1063 874h0M1116 1093h0M1270 726h0M762 437h0M803 838h0M839 646h0M1061 673h0M957 800h0M983 1194h0M499 700h0M1078 1277h0M866 408h0M893 279h0M833 1060h0M1237 815h0M1340 758h0M808 1012h0M862 272h0M513 373h0M834 530h0M686 449h0M935 1003h0M1223 1028h0M1143 873h0M787 1038h0M763 976h0M729 337h0M859 862h0M772 174h0M986 1167h0M831 403h0M555 614h0M907 687h0M898 675h0M692 903h0M648 155h0M482 519h0M778 1190h0M1040 944h0M683 859h0M760 989h0M745 362h0M1163 542h0M872 230h0M893 246h0M1287 960h0M914 776h0M924 1165h0M483 404h0M514 775h0M1178 569h0M935 718h0M1073 798h0M578 447h0M1188 761h0M534 740h0M614 581h0M838 288h0M816 1038h0M525 704h0M1177 700h0M685 600h0M917 1170h0M826 357h0M1088 424h0M635 440h0M1066 1201h0M778 659h0M612 270h0M1069 1120h0M769 143h0M795 647h0M1087 1117h0M785 583h0M446 586h0M649 572h0M943 1241h0M983 1030h0M652 104h0M571 421h0M829 466h0M979 541h0M524 668h0M949 502h0M987 1142h0M1325 950h0M555 548h0M982 739h0M712 921h0M1079 960h0M685 252h0M844 1104h0M677 186h0M960 717h0M814 1004h0M835 285h0M451 567h0M1071 681h0M991 1197h0M853 904h0M1085 1143h0M980 886h0M1212 784h0M1395 905h0M958 1136h0M1098 995h0M648 333h0M879 268h0M480 719h0M681 698h0M679 397h0M1054 966h0M858 1071h0M938 395h0M1247 897h0M818 569h0M758 642h0M1352 834h0M836 877h0M757 41h0M973 1271h0M1022 766h0M986 591h0M1162 980h0M566 494h0M1206 1263h0M1158 761h0M811 1230h0M1134 1311h0M1328 873h0M970 1198h0M1105 954h0M1224 1080h0M761 830h0M1278 770h0M1406 799h0M1311 727h0M1185 684h0M563 515h0M600 523h0M812 119h0M678 172h0M576 297h0M793 64h0M1003 1282h0M1068 656h0M1229 1062h0M961 786h0M1280 689h0M725 427h0M1203 1186h0M1069 544h0M559 276h0M706 287h0M1304 922h0M1136 1241h0M1271 1082h0M739 412h0M697 529h0M1295 586h0M1064 385h0M902 561h0M1066 545h0M1105 1191h0M1377 949h0M1295 586h0M593 485h0M901 907h0M970 404h0M642 508h0M1150 729h0M1160 1006h0M1036 663h0M1074 587h0M746 469h0M1090 582h0M664 466h0M682 545h0M758 777h0M910 1066h0M875 700h0M756 1050h0M890 1239h0M1145 689h0M1027 502h0M953 663h0M1109 803h0M916 1234h0M756 81h0M742 277h0M1178 784h0M1101 616h0M578 756h0M1014 794h0M646 127h0M777 702h0M623 679h0M1077 972h0M1228 1032h0M716 165h0M645 51h0M756 579h0M873 556h0M974 793h0M832 977h0M927 492h0M1183 1173h0M864 773h0M762 334h0M979 945h0M1255 708h0M624 170h0M611 187h0M790 317h0M1120 1156h0M770 582h0M930 1157h0M953 350h0M747 71h0M703 751h0M595 322h0M1066 835h0M734 924h0M775 313h0M728 737h0M817 264h0M1406 745h0M998 1179h0M984 862h0M1383 759h0M665 561h0M946 1052h0M1264 824h0M664 875h0M473 592h0M889 1108h0M961 1219h0M768 63h0M668 163h0M1276 809h0M692 848h0M1173 1015h0M844 251h0M756 670h0M923 890h0M851 518h0M780 495h0M1022 482h0M823 180h0M761 765h0M757 1150h0M854 717h0M537 307h0M865 1030h0M872 236h0M1182 597h0M726 806h0M928 1279h0M991 993h0M981 1274h0M807 706h0M636 164h0M1009 770h0M1123 1251h0M1145 1214h0M1099 901h0M816 410h0M1002 655h0M1049 900h0M737 1151h0M677 864h0M1182 1046h0M697 76h0M772 843h0M874 784h0M608 604h0M1354 624h0M611 861h0M1092 1162h0M517 355h0M974 390h0M721 449h0M679 597h0M1251 662h0M1230 984h0M733 1034h0M794 685h0M790 93h0M697 502h0M903 296h0M807 819h0M597 449h0M1107 943h0M617 159h0M773 1129h0M1186 1169h0M754 386h0M746 263h0M1183 735h0M1139 722h0M714 541h0M1206 739h0M518 576h0M663 278h0M946 1266h0M1252 948h0M841 1163h0M1137 1105h0M714 805h0M914 659h0M604 767h0M674 83h0M818 558h0M1207 986h0M1190 695h0M767 1038h0M661 591h0M1089 838h0M1033 349h0M1028 1129h0M1103 757h0M814 1126h0M1207 675h0M624 349h0M1246 745h0M887 1021h0M910 432h0M745 800h0M665 701h0M1045 623h0M581 434h0M1059 1188h0M887 488h0M583 438h0M912 1168h0M795 514h0M735 416h0M923 760h0M812 1000h0M1193 497h0M1003 1171h0M1235 551h0M663 189h0M884 1211h0M816 1064h0M932 1302h0M618 404h0M979 675h0M703 308h0M1115 1014h0M1232 808h0M1085 774h0M1320 806h0M1214 837h0M1125 1129h0M1119 728h0M876 610h0M615 380h0M1013 419h0M1079 679h0M551 433h0M814 860h0M1183 1257h0M1249 885h0M1043 573h0M627 405h0M1355 900h0M823 1037h0M897 676h0M503 730h0M880 926h0M1348 874h0M1111 833h0M927 647h0M959 1032h0M1442 817h0M734 874h0M1228 772h0M457 437h0M453 424h0M867 1176h0M697 537h0M776 1056h0M804 616h0M890 1019h0M901 1139h0M1059 1031h0M1370 861h0M1162 1262h0M769 752h0M1039 432h0M888 331h0M1269 875h0M1075 547h0M1190 485h0M886 1267h0M1299 876h0M1212 1024h0M928 809h0M995 563h0M617 752h0M925 592h0M970 1054h0M908 746h0M625 615h0M1064 730h0M1304 947h0M1128 546h0M1374 973h0M763 544h0M911 958h0M994 1090h0M1010 1231h0M1142 808h0M681 552h0M475 417h0M754 1168h0M1216 832h0M540 803h0M858 525h0" stroke="#6a6a6a" stroke-width="12.3" stroke-linecap="round" fill="none"/><path d="M816 1117h0M789 433h0M498 703h0M815 1199h0M1173 1123h0M484 591h0M860 293h0M1132 496h0M683 919h0M791 1059h0M1168 1010h0M1139 647h0M614 255h0M861 611h0M941 692h0M1080 500h0M791 556h0M711 437h0M926 480h0M1093 862h0M798 248h0M701 350h0M774 1164h0M828 617h0M1440 816h0M1278 569h0M982 1122h0M485 469h0M989 804h0M1051 986h0M583 234h0M918 685h0M830 1033h0M1227 1199h0M948 434h0M686 476h0M1011 355h0M1211 709h0M621 553h0M705 351h0M761 207h0M836 1007h0M1122 575h0M561 592h0M1320 778h0M827 883h0M1089 876h0M1108 492h0M1184 932h0M1068 571h0M731 219h0M1036 1312h0M831 763h0M1248 680h0M721 1051h0M1100 405h0M917 850h0M1263 753h0M751 1197h0M776 162h0M645 322h0M822 328h0M1027 877h0M800 352h0M985 657h0M821 1052h0M771 319h0M1324 931h0M619 345h0M821 798h0M773 254h0M1018 846h0M534 446h0M695 740h0M1081 880h0M1305 664h0M958 845h0M1052 1238h0M718 1016h0M768 487h0M933 948h0M1220 1000h0M918 638h0M806 677h0M1086 722h0M819 436h0M1196 770h0M1021 1250h0M1402 840h0M1350 864h0M924 637h0M1111 1226h0M1112 1199h0M1093 792h0M500 706h0M645 799h0M526 730h0M491 638h0M1001 339h0M1138 662h0M916 446h0M1391 805h0M934 445h0M1289 626h0M964 1140h0M926 650h0M1245 1001h0M992 895h0M1008 556h0M1085 882h0M992 926h0M1128 1318h0M895 483h0M1269 721h0M783 547h0M1382 884h0M1029 859h0M1136 1006h0M656 454h0M939 849h0M1072 709h0M1350 952h0M726 754h0M855 1062h0M1070 832h0M605 194h0M784 995h0M778 52h0M945 569h0M937 950h0M868 383h0M751 1077h0M655 168h0M574 490h0M1367 912h0M789 893h0M572 312h0M1099 475h0M1077 722h0M1089 427h0M1004 1073h0M1156 584h0M567 523h0M777 345h0M1187 991h0M1077 1303h0M1121 649h0M806 843h0M617 824h0M645 368h0M1103 505h0M780 1042h0M1022 501h0M848 1168h0M820 843h0M1033 1302h0M833 769h0M443 529h0M1243 581h0M688 374h0M1168 782h0M1146 624h0M1031 649h0M1206 609h0M818 277h0M798 312h0M618 730h0M1206 669h0M1304 785h0M909 440h0M949 1174h0M639 716h0M1322 707h0M672 191h0M1075 672h0M1235 839h0M454 461h0M533 285h0M1193 845h0M1140 722h0M1092 557h0M1270 610h0M886 421h0M842 616h0M1020 1270h0M1148 786h0M1083 731h0M541 835h0M1208 1008h0M869 363h0M611 367h0M641 290h0M1337 641h0M649 379h0M1128 1169h0M1080 1102h0M1212 612h0M752 286h0M752 354h0M656 684h0M814 462h0M1242 1032h0M629 754h0M991 456h0M550 334h0M884 1110h0M1168 953h0M791 1028h0M837 1064h0M1045 561h0M624 507h0M1080 877h0M828 639h0M922 962h0M1092 421h0M1053 486h0M1318 829h0M823 777h0M828 184h0M1162 1292h0M700 398h0M1130 1178h0M1028 505h0M853 744h0M445 551h0M785 96h0M655 335h0M785 1097h0M809 286h0M1182 495h0M734 72h0M1098 896h0M1395 806h0M1037 805h0M1268 838h0M1100 1061h0M1130 862h0M485 634h0M1133 1314h0M1426 826h0M819 329h0M908 723h0M652 416h0M732 718h0M697 474h0M1301 887h0M825 729h0M744 961h0M962 1058h0M1055 864h0M817 867h0M886 794h0M1196 757h0M976 376h0M1376 871h0M1097 414h0M992 1100h0M1257 954h0M1244 869h0M1345 916h0M770 481h0M589 222h0M1279 639h0M808 254h0M540 720h0M1109 540h0M1040 678h0M914 863h0M502 646h0M577 349h0M825 1193h0M524 541h0M838 1040h0M531 370h0M983 787h0M466 415h0M881 233h0M820 557h0M993 1284h0M870 400h0M701 576h0M943 974h0M1052 856h0M971 484h0M1333 838h0M1164 1265h0M1156 959h0M786 319h0M1345 728h0M1212 761h0M862 619h0M560 781h0M701 171h0M1074 1199h0M1266 673h0M769 890h0M1409 683h0M530 619h0M1259 778h0M816 373h0M994 498h0M660 434h0M1302 957h0M586 592h0M628 118h0M1162 792h0M738 688h0M1152 1212h0M1410 767h0M1120 998h0M541 490h0M729 1015h0M823 506h0M526 731h0M557 360h0M1411 900h0M1410 755h0M761 773h0M623 538h0M738 136h0M661 109h0M719 752h0M840 518h0M851 326h0M912 363h0M889 403h0M1045 843h0M739 1027h0M1088 895h0M825 1048h0" stroke="#6a6a6a" stroke-width="6.1" stroke-linecap="round" fill="none"/></g><g filter="url(#b15)"><circle cx="770" cy="570" r="68" fill="#b9b9b9"/><circle cx="940" cy="580" r="80" fill="#b9b9b9"/><circle cx="700" cy="690" r="70" fill="#b9b9b9"/><circle cx="720" cy="850" r="100" fill="#b9b9b9"/><circle cx="1070" cy="910" r="28" fill="#b9b9b9"/></g></g></g>
<text x="1117.6" y="140.0" font-size="25.5" text-anchor="middle" fill="#111" transform="rotate(-90 1117.6 140.0)" textLength="109.0" lengthAdjust="spacingAndGlyphs">FUS-GFP</text>
<text x="1092.3" y="395.2" font-size="25.5" text-anchor="middle" fill="#111" transform="rotate(-90 1092.3 395.2)" textLength="59.5" lengthAdjust="spacingAndGlyphs">GFP-</text>
<text x="1117.3" y="383.5" font-size="25.5" text-anchor="middle" fill="#111" transform="rotate(-90 1117.3 383.5)" textLength="142.0" lengthAdjust="spacingAndGlyphs">SYD-2/Liprin-α</text>
<text x="1092.3" y="652.0" font-size="25.5" text-anchor="middle" fill="#111" transform="rotate(-90 1092.3 652.0)" textLength="104.9" lengthAdjust="spacingAndGlyphs">mCherry-</text>
<text x="1117.3" y="653.0" font-size="25.5" text-anchor="middle" fill="#111" transform="rotate(-90 1117.3 653.0)" textLength="82.0" lengthAdjust="spacingAndGlyphs">ELKS-1</text>
<text x="1092.3" y="912.0" font-size="25.5" text-anchor="middle" fill="#111" transform="rotate(-90 1092.3 912.0)" textLength="110.7" lengthAdjust="spacingAndGlyphs">mCherry-</text>
<text x="1117.3" y="908.9" font-size="25.5" text-anchor="middle" fill="#111" transform="rotate(-90 1117.3 908.9)" textLength="141.4" lengthAdjust="spacingAndGlyphs">UNC-10/RIM</text>
<text x="1092.3" y="1165.1" font-size="25.5" text-anchor="middle" fill="#111" transform="rotate(-90 1092.3 1165.1)" textLength="103.4" lengthAdjust="spacingAndGlyphs">mCherry-</text>
<text x="1117.3" y="1167.7" font-size="25.5" text-anchor="middle" fill="#111" transform="rotate(-90 1117.3 1167.7)" textLength="70.5" lengthAdjust="spacingAndGlyphs">SYD-1</text>
<text x="1092.3" y="1425.8" font-size="25.5" text-anchor="middle" fill="#111" transform="rotate(-90 1092.3 1425.8)" textLength="111.1" lengthAdjust="spacingAndGlyphs">mCherry-</text>
<text x="1117.3" y="1423.7" font-size="25.5" text-anchor="middle" fill="#111" transform="rotate(-90 1117.3 1423.7)" textLength="160.1" lengthAdjust="spacingAndGlyphs">CLA-1/Piccolo</text>
<text x="1092.3" y="1679.0" font-size="25.5" text-anchor="middle" fill="#111" transform="rotate(-90 1092.3 1679.0)" textLength="144.0" lengthAdjust="spacingAndGlyphs">mCerulean3-</text>
<text x="1117.3" y="1680.4" font-size="25.5" text-anchor="middle" fill="#111" transform="rotate(-90 1117.3 1680.4)" textLength="87.0" lengthAdjust="spacingAndGlyphs">UNC-13</text>
<text x="1092.3" y="1936.7" font-size="25.5" text-anchor="middle" fill="#111" transform="rotate(-90 1092.3 1936.7)" textLength="104.8" lengthAdjust="spacingAndGlyphs">mCherry-</text>
<text x="1117.3" y="1938.2" font-size="25.5" text-anchor="middle" fill="#111" transform="rotate(-90 1117.3 1938.2)" textLength="59.9" lengthAdjust="spacingAndGlyphs">GIT-1</text>
<line x1="1322.4" y1="2068.4" x2="1389.5" y2="2068.4" stroke="#111" stroke-width="3.2"/>
<defs>
<radialGradient id="gOr"><stop offset="0" stop-color="#ff7a10"/><stop offset="0.45" stop-color="#f04010"/><stop offset="0.75" stop-color="#9010c0"/><stop offset="1" stop-color="#9010c0" stop-opacity="0"/></radialGradient>
<radialGradient id="gRd"><stop offset="0" stop-color="#ff5a10"/><stop offset="0.45" stop-color="#e02030"/><stop offset="0.75" stop-color="#8010c0"/><stop offset="1" stop-color="#8010c0" stop-opacity="0"/></radialGradient>
<radialGradient id="gYe"><stop offset="0" stop-color="#fff060"/><stop offset="0.3" stop-color="#ffa010"/><stop offset="0.6" stop-color="#c01890"/><stop offset="1" stop-color="#6010b0" stop-opacity="0"/></radialGradient>
<radialGradient id="gPu"><stop offset="0" stop-color="#8a10f0"/><stop offset="0.6" stop-color="#6a08d0"/><stop offset="1" stop-color="#4008a0" stop-opacity="0"/></radialGradient>
<radialGradient id="gMg"><stop offset="0" stop-color="#d020a0"/><stop offset="0.5" stop-color="#8010c8"/><stop offset="1" stop-color="#5010b0" stop-opacity="0"/></radialGradient>
<radialGradient id="gDm"><stop offset="0" stop-color="#6020d0"/><stop offset="1" stop-color="#3010a0" stop-opacity="0"/></radialGradient>
<radialGradient id="gDb"><stop offset="0" stop-color="#301090"/><stop offset="1" stop-color="#200870" stop-opacity="0"/></radialGradient>
<filter id="fmot" x="0" y="0" width="100%" height="100%">
 <feTurbulence type="fractalNoise" baseFrequency="0.12" numOctaves="2" seed="8" result="n"/>
 <feColorMatrix in="n" type="matrix" values="0 0 0 0 0.35  0 0 0 0 0.05  0 0 0 0 0.75  -4 0 0 0 2.3"/>
 <feComposite in2="SourceGraphic" operator="in"/>
</filter>
</defs>
<rect x="1803.4" y="9.0" width="65.2" height="60.6" fill="#06032a"/>
<rect x="1803.4" y="9.0" width="65.2" height="60.6" fill="#fff" filter="url(#fmot)" opacity="0.12"/>
<clipPath id="ft00"><rect x="1803.4" y="9.0" width="65.2" height="60.6"/></clipPath><g clip-path="url(#ft00)">
<circle cx="1836.0" cy="43.3" r="13" fill="url(#gOr)"/>
</g>
<text x="1804.4" y="26.0" font-size="17.5" fill="#fff" textLength="31" lengthAdjust="spacingAndGlyphs">-5 s</text>
<rect x="1803.4" y="72.2" width="65.2" height="60.3" fill="#06032a"/>
<rect x="1803.4" y="72.2" width="65.2" height="60.3" fill="#fff" filter="url(#fmot)" opacity="0.12"/>
<clipPath id="ft01"><rect x="1803.4" y="72.2" width="65.2" height="60.3"/></clipPath><g clip-path="url(#ft01)">
<circle cx="1836.0" cy="106.3" r="11" fill="url(#gPu)"/>
</g>
<text x="1804.4" y="89.2" font-size="17.5" fill="#fff" textLength="28" lengthAdjust="spacingAndGlyphs">0 s</text>
<rect x="1803.4" y="135.6" width="65.2" height="60.6" fill="#06032a"/>
<rect x="1803.4" y="135.6" width="65.2" height="60.6" fill="#fff" filter="url(#fmot)" opacity="0.12"/>
<clipPath id="ft02"><rect x="1803.4" y="135.6" width="65.2" height="60.6"/></clipPath><g clip-path="url(#ft02)">
<circle cx="1836.0" cy="168.9" r="12" fill="url(#gRd)"/>
</g>
<text x="1804.4" y="152.6" font-size="17.5" fill="#fff" textLength="48" lengthAdjust="spacingAndGlyphs">150 s</text>
<rect x="1803.4" y="199.5" width="65.2" height="60.5" fill="#06032a"/>
<rect x="1803.4" y="199.5" width="65.2" height="60.5" fill="#fff" filter="url(#fmot)" opacity="0.12"/>
<clipPath id="ft03"><rect x="1803.4" y="199.5" width="65.2" height="60.5"/></clipPath><g clip-path="url(#ft03)">
<circle cx="1836.0" cy="232.8" r="12" fill="url(#gRd)"/>
</g>
<text x="1804.4" y="216.5" font-size="17.5" fill="#fff" textLength="48" lengthAdjust="spacingAndGlyphs">300 s</text>
<circle cx="1836.5" cy="43.4" r="18.4" fill="none" stroke="#2fb2e6" stroke-width="3"/>
<line x1="1871.8" y1="250.5" x2="1871.8" y2="260.0" stroke="#111" stroke-width="2.6"/>
<rect x="1803.4" y="266.5" width="65.2" height="61.5" fill="#07032b"/>
<rect x="1803.4" y="266.5" width="65.2" height="61.5" fill="#fff" filter="url(#fmot)" opacity="0.12"/>
<clipPath id="ft10"><rect x="1803.4" y="266.5" width="65.2" height="61.5"/></clipPath><g clip-path="url(#ft10)">
<circle cx="1837.0" cy="300.2" r="12" fill="url(#gYe)"/>
</g>
<text x="1804.4" y="283.5" font-size="17.5" fill="#fff" textLength="31" lengthAdjust="spacingAndGlyphs">-5 s</text>
<rect x="1803.4" y="331.1" width="65.2" height="60.5" fill="#07032b"/>
<rect x="1803.4" y="331.1" width="65.2" height="60.5" fill="#fff" filter="url(#fmot)" opacity="0.12"/>
<clipPath id="ft11"><rect x="1803.4" y="331.1" width="65.2" height="60.5"/></clipPath><g clip-path="url(#ft11)">
<circle cx="1836.0" cy="364.4" r="7" fill="url(#gDm)"/>
</g>
<text x="1804.4" y="348.1" font-size="17.5" fill="#fff" textLength="28" lengthAdjust="spacingAndGlyphs">0 s</text>
<rect x="1803.4" y="395.0" width="65.2" height="61.1" fill="#07032b"/>
<rect x="1803.4" y="395.0" width="65.2" height="61.1" fill="#fff" filter="url(#fmot)" opacity="0.12"/>
<clipPath id="ft12"><rect x="1803.4" y="395.0" width="65.2" height="61.1"/></clipPath><g clip-path="url(#ft12)">
<circle cx="1836.0" cy="429.6" r="10" fill="url(#gMg)"/>
</g>
<text x="1804.4" y="412.0" font-size="17.5" fill="#fff" textLength="48" lengthAdjust="spacingAndGlyphs">150 s</text>
<rect x="1803.4" y="459.2" width="65.2" height="61.4" fill="#07032b"/>
<rect x="1803.4" y="459.2" width="65.2" height="61.4" fill="#fff" filter="url(#fmot)" opacity="0.12"/>
<clipPath id="ft13"><rect x="1803.4" y="459.2" width="65.2" height="61.4"/></clipPath><g clip-path="url(#ft13)">
<circle cx="1837.0" cy="492.9" r="10" fill="url(#gMg)"/>
</g>
<text x="1804.4" y="476.2" font-size="17.5" fill="#fff" textLength="48" lengthAdjust="spacingAndGlyphs">300 s</text>
<circle cx="1839.6" cy="299.2" r="18.3" fill="none" stroke="#2fb2e6" stroke-width="3"/>
<line x1="1871.8" y1="505.0" x2="1871.8" y2="518.0" stroke="#111" stroke-width="2.6"/>
<rect x="1803.4" y="526.6" width="64.8" height="57.7" fill="#070330"/>
<rect x="1803.4" y="526.6" width="64.8" height="57.7" fill="#fff" filter="url(#fmot)" opacity="0.12"/>
<clipPath id="ft20"><rect x="1803.4" y="526.6" width="64.8" height="57.7"/></clipPath><g clip-path="url(#ft20)">
<circle cx="1838.8" cy="554.5" r="12" fill="url(#gYe)"/>
</g>
<text x="1804.4" y="543.6" font-size="17.5" fill="#fff" textLength="31" lengthAdjust="spacingAndGlyphs">-5 s</text>
<rect x="1803.4" y="586.9" width="64.8" height="57.7" fill="#070330"/>
<rect x="1803.4" y="586.9" width="64.8" height="57.7" fill="#fff" filter="url(#fmot)" opacity="0.12"/>
<clipPath id="ft21"><rect x="1803.4" y="586.9" width="64.8" height="57.7"/></clipPath><g clip-path="url(#ft21)">
<circle cx="1836.8" cy="610.8" r="8" fill="url(#gDb)"/>
</g>
<text x="1804.4" y="603.9" font-size="17.5" fill="#fff" textLength="28" lengthAdjust="spacingAndGlyphs">0 s</text>
<rect x="1803.4" y="648.6" width="64.8" height="58.2" fill="#070330"/>
<rect x="1803.4" y="648.6" width="64.8" height="58.2" fill="#fff" filter="url(#fmot)" opacity="0.12"/>
<clipPath id="ft22"><rect x="1803.4" y="648.6" width="64.8" height="58.2"/></clipPath><g clip-path="url(#ft22)">
<circle cx="1837.8" cy="681.7" r="11" fill="url(#gRd)"/>
</g>
<text x="1804.4" y="665.6" font-size="17.5" fill="#fff" textLength="48" lengthAdjust="spacingAndGlyphs">150 s</text>
<rect x="1803.4" y="709.4" width="64.8" height="58.6" fill="#070330"/>
<rect x="1803.4" y="709.4" width="64.8" height="58.6" fill="#fff" filter="url(#fmot)" opacity="0.12"/>
<clipPath id="ft23"><rect x="1803.4" y="709.4" width="64.8" height="58.6"/></clipPath><g clip-path="url(#ft23)">
<circle cx="1840.8" cy="742.7" r="11" fill="url(#gOr)"/>
</g>
<text x="1804.4" y="726.4" font-size="17.5" fill="#fff" textLength="48" lengthAdjust="spacingAndGlyphs">300 s</text>
<circle cx="1837.5" cy="551.5" r="17.5" fill="none" stroke="#2fb2e6" stroke-width="3"/>
<line x1="1871.8" y1="748.0" x2="1871.8" y2="768.0" stroke="#111" stroke-width="2.6"/>
<rect x="1803.4" y="775.8" width="57.7" height="56.5" fill="#2a0a78"/>
<rect x="1803.4" y="775.8" width="57.7" height="56.5" fill="#fff" filter="url(#fmot)" opacity="0.6"/>
<clipPath id="ft30"><rect x="1803.4" y="775.8" width="57.7" height="56.5"/></clipPath><g clip-path="url(#ft30)">
<circle cx="1834.2" cy="801.0" r="11" fill="url(#gYe)"/>
</g>
<text x="1804.4" y="792.8" font-size="17.5" fill="#fff" textLength="31" lengthAdjust="spacingAndGlyphs">-5 s</text>
<rect x="1803.4" y="837.0" width="57.7" height="55.6" fill="#2a0a78"/>
<rect x="1803.4" y="837.0" width="57.7" height="55.6" fill="#fff" filter="url(#fmot)" opacity="0.6"/>
<clipPath id="ft31"><rect x="1803.4" y="837.0" width="57.7" height="55.6"/></clipPath><g clip-path="url(#ft31)">
<circle cx="1834.2" cy="861.8" r="9" fill="url(#gMg)"/>
</g>
<text x="1804.4" y="854.0" font-size="17.5" fill="#fff" textLength="28" lengthAdjust="spacingAndGlyphs">0 s</text>
<rect x="1803.4" y="897.9" width="57.7" height="56.4" fill="#2a0a78"/>
<rect x="1803.4" y="897.9" width="57.7" height="56.4" fill="#fff" filter="url(#fmot)" opacity="0.6"/>
<clipPath id="ft32"><rect x="1803.4" y="897.9" width="57.7" height="56.4"/></clipPath><g clip-path="url(#ft32)">
<circle cx="1834.2" cy="933.1" r="8" fill="url(#gOr)"/>
</g>
<text x="1804.4" y="914.9" font-size="17.5" fill="#fff" textLength="48" lengthAdjust="spacingAndGlyphs">150 s</text>
<rect x="1803.4" y="958.7" width="57.7" height="56.7" fill="#2a0a78"/>
<rect x="1803.4" y="958.7" width="57.7" height="56.7" fill="#fff" filter="url(#fmot)" opacity="0.6"/>
<clipPath id="ft33"><rect x="1803.4" y="958.7" width="57.7" height="56.7"/></clipPath><g clip-path="url(#ft33)">
<circle cx="1831.2" cy="993.0" r="11" fill="url(#gYe)"/>
</g>
<text x="1804.4" y="975.7" font-size="17.5" fill="#fff" textLength="48" lengthAdjust="spacingAndGlyphs">300 s</text>
<circle cx="1836.5" cy="805.5" r="16.5" fill="none" stroke="#2fb2e6" stroke-width="3"/>
<line x1="1865.2" y1="996.0" x2="1865.2" y2="1015.0" stroke="#111" stroke-width="2.6"/>
<rect x="1803.4" y="1032.6" width="64.8" height="58.2" fill="#06032c"/>
<rect x="1803.4" y="1032.6" width="64.8" height="58.2" fill="#fff" filter="url(#fmot)" opacity="0.12"/>
<clipPath id="ft40"><rect x="1803.4" y="1032.6" width="64.8" height="58.2"/></clipPath><g clip-path="url(#ft40)">
<circle cx="1838.8" cy="1051.7" r="7" fill="url(#gYe)"/>
<circle cx="1835.8" cy="1064.7" r="6" fill="url(#gOr)"/><circle cx="1858.8" cy="1038.7" r="6" fill="url(#gMg)"/>
</g>
<text x="1804.4" y="1049.6" font-size="17.5" fill="#fff" textLength="31" lengthAdjust="spacingAndGlyphs">-5 s</text>
<rect x="1803.4" y="1094.8" width="64.8" height="57.7" fill="#06032c"/>
<rect x="1803.4" y="1094.8" width="64.8" height="57.7" fill="#fff" filter="url(#fmot)" opacity="0.12"/>
<clipPath id="ft41"><rect x="1803.4" y="1094.8" width="64.8" height="57.7"/></clipPath><g clip-path="url(#ft41)">
<circle cx="1836.8" cy="1117.7" r="6" fill="url(#gDm)"/>
</g>
<text x="1804.4" y="1111.8" font-size="17.5" fill="#fff" textLength="28" lengthAdjust="spacingAndGlyphs">0 s</text>
<rect x="1803.4" y="1157.0" width="64.8" height="57.7" fill="#06032c"/>
<rect x="1803.4" y="1157.0" width="64.8" height="57.7" fill="#fff" filter="url(#fmot)" opacity="0.12"/>
<clipPath id="ft42"><rect x="1803.4" y="1157.0" width="64.8" height="57.7"/></clipPath><g clip-path="url(#ft42)">
<circle cx="1836.8" cy="1180.8" r="6" fill="url(#gDm)"/>
</g>
<text x="1804.4" y="1174.0" font-size="17.5" fill="#fff" textLength="48" lengthAdjust="spacingAndGlyphs">150 s</text>
<rect x="1803.4" y="1218.9" width="64.8" height="57.7" fill="#06032c"/>
<rect x="1803.4" y="1218.9" width="64.8" height="57.7" fill="#fff" filter="url(#fmot)" opacity="0.12"/>
<clipPath id="ft43"><rect x="1803.4" y="1218.9" width="64.8" height="57.7"/></clipPath><g clip-path="url(#ft43)">
<circle cx="1836.8" cy="1244.8" r="6" fill="url(#gDm)"/>
</g>
<text x="1804.4" y="1235.9" font-size="17.5" fill="#fff" textLength="48" lengthAdjust="spacingAndGlyphs">300 s</text>
<circle cx="1835.5" cy="1062.5" r="18.5" fill="none" stroke="#2fb2e6" stroke-width="3"/>
<line x1="1871.8" y1="1257.5" x2="1871.8" y2="1276.0" stroke="#111" stroke-width="2.6"/>
<polygon points="1539.7,253.2 1543.6,183.7 1547.6,146.9 1552.8,118.1 1558.1,99.7 1563.3,86.6 1571.2,78.7 1579.1,73.5 1586.9,68.2 1597.4,60.4 1607.9,55.1 1618.4,49.9 1628.9,42.0 1639.4,36.7 1649.9,34.1 1663.0,36.7 1676.2,31.5 1689.3,39.4 1702.4,28.9 1715.5,26.2 1728.6,26.2 1741.8,23.6 1754.9,24.9 1768.0,21.0 1781.1,26.2 1782.4,26.2 1782.4,102.3 1781.1,102.3 1775.9,105.0 1768.0,110.2 1754.9,103.6 1741.8,99.7 1728.6,94.5 1715.5,89.2 1707.6,91.8 1702.4,97.1 1697.2,86.6 1689.3,91.8 1676.2,94.5 1663.0,99.7 1649.9,99.7 1639.4,110.2 1628.9,97.1 1618.4,97.1 1607.9,102.3 1597.4,105.0 1586.9,115.5 1579.1,126.0 1571.2,139.1 1563.3,157.4 1558.1,173.2 1552.8,199.4 1547.6,225.7 1543.6,241.4 1539.7,253.2" fill="#b4f0b4"/>
<polyline points="1536.6,41.2 1538.4,131.2 1540.2,253.2 1542.9,223.0 1545.0,202.0 1547.6,183.7 1550.2,167.9 1553.4,152.2 1556.8,139.1 1560.7,128.6 1566.0,118.1 1571.2,110.2 1576.4,103.6 1581.7,101.0 1585.6,91.8 1590.9,84.0 1596.1,78.7 1600.1,77.4 1605.3,80.0 1610.6,81.3 1614.5,82.7 1618.4,77.4 1623.7,74.8 1628.9,74.0 1632.9,73.5 1636.8,72.2 1642.0,70.8 1646.0,73.5 1649.9,70.8 1655.2,68.2 1660.4,65.6 1665.7,61.7 1670.9,60.4 1676.2,61.7 1681.4,60.9 1686.7,60.4 1691.9,61.1 1697.2,63.0 1702.4,68.2 1706.3,65.6 1710.3,61.7 1714.2,60.4 1718.1,60.4 1722.1,60.4 1726.0,59.0 1728.6,57.2 1731.3,63.0 1735.2,63.0 1739.1,63.0 1744.4,64.3 1748.3,63.0 1752.3,65.6 1757.5,68.2 1762.7,66.9 1768.0,66.9 1773.2,66.9 1778.5,66.4 1782.4,66.9" fill="none" stroke="#1aa01a" stroke-width="2.3" stroke-linejoin="round" stroke-linecap="round"/>
<line x1="1532.4" y1="18.4" x2="1532.4" y2="255.0" stroke="#111" stroke-width="2.6"/>
<line x1="1524.4" y1="41.2" x2="1532.4" y2="41.2" stroke="#111" stroke-width="2.6"/>
<line x1="1524.4" y1="253.5" x2="1789.9" y2="253.5" stroke="#111" stroke-width="2.6"/>
<text transform="translate(1519.0 48.2) scale(1.08 1)" font-size="19.5" text-anchor="end" fill="#111">100</text>
<text transform="translate(1521.0 261.0) scale(1.08 1)" font-size="19.5" text-anchor="end" fill="#111">0</text>
<line x1="1539.2" y1="253.5" x2="1539.2" y2="261.5" stroke="#111" stroke-width="2.6"/>
<line x1="1622.4" y1="253.5" x2="1622.4" y2="261.5" stroke="#111" stroke-width="2.6"/>
<line x1="1704.5" y1="253.5" x2="1704.5" y2="261.5" stroke="#111" stroke-width="2.6"/>
<line x1="1786.9" y1="253.5" x2="1786.9" y2="261.5" stroke="#111" stroke-width="2.6"/>
<text x="1484.5" y="140.8" font-size="24.5" text-anchor="middle" fill="#111" transform="rotate(-90 1484.5 140.8)">Intensity (%)</text>
<text x="1794.0" y="246.6" font-size="20.5" text-anchor="end" fill="#28b028">n = 7</text>
<polygon points="1537.6,509.1 1545.0,477.6 1552.8,467.1 1560.7,461.8 1571.2,451.3 1581.7,443.5 1592.2,433.0 1602.7,430.3 1613.2,422.5 1623.7,417.2 1634.2,412.0 1644.7,409.3 1655.2,406.7 1665.7,401.5 1676.2,401.5 1686.7,398.8 1697.2,396.2 1707.6,393.6 1718.1,391.0 1728.6,388.3 1739.1,383.1 1749.6,377.9 1760.1,375.2 1770.6,372.6 1781.1,375.2 1781.1,417.2 1770.6,419.8 1760.1,414.6 1749.6,417.2 1739.1,419.8 1728.6,425.1 1718.1,430.3 1707.6,435.6 1697.2,438.2 1686.7,440.8 1676.2,443.5 1665.7,451.3 1655.2,453.9 1644.7,459.2 1634.2,461.8 1623.7,467.1 1613.2,472.3 1602.7,472.3 1592.2,477.6 1581.7,480.2 1571.2,488.1 1560.7,493.3 1552.8,501.2 1545.0,507.7 1537.6,509.1" fill="#b4f0b4"/>
<polyline points="1533.7,297.3 1535.8,393.6 1537.6,509.1 1541.0,498.6 1545.0,490.7 1550.2,482.8 1555.5,477.6 1560.7,472.3 1564.6,469.7 1568.6,464.4 1572.5,461.8 1575.1,456.6 1577.8,464.4 1581.7,456.6 1586.9,451.3 1592.2,446.1 1597.4,446.1 1602.7,450.0 1607.9,446.1 1613.2,440.8 1618.4,443.5 1622.4,438.2 1626.3,435.6 1631.6,433.0 1635.5,431.6 1639.4,438.2 1644.7,433.0 1649.9,430.3 1655.2,426.4 1660.4,425.1 1665.7,422.5 1670.9,419.8 1676.2,419.8 1681.4,417.2 1686.7,417.2 1691.9,414.6 1697.2,417.2 1702.4,414.6 1706.3,409.3 1710.3,409.3 1715.5,410.7 1720.8,409.3 1726.0,409.3 1731.3,405.4 1736.5,401.5 1741.8,398.8 1745.7,401.5 1749.6,396.2 1754.9,398.8 1758.8,394.9 1762.7,398.8 1766.7,394.9 1769.3,393.6 1771.9,406.7 1774.6,401.5 1778.5,396.2 1781.1,394.9" fill="none" stroke="#1aa01a" stroke-width="2.3" stroke-linejoin="round" stroke-linecap="round"/>
<line x1="1530.0" y1="274.2" x2="1530.0" y2="510.5" stroke="#111" stroke-width="2.6"/>
<line x1="1522.0" y1="297.3" x2="1530.0" y2="297.3" stroke="#111" stroke-width="2.6"/>
<line x1="1522.0" y1="509.0" x2="1787.5" y2="509.0" stroke="#111" stroke-width="2.6"/>
<text transform="translate(1519.0 304.3) scale(1.08 1)" font-size="19.5" text-anchor="end" fill="#111">100</text>
<text transform="translate(1521.0 516.5) scale(1.08 1)" font-size="19.5" text-anchor="end" fill="#111">0</text>
<line x1="1537.9" y1="509.0" x2="1537.9" y2="517.0" stroke="#111" stroke-width="2.6"/>
<line x1="1620.0" y1="509.0" x2="1620.0" y2="517.0" stroke="#111" stroke-width="2.6"/>
<line x1="1701.9" y1="509.0" x2="1701.9" y2="517.0" stroke="#111" stroke-width="2.6"/>
<line x1="1784.5" y1="509.0" x2="1784.5" y2="517.0" stroke="#111" stroke-width="2.6"/>
<text x="1484.5" y="396.6" font-size="24.5" text-anchor="middle" fill="#111" transform="rotate(-90 1484.5 396.6)">Intensity (%)</text>
<text x="1794.0" y="502.5" font-size="20.5" text-anchor="end" fill="#28b028">n = 15</text>
<polygon points="1540.5,765.3 1545.0,735.2 1550.2,719.4 1558.1,703.7 1566.0,690.6 1576.4,677.4 1586.9,669.6 1597.4,661.7 1607.9,656.4 1618.4,651.2 1628.9,646.0 1639.4,640.7 1649.9,635.5 1660.4,630.2 1670.9,625.0 1681.4,619.7 1691.9,606.6 1697.2,598.7 1702.4,601.3 1715.5,601.3 1728.6,596.1 1741.8,590.8 1754.9,583.0 1768.0,577.7 1781.1,575.1 1781.1,648.6 1768.0,651.2 1754.9,653.8 1741.8,656.4 1728.6,660.4 1715.5,664.3 1702.4,668.3 1691.9,672.2 1681.4,674.8 1670.9,677.4 1660.4,680.1 1649.9,682.7 1639.4,685.3 1628.9,690.6 1618.4,695.8 1607.9,701.1 1597.4,706.3 1586.9,714.2 1576.4,722.0 1566.0,729.9 1558.1,737.8 1550.2,745.7 1545.0,756.2 1540.5,765.3" fill="#b4f0b4"/>
<polyline points="1536.3,553.6 1538.4,651.2 1540.5,765.3 1542.9,750.9 1546.3,737.8 1550.2,727.3 1555.5,719.4 1560.7,711.6 1566.0,706.3 1571.2,701.1 1576.4,695.8 1581.7,693.2 1586.9,690.6 1592.2,687.9 1597.4,682.7 1602.7,680.1 1607.9,677.4 1613.2,674.8 1618.4,672.2 1623.7,669.6 1628.9,668.3 1634.2,665.6 1639.4,663.0 1644.7,660.4 1649.9,657.8 1655.2,656.4 1660.4,655.1 1665.7,652.5 1670.9,649.9 1676.2,647.3 1681.4,646.0 1686.7,642.0 1691.9,638.1 1697.2,635.5 1702.4,632.8 1707.6,633.4 1712.9,631.5 1718.1,630.2 1723.4,628.9 1728.6,627.6 1733.9,626.3 1739.1,625.0 1744.4,622.3 1749.6,621.0 1754.9,618.4 1760.1,617.1 1765.4,614.5 1770.6,613.2 1775.9,610.5 1781.1,611.8" fill="none" stroke="#1aa01a" stroke-width="2.3" stroke-linejoin="round" stroke-linecap="round"/>
<line x1="1532.4" y1="530.5" x2="1532.4" y2="767.4" stroke="#111" stroke-width="2.6"/>
<line x1="1524.4" y1="553.6" x2="1532.4" y2="553.6" stroke="#111" stroke-width="2.6"/>
<line x1="1524.4" y1="765.9" x2="1790.7" y2="765.9" stroke="#111" stroke-width="2.6"/>
<text transform="translate(1519.0 560.6) scale(1.08 1)" font-size="19.5" text-anchor="end" fill="#111">100</text>
<text transform="translate(1521.0 773.4) scale(1.08 1)" font-size="19.5" text-anchor="end" fill="#111">0</text>
<line x1="1539.7" y1="765.9" x2="1539.7" y2="773.9" stroke="#111" stroke-width="2.6"/>
<line x1="1622.9" y1="765.9" x2="1622.9" y2="773.9" stroke="#111" stroke-width="2.6"/>
<line x1="1704.5" y1="765.9" x2="1704.5" y2="773.9" stroke="#111" stroke-width="2.6"/>
<line x1="1787.7" y1="765.9" x2="1787.7" y2="773.9" stroke="#111" stroke-width="2.6"/>
<text x="1484.5" y="653.2" font-size="24.5" text-anchor="middle" fill="#111" transform="rotate(-90 1484.5 653.2)">Intensity (%)</text>
<text x="1794.0" y="760.9" font-size="20.5" text-anchor="end" fill="#28b028">n = 12</text>
<polygon points="1542.3,1023.8 1550.2,966.1 1558.1,934.6 1566.0,900.5 1568.6,876.9 1573.8,869.0 1581.7,874.2 1589.6,866.4 1597.4,861.1 1605.3,858.5 1613.2,850.6 1621.1,834.9 1626.3,848.0 1634.2,853.2 1644.7,855.9 1649.9,850.6 1657.8,855.9 1665.7,850.6 1670.9,832.3 1681.4,824.4 1689.3,808.6 1697.2,798.1 1702.4,790.3 1715.5,790.3 1728.6,790.3 1741.8,790.3 1749.6,790.3 1750.9,803.4 1754.9,790.3 1768.0,790.3 1778.5,798.1 1783.7,803.4 1785.8,803.4 1785.8,887.4 1778.5,892.6 1770.6,897.9 1762.7,900.5 1754.9,905.7 1749.6,913.6 1741.8,903.1 1731.3,908.3 1723.4,911.0 1715.5,918.8 1707.6,905.7 1697.2,897.9 1686.7,895.2 1676.2,887.4 1665.7,890.0 1655.2,897.9 1644.7,895.2 1634.2,897.9 1623.7,892.6 1613.2,903.1 1605.3,913.6 1597.4,926.7 1589.6,934.6 1581.7,945.1 1573.8,939.8 1566.0,950.3 1558.1,966.1 1550.2,987.1 1542.3,1023.8" fill="#b4f0b4"/>
<polyline points="1538.4,811.8 1540.2,913.6 1542.3,1023.8 1545.0,1005.4 1548.1,989.7 1551.5,976.6 1555.5,966.1 1559.4,953.0 1562.0,943.8 1564.6,942.5 1567.3,921.5 1571.2,911.0 1575.1,903.1 1579.1,905.7 1583.0,905.7 1586.9,905.7 1590.9,890.0 1594.8,895.2 1598.8,892.6 1601.4,884.7 1604.0,876.9 1607.4,878.2 1610.6,871.6 1613.2,869.0 1616.3,875.5 1620.5,861.1 1623.7,866.4 1627.6,871.6 1631.6,875.5 1635.5,878.2 1638.1,875.5 1641.5,882.1 1644.7,875.5 1648.6,876.9 1652.5,879.5 1656.5,869.0 1660.4,868.5 1664.4,867.7 1668.3,861.1 1673.5,863.7 1677.5,861.1 1681.4,855.9 1685.3,866.4 1689.3,865.8 1693.2,855.9 1697.2,858.5 1702.4,853.2 1706.3,848.0 1710.3,850.6 1715.5,848.0 1720.8,850.6 1724.7,853.2 1728.6,855.9 1732.6,850.6 1736.5,845.4 1741.8,845.4 1745.7,845.4 1748.3,858.5 1752.3,857.2 1756.2,848.0 1760.1,841.4 1764.1,845.4 1768.0,833.6 1771.9,834.9 1775.9,838.8 1779.8,849.3 1783.7,845.4 1785.8,845.4" fill="none" stroke="#1aa01a" stroke-width="2.3" stroke-linejoin="round" stroke-linecap="round"/>
<line x1="1534.5" y1="789.0" x2="1534.5" y2="1025.3" stroke="#111" stroke-width="2.6"/>
<line x1="1526.5" y1="811.8" x2="1534.5" y2="811.8" stroke="#111" stroke-width="2.6"/>
<line x1="1526.5" y1="1023.8" x2="1792.5" y2="1023.8" stroke="#111" stroke-width="2.6"/>
<text transform="translate(1519.0 818.8) scale(1.08 1)" font-size="19.5" text-anchor="end" fill="#111">100</text>
<text transform="translate(1521.0 1031.3) scale(1.08 1)" font-size="19.5" text-anchor="end" fill="#111">0</text>
<line x1="1542.3" y1="1023.8" x2="1542.3" y2="1031.8" stroke="#111" stroke-width="2.6"/>
<line x1="1624.5" y1="1023.8" x2="1624.5" y2="1031.8" stroke="#111" stroke-width="2.6"/>
<line x1="1707.1" y1="1023.8" x2="1707.1" y2="1031.8" stroke="#111" stroke-width="2.6"/>
<line x1="1789.5" y1="1023.8" x2="1789.5" y2="1031.8" stroke="#111" stroke-width="2.6"/>
<text x="1484.5" y="911.3" font-size="24.5" text-anchor="middle" fill="#111" transform="rotate(-90 1484.5 911.3)">Intensity (%)</text>
<text x="1794.0" y="1018.6" font-size="20.5" text-anchor="end" fill="#28b028">n = 4</text>
<polygon points="1545.0,1275.8 1548.9,1252.2 1552.8,1254.8 1560.7,1258.8 1568.6,1261.4 1576.4,1264.0 1581.7,1261.4 1589.6,1260.1 1597.4,1257.5 1605.3,1256.2 1613.2,1262.7 1621.1,1260.1 1628.9,1258.8 1635.5,1257.5 1642.0,1253.5 1649.9,1248.3 1657.8,1245.7 1665.7,1248.3 1670.9,1243.0 1674.8,1229.9 1677.5,1235.2 1680.1,1248.3 1686.7,1250.9 1697.2,1252.2 1707.6,1256.2 1715.5,1252.2 1723.4,1253.5 1731.3,1253.5 1739.1,1250.9 1747.0,1245.7 1754.9,1250.9 1765.4,1248.3 1773.2,1250.9 1781.1,1247.0 1787.7,1250.9 1787.7,1271.9 1775.9,1271.9 1765.4,1273.2 1754.9,1271.9 1744.4,1270.6 1733.9,1271.9 1723.4,1270.6 1712.9,1271.9 1702.4,1273.2 1691.9,1271.9 1681.4,1269.3 1670.9,1266.7 1660.4,1268.0 1649.9,1270.6 1639.4,1273.2 1628.9,1276.6 1618.4,1274.5 1607.9,1276.6 1597.4,1276.6 1586.9,1276.6 1576.4,1275.8 1568.6,1272.4 1560.7,1271.9 1552.8,1273.2 1545.0,1275.8" fill="#d2d2d2"/>
<polyline points="1541.0,1064.6 1542.9,1177.4 1545.0,1275.8 1547.6,1264.0 1555.5,1264.0 1563.3,1265.3 1569.9,1265.3 1573.8,1269.3 1577.8,1273.2 1581.7,1276.6 1586.9,1275.8 1592.2,1274.5 1597.4,1274.0 1602.7,1276.6 1607.9,1275.8 1613.2,1271.9 1618.4,1266.7 1622.4,1271.4 1626.3,1275.8 1628.9,1271.9 1632.9,1274.5 1636.8,1269.3 1642.0,1266.7 1647.3,1262.7 1651.2,1260.1 1655.2,1258.8 1659.1,1260.1 1663.0,1257.5 1667.0,1258.8 1670.9,1254.8 1674.8,1258.8 1677.5,1252.2 1681.4,1257.5 1686.7,1258.8 1691.9,1261.4 1695.8,1266.7 1699.8,1264.0 1703.7,1265.3 1707.6,1268.0 1711.6,1262.7 1715.5,1261.4 1720.8,1262.7 1724.7,1260.1 1728.6,1261.4 1732.6,1265.3 1736.5,1269.3 1740.4,1266.7 1744.4,1260.1 1747.0,1257.5 1750.9,1260.1 1754.9,1264.0 1758.8,1262.7 1762.7,1269.3 1766.7,1264.0 1770.6,1265.3 1774.6,1264.0 1778.5,1268.0 1782.4,1269.3 1786.4,1264.0 1787.7,1264.0" fill="none" stroke="#222" stroke-width="2.3" stroke-linejoin="round" stroke-linecap="round"/>
<line x1="1537.1" y1="1042.3" x2="1537.1" y2="1278.1" stroke="#111" stroke-width="2.6"/>
<line x1="1529.1" y1="1065.1" x2="1537.1" y2="1065.1" stroke="#111" stroke-width="2.6"/>
<line x1="1529.1" y1="1276.6" x2="1794.1" y2="1276.6" stroke="#111" stroke-width="2.6"/>
<text transform="translate(1519.0 1072.1) scale(1.08 1)" font-size="19.5" text-anchor="end" fill="#111">100</text>
<text transform="translate(1521.0 1284.1) scale(1.08 1)" font-size="19.5" text-anchor="end" fill="#111">0</text>
<line x1="1545.0" y1="1276.6" x2="1545.0" y2="1284.6" stroke="#111" stroke-width="2.6"/>
<line x1="1626.8" y1="1276.6" x2="1626.8" y2="1284.6" stroke="#111" stroke-width="2.6"/>
<line x1="1709.0" y1="1276.6" x2="1709.0" y2="1284.6" stroke="#111" stroke-width="2.6"/>
<line x1="1791.1" y1="1276.6" x2="1791.1" y2="1284.6" stroke="#111" stroke-width="2.6"/>
<text x="1484.5" y="1164.3" font-size="24.5" text-anchor="middle" fill="#111" transform="rotate(-90 1484.5 1164.3)">Intensity (%)</text>
<text x="1794.0" y="1233.9" font-size="20.5" text-anchor="end" fill="#111">n = 3</text>
<text x="1545.0" y="1306.0" font-size="18.5" text-anchor="middle" fill="#111">0</text>
<text x="1626.8" y="1306.0" font-size="18.5" text-anchor="middle" fill="#111">100</text>
<text x="1709.0" y="1306.0" font-size="18.5" text-anchor="middle" fill="#111">200</text>
<text x="1791.1" y="1306.0" font-size="18.5" text-anchor="middle" fill="#111">300</text>
<text transform="translate(1683.0 1342.0) scale(1.1 1)" font-size="23" text-anchor="middle" fill="#111">Seconds</text>
<text transform="translate(1682.6 1440.0) scale(1.13 1)" font-size="23" text-anchor="middle" fill="#111">n/a</text>
<text transform="translate(1682.6 1693.4) scale(1.13 1)" font-size="23" text-anchor="middle" fill="#111">n/a</text>
<text transform="translate(1682.6 1949.7) scale(1.13 1)" font-size="23" text-anchor="middle" fill="#111">n/a</text>
<clipPath id="eg1"><rect x="544.9" y="2243.4" width="400.6" height="247.3"/></clipPath>
<g clip-path="url(#eg1)"><rect x="544.9" y="2243.4" width="400.6" height="247.3" fill="#fbfbfb"/>
<g transform="translate(540 2238) scale(0.24728)">
<g filter="url(#b8)"><circle cx="295" cy="155" r="12" fill="#bbb"/><circle cx="45" cy="280" r="8" fill="#bbb"/><circle cx="1075" cy="65" r="10" fill="#bbb"/><circle cx="865" cy="620" r="12" fill="#bbb"/><circle cx="1380" cy="540" r="10" fill="#bbb"/><circle cx="1020" cy="335" r="10" fill="#bbb"/><circle cx="935" cy="355" r="8" fill="#bbb"/><circle cx="1190" cy="140" r="8" fill="#bbb"/></g>
<g filter="url(#b8)" opacity="0.55"><path d="M1315 348h0M410 845h0M206 498h0M924 633h0M256 653h0M831 873h0M66 979h0M300 835h0M842 858h0M316 343h0M161 801h0M885 227h0M331 103h0M344 582h0M729 726h0M144 861h0M1611 762h0M1224 872h0M174 483h0M149 804h0M892 128h0M741 799h0M914 143h0M1538 78h0M1386 996h0M1237 968h0M880 241h0M785 760h0M1265 406h0M1555 57h0M823 61h0M600 1011h0M211 1008h0M1486 710h0M111 494h0M1141 117h0M503 114h0M1386 937h0M1516 773h0M952 84h0M800 783h0M1245 49h0M33 110h0M1517 135h0M652 498h0M1452 158h0M444 794h0M159 186h0M61 980h0M398 524h0M634 1004h0M1174 623h0M813 290h0M1380 125h0M1027 317h0M468 476h0M326 614h0M135 41h0M249 112h0M1443 532h0M1120 801h0M288 973h0M643 482h0M811 717h0M1265 216h0M1362 450h0M427 886h0M1433 880h0M544 936h0M1277 992h0M1243 1022h0M794 771h0M1286 546h0M837 422h0M1427 401h0M1229 584h0M1165 331h0M148 697h0M255 382h0M1286 71h0M1496 611h0M929 699h0M112 44h0M1187 609h0M1056 845h0M459 183h0M1590 82h0M855 646h0M1567 109h0M1158 101h0M755 642h0M1395 69h0M1233 171h0M676 1003h0M1398 99h0M27 53h0M1285 60h0M1292 829h0M1345 959h0M1046 847h0M899 690h0M133 573h0M1624 410h0M1178 200h0M800 563h0M1266 344h0M779 212h0M955 962h0M646 681h0M922 218h0M1148 234h0M1014 1016h0M517 691h0M570 666h0M330 523h0M1292 235h0M595 248h0M276 692h0M1367 549h0M744 324h0M408 964h0M797 704h0M472 195h0M35 318h0M699 543h0M1019 713h0M1440 824h0M1133 827h0M898 495h0M1503 916h0M645 889h0M716 774h0M59 617h0M1554 461h0M1431 703h0M53 98h0M556 993h0M1084 620h0M1413 372h0M257 468h0M1491 188h0M818 316h0M599 114h0M1490 278h0M1298 195h0M711 46h0M973 532h0M719 222h0M1054 58h0M1532 505h0M1010 446h0M55 52h0M1196 509h0M470 560h0M1431 532h0M860 606h0M1435 54h0M1095 598h0M1180 187h0M1363 816h0M469 970h0M105 567h0M160 211h0M1054 727h0M796 267h0M903 470h0M641 432h0M769 392h0M218 519h0M480 815h0M1568 767h0M554 499h0M1217 251h0M1315 66h0M1588 579h0M1273 622h0M1396 445h0M167 228h0M1229 1006h0M389 509h0M1285 327h0M402 786h0M209 356h0M983 519h0M1557 506h0M683 209h0M1343 72h0M46 387h0M1324 277h0M778 113h0M473 962h0M1413 118h0M1568 491h0M240 389h0M1578 205h0M1255 958h0M1503 778h0M1516 137h0M1146 984h0M865 37h0M490 464h0M689 746h0M302 29h0M1086 1010h0M803 703h0M1170 693h0M1307 52h0M1159 458h0M646 825h0M230 942h0M1335 856h0M1509 240h0M982 927h0M900 703h0M189 690h0M62 535h0M64 330h0M198 297h0M229 704h0M874 796h0M1334 732h0M998 544h0M1268 454h0M636 419h0M60 231h0M1028 415h0M711 118h0M269 897h0M1317 380h0M1503 594h0M1233 175h0M1570 475h0M243 89h0M122 23h0M1278 816h0M454 317h0M1498 254h0M1479 846h0M683 479h0M675 382h0M1160 701h0M1629 142h0M520 551h0M1302 1015h0M1349 116h0M1256 240h0M718 97h0M64 451h0M1443 312h0M67 712h0M472 108h0M348 905h0M1479 519h0M791 713h0M576 407h0M1284 689h0M1458 592h0M1359 857h0M404 663h0M920 183h0" stroke="#c4c4c4" stroke-width="20" stroke-linecap="round"/></g>
<g filter="url(#b4)"><circle cx="300" cy="45" r="25" fill="#000"/><circle cx="45" cy="95" r="23" fill="#000"/><circle cx="330" cy="245" r="25" fill="#000"/><circle cx="258" cy="345" r="31" fill="#000"/><circle cx="490" cy="345" r="15" fill="#000"/><circle cx="505" cy="415" r="28" fill="#000"/><circle cx="90" cy="460" r="21" fill="#000"/><circle cx="880" cy="50" r="25" fill="#000"/><circle cx="588" cy="85" r="23" fill="#000"/><circle cx="848" cy="240" r="23" fill="#000"/><circle cx="840" cy="305" r="29" fill="#000"/><circle cx="1040" cy="385" r="28" fill="#000"/><circle cx="1020" cy="335" r="15" fill="#000"/><circle cx="628" cy="460" r="21" fill="#000"/><circle cx="1415" cy="45" r="28" fill="#000"/><circle cx="1455" cy="100" r="15" fill="#000"/><circle cx="1115" cy="230" r="18" fill="#000"/><circle cx="1430" cy="272" r="23" fill="#000"/><circle cx="1383" cy="310" r="28" fill="#000"/><circle cx="1510" cy="415" r="17" fill="#000"/><circle cx="1500" cy="475" r="21" fill="#000"/><circle cx="348" cy="545" r="25" fill="#000"/><circle cx="380" cy="598" r="15" fill="#000"/><circle cx="42" cy="720" r="21" fill="#000"/><circle cx="320" cy="830" r="27" fill="#000"/><circle cx="350" cy="800" r="27" fill="#000"/><circle cx="465" cy="915" r="15" fill="#000"/><circle cx="428" cy="938" r="15" fill="#000"/><circle cx="435" cy="985" r="21" fill="#000"/><circle cx="905" cy="545" r="23" fill="#000"/><circle cx="585" cy="718" r="21" fill="#000"/><circle cx="872" cy="790" r="33" fill="#000"/><circle cx="1008" cy="900" r="23" fill="#000"/><circle cx="805" cy="980" r="23" fill="#000"/><circle cx="1155" cy="680" r="21" fill="#000"/><circle cx="1385" cy="750" r="31" fill="#000"/><circle cx="1575" cy="890" r="21" fill="#000"/><circle cx="1370" cy="970" r="23" fill="#000"/></g>
</g></g>
<rect x="544.9" y="2243.4" width="400.6" height="247.3" fill="none" stroke="#1e2a88" stroke-width="2.6"/>
<line x1="678" y1="2243.4" x2="678" y2="2490.7" stroke="#1e2a88" stroke-width="2.6"/>
<line x1="812" y1="2243.4" x2="812" y2="2490.7" stroke="#1e2a88" stroke-width="2.6"/>
<line x1="544.9" y1="2366.6" x2="945.5" y2="2366.6" stroke="#1e2a88" stroke-width="2.6"/>
<text transform="translate(553.5 2264.5) scale(1.1 1)" font-size="18.5" fill="#d84545">0 s</text>
<text transform="translate(693 2264.5) scale(1.1 1)" font-size="18.5" fill="#d84545">5 s</text>
<text transform="translate(821.5 2264.5) scale(1.1 1)" font-size="18.5" fill="#d84545">10 s</text>
<text transform="translate(554.5 2387.5) scale(1.1 1)" font-size="18.5" fill="#d84545">15 s</text>
<text transform="translate(693 2387.5) scale(1.1 1)" font-size="18.5" fill="#d84545">20 s</text>
<text transform="translate(816 2387.5) scale(1.1 1)" font-size="18.5" fill="#d84545">25 s</text>
<polygon points="587.6,2272.2 610.4,2295.5 577.4,2295.5 587.1,2286.2" fill="#e8161e"/>
<polygon points="557.4,2312.3 587.1,2325.2 557.4,2338.5 562.7,2325.4" fill="#e8161e"/>
<clipPath id="eg2"><rect x="1094.7" y="2235.9" width="420.1" height="254.9"/></clipPath>
<g clip-path="url(#eg2)"><rect x="1094.7" y="2235.9" width="420.1" height="254.9" fill="#fbfbfb"/>
<g transform="translate(1090 2232) scale(0.25934)">
<clipPath id="et00"><rect x="18" y="15" width="537" height="493"/></clipPath>
<g clip-path="url(#et00)"><g filter="url(#b8)"><path d="M160,160C173,140 202,120 230,110C258,100 302,95 330,100C358,105 387,123 400,140C413,157 415,178 410,200C405,222 392,250 370,270C348,290 308,317 280,320C252,323 222,305 200,290C178,275 157,252 150,230C143,208 147,180 160,160Z"/><ellipse cx="340" cy="25" rx="85" ry="45" fill="#000"/><circle cx="115" cy="310" r="15" fill="#000"/><ellipse cx="185" cy="365" rx="48" ry="45" fill="#000"/><circle cx="410" cy="345" r="47" fill="#000"/><ellipse cx="310" cy="440" rx="45" ry="42" fill="#000"/><ellipse cx="60" cy="450" rx="90" ry="75" fill="#000" transform="rotate(20 60 450)"/><circle cx="455" cy="45" r="10" fill="#aaa"/></g></g>
<clipPath id="et01"><rect x="555" y="15" width="540" height="493"/></clipPath>
<g clip-path="url(#et01)"><g filter="url(#b8)"><path d="M700,170C715,148 750,112 780,100C810,88 853,92 880,100C907,108 931,128 940,150C949,172 945,207 935,230C925,253 904,275 880,290C856,305 813,307 790,320C767,333 757,360 740,370C723,380 702,385 690,380C678,375 668,355 670,340C672,325 697,308 700,290C703,272 690,250 690,230C690,210 685,192 700,170Z"/><ellipse cx="870" cy="28" rx="85" ry="45" fill="#000"/><circle cx="630" cy="295" r="15" fill="#555"/><ellipse cx="950" cy="345" rx="52" ry="50" fill="#000"/><ellipse cx="830" cy="435" rx="45" ry="36" fill="#000" transform="rotate(-10 830 435)"/><ellipse cx="895" cy="425" rx="30" ry="28" fill="#666"/><ellipse cx="600" cy="450" rx="90" ry="70" fill="#000" transform="rotate(25 600 450)"/><circle cx="665" cy="60" r="12" fill="#888"/><circle cx="985" cy="70" r="10" fill="#aaa"/></g></g>
<clipPath id="et02"><rect x="1095" y="15" width="543" height="493"/></clipPath>
<g clip-path="url(#et02)"><g filter="url(#b8)"><path d="M1240,170C1257,148 1290,112 1320,100C1350,88 1393,92 1420,100C1447,108 1472,128 1480,150C1488,172 1483,207 1470,230C1457,253 1427,275 1400,290C1373,305 1332,305 1310,320C1288,335 1281,375 1270,380C1259,385 1248,365 1245,350C1242,335 1254,310 1250,290C1246,270 1222,250 1220,230C1218,210 1223,192 1240,170Z"/><ellipse cx="1400" cy="28" rx="85" ry="45" fill="#000"/><circle cx="1175" cy="300" r="15" fill="#333"/><ellipse cx="1465" cy="340" rx="50" ry="48" fill="#000"/><circle cx="1370" cy="430" r="42" fill="#000"/><ellipse cx="1150" cy="440" rx="100" ry="60" fill="#000" transform="rotate(35 1150 440)"/><circle cx="1550" cy="75" r="10" fill="#aaa"/></g></g>
<clipPath id="et10"><rect x="18" y="508" width="537" height="490"/></clipPath>
<g clip-path="url(#et10)"><g filter="url(#b8)"><path d="M165,640C180,617 211,591 240,580C269,569 312,568 340,575C368,582 398,601 410,620C422,639 422,667 415,690C408,713 392,742 370,760C348,778 310,795 280,800C250,805 212,803 190,790C168,777 154,745 150,720C146,695 150,663 165,640Z"/><ellipse cx="330" cy="505" rx="85" ry="30" fill="#000"/><circle cx="370" cy="840" r="45" fill="#000"/><circle cx="285" cy="925" r="45" fill="#000"/><ellipse cx="90" cy="960" rx="130" ry="60" fill="#000" transform="rotate(20 90 960)"/><circle cx="485" cy="570" r="10" fill="#aaa"/></g></g>
<clipPath id="et11"><rect x="555" y="508" width="540" height="490"/></clipPath>
<g clip-path="url(#et11)"><g filter="url(#b8)"><path d="M705,640C720,617 751,591 780,580C809,569 852,568 880,575C908,582 937,601 950,620C963,639 967,667 960,690C953,713 933,742 910,760C887,778 850,795 820,800C790,805 752,803 730,790C708,777 694,745 690,720C686,695 690,663 705,640Z"/><ellipse cx="860" cy="505" rx="85" ry="30" fill="#000"/><circle cx="820" cy="925" r="42" fill="#000"/><circle cx="895" cy="860" r="42" fill="#000"/><ellipse cx="620" cy="960" rx="130" ry="60" fill="#000" transform="rotate(20 620 960)"/></g></g>
<clipPath id="et12"><rect x="1095" y="508" width="543" height="490"/></clipPath>
<g clip-path="url(#et12)"><g filter="url(#b8)"><path d="M1245,640C1260,617 1291,591 1320,580C1349,569 1392,568 1420,575C1448,582 1477,601 1490,620C1503,639 1507,667 1500,690C1493,713 1473,742 1450,760C1427,778 1390,795 1360,800C1330,805 1292,803 1270,790C1248,777 1234,745 1230,720C1226,695 1230,663 1245,640Z"/><ellipse cx="1400" cy="505" rx="85" ry="30" fill="#000"/><ellipse cx="1385" cy="885" rx="55" ry="88" fill="#000" transform="rotate(30 1385 885)"/><ellipse cx="1160" cy="960" rx="130" ry="60" fill="#000" transform="rotate(20 1160 960)"/></g></g>
</g></g>
<rect x="1094.7" y="2235.9" width="420.1" height="254.9" fill="none" stroke="#1e2a88" stroke-width="2.6"/>
<line x1="1233.9" y1="2235.9" x2="1233.9" y2="2490.8" stroke="#1e2a88" stroke-width="2.6"/>
<line x1="1374" y1="2235.9" x2="1374" y2="2490.8" stroke="#1e2a88" stroke-width="2.6"/>
<line x1="1094.7" y1="2363.7" x2="1514.8" y2="2363.7" stroke="#1e2a88" stroke-width="2.6"/>
<text transform="translate(1103.5 2256.5) scale(1.1 1)" font-size="18.5" fill="#d84545">0 s</text>
<text transform="translate(1242 2256.5) scale(1.1 1)" font-size="18.5" fill="#d84545">5 s</text>
<text transform="translate(1382 2256.5) scale(1.1 1)" font-size="18.5" fill="#d84545">10 s</text>
<text transform="translate(1104 2384) scale(1.1 1)" font-size="18.5" fill="#d84545">15 s</text>
<text transform="translate(1242 2384) scale(1.1 1)" font-size="18.5" fill="#d84545">20 s</text>
<text transform="translate(1380 2384) scale(1.1 1)" font-size="18.5" fill="#d84545">25 s</text>
<polygon points="1093.9,2268.3 1123.7,2278.7 1093.9,2289.6 1100.9,2278.7" fill="#e8161e"/>
<polygon points="1097.8,2299.9 1117.2,2320.2 1090.0,2321.5 1096.5,2312.4" fill="#e8161e"/>
<polygon points="1233.9,2445.2 1204.1,2457.1 1233.9,2469.3 1228.0,2457.1" fill="#e8161e"/>
<polygon points="1209.3,2471.9 1178.2,2475.3 1202.0,2494.4 1196.3,2478.4" fill="#e8161e"/>
<text x="523.5" y="2365.0" font-size="26" text-anchor="middle" fill="#111" transform="rotate(-90 523.5 2365.0)">GFP-SYD-2</text>
<text x="1073.5" y="2367.0" font-size="25.5" text-anchor="middle" fill="#111" transform="rotate(-90 1073.5 2367.0)">mCherry-ELKS-1</text>
<line x1="915.7" y1="2496.8" x2="944.0" y2="2496.8" stroke="#111" stroke-width="3.2"/>
<line x1="1477.2" y1="2499.6" x2="1514.8" y2="2499.6" stroke="#111" stroke-width="3.2"/>
<text x="-0.5" y="24.5" font-size="30" text-anchor="start" fill="#111" font-weight="bold">a</text>
<text x="489.5" y="24.5" font-size="30" text-anchor="start" fill="#111" font-weight="bold">b</text>
<text x="1071.0" y="24.5" font-size="30" text-anchor="start" fill="#111" font-weight="bold">c</text>
<text x="1449.5" y="24.0" font-size="30" text-anchor="start" fill="#111" font-weight="bold">d</text>
<text x="488.5" y="2243.5" font-size="30" text-anchor="start" fill="#111" font-weight="bold">e</text>
</svg>
</body></html>
